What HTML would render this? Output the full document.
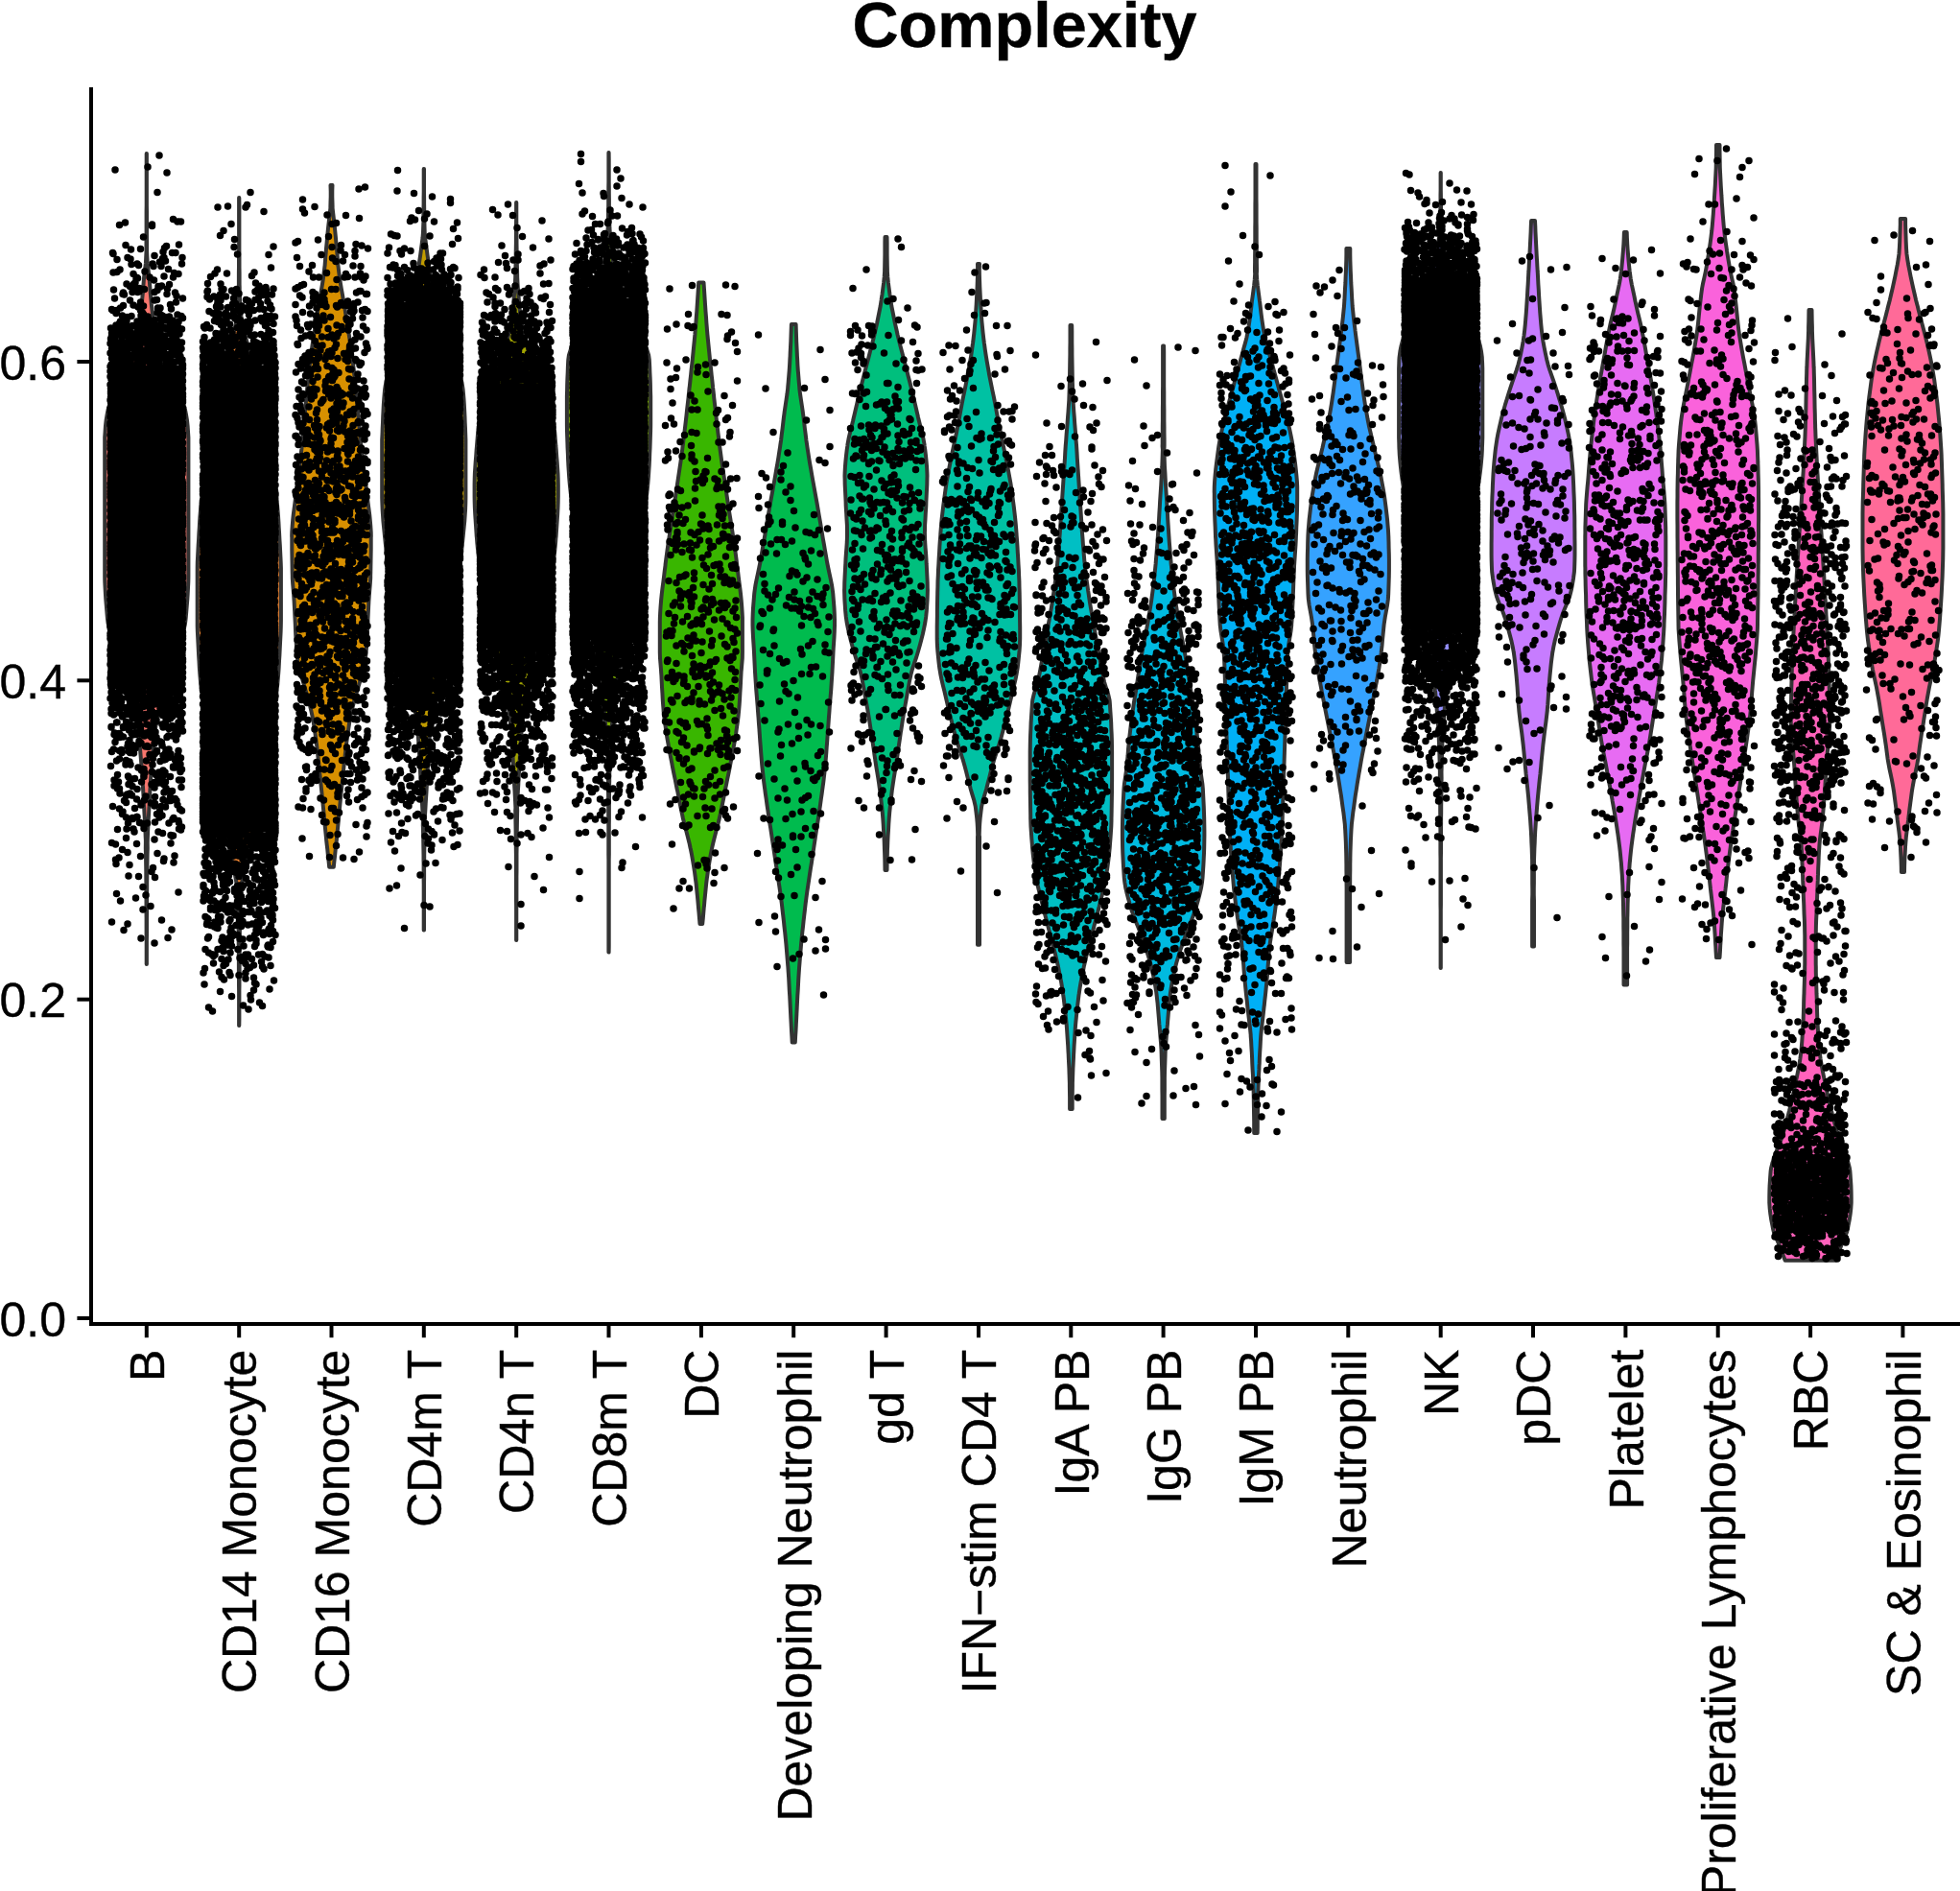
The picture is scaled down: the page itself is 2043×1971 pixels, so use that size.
<!DOCTYPE html>
<html lang="en"><head><meta charset="utf-8"><title>Complexity</title>
<style>html,body{margin:0;padding:0;background:#fff}svg{display:block}text{font-family:"Liberation Sans",sans-serif;fill:#000;stroke:#000;stroke-width:.4px}</style></head><body>
<svg width="2043" height="1971" viewBox="0 0 2043 1971">
<rect width="2043" height="1971" fill="#fff"/>
<g stroke="#333" stroke-width="4.0" stroke-linejoin="round">
<path fill="#F8766D" d="M152.7 160l0 6l0 6.1l0 6l0 6l0 6.1l0 6l0 6l0 6.1l0 6l-0.1 6.1l0 6l0 6l0 6.1l0 6l-0.1 6l0 6.1l0 5.4l0 0.6l-0.3 6l-0.3 6.1l-0.8 6l-0.7 6.1l-0.4 3.2l-0.2 2.8l-0.5 6l-0.4 6.1l-0.6 6l-0.3 3.1l-0.2 2.9l-0.7 6.1l-0.7 6l-0.8 6l-0.9 6.1l-0.7 3.9l-0.3 2.1l-1.1 6l-1.3 6.1l-1.5 6l-1.6 6l-1.2 3.8l-0.7 2.3l-2.3 6l-2.7 6.1l-2.9 6l-3.1 6l-2.3 4.6l-0.7 1.5l-3.6 6l-3.6 6l-2.1 5.5l-0.1 0.6l-1.2 6l-1 6l-0.7 6.1l-0.4 6l0 0.3l-0.4 5.8l0 6l0 6l0 6.1l0 6l0 6l0 6.1l0 6l0 6l0 6.1l0 6l0 6l0 6.1l0 6l0 6l0 6.1l0 6l0 6.1l0 1.6l0 4.4l0 6l0 6.1l0 6l0 6l0 6.1l0 5.4l0 0.6l0.1 6l0.3 6.1l0.3 6l0.4 6.1l0.5 6l0.5 6l0.5 6.1l0.2 2.1l0.5 3.9l1.1 6l1.3 6.1l1.5 6l1.7 6l1.8 6.1l1.7 6l1.4 4.9l0.4 1.1l1.8 6.1l2 6l2.1 6l2.1 6.1l2.1 6l2.1 6.1l1.4 4.6l0.5 1.4l2 6l1.7 6.1l0.4 1.5l0.7 4.5l1 6l0.8 6.1l0.7 6l0.7 6l0.6 6.1l0.5 6l0.5 6.1l0.5 5.2l0 0.8l0.5 6l0.4 6.1l0.3 6l0.4 6l0.3 6.1l0.3 6l0.2 4l0.2 2l0.3 6.1l0.4 6l0.3 6l0.3 6.1l0.2 6l0.2 3.8l0 2.2l-0.1 6.1l0.2 6l0.1 6.1l0.1 6l0.1 6l0 1.6l0 4.5l0.1 6l0 6l0.1 6.1l0 6l0 1.4l0 4.6l0 6.1l0.1 6l0 6.1l0 6l0 6l0.1 6.1l0 6l0 6l0 6.1l0 6l0.2 0l0-6l0-6.1l0-6l0-6l0.1-6.1l0-6l0-6l0-6.1l0.1-6l0-6.1l0-4.6l0-1.4l0-6l0.1-6.1l0-6l0.1-6l0-4.5l0-1.6l0.1-6l0.1-6l0.1-6.1l0.2-6l-0.1-6.1l0.1-2.2l0.1-3.8l0.2-6l0.3-6.1l0.3-6l0.4-6l0.3-6.1l0.2-2l0.2-4l0.3-6l0.3-6.1l0.4-6l0.3-6l0.4-6.1l0.5-6l0-0.8l0.5-5.2l0.5-6.1l0.5-6l0.6-6.1l0.7-6l0.7-6l0.8-6.1l1-6l0.7-4.5l0.4-1.5l1.7-6.1l2-6l0.5-1.4l1.4-4.6l2.1-6.1l2.1-6l2.1-6.1l2.1-6l2-6l1.8-6.1l0.4-1.1l1.4-4.9l1.7-6l1.8-6.1l1.7-6l1.5-6l1.3-6.1l1.1-6l0.5-3.9l0.2-2.1l0.5-6.1l0.5-6l0.5-6l0.4-6.1l0.3-6l0.3-6.1l0.1-6l0-0.6l0-5.4l0-6.1l0-6l0-6l0-6.1l0-6l0-4.4l0-1.6l0-6.1l0-6l0-6.1l0-6l0-6l0-6.1l0-6l0-6l0-6.1l0-6l0-6l0-6.1l0-6l0-6l0-6.1l0-6l0-6l-0.4-5.8l0-0.3l-0.4-6l-0.7-6.1l-1-6l-1.2-6l-0.1-0.6l-2.1-5.5l-3.6-6l-3.6-6l-0.7-1.5l-2.3-4.6l-3.1-6l-2.9-6l-2.7-6.1l-2.3-6l-0.7-2.3l-1.2-3.8l-1.6-6l-1.5-6l-1.3-6.1l-1.1-6l-0.3-2.1l-0.7-3.9l-0.9-6.1l-0.8-6l-0.7-6l-0.7-6.1l-0.2-2.9l-0.3-3.1l-0.6-6l-0.4-6.1l-0.5-6l-0.2-2.8l-0.4-3.2l-0.7-6.1l-0.8-6l-0.3-6.1l-0.3-6l0-0.6l0-5.4l0-6.1l-0.1-6l0-6l0-6.1l0-6l0-6l-0.1-6.1l0-6l0-6.1l0-6l0-6l0-6.1l0-6l0-6l0-6.1l0-6z"/>
<path fill="#EA8331" d="M249.1 206l0 6l0 6.1l0 6l0 6l0 6.1l0 6l0 6l0 6.1l0 6l-0.1 6l0 6.1l0 6l-0.1 6.1l0 6l0 6l0 2.5l-0.1 3.6l-0.2 6l-0.2 6l-0.5 6.1l-0.6 6l-0.3 3.3l-0.4 2.7l-1.1 6.1l-1.4 6l-1.6 6l0 0.2l-1.6 5.9l-1.8 6l-1.9 6l-2.1 6.1l-2 6l-1.9 6l-1.9 6.1l-1.6 6l-0.2 0.9l-1.2 5.2l-1.4 6l-1.4 6l-1.3 6.1l-1.2 6l-1.1 6l-1.1 6.1l-0.9 6l-0.4 2.6l-0.5 3.4l-0.8 6.1l-0.7 6l-0.7 6l-0.6 6.1l-0.6 6l-0.6 6l-0.6 6.1l-0.4 4.3l-0.2 1.7l-0.6 6l-0.6 6.1l-0.5 6l-0.6 6.1l-0.5 6l-0.5 6l-0.4 6.1l-0.1 2l-0.2 4l-0.4 6l-0.3 6.1l-0.4 6l-0.3 6l-0.3 6.1l-0.3 6l-0.1 6l0 6.1l0 6l0 6l0 6.1l0 3.6l0 2.4l0 6l0 6.1l0 6l0 6.1l0 6l0.2 6l0.3 6.1l0.3 6l0.3 6l0.3 6.1l0.4 6l0.3 6l0.2 3.2l0.2 2.9l0.5 6l0.5 6l0.7 6.1l0.7 6l0.8 6l0.7 6.1l0.4 2.9l0.4 3.1l0.8 6l0.8 6.1l0.8 6l0.9 6.1l0.9 6l1 6l0.9 6.1l1 6l1.1 6l0.4 2.6l0.6 3.5l1.1 6l1.2 6l1.2 6.1l1.2 6l1.3 6l1.2 6.1l1.3 6l0.9 4.3l0.4 1.7l1.3 6.1l1.4 6l1.3 6l1.4 6.1l1.3 6l1.3 6.1l0.6 3l0.6 3l1.3 6l1.3 6.1l1.3 6l1.1 6l1 6.1l0.8 6l0.4 6l0 0.8l0.1 5.3l-0.1 6l0.1 6l0.1 6.1l0.1 6l0 6l0.1 6.1l0 6l0.1 6l0 6.1l0.1 2.4l0 3.6l0 6.1l0 6l0.1 6l0 6.1l0.1 6l0 6l0 6.1l0 6l0 6l0 6.1l0 6l0.2 0l0.1-6l0-6.1l0-6l0-6l0-6.1l0-6l0.1-6l0-6.1l0.1-6l0-6l0-6.1l0.1-3.6l0-2.4l0-6.1l0.1-6l0-6l0.1-6.1l0-6l0.1-6l0.1-6.1l0.1-6l-0.1-6l0.1-5.3l0-0.8l0.4-6l0.8-6l1-6.1l1.1-6l1.3-6l1.3-6.1l1.3-6l0.6-3l0.6-3l1.3-6.1l1.3-6l1.4-6.1l1.3-6l1.4-6l1.3-6.1l0.4-1.7l0.9-4.3l1.3-6l1.2-6.1l1.3-6l1.2-6l1.2-6.1l1.2-6l1.1-6l0.6-3.5l0.4-2.6l1.1-6l1-6l0.9-6.1l1-6l0.9-6l0.9-6.1l0.8-6l0.8-6.1l0.8-6l0.4-3.1l0.4-2.9l0.7-6.1l0.8-6l0.7-6l0.7-6.1l0.5-6l0.5-6l0.2-2.9l0.2-3.2l0.3-6l0.4-6l0.3-6.1l0.3-6l0.3-6l0.3-6.1l0.2-6l0.1-6l0-6.1l0-6l0-6.1l0-6l0-2.4l0-3.6l0-6.1l0-6l0-6l0-6.1l-0.2-6l-0.3-6l-0.3-6.1l-0.3-6l-0.4-6l-0.3-6.1l-0.4-6l-0.2-4l-0.1-2l-0.4-6.1l-0.5-6l-0.5-6l-0.6-6.1l-0.5-6l-0.6-6.1l-0.6-6l-0.2-1.7l-0.4-4.3l-0.6-6.1l-0.6-6l-0.6-6l-0.6-6.1l-0.7-6l-0.7-6l-0.8-6.1l-0.5-3.4l-0.4-2.6l-0.9-6l-1.1-6.1l-1.1-6l-1.2-6l-1.3-6.1l-1.4-6l-1.4-6l-1.2-5.2l-0.2-0.9l-1.6-6l-1.9-6.1l-1.9-6l-2-6l-2.1-6.1l-1.9-6l-1.8-6l-1.6-5.9l0-0.2l-1.6-6l-1.4-6l-1.1-6.1l-0.4-2.7l-0.3-3.3l-0.6-6l-0.5-6.1l-0.2-6l-0.2-6l0-3.6l-0.1-2.5l0-6l0-6l-0.1-6.1l0-6l0-6.1l-0.1-6l0-6l0-6.1l0-6l0-6l0-6.1l0-6l0-6l0-6.1l-0.1-6z"/>
<path fill="#D89000" d="M344.5 193l0.2 6l0 6l-0.2 6.1l-0.1 3.9l0 2.1l-0.7 6l-0.7 6l-0.2 1.9l-0.5 4.2l-0.6 6l-0.6 6l-0.5 6l-0.6 6.1l-0.5 6l-0.3 2.7l-0.2 3.3l-0.4 5.7l-0.1 0.3l-0.7 6l-0.8 6.1l-0.9 6l-1 6l-1.1 6l-1 6.1l-1.1 6l-0.9 5.5l0 0.5l-1 6l-0.9 6l-1 6.1l-1 6l-0.9 6l-0.9 6l-0.9 6.1l-0.6 5.3l-0.1 0.7l-0.8 6l-0.7 6l-0.6 6.1l-0.6 6l-0.7 6l-0.5 6l-0.6 6l-0.4 4.2l-0.2 1.9l-0.6 6l-0.5 6l-0.6 6l-0.5 6.1l-0.5 6l-0.6 6l-0.5 6l-0.4 4l-0.3 2.1l-0.7 6l-0.7 6l-0.8 6l-0.8 6l-0.8 6.1l-0.8 6l-0.7 6l0 0.8l-0.7 5.2l-0.7 6.1l-0.8 6l-0.8 6l-0.6 6l-0.5 6.1l-0.4 6l-0.1 4.6l0.1 1.4l0 6l0 6l0.1 6.1l0.1 6l0.1 6l0.1 6l0.1 3.5l0 2.6l0.4 6l0.5 6l0.5 6l0 0.4l0.4 5.6l0.3 6.1l0.3 6l0.3 6l0.3 6l0.2 6.1l0.3 6l0.4 6l0.3 6l0.5 6.1l0.6 6l0.6 6l0.5 4.1l0.5 1.9l2.3 6l0.8 2.1l1.2 4l1.8 6l1.8 6l1.7 6l1.6 6.1l1.5 6l1.3 6l1.1 5.9l0 0.1l0.9 6.1l0.9 6l0.8 6l0.8 6l0.7 6l0.6 6.1l0.7 6l0.6 6l0.6 6l0.7 6.1l0.1 1.6l0.5 4.4l0.6 6l0.6 6l0.6 6l0.6 6.1l0.6 6l0.5 6l0.6 6l0.6 6.1l0.6 6l0.2 2.4l0.4 3.6l0.7 6l0.6 6.1l0.7 6l0.6 6l4.6 0l0.6-6l0.7-6l0.6-6.1l0.7-6l0.4-3.6l0.2-2.4l0.6-6l0.6-6.1l0.6-6l0.5-6l0.6-6l0.6-6.1l0.6-6l0.6-6l0.6-6l0.5-4.4l0.1-1.6l0.7-6.1l0.6-6l0.6-6l0.7-6l0.6-6.1l0.7-6l0.8-6l0.8-6l0.9-6l0.9-6.1l0-0.1l1.1-5.9l1.3-6l1.5-6l1.6-6.1l1.7-6l1.8-6l1.8-6l1.2-4l0.8-2.1l2.3-6l0.5-1.9l0.5-4.1l0.6-6l0.6-6l0.5-6.1l0.3-6l0.4-6l0.3-6l0.2-6.1l0.3-6l0.3-6l0.3-6l0.3-6.1l0.4-5.6l0-0.4l0.5-6l0.5-6l0.4-6l0-2.6l0.1-3.5l0.1-6l0.1-6l0.1-6l0.1-6.1l0-6l0-6l0.1-1.4l-0.1-4.6l-0.4-6l-0.5-6.1l-0.6-6l-0.8-6l-0.8-6l-0.7-6.1l-0.7-5.2l0-0.8l-0.7-6l-0.8-6l-0.8-6.1l-0.8-6l-0.8-6l-0.7-6l-0.7-6l-0.3-2.1l-0.4-4l-0.5-6l-0.6-6l-0.5-6l-0.5-6.1l-0.6-6l-0.5-6l-0.6-6l-0.2-1.9l-0.4-4.2l-0.6-6l-0.5-6l-0.7-6l-0.6-6l-0.6-6.1l-0.7-6l-0.8-6l-0.1-0.7l-0.6-5.3l-0.9-6.1l-0.9-6l-0.9-6l-1-6l-1-6.1l-0.9-6l-1-6l0-0.5l-0.9-5.5l-1.1-6l-1-6.1l-1.1-6l-1-6l-0.9-6l-0.8-6.1l-0.7-6l-0.1-0.3l-0.4-5.7l-0.2-3.3l-0.3-2.7l-0.5-6l-0.6-6.1l-0.5-6l-0.6-6l-0.6-6l-0.5-4.2l-0.2-1.9l-0.7-6l-0.7-6l0-2.1l-0.1-3.9l-0.2-6.1l0-6l0.2-6z"/>
<path fill="#C09B00" d="M441.7 176l0 6l0 6l0 6l0 6l-0.1 6.1l0 6l-0.1 6l-0.1 6l0 6l0 0.9l-0.2 5.1l-0.2 6l-0.5 6l-0.8 6.1l-0.8 6l-0.8 6l-0.9 6l-0.6 4.8l-0.2 1.2l-0.8 6l-0.8 6l-1 6l-0.7 3.8l-0.4 2.3l-1.3 6l-1.4 6l-1.5 6l-1.6 6l-1.7 6l-1.7 6l-1.7 6l-1.7 5.7l-0.1 0.4l-2 6l-2.3 6l-2.5 6l-2.5 6l-2.5 6l-2.3 6l-2 6l-1.6 6l-1 6.1l-0.2 1.5l-0.4 4.5l-0.5 6l-0.4 6l-0.3 6l-0.3 6l-0.2 6l-0.3 6l-0.1 3.5l-0.1 2.6l-0.3 6l0 6l0 6l0 6l0 6l0 0.4l0 5.6l0 6l0 6.1l0 6l0 6l0 6l0.2 6l0.2 5.3l0 0.7l0.4 6l0.4 6l0.6 6.1l0.6 6l0.5 5.2l0.1 0.8l0.6 6l0.6 6l0.6 6l0.7 6l0.7 6l0.7 6l0.7 6.1l0.8 6l0.8 6l0.7 5.1l0.1 0.9l0.9 6l0.9 6l0.9 6l1 6l1 6.1l1 6l1.1 6l1.1 6l1.1 6l1.1 6l1.2 6l1.2 6l1.2 6.1l0.2 0.9l1.1 5.1l1.5 6l1.7 6l1.7 6l1.6 6l1.6 6l1.4 6l1.1 6.1l0.8 5.8l0 0.2l0.6 6l0.5 6l0.4 6l0.4 6l0.4 6l0.3 6l0.3 6l0.4 6.1l0.3 6l0.3 6l0.1 1.7l0.3 4.3l0.3 6l0.4 6l0.4 6l0.3 6l0.4 6.1l0.2 6l-0.1 5.6l0.1 0.4l0.1 6l0.2 6l0.1 6l0.1 6l0.1 6l0 6.1l0.1 2.5l0 3.5l0 6l0 6l0.1 6l0 6l0 6l0 6l0 6.1l0 6l0 6l0 6l0 6l0.3 0l0-6l0-6l0-6l0-6l0-6.1l0-6l0-6l0-6l0.1-6l0-6l0-6l0.1-3.5l0-2.5l0-6.1l0.1-6l0.1-6l0.1-6l0.2-6l0.1-6l0-0.4l0-5.6l0.2-6l0.4-6.1l0.3-6l0.4-6l0.4-6l0.3-6l0.3-4.3l0.1-1.7l0.3-6l0.3-6l0.4-6.1l0.3-6l0.3-6l0.4-6l0.4-6l0.4-6l0.5-6l0.6-6l0-0.2l0.8-5.8l1.1-6.1l1.4-6l1.6-6l1.6-6l1.7-6l1.7-6l1.5-6l1.1-5.1l0.2-0.9l1.2-6.1l1.2-6l1.2-6l1.1-6l1.1-6l1.1-6l1.1-6l1-6l1-6.1l1-6l0.9-6l0.9-6l0.9-6l0.1-0.9l0.7-5.1l0.8-6l0.8-6l0.7-6.1l0.7-6l0.7-6l0.7-6l0.6-6l0.6-6l0.6-6l0.1-0.8l0.5-5.2l0.6-6l0.6-6.1l0.4-6l0.4-6l0-0.7l0.2-5.3l0.1-6l0-6l0-6l0-6l0-6.1l0-6l0-5.6l0-0.4l0-6l0-6l0-6l0-6l-0.2-6l-0.1-2.6l-0.1-3.5l-0.3-6l-0.2-6l-0.3-6l-0.3-6l-0.4-6l-0.5-6l-0.4-4.5l-0.2-1.5l-1-6.1l-1.6-6l-2-6l-2.3-6l-2.5-6l-2.5-6l-2.5-6l-2.3-6l-2-6l-0.1-0.4l-1.7-5.7l-1.7-6l-1.7-6l-1.7-6l-1.6-6l-1.5-6l-1.4-6l-1.3-6l-0.4-2.3l-0.7-3.8l-1-6l-0.8-6l-0.8-6l-0.2-1.2l-0.6-4.8l-0.9-6l-0.8-6l-0.8-6l-0.8-6.1l-0.5-6l-0.2-6l-0.1-5.1l-0.1-0.9l0-6l-0.1-6l-0.1-6l0-6l-0.1-6.1l0-6l0-6l0-6l0-6z"/>
<path fill="#A3A500" d="M538.1 211l0 6l0 6l0 6l-0.1 6l0 6l-0.1 6l0 6.1l-0.1 6l-0.1 6l0 2.9l0 3.1l-0.2 6l-0.2 6l-0.1 6l-0.3 6l-0.4 6l-0.5 6l-0.5 6l-0.5 6l-0.6 6l-0.4 3.9l-0.3 2.2l-1 6l-1.2 6l-1.5 6l-1.6 6l-1.7 6l-1.7 6l-0.6 1.8l-1.2 4.2l-2.1 6l-2.4 6l-2.5 6l-2.6 6l-2.6 6l-2.5 6.1l-2.4 6l-2.2 6l-1.8 6l-1.5 6l-0.6 3.7l-0.4 2.3l-0.8 6l-0.7 6l-0.5 6l-0.5 6l-0.1 1.7l-0.4 4.3l-0.4 6l-0.5 6.1l-0.4 6l-0.4 6l-0.2 6l-0.1 6l0 4.6l0 1.4l0 6l0.1 6l0.2 6l0.3 6l0.4 6l0.4 6l0.4 6l0.4 6.1l0.2 1.5l0.3 4.5l0.6 6l0.6 6l0.7 6l0.8 6l0.8 6l0.6 4.5l0.3 1.5l0.9 6l0.9 6l1.1 6l1.1 6l1.1 6l1.2 6.1l0.4 2.4l0.8 3.6l1.3 6l1.3 6l1.4 6l1.5 6l1.5 6l1.4 6l1.5 6l1.3 6l1.4 6l0.6 3.4l0.6 2.6l1.3 6l1.2 6.1l1.3 6l1.2 6l1.2 6l1 6l0.9 6l0.7 6l0.2 1.3l0.4 4.7l0.5 6l0.4 6l0.5 6l0.3 6l0.4 6.1l0.3 6l0.3 6l0.4 6l0.3 6l0.2 3.2l0.1 2.8l0.4 6l0.3 6l0.3 6l0.3 6l-0.2 3.2l0.1 2.8l0.1 6l0.1 6l0.1 6.1l0.1 6l0.1 6l0 6l0.1 6l0 6l0 1.1l0 4.9l0 6l0.1 6l0 6l0 6l0 6l0 6l0.1 6.1l0 6l0 6l0 6l0 6l0 6l0 6l0.2 0l0-6l0-6l0-6l0-6l0-6l0-6l0.1-6.1l0-6l0-6l0-6l0-6l0.1-6l0-6l0-4.9l0-1.1l0-6l0.1-6l0-6l0.1-6l0.1-6l0.1-6.1l0.1-6l0.1-6l0.1-2.8l-0.2-3.2l0.3-6l0.3-6l0.3-6l0.4-6l0.1-2.8l0.2-3.2l0.3-6l0.4-6l0.3-6l0.3-6l0.4-6.1l0.3-6l0.5-6l0.4-6l0.5-6l0.4-4.7l0.2-1.3l0.7-6l0.9-6l1-6l1.2-6l1.2-6l1.3-6l1.2-6.1l1.3-6l0.6-2.6l0.6-3.4l1.4-6l1.3-6l1.5-6l1.4-6l1.5-6l1.5-6l1.4-6l1.3-6l1.3-6l0.8-3.6l0.4-2.4l1.2-6.1l1.1-6l1.1-6l1.1-6l0.9-6l0.9-6l0.3-1.5l0.6-4.5l0.8-6l0.8-6l0.7-6l0.6-6l0.6-6l0.3-4.5l0.2-1.5l0.4-6.1l0.4-6l0.4-6l0.4-6l0.3-6l0.2-6l0.1-6l0-6l0-1.4l0-4.6l-0.1-6l-0.2-6l-0.4-6l-0.4-6l-0.5-6.1l-0.4-6l-0.4-4.3l-0.1-1.7l-0.5-6l-0.5-6l-0.7-6l-0.8-6l-0.4-2.3l-0.6-3.7l-1.5-6l-1.8-6l-2.2-6l-2.4-6l-2.5-6.1l-2.6-6l-2.6-6l-2.5-6l-2.4-6l-2.1-6l-1.2-4.2l-0.6-1.8l-1.7-6l-1.7-6l-1.6-6l-1.5-6l-1.2-6l-1-6l-0.3-2.2l-0.4-3.9l-0.6-6l-0.5-6l-0.5-6l-0.5-6l-0.4-6l-0.3-6l-0.1-6l-0.2-6l-0.2-6l0-3.1l0-2.9l-0.1-6l-0.1-6l0-6.1l-0.1-6l0-6l-0.1-6l0-6l0-6l0-6z"/>
<path fill="#7CAE00" d="M634.4 159l0 6l0 6.1l0 6l0 6.1l0 6l-0.1 6l0 6.1l-0.1 6l0 6.1l-0.1 6l-0.1 2.6l0 3.4l-0.2 6.1l-0.1 6l-0.5 6.1l-0.5 6l-0.5 6l-0.4 4.4l-0.2 1.7l-0.6 6l-0.8 6.1l-0.9 6l-1 6.1l-1.2 6l-1.3 6l-1 4.1l-0.5 2l-2.2 6l-2.8 6.1l-3.2 6l-3.3 6l-3.2 6.1l-2.8 5.8l-0.1 0.2l-2.9 6.1l-3.2 6l-3.2 6l-2.6 6.1l-1.9 6l-0.6 4.6l-0.1 1.5l-0.3 6l-0.2 6l-0.3 6.1l-0.2 6l-0.1 6.1l-0.2 6l0 6l0 6.1l0 5.2l0 0.8l0 6.1l0 6l0.1 6l0.2 6.1l0.2 6l0.2 6.1l0.3 6l0.2 6.1l0.2 3.8l0.1 2.2l0.4 6l0.4 6.1l0.5 6l0.6 6.1l0.7 6l0.7 6l0.7 6.1l0.8 6l0.8 6.1l0.8 6l0.9 6l0.8 6.1l0.3 2.3l0.5 3.7l0.9 6.1l0.9 6l1 6l1.1 6.1l1 6l1.1 6.1l1 6l1.1 6l1.1 6.1l0.3 1.9l0.7 4.1l1.1 6.1l1.1 6l1.1 6l1.1 6.1l1.1 6l1 6.1l1.1 6l1 6l0.7 4.6l0.2 1.5l1 6l0.9 6.1l0.9 6l0.9 6.1l0.9 6l0.8 6l0.8 6.1l0.8 6l0.8 6.1l0.6 6l0.7 6l0.2 2.1l0.4 4l0.6 6l0.5 6.1l0.6 6l0.4 6l0.4 6.1l0.1 2.8l0.1 3.2l0.3 6.1l-0.1 6l0.2 6l0.1 6.1l0 3.6l0.1 2.4l0 6.1l0.1 6l0 6l0.1 6.1l0 6l0 6.1l0.1 6l0 6l0 6.1l0 6l0 6.1l0 6l0 1.1l0.1 5l0 6l0 6l0 6.1l0 6l0 6.1l0 6l0 6l0 6.1l0 6l0 6.1l0 6l0 6l0 6.1l0 6l0 6.1l0 6l0.2 0l0.1-6l0-6.1l0-6l0-6.1l0-6l0-6l0-6.1l0-6l0-6.1l0-6l0-6l0-6.1l0-6l0-6.1l0-6l0-6l0.1-5l0-1.1l0-6l0-6.1l0-6l0-6.1l0-6l0.1-6l0-6.1l0-6l0.1-6.1l0-6l0.1-6l0-6.1l0.1-2.4l0-3.6l0.1-6.1l0.2-6l-0.1-6l0.3-6.1l0.1-3.2l0.1-2.8l0.4-6.1l0.4-6l0.6-6l0.5-6.1l0.6-6l0.4-4l0.2-2.1l0.7-6l0.6-6l0.8-6.1l0.8-6l0.8-6.1l0.8-6l0.9-6l0.9-6.1l0.9-6l0.9-6.1l1-6l0.2-1.5l0.7-4.6l1-6l1.1-6l1-6.1l1.1-6l1.1-6.1l1.1-6l1.1-6l1.1-6.1l0.7-4.1l0.3-1.9l1.1-6.1l1.1-6l1-6l1.1-6.1l1-6l1.1-6.1l1-6l0.9-6l0.9-6.1l0.5-3.7l0.3-2.3l0.8-6.1l0.9-6l0.8-6l0.8-6.1l0.8-6l0.7-6.1l0.7-6l0.7-6l0.6-6.1l0.5-6l0.4-6.1l0.4-6l0.1-2.2l0.2-3.8l0.2-6.1l0.3-6l0.2-6.1l0.2-6l0.2-6.1l0.1-6l0-6l0-6.1l0-0.8l0-5.2l0-6.1l0-6l-0.2-6l-0.1-6.1l-0.2-6l-0.3-6.1l-0.2-6l-0.3-6l-0.1-1.5l-0.6-4.6l-1.9-6l-2.6-6.1l-3.2-6l-3.2-6l-2.9-6.1l-0.1-0.2l-2.8-5.8l-3.2-6.1l-3.3-6l-3.2-6l-2.8-6.1l-2.2-6l-0.5-2l-1-4.1l-1.3-6l-1.2-6l-1-6.1l-0.9-6l-0.8-6.1l-0.6-6l-0.2-1.7l-0.4-4.4l-0.5-6l-0.5-6l-0.5-6.1l-0.1-6l-0.2-6.1l-0.1-3.4l0-2.6l-0.1-6l0-6.1l-0.1-6l0-6.1l-0.1-6l0-6l0-6.1l0-6l0-6.1l-0.1-6z"/>
<path fill="#39B600" d="M728.2 294.5l-0.3 6l-0.4 6l-0.4 6.1l-0.4 6l-0.4 6l-0.5 6l-0.4 6.1l-0.5 6l-0.1 0.3l-0.4 5.7l-0.6 6l-0.6 6l-0.6 6.1l-0.6 6l-0.6 6l-0.7 6l-0.6 6.1l-0.7 6l-0.6 6l-0.2 1.1l-0.5 4.9l-0.6 6.1l-0.7 6l-0.7 6l-0.6 6l-0.7 6l-0.7 6.1l-0.7 6l-0.8 6l-0.7 6l-0.3 1.9l-0.5 4.2l-0.8 6l-0.8 6l-0.9 6l-0.9 6l-0.9 6.1l-0.9 6l-0.9 6l-0.9 6l-0.9 6.1l-0.6 3.6l-0.3 2.4l-0.9 6l-1 6l-0.9 6l-1 6.1l-0.9 6l-0.9 6l-0.9 6l-0.8 6.1l-0.8 6l-0.6 4.4l-0.1 1.6l-0.8 6l-0.7 6l-0.8 6.1l-0.8 6l-0.7 6l-0.6 6l-0.5 6.1l-0.4 6l-0.3 6l-0.1 5.2l0 0.8l0 6.1l0 6l0 6l0 6l0 6l0 0.1l0.2 6l0.5 6l0.5 6l0.1 2l0.3 4l0.3 6.1l0.3 6l0.4 6l0.3 6l0.4 6l0.5 6.1l0 0.8l0.6 5.2l0.7 6l0.9 6l0.3 2.8l0.5 3.3l1 6l1.1 6l1.1 6l1.1 6l1.2 6.1l1 5.6l0.1 0.4l1.2 6l1.3 6l1.2 6.1l0.9 4.5l0.4 1.5l1.1 6l1.2 6l1.2 6l1.3 6.1l0.9 4.4l0.4 1.6l1.5 6l1.6 6l1.6 6.1l1.5 6l1.1 5.3l0.2 0.7l1.2 6l1.1 6.1l1 6l0.9 6l0.8 6l0 0.2l0.8 5.8l0.6 6.1l0.6 6l0.6 6l0.5 6l0 0.1l0.6 6l0.5 6l0.5 6l2.7 0l0.6-6l0.5-6l0.5-6l0.1-0.1l0.5-6l0.6-6l0.6-6l0.6-6.1l0.7-5.8l0.1-0.2l0.8-6l0.9-6l1-6l1.1-6.1l1.2-6l0.1-0.7l1.2-5.3l1.5-6l1.6-6.1l1.6-6l1.5-6l0.3-1.6l1-4.4l1.3-6.1l1.2-6l1.2-6l1.1-6l0.3-1.5l1-4.5l1.2-6.1l1.3-6l1.2-6l0-0.4l1.1-5.6l1.2-6.1l1.1-6l1.1-6l1.1-6l1-6l0.4-3.3l0.4-2.8l0.9-6l0.7-6l0.5-5.2l0.1-0.8l0.5-6.1l0.4-6l0.3-6l0.4-6l0.3-6l0.3-6.1l0.2-4l0.2-2l0.5-6l0.5-6l0.1-6l0-0.1l0-6l0-6l0-6l0-6l0-6.1l0-0.8l0-5.2l-0.3-6l-0.4-6l-0.5-6.1l-0.6-6l-0.7-6l-0.8-6l-0.8-6.1l-0.7-6l-0.8-6l-0.2-1.6l-0.5-4.4l-0.8-6l-0.8-6.1l-0.9-6l-0.9-6l-0.9-6l-1-6.1l-0.9-6l-1-6l-0.9-6l-0.4-2.4l-0.5-3.6l-0.9-6.1l-0.9-6l-0.9-6l-0.9-6l-0.9-6.1l-0.9-6l-0.9-6l-0.8-6l-0.8-6l-0.6-4.2l-0.2-1.9l-0.7-6l-0.8-6l-0.7-6l-0.7-6.1l-0.7-6l-0.6-6l-0.7-6l-0.7-6l-0.6-6.1l-0.6-4.9l-0.1-1.1l-0.6-6l-0.7-6l-0.6-6.1l-0.7-6l-0.6-6l-0.6-6l-0.6-6.1l-0.6-6l-0.6-6l-0.5-5.7l0-0.3l-0.5-6l-0.4-6.1l-0.5-6l-0.4-6l-0.4-6l-0.4-6.1l-0.4-6l-0.4-6z"/>
<path fill="#00BB4E" d="M824.9 338l-0.2 6l-0.2 6.1l-0.2 6l-0.3 6l-0.3 6.1l-0.1 2.8l-0.2 3.2l-0.3 6.1l-0.4 6l-0.5 6l-0.5 6.1l-0.5 5.6l0 0.4l-0.7 6l-0.9 6.1l-0.9 6l-0.9 6l-0.3 2.5l-0.5 3.6l-0.7 6l-0.7 6.1l-0.8 6l-0.7 6l-0.9 6.1l0 0.2l-0.9 5.8l-0.9 6l-1 6.1l-1.1 6l-1 6l-1.1 6.1l-1.1 6l-1.1 6.1l-1.1 6l-1.1 6l-0.3 1.9l-0.7 4.2l-1 6l-1.1 6l-1 6.1l-1 6l-1 6l-1.1 6.1l-1 6l-1.1 6.1l-1 6l-0.5 2.5l-0.7 3.5l-1.3 6.1l-1.3 6l-1.2 6l-0.9 6.1l-0.4 3.3l-0.2 2.7l-0.5 6l-0.5 6.1l-0.3 6l-0.2 6.1l0 3.1l0 2.9l0.2 6l0.3 6.1l0.4 6l0.4 6l0.2 4l0.1 2.1l0.3 6l0.3 6l0.3 5.9l0 0.2l0.4 6l0.4 6l0.4 6.1l0.5 6l0.5 6.1l0.5 6l0.3 4.6l0.1 1.4l0.5 6.1l0.4 6l0.5 6l0 0.5l0.4 5.6l0.4 6l0.5 6l0.4 6.1l0.5 6l0.5 6.1l0.3 3.2l0.3 2.8l0.7 6l0.7 6.1l0.8 6l0.3 2.1l0.5 3.9l0.9 6.1l0.8 6l0.9 6l0.9 6.1l0.9 6l1 6.1l0.9 6l0.9 6l0.9 6.1l0.4 2.7l0.5 3.3l0.9 6l0.9 6.1l1 6l0.9 6l0.9 6.1l0.9 6l0.9 6.1l0.8 6l0.8 6l0.4 3.4l0.3 2.7l0.7 6l0.7 6l0.6 6.1l0.7 6l0.6 6l0.6 6.1l0.5 6l0.5 6.1l0.5 6l0.4 5l0.1 1l0.4 6.1l0.4 6l0.3 6l0.3 6.1l0.4 6l0.3 6l0.3 6.1l0.3 6l0.3 6.1l0.3 5.6l0 0.4l0.3 6l0.4 6.1l0.3 6l3.1 0l0.3-6l0.4-6.1l0.3-6l0-0.4l0.3-5.6l0.3-6.1l0.3-6l0.3-6.1l0.3-6l0.4-6l0.3-6.1l0.3-6l0.4-6l0.4-6.1l0.1-1l0.4-5l0.5-6l0.5-6.1l0.5-6l0.6-6.1l0.6-6l0.7-6l0.6-6.1l0.7-6l0.7-6l0.3-2.7l0.4-3.4l0.8-6l0.8-6l0.9-6.1l0.9-6l0.9-6.1l0.9-6l1-6l0.9-6.1l0.9-6l0.5-3.3l0.4-2.7l0.9-6.1l0.9-6l0.9-6l1-6.1l0.9-6l0.9-6.1l0.9-6l0.8-6l0.9-6.1l0.5-3.9l0.3-2.1l0.8-6l0.7-6.1l0.7-6l0.3-2.8l0.3-3.2l0.5-6.1l0.5-6l0.4-6.1l0.5-6l0.4-6l0.4-5.6l0-0.5l0.5-6l0.4-6l0.5-6.1l0.1-1.4l0.3-4.6l0.5-6l0.5-6.1l0.5-6l0.4-6.1l0.4-6l0.4-6l0-0.2l0.3-5.9l0.3-6l0.3-6l0.1-2.1l0.2-4l0.4-6l0.4-6l0.3-6.1l0.2-6l0-2.9l0-3.1l-0.2-6.1l-0.3-6l-0.5-6.1l-0.5-6l-0.2-2.7l-0.4-3.3l-0.9-6.1l-1.2-6l-1.3-6l-1.3-6.1l-0.7-3.5l-0.5-2.5l-1-6l-1.1-6.1l-1-6l-1.1-6.1l-1-6l-1-6l-1-6.1l-1.1-6l-1-6l-0.7-4.2l-0.3-1.9l-1.1-6l-1.1-6l-1.1-6.1l-1.1-6l-1.1-6.1l-1-6l-1.1-6l-1-6.1l-0.9-6l-0.9-5.8l0-0.2l-0.9-6.1l-0.7-6l-0.8-6l-0.7-6.1l-0.7-6l-0.5-3.6l-0.3-2.5l-0.9-6l-0.9-6l-0.9-6.1l-0.7-6l0-0.4l-0.5-5.6l-0.5-6.1l-0.5-6l-0.4-6l-0.3-6.1l-0.2-3.2l-0.1-2.8l-0.3-6.1l-0.3-6l-0.2-6l-0.2-6.1l-0.2-6z"/>
<path fill="#00BF7D" d="M922.5 247l-0.1 6l0 6l0 6l-0.1 6l-0.1 6l-0.1 4l0 2l-0.4 6l-0.6 6l-0.8 6l-0.8 6l-0.8 5l-0.1 1l-0.9 6l-1.2 6l-1.2 6l-1.2 6l-1.4 6l-1.3 6l-1.5 6l-1.5 6l-1.6 6l-1.5 6l-1.6 6l-1.6 6l-1.5 6l-1.6 6l-1.5 6l-0.2 1l-1.3 5l-1.4 6l-1.4 6l-1.4 6l-1.4 6l-0.5 2l-0.9 4l-1.5 6l-1.5 6l-1.4 6l-1.1 6l-0.2 2l-0.6 4l-0.7 6l-0.6 6l-0.5 6l-0.3 6l-0.1 3l0.1 3l0.1 6l0.3 6l0.3 6l0.3 6l0.1 4l0.1 2l0.4 6l0.3 6l0.4 6l0.1 6l0 2l0 4l-0.2 6l-0.4 6l-0.5 6l-0.4 6l-0.2 5l-0.1 1l-0.3 6l-0.3 6l-0.3 6l-0.1 6l-0.1 2l0.1 4l0.2 6l0.4 6l0.4 6l0.3 3l0.3 3l0.9 6l1.2 6l1.3 6l1.5 6l1.6 6l1.7 6l0.3 1l1.5 5l2.1 6l2 6l0.8 3l0.8 3l1.3 6l1.1 6l1.1 6l1 6l0.7 4l0.4 2l1.1 6l1 6l1 6l0.9 6l0.6 4l0.4 2l0.8 6l0.9 6l0.9 6l0.8 6l0.8 5l0.1 1l0.9 6l1 6l1 6l0.9 6l0.8 6l0.8 6l0.7 6l0.7 6l0.6 6l0.5 6l0.4 6l0.3 6l0.4 6l0.3 6l0.2 6l0 1l0.2 5l0.2 6l0.1 6l0.1 6l2 0l0.1-6l0.1-6l0.2-6l0.1-5l0.1-1l0.2-6l0.3-6l0.4-6l0.3-6l0.4-6l0.5-6l0.6-6l0.7-6l0.7-6l0.7-6l0.9-6l0.9-6l1-6l1-6l0.9-6l0.1-1l0.8-5l0.8-6l0.9-6l0.9-6l0.8-6l0.4-2l0.6-4l0.9-6l1-6l1-6l1.1-6l0.4-2l0.7-4l1-6l1.1-6l1.1-6l1.3-6l0.8-3l0.8-3l2-6l2.1-6l1.5-5l0.3-1l1.7-6l1.6-6l1.5-6l1.3-6l1.2-6l0.9-6l0.3-3l0.3-3l0.4-6l0.4-6l0.2-6l0.1-4l-0.1-2l-0.1-6l-0.3-6l-0.3-6l-0.3-6l-0.1-1l-0.2-5l-0.4-6l-0.5-6l-0.4-6l-0.2-6l-0.1-4l0.1-2l0.1-6l0.4-6l0.3-6l0.4-6l0.1-2l0.1-4l0.3-6l0.3-6l0.3-6l0.1-6l0.1-3l-0.1-3l-0.3-6l-0.5-6l-0.6-6l-0.7-6l-0.6-4l-0.2-2l-1.1-6l-1.4-6l-1.5-6l-1.5-6l-1-4l-0.4-2l-1.4-6l-1.4-6l-1.4-6l-1.4-6l-1.3-5l-0.2-1l-1.5-6l-1.6-6l-1.5-6l-1.6-6l-1.6-6l-1.5-6l-1.6-6l-1.5-6l-1.5-6l-1.3-6l-1.4-6l-1.2-6l-1.2-6l-1.2-6l-0.9-6l-0.1-1l-0.8-5l-0.8-6l-0.8-6l-0.6-6l-0.4-6l0-2l-0.1-4l-0.1-6l-0.1-6l0-6l0-6l-0.1-6z"/>
<path fill="#00C1A3" d="M1019 275l0.1 6l-0.1 6l-0.2 6l-0.2 6.1l-0.3 6l-0.3 6l-0.3 6l-0.4 6l-0.2 3.9l-0.1 2.1l-0.5 6l-0.6 6.1l-0.6 6l-0.7 6l-0.6 4.8l-0.2 1.2l-0.8 6l-0.9 6l-1 6l-1.1 6.1l-1 5.7l0 0.3l-1.2 6l-1.2 6l-1.2 6l-1.3 6l-1.1 5.7l-0.1 0.3l-1.1 6.1l-1.1 6l-1.1 6l-1.1 6l-1.2 6l-0.1 0.6l-1.1 5.4l-1.3 6l-1.3 6.1l-1.3 6l-1.2 6l-0.3 1.5l-0.9 4.5l-1.1 6l-1.1 6l-1.1 6l-0.9 6.1l-0.2 1.4l-0.6 4.6l-0.8 6l-0.8 6l-0.7 6l-0.7 6l-0.6 6l-0.5 6.1l-0.4 5.3l0 0.7l-0.5 6l-0.4 6l-0.3 6l-0.4 6l-0.3 6l-0.4 6.1l-0.2 6l-0.3 6l-0.1 6l-0.2 6l0 1.2l-0.1 4.8l-0.1 6l-0.1 6.1l0 6l-0.1 6l-0.1 6l0 6l0 5.1l0 0.9l0.2 6.1l0.4 6l0.6 6l0.6 6l0.6 5l0.1 1l1 6l1.2 6l1.4 6.1l1.5 6l1.4 5.9l0 0.1l1.4 6l1.4 6l1.4 6l1.5 6l1.6 6.1l0.2 0.8l1.4 5.2l1.6 6l1.8 6l1.7 5.8l0.1 0.2l2 6l1.9 5.8l0.1 0.2l1.7 6.1l1.6 6l1.5 6l1.6 6l1.5 6l0.2 0.7l1.6 5.3l1.8 6l1.4 6.1l0.1 0.6l0.7 5.4l0.7 6l0.5 6l0.2 3.6l0.1 2.4l0.2 6l-0.2 1.6l0 4.4l0 6.1l0 6l0 6l0 6l0 6l0 6l0 6l0 1.5l0 4.6l0 6l0 6l0 6l0 6l0 6l0 6l0 6.1l0 6l0 6l0 6l2 0l0-6l0-6l0-6l0-6.1l0-6l0-6l0-6l0-6l0-6l0-6l0-4.6l0-1.5l0-6l0-6l0-6l0-6l0-6l0-6l0-6.1l0-4.4l-0.3-1.6l0.2-6l0.1-2.4l0.2-3.6l0.5-6l0.7-6l0.7-5.4l0.1-0.6l1.4-6.1l1.8-6l1.6-5.3l0.2-0.7l1.5-6l1.6-6l1.5-6l1.6-6l1.7-6.1l0.1-0.2l1.9-5.8l2-6l0.1-0.2l1.7-5.8l1.8-6l1.6-6l1.4-5.2l0.2-0.8l1.6-6.1l1.5-6l1.4-6l1.4-6l1.4-6l0-0.1l1.4-5.9l1.5-6l1.4-6.1l1.2-6l1-6l0.1-1l0.6-5l0.6-6l0.6-6l0.4-6l0.2-6.1l0-0.9l0-5.1l0-6l-0.1-6l-0.1-6l0-6l-0.1-6.1l-0.1-6l-0.1-4.8l0-1.2l-0.2-6l-0.1-6l-0.3-6l-0.2-6l-0.4-6.1l-0.3-6l-0.4-6l-0.3-6l-0.4-6l-0.5-6l0-0.7l-0.4-5.3l-0.5-6.1l-0.6-6l-0.7-6l-0.7-6l-0.8-6l-0.8-6l-0.6-4.6l-0.2-1.4l-0.9-6.1l-1.1-6l-1.1-6l-1.1-6l-0.9-4.5l-0.3-1.5l-1.2-6l-1.3-6l-1.3-6.1l-1.3-6l-1.1-5.4l-0.1-0.6l-1.2-6l-1.1-6l-1.1-6l-1.1-6l-1.1-6.1l-0.1-0.3l-1.1-5.7l-1.3-6l-1.2-6l-1.2-6l-1.2-6l0-0.3l-1-5.7l-1.1-6.1l-1-6l-0.9-6l-0.8-6l-0.2-1.2l-0.6-4.8l-0.7-6l-0.6-6l-0.6-6.1l-0.5-6l-0.1-2.1l-0.2-3.9l-0.4-6l-0.3-6l-0.3-6l-0.3-6l-0.2-6.1l-0.2-6l-0.1-6l0.2-6z"/>
<path fill="#00BFC4" d="M1115.5 339l0 6l0 6l0 6l-0.1 6l0 6l-0.1 6l-0.1 6.1l-0.1 6l-0.1 6l-0.1 6l-0.2 4.9l0 1.1l-0.2 6l-0.2 6l-0.4 6l-0.4 6l-0.5 6l-0.4 6l-0.5 6l-0.5 6l-0.4 6l-0.5 5.9l0 0.2l-0.4 6l-0.3 6l-0.4 6l-0.4 6l-0.4 6l-0.4 6l-0.4 6l-0.4 6l-0.4 6l-0.4 6l-0.1 1.8l-0.3 4.2l-0.4 6l-0.4 6l-0.4 6.1l-0.4 6l-0.5 6l-0.4 6l-0.5 6l-0.5 6l-0.5 6l-0.3 2.7l-0.3 3.3l-0.7 6l-0.7 6l-0.9 6l-0.8 6l-0.6 3.7l-0.3 2.3l-0.9 6.1l-1 6l-1.1 6l-1 6l-0.7 3.6l-0.4 2.4l-1 6l-1.1 6l-1 6l-1.1 6l-0.8 4.6l-0.3 1.4l-1.1 6l-1.1 6l-1.1 6l-1.2 6l-1.2 5.6l-0.2 0.5l-1.8 6l-2 6l-1.4 6l-0.2 1.5l-0.3 4.5l-0.4 6l-0.4 6l-0.4 6l-0.2 6l-0.3 6l-0.2 6l-0.1 6l-0.1 6l0 6.1l0 2.4l0 3.6l0 6l0 6l0 6l0.1 6l0 6l0.1 6l0.1 6l0.1 6l0.1 6l0 3.4l0.1 2.6l0.2 6l0.4 6l0.4 6.1l0.5 6l0.3 4.3l0.2 1.7l0.6 6l0.7 6l0.8 6l0.9 6l0.8 5.3l0.2 0.7l1.1 6l1.4 6l1.5 6l1.5 6l1.3 5.3l0.2 0.7l1.5 6.1l1.6 6l1.6 6l1.5 6l1.6 6l0 0.2l1.5 5.8l1.6 6l1.6 6l1.4 6l1.4 6l0.3 1.2l0.9 4.8l1.2 6l1.2 6l1 6l0.9 6.1l0.1 1.1l0.7 4.9l0.7 6l0.7 6l0.6 6l0.6 6l0.2 2.1l0.3 3.9l0.4 6l0.4 6l0.4 6l0.3 6l0.2 3.1l0.1 2.9l0.3 6l0.3 6l0.2 6.1l0.2 6l0.1 3l0 3l0.1 6l0.1 6l0 6l0 6l2.6 0l0-6l0-6l0.1-6l0.1-6l0-3l0.1-3l0.2-6l0.2-6.1l0.3-6l0.3-6l0.1-2.9l0.2-3.1l0.3-6l0.4-6l0.4-6l0.4-6l0.3-3.9l0.2-2.1l0.6-6l0.6-6l0.7-6l0.7-6l0.6-4.9l0.2-1.1l0.9-6.1l1-6l1.2-6l1.2-6l0.9-4.8l0.3-1.2l1.4-6l1.4-6l1.6-6l1.6-6l1.5-5.8l0-0.2l1.6-6l1.5-6l1.6-6l1.6-6l1.5-6.1l0.2-0.7l1.3-5.3l1.5-6l1.5-6l1.4-6l1.1-6l0.2-0.7l0.8-5.3l0.9-6l0.8-6l0.7-6l0.6-6l0.2-1.7l0.3-4.3l0.5-6l0.4-6.1l0.4-6l0.2-6l0-2.6l0.1-3.4l0.1-6l0.1-6l0.1-6l0.1-6l0-6l0.1-6l0-6l0-6l0-6l0-3.6l0-2.4l0-6.1l-0.1-6l-0.1-6l-0.2-6l-0.3-6l-0.2-6l-0.4-6l-0.4-6l-0.4-6l-0.3-4.5l-0.2-1.5l-1.4-6l-2-6l-1.8-6l-0.2-0.5l-1.2-5.6l-1.2-6l-1.1-6l-1.1-6l-1.1-6l-0.3-1.4l-0.8-4.6l-1.1-6l-1-6l-1.1-6l-1-6l-0.4-2.4l-0.7-3.6l-1-6l-1.1-6l-1-6l-0.9-6.1l-0.3-2.3l-0.6-3.7l-0.8-6l-0.9-6l-0.7-6l-0.7-6l-0.3-3.3l-0.3-2.7l-0.5-6l-0.5-6l-0.5-6l-0.4-6l-0.5-6l-0.4-6l-0.4-6.1l-0.4-6l-0.4-6l-0.3-4.2l-0.1-1.8l-0.4-6l-0.4-6l-0.4-6l-0.4-6l-0.4-6l-0.4-6l-0.4-6l-0.4-6l-0.3-6l-0.4-6l0-0.2l-0.5-5.9l-0.4-6l-0.5-6l-0.5-6l-0.4-6l-0.5-6l-0.4-6l-0.4-6l-0.2-6l-0.2-6l0-1.1l-0.2-4.9l-0.1-6l-0.1-6l-0.1-6l-0.1-6.1l-0.1-6l0-6l-0.1-6l0-6l0-6l-0.1-6z"/>
<path fill="#00BAE0" d="M1212.1 360.5l0 6l0 6l0 6l0 6l0 6.1l0 6l0 6l-0.1 6l0 6l0 6l-0.1 6l0 6l0 6l-0.1 6.1l0 6l-0.1 6l0 6l-0.1 2.3l0.3 3.7l-0.2 6l-0.2 6l-0.2 6l-0.4 6l-0.3 6.1l-0.3 6l-0.4 6l-0.4 6l-0.4 6l-0.2 4.2l-0.1 1.8l-0.4 6l-0.3 6l-0.4 6l-0.4 6.1l-0.4 6l-0.4 6l-0.5 6l-0.5 6l-0.5 6l-0.4 5.1l-0.1 0.9l-0.6 6l-0.6 6l-0.7 6.1l-0.7 6l-0.8 6l0 0l-0.8 6l-0.9 6l-1 6l-1 6l-1 6l0 0l-1.1 6l-1.2 6.1l-1.2 6l-1.2 6l-1.1 6l-0.2 0.9l-0.9 5.1l-1 6l-0.9 6l-1 6l-0.9 6l-0.3 1.9l-0.7 4.2l-0.9 6l-1 6l-1 6l-0.8 6l-0.3 1.8l-0.6 4.2l-0.8 6l-0.7 6l-0.7 6l-0.7 6.1l-0.3 2.7l-0.3 3.3l-0.6 6l-0.4 6l-0.6 6l-0.5 6l-0.1 0.7l-0.7 5.3l-0.9 6l-0.9 6.1l-0.5 5.6l0 0.4l-0.3 6l-0.3 6l-0.3 6l-0.2 6l-0.2 6l-0.1 6l-0.1 6l0 3.6l0 2.5l0.1 6l0.1 6l0.2 6l0.3 6l0.3 6l0.4 6l0.4 6l0.1 1.5l0.5 4.5l1 6.1l1.4 6l1.6 6l1.7 6l0.4 1.4l1.4 4.6l2.2 6l2.3 6l2.5 6l2.3 6l0.8 2.4l1.3 3.7l2.1 6l2.1 6l1.9 6l1.8 6l0.8 3.3l0.6 2.7l1.4 6l1.2 6l1.1 6l1 6.1l0.4 3.2l0.3 2.8l0.7 6l0.5 6l0.5 6l0.5 6l0.3 4.2l0.2 1.8l0.5 6l0.5 6l0.5 6.1l0.4 6l0.2 5.1l0 0.9l0.2 6l0.2 6l0.2 6l0.1 6l0 5.1l0 0.9l0 6l0.1 6.1l0 6l0 6l0 6l0 6l2.3 0l0-6l0-6l0-6l0-6l0.1-6.1l0-6l0-0.9l0-5.1l0.1-6l0.2-6l0.2-6l0.2-6l0-0.9l0.2-5.1l0.4-6l0.5-6.1l0.5-6l0.5-6l0.2-1.8l0.3-4.2l0.5-6l0.5-6l0.5-6l0.7-6l0.3-2.8l0.4-3.2l1-6.1l1.1-6l1.2-6l1.4-6l0.6-2.7l0.8-3.3l1.8-6l1.9-6l2.1-6l2.1-6l1.3-3.7l0.8-2.4l2.3-6l2.5-6l2.3-6l2.2-6l1.4-4.6l0.4-1.4l1.7-6l1.6-6l1.4-6l1-6.1l0.5-4.5l0.1-1.5l0.4-6l0.4-6l0.3-6l0.3-6l0.2-6l0.1-6l0.1-6l0-2.5l0-3.6l-0.1-6l-0.1-6l-0.2-6l-0.2-6l-0.3-6l-0.3-6l-0.3-6l0-0.4l-0.5-5.6l-0.9-6.1l-0.9-6l-0.7-5.3l-0.1-0.7l-0.5-6l-0.6-6l-0.4-6l-0.6-6l-0.3-3.3l-0.3-2.7l-0.7-6.1l-0.7-6l-0.7-6l-0.8-6l-0.6-4.2l-0.3-1.8l-0.8-6l-1-6l-1-6l-0.9-6l-0.7-4.2l-0.3-1.9l-0.9-6l-1-6l-0.9-6l-1-6l-0.9-5.1l-0.2-0.9l-1.1-6l-1.2-6l-1.2-6l-1.2-6.1l-1.1-6l0 0l-1-6l-1-6l-1-6l-0.9-6l-0.8-6l0 0l-0.8-6l-0.7-6l-0.7-6.1l-0.6-6l-0.6-6l-0.1-0.9l-0.4-5.1l-0.5-6l-0.5-6l-0.5-6l-0.4-6l-0.4-6l-0.4-6.1l-0.4-6l-0.3-6l-0.4-6l-0.1-1.8l-0.2-4.2l-0.4-6l-0.4-6l-0.4-6l-0.3-6l-0.3-6.1l-0.4-6l-0.2-6l-0.2-6l-0.2-6l0.2-3.7l0-2.3l0-6l-0.1-6l0-6l-0.1-6.1l0-6l0-6l-0.1-6l0-6l0-6l-0.1-6l0-6l0-6l0-6.1l0-6l0-6l0-6l-0.1-6z"/>
<path fill="#00B0F6" d="M1308.5 171l0 6l0 6l0 6l0 6l0 6.1l0 6l-0.1 6l0 6l0 6l0 6l-0.1 6l0 6l0 6.1l-0.1 6l0 6l-0.1 6l0 6l-0.1 6l0 3.8l0.2 2.2l-0.4 6l-0.6 6l-0.8 6.1l-0.8 6l-0.7 4.7l-0.1 1.3l-0.7 6l-0.7 6l-0.8 6l-0.9 6l-1 5.7l0 0.3l-1.2 6.1l-1.5 6l-1.7 6l-1.6 6l-1.6 5.6l-0.1 0.4l-1.6 6l-1.6 6l-1.6 6l-1.7 6.1l-1.6 6l-0.2 0.5l-1.5 5.5l-1.7 6l-1.7 6l-1.7 6l-1.5 6l-0.4 1.5l-1 4.5l-1.4 6l-1.3 6.1l-1.2 6l-1 6l-0.2 1.4l-0.6 4.6l-0.8 6l-0.8 6l-0.7 6l-0.6 6l-0.5 6.1l-0.3 6l-0.1 5.3l0.1 0.7l0 6l0.1 6l0.1 6l0.2 6l0.2 6l0.3 6.1l0.2 6l0.1 3.2l0.2 2.8l0.3 6l0.4 6l0.4 6l0.4 6l0.2 4.2l0.1 1.8l0.3 6l0.3 6.1l0.2 6l0.2 6l0.3 6l0.2 6l0.3 6l0.3 6l0.3 6l0.3 5.1l0.1 1l0.7 6l1 6l1 6l0.8 6l0.4 5l0.1 1l0.3 6l0.3 6l0.2 6l0.2 6.1l0.1 6l0.2 6l0.1 6l0.2 6l0.1 6l0.2 6l0 0.9l0.2 5.1l0.2 6.1l0.2 6l0.2 6l0.2 6l0.2 6l0.2 6l0.2 6l0.2 6l0.2 6l0 1.8l0.2 4.3l0.2 6l0.1 6l0.2 6l0.2 6l0.2 6l0.2 6l0.2 6l0.2 6.1l0.2 6l0.1 2.6l0.2 3.4l0.3 6l0.4 6l0.3 6l0.5 6l0.4 6l0.5 6.1l0.5 6l0.5 6l0.5 6l0.4 4.5l0.2 1.5l0.7 6l0.7 6l0.8 6l0.8 6l0.6 4.5l0.3 1.6l0.9 6l1 6l1 6l0.9 6l0.6 5.4l0.1 0.6l0.6 6l0.4 6l0.5 6.1l0.4 6l0.5 6l0 0.3l0.6 5.7l0.6 6l0.6 6l0.7 6l0.6 6l0 0.3l0.7 5.8l0.7 6l0.7 6l0.7 6l0.6 6l0 1.2l0.4 4.8l0.3 6l0.4 6l0.3 6l0.2 6.1l0.1 2.1l0.2 3.9l0.4 6l0.2 6l0.3 6l0.2 6l0 2.1l0.1 3.9l0.1 6l0.1 6.1l0.1 6l0.1 6l0 6l0 6l3.5 0l0.1-6l0-6l0.1-6l0.1-6l0.1-6.1l0.1-6l0-3.9l0.1-2.1l0.2-6l0.3-6l0.2-6l0.4-6l0.1-3.9l0.2-2.1l0.2-6.1l0.3-6l0.4-6l0.3-6l0.3-4.8l0.1-1.2l0.6-6l0.7-6l0.7-6l0.7-6l0.6-5.8l0.1-0.3l0.6-6l0.7-6l0.6-6l0.6-6l0.5-5.7l0.1-0.3l0.5-6l0.4-6l0.5-6.1l0.4-6l0.6-6l0-0.6l0.7-5.4l0.9-6l1-6l1-6l0.9-6l0.2-1.6l0.7-4.5l0.8-6l0.8-6l0.7-6l0.7-6l0.1-1.5l0.5-4.5l0.5-6l0.5-6l0.5-6l0.5-6.1l0.4-6l0.5-6l0.3-6l0.4-6l0.3-6l0.1-3.4l0.2-2.6l0.2-6l0.2-6.1l0.2-6l0.2-6l0.2-6l0.2-6l0.2-6l0.1-6l0.2-6l0.1-4.3l0.1-1.8l0.2-6l0.2-6l0.2-6l0.2-6l0.2-6l0.2-6l0.2-6l0.2-6l0.2-6.1l0.1-5.1l0.1-0.9l0.2-6l0.1-6l0.2-6l0.1-6l0.2-6l0.1-6l0.2-6.1l0.2-6l0.3-6l0.3-6l0-1l0.5-5l0.8-6l1-6l1-6l0.7-6l0-1l0.4-5.1l0.3-6l0.3-6l0.3-6l0.2-6l0.3-6l0.2-6l0.2-6l0.3-6.1l0.3-6l0-1.8l0.3-4.2l0.4-6l0.4-6l0.4-6l0.3-6l0.1-2.8l0.2-3.2l0.2-6l0.3-6.1l0.2-6l0.2-6l0.1-6l0.1-6l0-6l0-0.7l0-5.3l-0.3-6l-0.5-6.1l-0.6-6l-0.7-6l-0.8-6l-0.8-6l-0.7-4.6l-0.1-1.4l-1-6l-1.2-6l-1.3-6.1l-1.4-6l-1.1-4.5l-0.3-1.5l-1.5-6l-1.7-6l-1.7-6l-1.7-6l-1.6-5.5l-0.1-0.5l-1.6-6l-1.7-6.1l-1.6-6l-1.6-6l-1.6-6l-0.2-0.4l-1.5-5.6l-1.6-6l-1.7-6l-1.5-6l-1.2-6.1l-0.1-0.3l-0.9-5.7l-0.9-6l-0.8-6l-0.7-6l-0.7-6l-0.2-1.3l-0.6-4.7l-0.8-6l-0.8-6.1l-0.6-6l-0.4-6l0.2-2.2l0-3.8l-0.1-6l0-6l-0.1-6l0-6l-0.1-6l0-6.1l0-6l-0.1-6l0-6l0-6l0-6l-0.1-6l0-6l0-6.1l0-6l0-6l0-6l0-6z"/>
<path fill="#35A2FF" d="M1403.4 259l0 6l-0.1 6l-0.2 6l-0.2 6l-0.3 6l-0.2 6l-0.4 6l-0.3 6l-0.3 6l-0.1 1l-0.3 5l-0.6 6l-0.6 6l-0.7 6l-0.8 6l-0.2 2l-0.5 4l-0.8 6l-0.8 6l-0.8 6l-0.8 6l-0.3 2l-0.5 4l-0.8 6l-0.7 6l-0.8 6l-0.8 6l-0.4 3l-0.4 3l-0.9 6l-0.9 6l-1 6l-1.1 6l-0.7 4l-0.4 2l-1.2 6l-1.4 6l-1.4 6l-1.4 6l-0.9 4l-0.5 2l-1.4 6l-1.5 6l-1.5 6l-1.4 6l-1 5l-0.2 1l-1.1 6l-1.1 6l-1 6l-0.8 6l-0.8 6l-0.7 6l-0.7 6l-0.5 6l-0.5 6l-0.3 6l-0.2 6l-0.1 6l-0.2 6l-0.1 6l0 6l0 1l0 5l0.1 6l0.2 6l0.2 6l0.2 6l0.1 2l0.3 4l0.8 6l1.1 6l1.1 6l0.9 6l0.3 2l0.4 4l0.6 6l0.6 6l0.5 6l0.7 6l0.2 2l0.5 4l0.9 6l0.9 6l1.1 6l1 6l1.2 6l1.1 6l1.2 6l1.2 6l1.1 6l0.8 4l0.4 2l1.2 6l1.2 6l1.2 6l1.2 6l0.8 4l0.4 2l1.1 6l1.2 6l1.1 6l1 6l0.9 5l0.2 1l1 6l1 6l0.9 6l1 6l0.8 6l0.8 6l0.9 6l0.7 6l0.7 6l0.4 6l0.3 6l0.3 6l0.2 6l0.2 6l0.1 6l0 1l0.1 5l0 6l0.1 6l0 6l0.1 6l0 6l0 6l0 3l0 3l0 6l0 6l0 6l0 6l0 6l0 6l0 6l0 6l0 6l0 6l3.5 0l0-6l0-6l0-6l0-6l0-6l0-6l0-6l0-6l0-6l0-6l0-3l0-3l0-6l0-6l0.1-6l0-6l0.1-6l0-6l0.1-5l0-1l0.1-6l0.2-6l0.2-6l0.3-6l0.3-6l0.4-6l0.7-6l0.7-6l0.9-6l0.8-6l0.8-6l1-6l0.9-6l1-6l1-6l0.2-1l0.9-5l1-6l1.1-6l1.2-6l1.1-6l0.4-2l0.8-4l1.2-6l1.2-6l1.2-6l1.2-6l0.4-2l0.8-4l1.1-6l1.2-6l1.2-6l1.1-6l1.2-6l1-6l1.1-6l0.9-6l0.9-6l0.5-4l0.2-2l0.7-6l0.5-6l0.6-6l0.6-6l0.4-4l0.3-2l0.9-6l1.1-6l1.1-6l0.8-6l0.3-4l0.1-2l0.2-6l0.2-6l0.2-6l0.1-6l0-5l0-1l0-6l-0.1-6l-0.2-6l-0.1-6l-0.2-6l-0.3-6l-0.5-6l-0.5-6l-0.7-6l-0.7-6l-0.8-6l-0.8-6l-1-6l-1.1-6l-1.1-6l-0.2-1l-1-5l-1.4-6l-1.5-6l-1.5-6l-1.4-6l-0.5-2l-0.9-4l-1.4-6l-1.4-6l-1.4-6l-1.2-6l-0.4-2l-0.7-4l-1.1-6l-1-6l-0.9-6l-0.9-6l-0.4-3l-0.4-3l-0.8-6l-0.8-6l-0.7-6l-0.8-6l-0.5-4l-0.3-2l-0.8-6l-0.8-6l-0.8-6l-0.8-6l-0.5-4l-0.2-2l-0.8-6l-0.7-6l-0.6-6l-0.6-6l-0.3-5l-0.1-1l-0.3-6l-0.3-6l-0.4-6l-0.2-6l-0.3-6l-0.2-6l-0.2-6l-0.1-6l0-6z"/>
<path fill="#9590FF" d="M1501.6 180l0 6l0 6l0 6l-0.1 6l0 6l-0.1 6l-0.1 6.1l-0.1 6l0 2.9l-0.1 3.1l-0.2 6l-0.7 6l-0.9 6l-1 6l-0.4 1.9l-0.9 4.1l-2.1 6l-2.7 6l-2.8 6l-2.7 6l-0.8 1.9l-1.6 4.1l-2.6 6l-2.5 6.1l-2.6 6l-2.4 6l-2.3 6l-2 5.8l0 0.2l-2 6l-2 6l-1.9 6l-1.8 6l-1.6 6l-1.2 6l-0.8 6l-0.2 2.8l-0.1 3.2l-0.2 6l0 6.1l0 6l0 6l0 6l0 6l0 5.7l0 0.3l0 6l0 6l0 6l0 6l0 6l0 6l0.2 6l0.1 4.7l0.1 1.3l0.3 6.1l0.5 6l0.6 6l0.7 6l0.8 6l0.9 6l0.9 6l1 6l1 6l1 6l0.9 6l0.8 5.6l0.1 0.4l0.9 6l1 6l0.9 6.1l1 6l1 6l1.1 6l1 6l1 6l1.1 6l0.9 5.5l0.1 0.5l1.1 6l1.1 6l1.2 6l1.2 6l1.2 6l1.1 6.1l1.2 6l1.1 6l1 6l1 6l0.7 5.4l0.1 0.6l0.8 6l0.8 6l0.7 6l0.7 6l0.7 6l0.6 6l0.6 6l0.6 6l0.4 5.4l0.1 0.7l0.6 6l0.5 6l0.5 6l0.5 6l0.5 6l0.5 6l0.3 6l0.4 6l0.1 4.3l0.1 1.7l0.2 6l0.2 6l0.2 6l0.1 6l0.2 6.1l-0.1 6l0.1 6l0 3.2l0 2.8l0.1 6l0.1 6l0.1 6l0 6l0.1 6l0 6l0.1 6l0 6l0 4.2l0 1.8l0 6l0 6.1l0.1 6l0 6l0 6l0 6l0 6l0 6l0 6l0 6l0 6l0.1 6l0 6l0 6l0 6l0 6.1l0 6l0 6l0 6l0 6l0 6l0 6l0.2 0l0-6l0-6l0-6l0-6l0-6l0-6l0-6.1l0-6l0-6l0-6l0.1-6l0-6l0-6l0-6l0-6l0-6l0-6l0-6l0-6l0.1-6l0-6.1l0-6l0-1.8l0-4.2l0-6l0.1-6l0-6l0.1-6l0-6l0.1-6l0.1-6l0.1-6l0-2.8l0-3.2l0.1-6l-0.1-6l0.2-6.1l0.1-6l0.2-6l0.2-6l0.2-6l0-1.7l0.2-4.3l0.4-6l0.3-6l0.5-6l0.5-6l0.5-6l0.5-6l0.5-6l0.6-6l0-0.7l0.5-5.4l0.6-6l0.6-6l0.6-6l0.7-6l0.7-6l0.7-6l0.8-6l0.8-6l0-0.6l0.8-5.4l1-6l1-6l1.1-6l1.2-6l1.1-6.1l1.2-6l1.2-6l1.2-6l1.1-6l1.1-6l0-0.5l1-5.5l1.1-6l1-6l1-6l1.1-6l1-6l1-6l0.9-6.1l1-6l0.9-6l0-0.4l0.9-5.6l0.9-6l1-6l1-6l1-6l0.9-6l0.9-6l0.8-6l0.7-6l0.6-6l0.5-6l0.3-6.1l0-1.3l0.2-4.7l0.2-6l0-6l0-6l0-6l0-6l0-6l0-6l0-0.3l0-5.7l0-6l0-6l0-6l0-6l0-6.1l-0.2-6l-0.2-3.2l-0.1-2.8l-0.8-6l-1.2-6l-1.6-6l-1.8-6l-1.9-6l-2-6l-2-6l-0.1-0.2l-1.9-5.8l-2.3-6l-2.4-6l-2.6-6l-2.5-6.1l-2.6-6l-1.7-4.1l-0.7-1.9l-2.7-6l-2.8-6l-2.7-6l-2.1-6l-1-4.1l-0.3-1.9l-1-6l-0.9-6l-0.7-6l-0.2-6l-0.1-3.1l0-2.9l-0.1-6l-0.1-6.1l-0.1-6l0-6l-0.1-6l0-6l0-6l0-6z"/>
<path fill="#C77CFF" d="M1596.1 230l-0.3 6l-0.2 6l-0.3 6l-0.3 6l-0.3 6l-0.3 6l-0.4 6l-0.3 6l-0.3 5l-0.1 1l-0.3 6l-0.3 6.1l-0.4 6l-0.3 6l-0.4 6l-0.4 6l-0.4 6l-0.5 6l-0.5 6l-0.6 6l-0.1 0.9l-0.6 5.1l-0.9 6l-1.1 6l-1.2 6l-1.3 6l-0.2 0.9l-1.3 5.1l-1.9 6l-2.1 6l-2.1 6l-2 6l-0.6 1.9l-1.3 4.1l-1.8 6l-1.9 6.1l-1.7 6l-1.6 6l-0.7 2.8l-0.7 3.2l-1.4 6l-1.3 6l-1.1 6l-0.9 6l-0.4 2.8l-0.4 3.2l-0.6 6l-0.6 6l-0.5 6l-0.4 6l-0.2 3.8l-0.1 2.2l-0.3 6l-0.2 6l-0.3 6l-0.2 6l-0.1 6l-0.2 6l-0.1 6l0 1.8l0 4.3l-0.1 6l0 6l-0.1 6l0 6l0 2.7l0 3.3l0.1 6l0.2 6l0.1 2.7l0.2 3.3l0.8 6l1 6l0.3 1.7l0.8 4.3l1.5 6l0.2 0.7l1.8 5.3l2.6 6l2.5 6l0.6 1.7l1.5 4.3l1.8 6l0.2 0.7l1.5 5.3l1.6 6l1.6 6l1.3 6.1l1 5.6l0.1 0.4l0.8 6l0.7 6l0.6 6l0.6 6l0.5 5.6l0 0.4l0.5 6l0.4 6l0.4 6l0.4 6l0.5 5.6l0 0.4l0.7 6l0.7 6l0.8 6l0.8 6l0.7 6l0.3 2.6l0.4 3.4l0.6 6l0.6 6l0.6 6l0.5 6.1l0.1 0.5l0.5 5.5l0.7 6l0.6 6l0.6 6l0.6 6l0.5 6l0.4 4.5l0.1 1.5l0.5 6l0.5 6l0.4 6l0.4 6l0.2 4.5l0.1 1.5l0.2 6l0.3 6l0.2 6l0.2 6l0 3.5l0 2.5l0.1 6l0 6l0 6l0.1 6.1l0 6l-0.2 6l0 6l0 6l0 6l0 6l0 6l0 6l0 6l0 6l1.9 0l0-6l0-6l0-6l0-6l0-6l0-6l0-6l0-6l-0.2-6l0-6l0.1-6.1l0-6l0-6l0.1-6l0-2.5l0-3.5l0.2-6l0.2-6l0.3-6l0.2-6l0.1-1.5l0.2-4.5l0.4-6l0.4-6l0.5-6l0.5-6l0.1-1.5l0.4-4.5l0.5-6l0.6-6l0.6-6l0.6-6l0.7-6l0.5-5.5l0.1-0.5l0.5-6.1l0.6-6l0.6-6l0.6-6l0.4-3.4l0.3-2.6l0.7-6l0.8-6l0.8-6l0.7-6l0.7-6l0-0.4l0.5-5.6l0.4-6l0.4-6l0.4-6l0.5-6l0-0.4l0.5-5.6l0.6-6l0.6-6l0.7-6l0.8-6l0.1-0.4l1-5.6l1.3-6.1l1.6-6l1.6-6l1.5-5.3l0.2-0.7l1.8-6l1.5-4.3l0.6-1.7l2.5-6l2.6-6l1.8-5.3l0.2-0.7l1.5-6l0.8-4.3l0.3-1.7l1-6l0.8-6l0.2-3.3l0.1-2.7l0.2-6l0.1-6l0-3.3l0-2.7l0-6l-0.1-6l0-6l-0.1-6l0-4.3l0-1.8l-0.1-6l-0.2-6l-0.1-6l-0.2-6l-0.3-6l-0.2-6l-0.3-6l-0.1-2.2l-0.2-3.8l-0.4-6l-0.5-6l-0.6-6l-0.6-6l-0.4-3.2l-0.4-2.8l-0.9-6l-1.1-6l-1.3-6l-1.4-6l-0.7-3.2l-0.7-2.8l-1.6-6l-1.7-6l-1.9-6.1l-1.8-6l-1.3-4.1l-0.6-1.9l-2-6l-2.1-6l-2.1-6l-1.9-6l-1.3-5.1l-0.2-0.9l-1.3-6l-1.2-6l-1.1-6l-0.9-6l-0.6-5.1l-0.1-0.9l-0.6-6l-0.5-6l-0.5-6l-0.4-6l-0.4-6l-0.4-6l-0.3-6l-0.4-6l-0.3-6.1l-0.3-6l-0.1-1l-0.3-5l-0.3-6l-0.4-6l-0.3-6l-0.3-6l-0.3-6l-0.3-6l-0.2-6l-0.3-6z"/>
<path fill="#E76BF3" d="M1692.9 242l-0.2 6l-0.3 6.1l-0.4 6l-0.5 6l-0.5 6.1l-0.6 6l-0.5 4.8l-0.2 1.2l-0.8 6.1l-1.1 6l-1.3 6l-1.3 6.1l-1.1 5.6l-0.1 0.4l-1.3 6l-1.4 6.1l-1.5 6l-1.4 6l-1.3 6.1l0 0.4l-1.2 5.6l-1.1 6l-1.1 6.1l-1 6l-1.1 6l-0.1 0.3l-1 5.8l-1.1 6l-1.1 6l-1.1 6.1l-1 6l-0.1 1.1l-0.8 4.9l-1 6.1l-0.8 6l-0.9 6l-0.8 6.1l-0.3 1.9l-0.5 4.1l-0.7 6.1l-0.8 6l-0.6 6l-0.7 6.1l-0.1 1.7l-0.5 4.3l-0.5 6l-0.5 6.1l-0.5 6l-0.4 6l-0.2 2.6l-0.3 3.5l-0.6 6l-0.5 6l-0.5 6.1l-0.4 6l-0.1 3.4l-0.1 2.6l-0.2 6.1l-0.2 6l-0.2 6l0 6.1l-0.1 3.2l0 2.8l0 6l0 6.1l0 6l0 6l0 4.1l0.1 2l0 6l0.2 6l0.1 6.1l0.2 6l0.2 4.9l0 1.1l0.1 6.1l0.2 6l0.2 6l0.3 6.1l0.2 4.7l0 1.3l0.3 6l0.4 6.1l0.4 6l0.5 6l0.4 4.6l0.1 1.5l0.5 6l0.7 6l0.7 6.1l0.7 6l0.7 5.4l0.1 0.6l0.9 6.1l1 6l1 6l1 6.1l1 6l0 0.2l1 5.8l0.9 6.1l1 6l0.9 6l1 6.1l0 0l1.1 6l1.1 6l1.2 6.1l1.2 6l1.1 6l0.1 0.9l1 5.2l1.1 6l1.1 6l1.1 6.1l1.1 6l0.2 1.7l0.8 4.4l1.1 6l1 6l1 6.1l0.9 6l0.2 1.5l0.7 4.5l0.8 6.1l0.8 6l0.7 6l0.6 6.1l0.2 2.3l0.4 3.7l0.4 6l0.5 6.1l0.3 6l0.3 6l0.1 3.2l0.1 2.9l0.2 6l0.2 6l0.1 6.1l0.1 6l0.1 3l0 3l0 6.1l0.1 6l0 6l0 6.1l0.1 3.8l0 2.2l0 6l0 6.1l0 6l0 6l0 6.1l0 6l3.6 0l0-6l0-6.1l0-6l0-6l0-6.1l0-6l0-2.2l0.1-3.8l0-6.1l0-6l0.1-6l0-6.1l0-3l0.1-3l0.1-6l0.1-6.1l0.2-6l0.2-6l0.1-2.9l0.1-3.2l0.3-6l0.3-6l0.5-6.1l0.4-6l0.4-3.7l0.2-2.3l0.6-6.1l0.7-6l0.8-6l0.8-6.1l0.7-4.5l0.2-1.5l0.9-6l1-6.1l1-6l1.1-6l0.8-4.4l0.2-1.7l1.1-6l1.1-6.1l1.1-6l1.1-6l1-5.2l0.1-0.9l1.1-6l1.2-6l1.2-6.1l1.1-6l1.1-6l0 0l1-6.1l0.9-6l1-6l0.9-6.1l1-5.8l0-0.2l1-6l1-6.1l1-6l1-6l0.9-6.1l0.1-0.6l0.7-5.4l0.7-6l0.7-6.1l0.7-6l0.5-6l0.1-1.5l0.4-4.6l0.5-6l0.4-6l0.4-6.1l0.3-6l0-1.3l0.2-4.7l0.3-6.1l0.2-6l0.2-6l0.1-6.1l0-1.1l0.2-4.9l0.2-6l0.1-6.1l0.2-6l0-6l0.1-2l0-4.1l0-6l0-6l0-6.1l0-6l0-2.8l-0.1-3.2l0-6.1l-0.2-6l-0.2-6l-0.2-6.1l-0.1-2.6l-0.1-3.4l-0.4-6l-0.5-6.1l-0.5-6l-0.6-6l-0.3-3.5l-0.2-2.6l-0.4-6l-0.5-6l-0.5-6.1l-0.5-6l-0.5-4.3l-0.1-1.7l-0.7-6.1l-0.6-6l-0.8-6l-0.7-6.1l-0.5-4.1l-0.3-1.9l-0.8-6.1l-0.9-6l-0.8-6l-1-6.1l-0.8-4.9l-0.1-1.1l-1-6l-1.1-6.1l-1.1-6l-1.1-6l-1-5.8l-0.1-0.3l-1.1-6l-1-6l-1.1-6.1l-1.1-6l-1.2-5.6l0-0.4l-1.3-6.1l-1.4-6l-1.5-6l-1.4-6.1l-1.3-6l-0.1-0.4l-1.1-5.6l-1.3-6.1l-1.3-6l-1.1-6l-0.8-6.1l-0.2-1.2l-0.5-4.8l-0.6-6l-0.5-6.1l-0.5-6l-0.4-6l-0.3-6.1l-0.2-6z"/>
<path fill="#FA62DB" d="M1789 151l0 6l-0.1 6l-0.1 6l0 1l-0.1 5l-0.3 6l-0.3 6l-0.3 6l-0.4 6.1l-0.3 4.9l-0.1 1.1l-0.3 6l-0.5 6l-0.4 6l-0.5 6l-0.5 6l-0.5 4.9l-0.1 1.1l-0.7 6l-0.8 6l-0.9 6l-0.4 2.9l-0.5 3.1l-1 6l-1 6l-1.1 5.9l0 0.2l-1.3 6l-1.4 6l-0.9 4.8l-0.2 1.2l-0.8 6l-0.7 6l-0.7 6l-0.6 6l-0.6 6l-0.6 6l-0.7 6l-0.6 4.4l-0.2 1.6l-1 6l-1 6l-1.1 6.1l-1.1 6l-1.2 6l-1.1 6l-1.1 6l-0.7 3.7l-0.4 2.3l-1.2 6l-1.2 6l-1.2 6l-1.2 6l-1 6l-1 6l-0.8 6l-0.4 3.4l-0.3 2.6l-0.5 6.1l-0.5 6l-0.5 6l-0.4 6l-0.2 6l-0.2 4.6l0 1.4l-0.2 6l-0.1 6l-0.2 6l-0.1 6l-0.1 6l0 6l-0.1 6l0 5.6l0 0.4l0 6.1l0 6l0.1 6l0 6l0 6l0.1 6l0 6l0.1 6l0 6l0.1 6l0 0.5l0 5.5l0.1 6l0 6l0.1 6l0 6.1l0.1 6l0.1 6l0.1 6l0.1 6l0.1 6l0 1.4l0.1 4.6l0.4 6l0.4 6l0.5 6l0.5 6l0.1 1.4l0.4 4.6l0.6 6l0.6 6l0.6 6.1l0.6 6l0.2 2.3l0.3 3.7l0.5 6l0.4 6l0.5 6l0.5 6l0.3 3.3l0.3 2.7l0.7 6l0.8 6l0.9 6l0.8 6l0.5 3.3l0.4 2.7l0.9 6l0.9 6.1l0.9 6l0.9 6l0.7 4.2l0.3 1.8l0.9 6l0.9 6l1 6l0.9 6l0.8 5.2l0.1 0.8l1 6l0.9 6l1 6l0.9 6l0.8 5.2l0.1 0.8l0.9 6.1l0.9 6l0.8 6l0.8 6l0.8 6l0 0.1l0.7 5.9l0.7 6l0.7 6l0.6 6l0.7 6l0.1 1.1l0.6 4.9l0.7 6l0.7 6l0.7 6l0.6 6.1l0.1 1l0.4 5l0.4 6l0.4 6l0.3 6l0.4 6l0.1 2l0.2 4l0.4 6l3.5 0l0.4-6l0.2-4l0.1-2l0.4-6l0.3-6l0.4-6l0.4-6l0.4-5l0.1-1l0.6-6.1l0.7-6l0.7-6l0.7-6l0.6-4.9l0.1-1.1l0.7-6l0.6-6l0.7-6l0.7-6l0.7-5.9l0-0.1l0.8-6l0.8-6l0.8-6l0.9-6l0.9-6.1l0.1-0.8l0.8-5.2l0.9-6l1-6l0.9-6l1-6l0.1-0.8l0.8-5.2l0.9-6l1-6l0.9-6l0.9-6l0.3-1.8l0.7-4.2l0.9-6l0.9-6l0.9-6.1l0.9-6l0.4-2.7l0.5-3.3l0.8-6l0.9-6l0.8-6l0.7-6l0.3-2.7l0.3-3.3l0.5-6l0.5-6l0.4-6l0.5-6l0.3-3.7l0.2-2.3l0.6-6l0.6-6.1l0.6-6l0.6-6l0.4-4.6l0.1-1.4l0.5-6l0.5-6l0.4-6l0.4-6l0.1-4.6l0-1.4l0.1-6l0.1-6l0.1-6l0.1-6l0.1-6l0-6.1l0.1-6l0-6l0.1-6l0-5.5l0-0.5l0.1-6l0-6l0.1-6l0-6l0.1-6l0-6l0-6l0.1-6l0-6l0-6.1l0-0.4l0-5.6l-0.1-6l0-6l-0.1-6l-0.1-6l-0.2-6l-0.1-6l-0.2-6l0-1.4l-0.2-4.6l-0.2-6l-0.4-6l-0.5-6l-0.5-6l-0.5-6.1l-0.3-2.6l-0.4-3.4l-0.8-6l-1-6l-1-6l-1.2-6l-1.2-6l-1.2-6l-1.2-6l-0.4-2.3l-0.7-3.7l-1.1-6l-1.1-6l-1.2-6l-1.1-6l-1.1-6.1l-1-6l-1-6l-0.2-1.6l-0.6-4.4l-0.7-6l-0.6-6l-0.6-6l-0.6-6l-0.7-6l-0.7-6l-0.8-6l-0.2-1.2l-0.9-4.8l-1.4-6l-1.3-6l0-0.2l-1.1-5.9l-1-6l-1-6l-0.5-3.1l-0.4-2.9l-0.9-6l-0.8-6l-0.7-6l-0.1-1.1l-0.5-4.9l-0.5-6l-0.5-6l-0.4-6l-0.5-6l-0.3-6l-0.1-1.1l-0.3-4.9l-0.4-6.1l-0.3-6l-0.3-6l-0.3-6l-0.1-5l0-1l-0.1-6l-0.1-6l0-6z"/>
<path fill="#FF62BC" d="M1885.5 323l-0.1 6l-0.1 6l-0.2 6l0 4l-0.1 2l-0.2 6l-0.3 6l-0.3 6l-0.3 6l-0.3 6l-0.2 6l-0.1 1l-0.1 5l-0.2 6.1l-0.1 6l-0.1 6l-0.2 6l-0.1 6l-0.1 6l-0.2 6l-0.1 6l-0.2 6l0 1.9l-0.2 4.1l-0.2 6l-0.3 6l-0.3 6l-0.3 6l-0.3 6l-0.3 6l-0.3 6l-0.4 6l-0.3 6l-0.3 3.9l-0.1 2.1l-0.3 6l-0.4 6l-0.4 6l-0.4 6l-0.4 6.1l-0.4 6l-0.4 6l-0.5 6l-0.3 6l-0.4 4.8l0 1.2l-0.4 6l-0.4 6l-0.3 6l-0.4 6l-0.4 6l-0.3 6l-0.4 6l-0.3 6l-0.3 6l-0.4 5.8l0 0.2l-0.3 6l-0.3 6l-0.4 6l-0.3 6l-0.3 6l-0.4 6l-0.3 6l-0.2 6.1l-0.3 6l-0.2 6l0 1.7l-0.2 4.3l-0.2 6l-0.1 6l-0.2 6l-0.2 6l-0.1 6l-0.1 6l-0.1 6l-0.1 6l0 6l-0.1 2.7l0.1 3.3l0.3 6l0.4 6l0.6 6l0.6 6l0.6 6l0.4 5.7l0.1 0.3l0.4 6l0.4 6l0.4 6l0.4 6l0.3 5.7l0.1 0.4l0.4 6l0.4 6l0.5 6l0.5 6l0.5 6l0 0.6l0.6 5.4l0.8 6l0.8 6l0.8 6l0.5 6l0.1 1.6l0.3 4.4l0.3 6l0.2 6l0.3 6l0.2 6l0.1 1.6l0.1 4.4l0.3 6l0.2 6l0.2 6l0.3 6l0.1 2.6l0.1 3.4l0.2 6l0.3 6l0.2 6.1l0.1 6l0.1 3.5l0 2.5l0 6l0 6l0 6l0 6l0 3.5l-0.1 2.5l0 6l-0.2 6l-0.2 6l-0.2 6l-0.1 4.5l-0.1 1.5l-0.2 6l-0.1 6l-0.2 6l-0.2 6l-0.2 5.5l-0.1 0.5l-0.3 6l-0.4 6l-0.4 6l-0.5 6l-0.5 5.5l-0.1 0.5l-0.8 6.1l-1 6l-1.1 6l-1.2 6l-1.3 6l-0.1 0.4l-1.1 5.6l-1.3 6l-1.3 6l-1.4 6l-1.5 6l-0.4 1.4l-1.1 4.6l-1.6 6l-1.7 6l-1.8 6l-2 6l-0.4 1.4l-1.8 4.6l-2.5 6l-2.1 5.4l-0.1 0.6l-2 6l-1.5 6l-0.4 2.4l-0.3 3.6l-0.4 6l-0.4 6l-0.2 6l-0.1 6.1l0 3.3l0 2.7l0.4 6l0.7 6l0.9 6l1.2 6l0.6 3.3l0.7 2.7l2.3 6l2.6 6l0.6 1.3l1.8 4.7l2.3 6l2.3 6l52.6 0l2.3-6l2.3-6l1.8-4.7l0.6-1.3l2.6-6l2.3-6l0.7-2.7l0.6-3.3l1.2-6l0.9-6l0.7-6l0.4-6l0-2.7l0-3.3l-0.1-6.1l-0.2-6l-0.4-6l-0.4-6l-0.3-3.6l-0.4-2.4l-1.5-6l-2-6l-0.1-0.6l-2.1-5.4l-2.5-6l-1.8-4.6l-0.4-1.4l-2-6l-1.8-6l-1.7-6l-1.6-6l-1.1-4.6l-0.4-1.4l-1.5-6l-1.4-6l-1.3-6l-1.3-6l-1.1-5.6l-0.1-0.4l-1.3-6l-1.2-6l-1.1-6l-1-6l-0.8-6.1l-0.1-0.5l-0.5-5.5l-0.5-6l-0.4-6l-0.4-6l-0.3-6l-0.1-0.5l-0.2-5.5l-0.2-6l-0.2-6l-0.1-6l-0.2-6l-0.1-1.5l-0.1-4.5l-0.2-6l-0.2-6l-0.2-6l0-6l-0.1-2.5l0-3.5l0-6l0-6l0-6l0-6l0-2.5l0.1-3.5l0.1-6l0.2-6.1l0.3-6l0.2-6l0.1-3.4l0.1-2.6l0.3-6l0.2-6l0.2-6l0.3-6l0.1-4.4l0.1-1.6l0.2-6l0.3-6l0.2-6l0.3-6l0.3-4.4l0.1-1.6l0.5-6l0.8-6l0.8-6l0.8-6l0.6-5.4l0-0.6l0.5-6l0.5-6l0.5-6l0.4-6l0.4-6l0.1-0.4l0.3-5.7l0.4-6l0.4-6l0.4-6l0.4-6l0.1-0.3l0.4-5.7l0.6-6l0.6-6l0.6-6l0.4-6l0.3-6l0.1-3.3l-0.1-2.7l0-6l-0.1-6l-0.1-6l-0.1-6l-0.1-6l-0.2-6l-0.2-6l-0.1-6l-0.2-6l-0.2-4.3l0-1.7l-0.2-6l-0.3-6l-0.2-6.1l-0.3-6l-0.4-6l-0.3-6l-0.3-6l-0.4-6l-0.3-6l-0.3-6l0-0.2l-0.4-5.8l-0.3-6l-0.3-6l-0.4-6l-0.3-6l-0.4-6l-0.4-6l-0.3-6l-0.4-6l-0.4-6l0-1.2l-0.4-4.8l-0.3-6l-0.5-6l-0.4-6l-0.4-6l-0.4-6.1l-0.4-6l-0.4-6l-0.4-6l-0.3-6l-0.1-2.1l-0.3-3.9l-0.3-6l-0.4-6l-0.3-6l-0.3-6l-0.3-6l-0.3-6l-0.3-6l-0.3-6l-0.2-6l-0.2-4.1l0-1.9l-0.2-6l-0.1-6l-0.2-6l-0.1-6l-0.1-6l-0.2-6l-0.1-6l-0.1-6l-0.2-6.1l-0.1-5l-0.1-1l-0.2-6l-0.3-6l-0.3-6l-0.3-6l-0.3-6l-0.2-6l-0.1-2l0-4l-0.2-6l-0.1-6l-0.1-6z"/>
<path fill="#FF6A98" d="M1980.8 228l0 6l-0.2 6.1l-0.2 6l-0.2 6l-0.3 6l-0.2 2.9l-0.2 3.2l-0.8 6l-1 6l-1.2 6l-1.2 6.1l-0.8 3.7l-0.5 2.3l-1.3 6l-1.4 6l-1.4 6.1l-1.6 6l-1.1 4.6l-0.4 1.4l-1.5 6.1l-1.6 6l-1.6 6l-1.6 6l-1.1 4.5l-0.4 1.6l-1.4 6l-1.4 6l-1.3 6l-1.2 6.1l-1 5.3l-0.1 0.7l-1 6l-1 6l-0.8 6.1l-0.8 6l-0.8 6l0 0.2l-0.7 5.8l-0.6 6.1l-0.6 6l-0.6 6l-0.5 6.1l0 0l-0.5 6l-0.4 6l-0.4 6l-0.4 6.1l-0.3 6l0 0.9l-0.2 5.1l-0.2 6l-0.2 6.1l-0.2 6l-0.2 6l0 1.8l-0.1 4.2l-0.2 6.1l-0.2 6l-0.1 6l-0.1 6.1l0 1.6l0 4.4l0 6l0 6l0 6.1l0 6l0 2.5l0 3.5l0.1 6l0.1 6.1l0.2 6l0.2 6l0.1 3.4l0.1 2.6l0.3 6.1l0.3 6l0.3 6l0.4 6.1l0.2 3.2l0.2 2.8l0.4 6l0.4 6l0.5 6.1l0.5 6l0.4 4.1l0.2 1.9l0.7 6l0.9 6.1l0.9 6l1 6l0.8 5l0.2 1l1.1 6.1l1.3 6l1.3 6l1.3 6.1l0.9 4.8l0.2 1.2l1.1 6l1 6l0.9 6.1l1 6l0.9 5.7l0 0.3l1 6l1 6.1l0.9 6l0.9 6l0.5 3.6l0.3 2.4l0.8 6.1l0.3 2.5l0.6 3.5l1.1 6l1.3 6l1.3 6.1l1.1 6l0.4 2.4l0.6 3.6l0.8 6.1l0.8 6l0.8 6l0.7 6l0.4 3.3l0.3 2.8l0.8 6l0.8 6l0.7 6l0.5 6.1l0.3 4.1l0.1 1.9l0.3 6l0.3 6l0.2 6.1l0.1 6l3.1 0l0.1-6l0.2-6.1l0.3-6l0.3-6l0.1-1.9l0.3-4.1l0.5-6.1l0.7-6l0.8-6l0.8-6l0.3-2.8l0.4-3.3l0.7-6l0.8-6l0.8-6l0.8-6.1l0.6-3.6l0.4-2.4l1.1-6l1.3-6.1l1.3-6l1.1-6l0.6-3.5l0.3-2.5l0.8-6.1l0.3-2.4l0.5-3.6l0.9-6l0.9-6l1-6.1l1-6l0-0.3l0.9-5.7l1-6l0.9-6.1l1-6l1.1-6l0.2-1.2l0.9-4.8l1.3-6.1l1.3-6l1.3-6l1.1-6.1l0.2-1l0.8-5l1-6l0.9-6l0.9-6.1l0.7-6l0.2-1.9l0.4-4.1l0.5-6l0.5-6.1l0.4-6l0.4-6l0.2-2.8l0.2-3.2l0.4-6.1l0.3-6l0.3-6l0.3-6.1l0.1-2.6l0.1-3.4l0.2-6l0.2-6l0.1-6.1l0.1-6l0-3.5l0-2.5l0-6l0-6.1l0-6l0-6l0-4.4l0-1.6l-0.1-6.1l-0.1-6l-0.2-6l-0.2-6.1l-0.1-4.2l0-1.8l-0.2-6l-0.2-6l-0.2-6.1l-0.2-6l-0.2-5.1l0-0.9l-0.3-6l-0.4-6.1l-0.4-6l-0.4-6l-0.5-6l0 0l-0.5-6.1l-0.6-6l-0.6-6l-0.6-6.1l-0.7-5.8l0-0.2l-0.8-6l-0.8-6l-0.8-6.1l-1-6l-1-6l-0.1-0.7l-1-5.3l-1.2-6.1l-1.3-6l-1.4-6l-1.4-6l-0.4-1.6l-1.1-4.5l-1.6-6l-1.6-6l-1.6-6l-1.5-6.1l-0.4-1.4l-1.1-4.6l-1.6-6l-1.4-6.1l-1.4-6l-1.3-6l-0.5-2.3l-0.8-3.7l-1.2-6.1l-1.2-6l-1-6l-0.8-6l-0.2-3.2l-0.2-2.9l-0.3-6l-0.2-6l-0.2-6l-0.2-6.1l0-6z"/>
</g>
<g fill="#000"><rect x="112.8" y="380.5" width="80" height="334"/><rect x="209.2" y="380.5" width="80" height="487"/><rect x="401.8" y="316" width="80" height="385.5"/><rect x="498.2" y="399.5" width="80" height="276"/><rect x="594.5" y="310.5" width="80" height="357"/><rect x="1461.7" y="288.5" width="80" height="359.5"/></g>
<path fill="none" stroke="#000" stroke-width="7.5" stroke-linecap="round" d="M1799.5 155h0M605.5 160.5h0M166 162h0M1771 165.5h0M1790 167.5h0M1823 167.5h0M605.5 168.5h0M1277 172.5h0M154 174h0M1816 174.5h0M120 177h0M643 177h0M414.5 177.5h0M174 180h0M1465.5 180.5h0M1766.5 181.5h0M1469 182h0M1324 183h0M1813.5 184.5h0M647 186h0M1511 191h0M603.5 191.5h0M643 194h0M380.5 195h0M374 197h0M1518.5 198h0M1470.5 198.5h0M414 199h0M1529 199h0M1283 200h0M164 200.5h0M261 200.5h0M607 201h0M1478 201h0M431.5 201.5h0M629 201.5h0M629.5 204.5h0M450.5 205h0M1479.5 205h0M648 206.5h0M1810 207h0M469.5 207.5h0M315.5 208h0M1487 208.5h0M1503.5 210.5h0M1523 211h0M469.5 211.5h0M1487 211.5h0M1485 212.5h0M529.5 213h0M656 213h0M1533.5 213h0M1781 213h0M1787.5 213h0M257.5 213.5h0M1496.5 213.5h0M237.5 215h0M1277 215h0M328 215.5h0M227 216h0M256 216h0M670 216h0M315.5 218h0M513.5 218.5h0M636 219h0M436.5 219.5h0M609.5 220h0M275 220.5h0M1502.5 221.5h0M317.5 222h0M1490 222h0M445 223h0M607 223h0M1536 223.5h0M341 224h0M519 224h0M1523.5 224h0M360.5 224.5h0M534.5 224.5h0M1513 224.5h0M638 225h0M643.5 225h0M1501 225h0M617.5 225.5h0M1529.5 226.5h0M429 227h0M1534 227h0M1828 227h0M374.5 227.5h0M1500.5 227.5h0M442.5 228h0M1511 228h0M1516 228h0M180.5 228.5h0M432.5 229h0M1535.5 229.5h0M565 230h0M1505 230h0M427.5 230.5h0M185 231h0M188.5 231h0M452.5 231h0M634 231h0M1775 231h0M1467.5 231.5h0M130.5 232h0M476.5 232h0M1489 232h0M1517 232h0M350.5 232.5h0M633.5 232.5h0M1476.5 232.5h0M1500 233h0M241 233.5h0M346 233.5h0M620.5 233.5h0M625.5 233.5h0M1529.5 233.5h0M158.5 234h0M1520 234h0M124.5 234.5h0M1520 235h0M158.5 235.5h0M1503 236h0M1468.5 236.5h0M1500.5 236.5h0M1492.5 237h0M539 237.5h0M658.5 237.5h0M1464.5 237.5h0M648.5 238h0M1487.5 238h0M472.5 238.5h0M1529.5 238.5h0M1486 239h0M616.5 239.5h0M1484.5 239.5h0M1503 239.5h0M613 240h0M1469.5 240h0M233 240.5h0M1529.5 240.5h0M1993.5 240.5h0M654.5 241.5h0M1502 241.5h0M1800 241.5h0M1466 242h0M1493 242h0M1474.5 242.5h0M1530 242.5h0M1497.5 243h0M630.5 243.5h0M659 243.5h0M1466 243.5h0M407.5 244h0M667 244h0M1480.5 244h0M1530.5 244h0M629.5 244.5h0M1474.5 244.5h0M1482.5 244.5h0M618.5 245h0M653.5 245h0M1473.5 245h0M1512.5 245h0M1974 245h0M229.5 245.5h0M411 245.5h0M639 245.5h0M1295.5 245.5h0M1491.5 245.5h0M414 246h0M448 246h0M1515.5 246h0M1521.5 246h0M342.5 246.5h0M544.5 246.5h0M1466.5 246.5h0M1487.5 246.5h0M1534.5 246.5h0M149.5 247h0M668.5 247h0M1506 247h0M638.5 247.5h0M1484 247.5h0M1503 247.5h0M1519 247.5h0M611 248h0M477.5 248.5h0M572 249h0M642.5 249h0M936 249h0M1470.5 249h0M1762 249h0M244.5 249.5h0M623.5 249.5h0M630 249.5h0M1502 249.5h0M1511.5 249.5h0M331.5 250h0M623.5 250h0M1477 250h0M660 250.5h0M1514 250.5h0M1793.5 250.5h0M1954 250.5h0M659.5 251h0M670.5 251h0M1467.5 251h0M1538 251h0M310.5 251.5h0M635.5 251.5h0M1474.5 251.5h0M1479.5 251.5h0M1535 251.5h0M1816 251.5h0M2011.5 251.5h0M1504 252h0M617 252.5h0M1475 252.5h0M1491 252.5h0M1494 252.5h0M1515 252.5h0M308 253h0M644.5 253h0M601 253.5h0M1465.5 253.5h0M1523 253.5h0M1534.5 253.5h0M1519.5 254h0M371 254.5h0M471.5 254.5h0M640.5 254.5h0M661 254.5h0M1510.5 254.5h0M1538.5 254.5h0M186.5 255h0M612 255h0M630 255h0M654 255h0M1474 255h0M1484 255h0M1499 255h0M131 255.5h0M355.5 255.5h0M656 255.5h0M1522 255.5h0M377 256h0M523 256h0M639 256h0M643.5 256h0M1467.5 256h0M1476 256h0M1529.5 256h0M1537 256h0M173.5 256.5h0M442.5 256.5h0M1487.5 256.5h0M285 257h0M1308 257h0M1505 257h0M244 257.5h0M346 257.5h0M939.5 257.5h0M1469 257.5h0M1473 257.5h0M1485 257.5h0M1493.5 257.5h0M1508 257.5h0M405.5 258h0M555.5 258h0M619 258h0M625.5 258h0M631.5 258h0M650 258h0M1492.5 258h0M171.5 258.5h0M658 258.5h0M665.5 258.5h0M670.5 258.5h0M383.5 259h0M421.5 259h0M1465.5 259h0M1513.5 259h0M1529 259h0M1534.5 259h0M146.5 259.5h0M655 259.5h0M1539.5 259.5h0M136.5 260h0M660 260h0M1464 260h0M1465 260h0M1478 260h0M1518 260.5h0M1721.5 260.5h0M355 261h0M370 261.5h0M417 261.5h0M428 261.5h0M605.5 261.5h0M611 261.5h0M627 261.5h0M1482 261.5h0M1537 261.5h0M1782 261.5h0M622.5 262h0M666.5 262h0M1466.5 262h0M1503 262h0M1511.5 262h0M170 262.5h0M639 262.5h0M1498 262.5h0M1499.5 262.5h0M1522.5 262.5h0M619.5 263h0M636 263h0M659.5 263h0M117.5 263.5h0M179.5 263.5h0M183 263.5h0M635 263.5h0M1473 263.5h0M1474 263.5h0M1476 263.5h0M1487 263.5h0M1523.5 263.5h0M1530.5 263.5h0M404 264h0M459 264h0M461.5 264h0M645 264h0M1473 264h0M1489.5 264h0M1495 264h0M1521.5 264h0M1792.5 264h0M118 264.5h0M606.5 264.5h0M656 264.5h0M665.5 264.5h0M672 264.5h0M1531 264.5h0M247.5 265h0M418.5 265h0M540 265h0M599.5 265h0M622 265h0M628.5 265h0M1520 265h0M1785.5 265h0M280 265.5h0M335 265.5h0M359.5 265.5h0M646 265.5h0M1312.5 265.5h0M1501 265.5h0M1807.5 265.5h0M637.5 266h0M1473.5 266h0M1506.5 266h0M1521.5 266h0M1824.5 266h0M161 266.5h0M526.5 266.5h0M1514 266.5h0M1521 266.5h0M370 267h0M669.5 267h0M1519 267h0M1524.5 267h0M609.5 267.5h0M668.5 267.5h0M1487 267.5h0M1509 267.5h0M1594.5 267.5h0M646.5 268h0M650 268h0M667 268h0M1483.5 268h0M1534 268h0M133 268.5h0M171 268.5h0M190 268.5h0M309.5 268.5h0M641 268.5h0M1470.5 268.5h0M346.5 269h0M455 269h0M632.5 269h0M1497 269h0M1505.5 269h0M1506.5 269h0M1519.5 269h0M169.5 269.5h0M651.5 269.5h0M1520 269.5h0M1670 269.5h0M136 270h0M459.5 270h0M618 270h0M659 270h0M663.5 270h0M1500 270h0M122 270.5h0M1476 270.5h0M1536 270.5h0M1537 270.5h0M1828 270.5h0M535 271h0M540 271h0M574 271h0M662 271h0M1468.5 271h0M1469.5 271h0M1485 271h0M1491.5 271h0M1495.5 271h0M1532 271h0M1702.5 271h0M169.5 271.5h0M604 271.5h0M625 271.5h0M172.5 272h0M357.5 272h0M618 272h0M619.5 272h0M1280.5 272h0M1466 272h0M1523.5 272h0M1586.5 272h0M350 272.5h0M452.5 272.5h0M651 272.5h0M667 272.5h0M1505.5 272.5h0M1529.5 272.5h0M1530 272.5h0M1537 272.5h0M166.5 273h0M625 273h0M632.5 273h0M1779.5 273h0M519.5 273.5h0M604.5 273.5h0M611 273.5h0M1489.5 273.5h0M1491 273.5h0M1515.5 273.5h0M1759 273.5h0M446 274h0M654 274h0M671.5 274h0M672.5 274h0M1532 274h0M431 274.5h0M527.5 274.5h0M670.5 274.5h0M1474.5 274.5h0M1479 274.5h0M1500 274.5h0M1509 274.5h0M1511.5 274.5h0M1521.5 274.5h0M143 275h0M159 275h0M189.5 275h0M456 275h0M567 275h0M601 275h0M1470.5 275h0M1486 275h0M1495 275h0M1754.5 275h0M137 275.5h0M610.5 275.5h0M618 275.5h0M642 275.5h0M643.5 275.5h0M1468 275.5h0M410 276h0M460 276h0M600.5 276h0M635 276h0M645.5 276h0M662 276h0M1465.5 276h0M1512 276h0M1528.5 276h0M2007.5 276h0M144.5 276.5h0M325.5 276.5h0M412 276.5h0M1517 276.5h0M1535.5 276.5h0M1816 276.5h0M368 277h0M455.5 277h0M563 277h0M650.5 277h0M669.5 277h0M670 277h0M160 277.5h0M168 277.5h0M312.5 277.5h0M376 277.5h0M598 277.5h0M622 277.5h0M656.5 277.5h0M1481 277.5h0M1504.5 277.5h0M1539 277.5h0M642.5 278h0M1027.5 278h0M1485 278h0M1500.5 278h0M1516 278h0M1758 278h0M406.5 278.5h0M421.5 278.5h0M472.5 278.5h0M632.5 278.5h0M648 278.5h0M655.5 278.5h0M1516 278.5h0M1521 278.5h0M1525.5 278.5h0M1633 278.5h0M1821.5 278.5h0M1997.5 278.5h0M282.5 279h0M409.5 279h0M431.5 279h0M602.5 279h0M612.5 279h0M635.5 279h0M667 279h0M1471.5 279h0M1505.5 279h0M1530 279h0M1535 279h0M474 279.5h0M528.5 279.5h0M627.5 279.5h0M650 279.5h0M1492.5 279.5h0M1511.5 279.5h0M1535.5 279.5h0M1684 279.5h0M1792 279.5h0M438 280h0M439.5 280h0M607.5 280h0M1501 280h0M175.5 280.5h0M446 280.5h0M469.5 280.5h0M597 280.5h0M601.5 280.5h0M1485 280.5h0M1765.5 280.5h0M125 281h0M226.5 281h0M451.5 281h0M460.5 281h0M504.5 281h0M614 281h0M640.5 281h0M903 281h0M1472 281h0M1491 281h0M1510 281h0M1522 281h0M1525.5 281h0M1616.5 281h0M1768 281h0M1805 281h0M1817 281h0M414.5 281.5h0M415 281.5h0M424.5 281.5h0M602 281.5h0M617.5 281.5h0M633.5 281.5h0M645.5 281.5h0M661.5 281.5h0M669.5 281.5h0M1396 281.5h0M1464.5 281.5h0M1475.5 281.5h0M1509 281.5h0M1467 282h0M1482 282h0M1507.5 282h0M536.5 282.5h0M662.5 282.5h0M1496.5 282.5h0M151 283h0M322 283h0M625 283h0M665.5 283h0M1470.5 283h0M1525.5 283h0M122 283.5h0M435.5 283.5h0M443.5 283.5h0M634 283.5h0M650.5 283.5h0M659 283.5h0M1464.5 283.5h0M1474.5 283.5h0M1504 283.5h0M1512.5 283.5h0M1533 283.5h0M118 284h0M265 284h0M1016 284h0M181.5 284.5h0M340.5 284.5h0M651.5 284.5h0M1482 284.5h0M1494 284.5h0M1495.5 284.5h0M1537.5 284.5h0M224 285h0M236.5 285h0M375.5 285h0M445 285h0M563 285h0M609 285h0M641 285h0M1537.5 285h0M1730.5 285h0M139 285.5h0M186 285.5h0M360.5 285.5h0M418 285.5h0M623 285.5h0M1464.5 285.5h0M1490 285.5h0M1518.5 285.5h0M1694.5 285.5h0M1783.5 285.5h0M435 286h0M438 286h0M463 286h0M625.5 286h0M628.5 286h0M661.5 286h0M669 286h0M1476 286h0M1492.5 286h0M454 286.5h0M470 286.5h0M501 286.5h0M602 286.5h0M604 286.5h0M614 286.5h0M625 286.5h0M642 286.5h0M427.5 287h0M454.5 287h0M645.5 287h0M1467.5 287h0M1500 287h0M1520.5 287h0M1535.5 287h0M1538.5 287h0M262.5 287.5h0M414.5 287.5h0M606.5 287.5h0M640.5 287.5h0M1509.5 287.5h0M171 288h0M381 288h0M425.5 288h0M631 288h0M638 288h0M655 288h0M657.5 288h0M1464.5 288h0M1483.5 288h0M1527.5 288h0M1960.5 288h0M219.5 288.5h0M362.5 288.5h0M429 288.5h0M437.5 288.5h0M441 288.5h0M465.5 288.5h0M646.5 288.5h0M664 288.5h0M1467.5 288.5h0M1522 288.5h0M156 289h0M180.5 289h0M326.5 289h0M332.5 289h0M359 289h0M370 289h0M376.5 289h0M457 289h0M468 289h0M516 289h0M658 289h0M1512 289h0M1532 289h0M1538 289h0M1813.5 289h0M143 289.5h0M404 289.5h0M427 289.5h0M433 289.5h0M447 289.5h0M461.5 289.5h0M478 289.5h0M505 289.5h0M625.5 289.5h0M648.5 289.5h0M671 289.5h0M1465 289.5h0M1794 289.5h0M143.5 290h0M427.5 290h0M431 290h0M449.5 290h0M598 290h0M631 290h0M645.5 290h0M1796.5 290h0M142 290.5h0M611.5 290.5h0M618 290.5h0M665 290.5h0M1473 290.5h0M1504.5 290.5h0M1539.5 290.5h0M419 291h0M467.5 291h0M608 291h0M1488.5 291h0M1516 291h0M351 291.5h0M438 291.5h0M619.5 291.5h0M636 291.5h0M657.5 291.5h0M1496.5 291.5h0M1538.5 291.5h0M160.5 292h0M379 292h0M457.5 292h0M640.5 292h0M1389 292h0M1464.5 292h0M421 292.5h0M428 292.5h0M443 292.5h0M661.5 292.5h0M431.5 293h0M444.5 293h0M453 293h0M461.5 293h0M598 293h0M601 293h0M661 293h0M663 293h0M665.5 293h0M671 293h0M418.5 293.5h0M429 293.5h0M452 293.5h0M467.5 293.5h0M612 293.5h0M618 293.5h0M647 293.5h0M600.5 294h0M606 294h0M638 294h0M652.5 294h0M141 294.5h0M415.5 294.5h0M430.5 294.5h0M470 294.5h0M651 294.5h0M671 294.5h0M1464.5 294.5h0M1539.5 294.5h0M266.5 295h0M412.5 295h0M420 295h0M600.5 295h0M635.5 295h0M1820 295h0M216.5 295.5h0M572 295.5h0M604 295.5h0M624.5 295.5h0M629.5 295.5h0M652.5 295.5h0M132 296h0M139.5 296h0M230 296h0M407 296h0M410 296h0M566.5 296h0M612 296h0M640.5 296h0M1292 296h0M176.5 296.5h0M316.5 296.5h0M418.5 296.5h0M434.5 296.5h0M455.5 296.5h0M606 296.5h0M668 296.5h0M672 296.5h0M2010 296.5h0M420.5 297h0M437.5 297h0M445.5 297h0M607 297h0M617 297h0M756.5 297h0M1539.5 297h0M314 297.5h0M423 297.5h0M461.5 297.5h0M643.5 297.5h0M663.5 297.5h0M721.5 297.5h0M1464.5 297.5h0M1802 297.5h0M168.5 298h0M270 298h0M413 298h0M469 298h0M537 298h0M658 298h0M1372 298h0M1825.5 298h0M135.5 298.5h0M165 298.5h0M449.5 298.5h0M659.5 298.5h0M766 298.5h0M167 299h0M451.5 299h0M477 299h0M618 299h0M622.5 299h0M642.5 299h0M646 299h0M1380.5 299h0M277 299.5h0M310.5 299.5h0M455 299.5h0M528.5 299.5h0M637 299.5h0M654 299.5h0M139.5 300h0M426 300h0M603 300h0M630.5 300h0M659 300h0M1464.5 300h0M145.5 300.5h0M470.5 300.5h0M516.5 300.5h0M551 300.5h0M597 300.5h0M629.5 300.5h0M889 300.5h0M1539 300.5h0M174.5 301h0M231 301h0M285 301h0M308 301h0M415.5 301h0M428.5 301h0M442 301h0M469.5 301h0M475 301h0M477 301h0M642 301h0M698 301h0M1807 301h0M142 301.5h0M150.5 301.5h0M233 301.5h0M246.5 301.5h0M345.5 301.5h0M350 301.5h0M435 301.5h0M666.5 301.5h0M118.5 302h0M232.5 302h0M268.5 302h0M457.5 302h0M470.5 302h0M619.5 302h0M625.5 302h0M670.5 302h0M672.5 302h0M1464 302h0M1960.5 302h0M164 302.5h0M277.5 302.5h0M413.5 302.5h0M464.5 302.5h0M519 302.5h0M610.5 302.5h0M617.5 302.5h0M216.5 303h0M241.5 303h0M245 303h0M404 303h0M406 303h0M433 303h0M449.5 303h0M456 303h0M467 303h0M471 303h0M531.5 303h0M606 303h0M651.5 303h0M656.5 303h0M1464.5 303h0M1799.5 303h0M272 303.5h0M374.5 303.5h0M376 303.5h0M409.5 303.5h0M420.5 303.5h0M437.5 303.5h0M546.5 303.5h0M598.5 303.5h0M600.5 303.5h0M614 303.5h0M625 303.5h0M627.5 303.5h0M636 303.5h0M648 303.5h0M145 304h0M216 304h0M266 304h0M415 304h0M441 304h0M447 304h0M608.5 304h0M643.5 304h0M660 304h0M1539 304h0M138 304.5h0M143.5 304.5h0M161 304.5h0M326 304.5h0M405 304.5h0M665.5 304.5h0M1013 304.5h0M128.5 305h0M182.5 305h0M244.5 305h0M338 305h0M371.5 305h0M416.5 305h0M454 305h0M458.5 305h0M507 305h0M543.5 305h0M615 305h0M633 305h0M1376 305h0M272.5 305.5h0M429.5 305.5h0M649.5 305.5h0M651 305.5h0M249 306h0M442.5 306h0M475 306h0M621.5 306h0M653.5 306h0M663.5 306h0M128 306.5h0M174 306.5h0M328.5 306.5h0M381.5 306.5h0M382.5 306.5h0M426.5 306.5h0M476.5 306.5h0M509.5 306.5h0M552 306.5h0M653.5 306.5h0M1464.5 306.5h0M129.5 307h0M229.5 307h0M276 307h0M283.5 307h0M407 307h0M430 307h0M434 307h0M451 307h0M530.5 307h0M599.5 307h0M639 307h0M1464 307h0M1538.5 307h0M274.5 307.5h0M278.5 307.5h0M328 307.5h0M411 307.5h0M635 307.5h0M640 307.5h0M670.5 307.5h0M312.5 308h0M404 308h0M449 308h0M457 308h0M461.5 308h0M467.5 308h0M633.5 308h0M666 308h0M1539 308h0M184 308.5h0M421 308.5h0M448.5 308.5h0M611 308.5h0M618.5 308.5h0M658.5 308.5h0M664.5 308.5h0M668.5 308.5h0M1394 308.5h0M1808 308.5h0M223 309h0M235.5 309h0M425.5 309h0M568.5 309h0M605 309h0M626 309h0M216 309.5h0M335 309.5h0M645 309.5h0M1465 309.5h0M315 310h0M326.5 310h0M328.5 310h0M411.5 310h0M425 310h0M514 310h0M597 310h0M613 310h0M631 310h0M649.5 310h0M1539 310h0M269.5 310.5h0M436.5 310.5h0M439 310.5h0M450.5 310.5h0M454.5 310.5h0M459.5 310.5h0M564 310.5h0M602.5 310.5h0M119.5 311h0M190.5 311h0M229 311h0M243.5 311h0M416.5 311h0M419.5 311h0M469.5 311h0M549 311h0M626.5 311h0M671 311h0M1987.5 311h0M472 311.5h0M566.5 311.5h0M619 311.5h0M642.5 311.5h0M931 311.5h0M1464.5 311.5h0M1597.5 311.5h0M218.5 312h0M338 312h0M425.5 312h0M439.5 312h0M607 312h0M648.5 312h0M1539 312h0M1682 312h0M1760 312h0M163.5 312.5h0M256.5 312.5h0M266 312.5h0M406.5 312.5h0M409.5 312.5h0M444 312.5h0M639 312.5h0M1797 312.5h0M135.5 313h0M161 313h0M230 313h0M414 313h0M415 313h0M430 313h0M467.5 313h0M470 313h0M643.5 313h0M258.5 313.5h0M446 313.5h0M461 313.5h0M463.5 313.5h0M477.5 313.5h0M671.5 313.5h0M1762 313.5h0M227 314h0M279 314h0M332.5 314h0M362.5 314h0M429 314h0M432.5 314h0M455 314h0M477 314h0M598 314h0M925 314h0M1286 314h0M408 314.5h0M537.5 314.5h0M1329 314.5h0M146.5 315h0M183.5 315h0M373 315h0M449.5 315h0M508 315h0M553 315h0M1464 315h0M1712 315h0M326 315.5h0M338.5 315.5h0M355.5 315.5h0M438.5 315.5h0M552 315.5h0M1028 315.5h0M1956 315.5h0M479.5 316h0M516 316h0M521.5 316h0M548 316h0M672.5 316h0M1026 316h0M1539 316h0M1805 316h0M245.5 316.5h0M262.5 316.5h0M271.5 316.5h0M369 316.5h0M404.5 316.5h0M426 316.5h0M472 316.5h0M1769 316.5h0M242.5 317h0M410.5 317h0M597.5 317h0M177.5 317.5h0M226.5 317.5h0M308 317.5h0M335.5 317.5h0M419 317.5h0M546 317.5h0M573.5 317.5h0M1711 317.5h0M139 318h0M260 318h0M281.5 318h0M357 318h0M358 318h0M423.5 318h0M541.5 318h0M1301.5 318h0M1539.5 318h0M128.5 318.5h0M350.5 318.5h0M362 318.5h0M366 318.5h0M479 318.5h0M479.5 318.5h0M149.5 319h0M252 319h0M322.5 319h0M556.5 319h0M1464 319h0M225.5 319.5h0M340 319.5h0M405 319.5h0M516 319.5h0M555.5 319.5h0M1322 319.5h0M1658 319.5h0M1802.5 319.5h0M144 320h0M230 320h0M351.5 320h0M368.5 320h0M597 320h0M671.5 320h0M1780 320h0M237.5 320.5h0M558 320.5h0M1631 320.5h0M125.5 321h0M164.5 321h0M167 321h0M255 321h0M281.5 321h0M330 321h0M479.5 321h0M534 321h0M946 321h0M1464.5 321h0M226.5 321.5h0M671 321.5h0M2012 321.5h0M178.5 322h0M270.5 322h0M283 322h0M405.5 322h0M548.5 322h0M598 322h0M1539.5 322h0M116.5 322.5h0M248 322.5h0M275 322.5h0M380.5 322.5h0M526 322.5h0M1464 322.5h0M1724.5 322.5h0M404.5 323h0M117.5 323.5h0M121.5 323.5h0M146.5 323.5h0M257 323.5h0M263.5 323.5h0M264.5 323.5h0M377.5 323.5h0M535 323.5h0M243.5 324h0M369 324h0M557 324h0M1804 324h0M218 324.5h0M383 324.5h0M404.5 324.5h0M1464 324.5h0M250.5 325h0M365.5 325h0M479.5 325h0M672 325h0M121.5 325.5h0M315.5 325.5h0M572.5 325.5h0M671.5 325.5h0M1338 325.5h0M1539 325.5h0M1947 325.5h0M2007 325.5h0M148.5 326h0M164 326h0M235.5 326h0M367.5 326h0M534 326h0M558.5 326h0M597.5 326h0M671 326h0M121 326.5h0M222 326.5h0M516.5 326.5h0M1026.5 326.5h0M1298.5 326.5h0M2005.5 326.5h0M323.5 327h0M544.5 327h0M1539.5 327h0M1988.5 327h0M149.5 327.5h0M229 327.5h0M479.5 327.5h0M717.5 327.5h0M752 327.5h0M1330 327.5h0M1369 327.5h0M1798.5 327.5h0M167.5 328h0M185 328h0M259.5 328h0M522.5 328h0M1464.5 328h0M1538.5 328h0M243.5 328.5h0M404.5 328.5h0M504.5 328.5h0M512 328.5h0M546.5 328.5h0M597 328.5h0M672.5 328.5h0M758 328.5h0M1015.5 328.5h0M1331.5 328.5h0M127.5 329h0M147 329h0M169 329h0M235 329h0M240 329h0M277.5 329h0M329.5 329h0M337 329h0M519.5 329h0M537 329h0M553.5 329h0M1301.5 329h0M1659.5 329h0M1724.5 329h0M137 329.5h0M189 329.5h0M225 329.5h0M242 329.5h0M282.5 329.5h0M154 330h0M176.5 330h0M286.5 330h0M308 330h0M404.5 330h0M1539 330h0M1691 330h0M132.5 330.5h0M172.5 330.5h0M344.5 330.5h0M405 330.5h0M479.5 330.5h0M508.5 330.5h0M248 331h0M378 331h0M510 331h0M516.5 331h0M672.5 331h0M1464.5 331h0M1539.5 331h0M1763 331h0M130.5 331.5h0M150 331.5h0M169.5 331.5h0M190.5 331.5h0M272 331.5h0M280.5 331.5h0M542 331.5h0M597 331.5h0M1952 331.5h0M1989 331.5h0M154.5 332h0M245 332h0M361 332h0M367.5 332h0M532 332h0M1685.5 332h0M1697 332h0M1863.5 332h0M153 332.5h0M167 332.5h0M283 332.5h0M1684.5 332.5h0M1956 332.5h0M171.5 333h0M335 333h0M536 333h0M1465 333h0M1538.5 333h0M2000.5 333h0M161.5 333.5h0M236 333.5h0M247 333.5h0M361.5 333.5h0M534 333.5h0M540.5 333.5h0M936.5 333.5h0M1464.5 333.5h0M1668.5 333.5h0M132 334h0M173 334h0M180 334h0M229 334h0M250.5 334h0M266 334h0M276 334h0M309 334h0M330 334h0M338 334h0M536.5 334h0M553.5 334h0M1826.5 334h0M223.5 334.5h0M259.5 334.5h0M404.5 334.5h0M522 334.5h0M523.5 334.5h0M543 334.5h0M545.5 334.5h0M575.5 334.5h0M597.5 334.5h0M672.5 334.5h0M1414.5 334.5h0M125.5 335h0M143 335h0M168.5 335h0M273.5 335h0M479.5 335h0M516 335h0M557 335h0M1296.5 335h0M131.5 335.5h0M155.5 335.5h0M186 335.5h0M227 335.5h0M257 335.5h0M502.5 336h0M525.5 336h0M551 336h0M556.5 336h0M570 336h0M1806 336h0M148 336.5h0M236.5 336.5h0M479.5 336.5h0M503 336.5h0M1687.5 336.5h0M1790.5 336.5h0M405 337h0M555 337h0M562 337h0M572 337h0M597 337h0M1464.5 337h0M1539.5 337h0M1691.5 337h0M124 337.5h0M126 337.5h0M285 337.5h0M672.5 337.5h0M1576.5 337.5h0M1668 337.5h0M157 338h0M239.5 338h0M254.5 338h0M278 338h0M324 338h0M327 338h0M365 338h0M551.5 338h0M572.5 338h0M705 338h0M215.5 338.5h0M230.5 338.5h0M320.5 338.5h0M571 338.5h0M1464 338.5h0M1802.5 338.5h0M121 339h0M143.5 339h0M149.5 339h0M178 339h0M185 339h0M261 339h0M351 339h0M550.5 339h0M953.5 339h0M1826 339h0M138 339.5h0M160 339.5h0M163 339.5h0M276.5 339.5h0M309.5 339.5h0M332.5 339.5h0M363.5 339.5h0M532 339.5h0M539.5 339.5h0M717 339.5h0M891.5 339.5h0M905.5 339.5h0M1038.5 339.5h0M1050 339.5h0M1538.5 339.5h0M163.5 340h0M250 340h0M260 340h0M329.5 340h0M331.5 340h0M378.5 340h0M404 340h0M597.5 340h0M909 340h0M1465 340h0M183 340.5h0M212.5 340.5h0M232.5 340.5h0M258 340.5h0M356 340.5h0M405 340.5h0M479.5 340.5h0M504 340.5h0M723 340.5h0M145.5 341h0M168 341h0M176 341h0M185.5 341h0M321.5 341h0M507.5 341h0M672 341h0M956 341h0M1681.5 341h0M1963.5 341h0M131 341.5h0M135.5 341.5h0M171 341.5h0M247.5 341.5h0M529 341.5h0M542 341.5h0M549 341.5h0M574 341.5h0M721 341.5h0M1392.5 341.5h0M1401.5 341.5h0M1464.5 341.5h0M115.5 342h0M119 342h0M122.5 342h0M153.5 342h0M213.5 342h0M219 342h0M530.5 342h0M559.5 342h0M597 342h0M1539.5 342h0M126.5 342.5h0M173 342.5h0M342 342.5h0M405 342.5h0M551.5 342.5h0M1282.5 342.5h0M1465 342.5h0M1538.5 342.5h0M135.5 343h0M176.5 343h0M189.5 343h0M251.5 343h0M260 343h0M515.5 343h0M695.5 343h0M1760.5 343h0M1773 343h0M2013.5 343h0M127 343.5h0M240 343.5h0M356.5 343.5h0M479 343.5h0M598 343.5h0M672 343.5h0M1713 343.5h0M1978 343.5h0M155 344h0M233 344h0M240.5 344h0M313.5 344h0M363 344h0M382 344h0M404 344h0M570 344h0M894 344h0M1007.5 344h0M1300.5 344h0M1333.5 344h0M1789.5 344h0M167 344.5h0M280 344.5h0M331 344.5h0M502.5 344.5h0M557.5 344.5h0M597 344.5h0M1825 344.5h0M125 345h0M135 345h0M143 345h0M151 345h0M161 345h0M181 345h0M259 345h0M404 345h0M535 345h0M908.5 345h0M234 345.5h0M258 345.5h0M515 345.5h0M549.5 345.5h0M570 345.5h0M672.5 345.5h0M886.5 345.5h0M910 345.5h0M1756 345.5h0M119 346h0M130 346h0M144 346h0M167 346h0M762.5 346h0M1321.5 346h0M1538 346h0M125.5 346.5h0M130 346.5h0M254.5 346.5h0M284.5 346.5h0M518 346.5h0M597 346.5h0M1310 346.5h0M1464 346.5h0M1628.5 346.5h0M1963 346.5h0M116.5 347h0M177 347h0M404 347h0M479 347h0M542 347h0M672 347h0M1703.5 347h0M1805 347h0M1967 347h0M141.5 347.5h0M225 347.5h0M233 347.5h0M352.5 347.5h0M371.5 347.5h0M506 347.5h0M568 347.5h0M1290 347.5h0M1394.5 347.5h0M142.5 348h0M150.5 348h0M187 348h0M228 348h0M242 348h0M250 348h0M527 348h0M552.5 348h0M1464 348h0M1539.5 348h0M1920 348h0M1997 348h0M160.5 348.5h0M234.5 348.5h0M272 348.5h0M323.5 348.5h0M556.5 348.5h0M1370.5 348.5h0M1673.5 348.5h0M122.5 349h0M128 349h0M137 349h0M179 349h0M265.5 349h0M278.5 349h0M346 349h0M503.5 349h0M511 349h0M551 349h0M597 349h0M672 349h0M790.5 349h0M908.5 349h0M116.5 349.5h0M154 349.5h0M184 349.5h0M261.5 349.5h0M404 349.5h0M479.5 349.5h0M526 349.5h0M886.5 349.5h0M926 349.5h0M1692.5 349.5h0M1801.5 349.5h0M1819 349.5h0M2009.5 349.5h0M172 350h0M318.5 350h0M758.5 350h0M898.5 350h0M1763 350h0M117.5 350.5h0M133.5 350.5h0M145.5 350.5h0M160 350.5h0M168.5 350.5h0M227.5 350.5h0M324 350.5h0M507 350.5h0M523.5 350.5h0M560.5 350.5h0M1611.5 350.5h0M1730.5 350.5h0M139 351h0M148 351h0M171.5 351h0M243 351h0M325.5 351h0M335.5 351h0M351 351h0M376 351h0M536 351h0M540 351h0M1539.5 351h0M1685 351h0M162.5 351.5h0M213 351.5h0M280.5 351.5h0M342 351.5h0M404.5 351.5h0M1273 351.5h0M1275 351.5h0M1464.5 351.5h0M1678.5 351.5h0M156 352h0M236 352h0M246 352h0M253 352h0M253.5 352h0M275.5 352h0M479.5 352h0M512.5 352h0M1287.5 352h0M1317.5 352h0M1399.5 352h0M159 352.5h0M314 352.5h0M537.5 352.5h0M544 352.5h0M546.5 352.5h0M562 352.5h0M597.5 352.5h0M115.5 353h0M233 353h0M348 353h0M512.5 353h0M671.5 353h0M1597.5 353h0M157 353.5h0M240 353.5h0M522.5 353.5h0M572.5 353.5h0M758 353.5h0M119.5 354h0M127 354h0M144 354h0M160 354h0M182 354h0M223.5 354h0M370 354h0M560 354h0M1756.5 354h0M1776 354h0M149 354.5h0M226 354.5h0M232.5 354.5h0M479.5 354.5h0M509.5 354.5h0M514.5 354.5h0M517 354.5h0M554.5 354.5h0M1464.5 354.5h0M116 355h0M167 355h0M212.5 355h0M542 355h0M570.5 355h0M598 355h0M939.5 355h0M1539.5 355h0M1560.5 355h0M1593.5 355h0M1714 355h0M138.5 355.5h0M177 355.5h0M185 355.5h0M253 355.5h0M264.5 355.5h0M277 355.5h0M284.5 355.5h0M328.5 355.5h0M405 355.5h0M520.5 355.5h0M523.5 355.5h0M524 355.5h0M1333 355.5h0M1698 355.5h0M136.5 356h0M150.5 356h0M211.5 356h0M285 356h0M366.5 356h0M528 356h0M574 356h0M672.5 356h0M120.5 356.5h0M159.5 356.5h0M164.5 356.5h0M234.5 356.5h0M277 356.5h0M951.5 356.5h0M1142.5 356.5h0M1316.5 356.5h0M1804.5 356.5h0M124 357h0M125 357h0M130.5 357h0M148.5 357h0M150.5 357h0M171.5 357h0M189.5 357h0M219.5 357h0M245 357h0M267 357h0M501 357h0M567 357h0M1661 357h0M1677 357h0M1760 357h0M1828.5 357h0M235.5 357.5h0M237.5 357.5h0M405 357.5h0M479 357.5h0M766.5 357.5h0M1465 357.5h0M115 358h0M126.5 358h0M185.5 358h0M225 358h0M269 358h0M381.5 358h0M548.5 358h0M597.5 358h0M672.5 358h0M1323.5 358h0M1538.5 358h0M119.5 358.5h0M120 358.5h0M250.5 358.5h0M273.5 358.5h0M310 358.5h0M506 358.5h0M512.5 358.5h0M547 358.5h0M565.5 358.5h0M1977.5 358.5h0M129 359h0M212.5 359h0M255 359h0M350.5 359h0M505 359h0M515.5 359h0M545 359h0M898 359h0M2016 359h0M177 359.5h0M177.5 359.5h0M274 359.5h0M279 359.5h0M285 359.5h0M310.5 359.5h0M532.5 359.5h0M671.5 359.5h0M2012.5 359.5h0M154 360h0M330.5 360h0M336 360h0M365 360h0M404 360h0M526.5 360h0M551.5 360h0M557 360h0M904.5 360h0M989 360h0M1273.5 360h0M1539.5 360h0M1662 360h0M181.5 360.5h0M232 360.5h0M236.5 360.5h0M242.5 360.5h0M248 360.5h0M261.5 360.5h0M281 360.5h0M405 360.5h0M479 360.5h0M529 360.5h0M538.5 360.5h0M571 360.5h0M996 360.5h0M1464 360.5h0M2011.5 360.5h0M2015.5 360.5h0M138.5 361h0M143 361h0M145.5 361h0M163 361h0M230 361h0M259.5 361h0M364.5 361h0M405.5 361h0M508.5 361h0M910 361h0M1388 361h0M1539 361h0M1686.5 361h0M170 361.5h0M217 361.5h0M257.5 361.5h0M382.5 361.5h0M525.5 361.5h0M542 361.5h0M554 361.5h0M671.5 361.5h0M1868 361.5h0M176.5 362h0M218 362h0M220.5 362h0M517.5 362h0M527.5 362h0M597 362h0M1228 362h0M133.5 362.5h0M137 362.5h0M156.5 362.5h0M177.5 362.5h0M211.5 362.5h0M231 362.5h0M240.5 362.5h0M280.5 362.5h0M349 362.5h0M520.5 362.5h0M536.5 362.5h0M571 362.5h0M571.5 362.5h0M269 363h0M364.5 363h0M370.5 363h0M502 363h0M552 363h0M558.5 363h0M895 363h0M1308 363h0M1657.5 363h0M116.5 363.5h0M188 363.5h0M189 363.5h0M212 363.5h0M227.5 363.5h0M238.5 363.5h0M251.5 363.5h0M256 363.5h0M273.5 363.5h0M383 363.5h0M479.5 363.5h0M531 363.5h0M672 363.5h0M1398 363.5h0M1464 363.5h0M1823 363.5h0M123 364h0M130 364h0M167 364h0M218.5 364h0M264.5 364h0M285.5 364h0M404 364h0M405 364h0M598 364h0M1539.5 364h0M122 364.5h0M249.5 364.5h0M366.5 364.5h0M522 364.5h0M565 364.5h0M671.5 364.5h0M855 364.5h0M1321 364.5h0M126.5 365h0M149 365h0M155.5 365h0M170.5 365h0M181 365h0M187.5 365h0M266.5 365h0M283 365h0M334 365h0M503 365h0M1009 365h0M1787 365h0M1991.5 365h0M142 365.5h0M212 365.5h0M231 365.5h0M253.5 365.5h0M280 365.5h0M345.5 365.5h0M511.5 365.5h0M1053 365.5h0M1246 365.5h0M1324.5 365.5h0M1697 365.5h0M1703.5 365.5h0M1728 365.5h0M226.5 366h0M265 366h0M276 366h0M364 366h0M540.5 366h0M1306 366h0M1320.5 366h0M1539.5 366h0M1666.5 366h0M1686 366h0M1691 366h0M1768.5 366h0M1772.5 366h0M116.5 366.5h0M126 366.5h0M248.5 366.5h0M276.5 366.5h0M325.5 366.5h0M342.5 366.5h0M404.5 366.5h0M479 366.5h0M505 366.5h0M527 366.5h0M557 366.5h0M768.5 366.5h0M1464 366.5h0M1661.5 366.5h0M1727.5 366.5h0M140 367h0M158 367h0M159.5 367h0M185.5 367h0M519.5 367h0M539 367h0M561.5 367h0M573.5 367h0M893 367h0M168.5 367.5h0M322 367.5h0M328 367.5h0M346 367.5h0M380 367.5h0M502 367.5h0M554.5 367.5h0M672 367.5h0M983 367.5h0M1850.5 367.5h0M1980.5 367.5h0M115 368h0M163 368h0M217 368h0M219 368h0M222.5 368h0M241.5 368h0M263.5 368h0M532.5 368h0M597.5 368h0M888 368h0M921.5 368h0M1581 368h0M1619 368h0M117.5 368.5h0M149.5 368.5h0M256 368.5h0M358.5 368.5h0M537 368.5h0M538.5 368.5h0M897.5 368.5h0M957 368.5h0M1298.5 368.5h0M127 369h0M133 369h0M160 369h0M180 369h0M232.5 369h0M237 369h0M240.5 369h0M248.5 369h0M265.5 369h0M272 369h0M360 369h0M515 369h0M550.5 369h0M568.5 369h0M597 369h0M1297 369h0M1464.5 369h0M1539.5 369h0M169 369.5h0M176 369.5h0M182.5 369.5h0M187 369.5h0M228 369.5h0M281.5 369.5h0M540 369.5h0M1039 369.5h0M143.5 370h0M232.5 370h0M248 370h0M268.5 370h0M340.5 370h0M365.5 370h0M405 370h0M505.5 370h0M526.5 370h0M551.5 370h0M572 370h0M1079.5 370h0M1344.5 370h0M1464 370h0M1794.5 370h0M143 370.5h0M154 370.5h0M232.5 370.5h0M255.5 370.5h0M286 370.5h0M479.5 370.5h0M510 370.5h0M597.5 370.5h0M123.5 371h0M133.5 371h0M212 371h0M236 371h0M254.5 371h0M286 371h0M318 371h0M322.5 371h0M529.5 371h0M671 371h0M188 371.5h0M211.5 371.5h0M267 371.5h0M333 371.5h0M345 371.5h0M503 371.5h0M544 371.5h0M555.5 371.5h0M565 371.5h0M1039.5 371.5h0M1328 371.5h0M1723.5 371.5h0M163.5 372h0M241 372h0M256.5 372h0M262.5 372h0M276.5 372h0M285.5 372h0M514.5 372h0M522 372h0M672 372h0M1300.5 372h0M1312 372h0M1539.5 372h0M138.5 372.5h0M166 372.5h0M213 372.5h0M225 372.5h0M284.5 372.5h0M404 372.5h0M523 372.5h0M537.5 372.5h0M562.5 372.5h0M569.5 372.5h0M897.5 372.5h0M1658.5 372.5h0M1717 372.5h0M1728 372.5h0M170 373h0M215 373h0M272 373h0M282 373h0M479.5 373h0M545.5 373h0M597.5 373h0M672 373h0M1328.5 373h0M1371.5 373h0M1696 373h0M116.5 373.5h0M142 373.5h0M217 373.5h0M266 373.5h0M331.5 373.5h0M352 373.5h0M510.5 373.5h0M1464.5 373.5h0M1675.5 373.5h0M1980 373.5h0M118 374h0M147 374h0M147.5 374h0M148.5 374h0M174 374h0M212 374h0M225.5 374h0M254 374h0M507 374h0M1796 374h0M132.5 374.5h0M174.5 374.5h0M177.5 374.5h0M221 374.5h0M230.5 374.5h0M243.5 374.5h0M285.5 374.5h0M315.5 374.5h0M339 374.5h0M360 374.5h0M370.5 374.5h0M571.5 374.5h0M1657 374.5h0M1966 374.5h0M131 375h0M158.5 375h0M190 375h0M236.5 375h0M257.5 375h0M325 375h0M505.5 375h0M522 375h0M526.5 375h0M552 375h0M559.5 375h0M566.5 375h0M574 375h0M715 375h0M942 375h0M1182.5 375h0M1310 375h0M1595.5 375h0M1680.5 375h0M1789.5 375h0M186 375.5h0M280 375.5h0M515.5 375.5h0M516 375.5h0M549.5 375.5h0M558.5 375.5h0M1003 375.5h0M1014.5 375.5h0M1329 375.5h0M1592 375.5h0M1792 375.5h0M1850 375.5h0M127.5 376h0M151.5 376h0M218.5 376h0M274.5 376h0M371.5 376h0M564 376h0M955 376h0M1324 376h0M1465 376h0M1538.5 376h0M1539.5 376h0M121 376.5h0M136 376.5h0M173.5 376.5h0M221.5 376.5h0M262.5 376.5h0M362.5 376.5h0M404.5 376.5h0M479.5 376.5h0M533.5 376.5h0M538 376.5h0M672.5 376.5h0M900 376.5h0M1674 376.5h0M1753 376.5h0M159.5 377h0M183 377h0M212 377h0M213 377h0M251.5 377h0M264 377h0M286.5 377h0M320.5 377h0M506 377h0M598 377h0M900.5 377h0M1789.5 377h0M1827.5 377h0M148.5 377.5h0M219 377.5h0M231 377.5h0M232 377.5h0M248 377.5h0M270.5 377.5h0M541 377.5h0M560.5 377.5h0M1286.5 377.5h0M1302 377.5h0M1755.5 377.5h0M156 378h0M227.5 378h0M254.5 378h0M264.5 378h0M287 378h0M375 378h0M501 378h0M552.5 378h0M569 378h0M597 378h0M695 378h0M745 378h0M891.5 378h0M1415.5 378h0M1539.5 378h0M165.5 378.5h0M189.5 378.5h0M253.5 378.5h0M263 378.5h0M281.5 378.5h0M376.5 378.5h0M479 378.5h0M502 378.5h0M553.5 378.5h0M1465.5 378.5h0M1539 378.5h0M1680 378.5h0M1719 378.5h0M1782 378.5h0M1967.5 378.5h0M1981.5 378.5h0M173 379h0M278 379h0M405 379h0M513 379h0M518 379h0M570 379h0M671 379h0M900 379h0M934 379h0M1789.5 379h0M1982.5 379h0M125 379.5h0M148.5 379.5h0M311 379.5h0M317.5 379.5h0M329.5 379.5h0M525.5 379.5h0M597 379.5h0M1012 379.5h0M116 380h0M142.5 380h0M178 380h0M180.5 380h0M190.5 380h0M211.5 380h0M241 380h0M285.5 380h0M530 380h0M547.5 380h0M735.5 380h0M1696.5 380h0M1759 380h0M1902 380h0M132 380.5h0M220 380.5h0M233 380.5h0M269 380.5h0M375 380.5h0M532 380.5h0M543.5 380.5h0M560.5 380.5h0M672 380.5h0M1698.5 380.5h0M136.5 381h0M190.5 381h0M225 381h0M242.5 381h0M404 381h0M504 381h0M1315.5 381h0M1430.5 381h0M2018.5 381h0M134.5 381.5h0M258.5 381.5h0M341 381.5h0M562.5 381.5h0M1465.5 381.5h0M1634.5 381.5h0M115 382h0M164 382h0M238.5 382h0M245 382h0M479.5 382h0M524.5 382h0M567 382h0M1538.5 382h0M1621 382h0M1793.5 382h0M2019 382h0M120.5 382.5h0M161 382.5h0M165.5 382.5h0M166.5 382.5h0M538.5 382.5h0M597.5 382.5h0M672 382.5h0M727.5 382.5h0M1324 382.5h0M1439.5 382.5h0M116 383h0M116.5 383h0M218.5 383h0M551.5 383h0M557 383h0M566.5 383h0M1311.5 383h0M1676 383h0M2008.5 383h0M175.5 383.5h0M287 383.5h0M346 383.5h0M507 383.5h0M575 383.5h0M1959.5 383.5h0M190.5 384h0M211.5 384h0M313.5 384h0M321 384h0M328 384h0M508.5 384h0M540.5 384h0M567.5 384h0M705.5 384h0M944 384h0M1338 384h0M1391.5 384h0M1962 384h0M189.5 384.5h0M331.5 384.5h0M363.5 384.5h0M404 384.5h0M513 384.5h0M514 384.5h0M541.5 384.5h0M564 384.5h0M671.5 384.5h0M1396.5 384.5h0M1539 384.5h0M364.5 385h0M366 385h0M506 385h0M513.5 385h0M961 385h0M990 385h0M1047.5 385h0M1289 385h0M1464 385h0M325 385.5h0M348 385.5h0M479.5 385.5h0M514 385.5h0M522 385.5h0M548 385.5h0M555.5 385.5h0M572.5 385.5h0M894 385.5h0M955 385.5h0M1587.5 385.5h0M286 386h0M516.5 386h0M597 386h0M957 386h0M212 386.5h0M532 386.5h0M533.5 386.5h0M1011 386.5h0M1335.5 386.5h0M115 387h0M190 387h0M320 387h0M504.5 387h0M521 387h0M528 387h0M1414 387h0M1464 387h0M1464.5 387h0M1538.5 387h0M1717 387h0M1988.5 387h0M502 387.5h0M1539.5 387.5h0M308.5 388h0M404.5 388h0M536 388h0M556 388h0M559.5 388h0M672 388h0M727 388h0M1464 388h0M353 388.5h0M479 388.5h0M516 388.5h0M597 388.5h0M1726 388.5h0M1973.5 388.5h0M574.5 389h0M1323 389h0M1339.5 389h0M1594 389h0M1730.5 389h0M212.5 389.5h0M286 389.5h0M286.5 389.5h0M347 389.5h0M504.5 389.5h0M541.5 389.5h0M569.5 389.5h0M1010.5 389.5h0M116.5 390h0M190.5 390h0M373 390h0M535.5 390h0M549.5 390h0M1037 390h0M1271.5 390h0M1410.5 390h0M1465 390h0M1539 390h0M1999.5 390h0M547 390.5h0M551.5 390.5h0M736 390.5h0M1287.5 390.5h0M1635.5 390.5h0M1718.5 390.5h0M1796 390.5h0M1822.5 390.5h0M1993 390.5h0M323.5 391h0M479.5 391h0M502.5 391h0M509.5 391h0M518.5 391h0M532.5 391h0M572.5 391h0M574 391h0M671.5 391h0M903 391h0M1413 391h0M1662.5 391h0M1679.5 391h0M1754.5 391h0M1949 391h0M2012 391h0M318.5 391.5h0M320 391.5h0M404.5 391.5h0M523.5 391.5h0M565.5 391.5h0M597 391.5h0M1279 391.5h0M1285 391.5h0M1909 391.5h0M349 392h0M541.5 392h0M563.5 392h0M598 392h0M1303.5 392h0M1326 392h0M1661.5 392h0M115 392.5h0M190 392.5h0M286.5 392.5h0M343 392.5h0M523 392.5h0M528 392.5h0M575.5 392.5h0M1298.5 392.5h0M1301 392.5h0M1417 392.5h0M212 393h0M331 393h0M518.5 393h0M547.5 393h0M568.5 393h0M1390 393h0M1539.5 393h0M1574.5 393h0M1825 393h0M342.5 393.5h0M348 393.5h0M479 393.5h0M512.5 393.5h0M521.5 393.5h0M538 393.5h0M550.5 393.5h0M704.5 393.5h0M1982.5 393.5h0M405 394h0M544.5 394h0M558 394h0M574.5 394h0M597 394h0M671.5 394h0M1286.5 394h0M1403 394h0M1464.5 394h0M287 394.5h0M501 394.5h0M1005.5 394.5h0M1800 394.5h0M116 395h0M364 395h0M507 395h0M597 395h0M672 395h0M699 395h0M1115.5 395h0M1755.5 395h0M1969.5 395h0M190 395.5h0M212 395.5h0M285.5 395.5h0M344.5 395.5h0M373 395.5h0M528 395.5h0M551 395.5h0M556.5 395.5h0M860 395.5h0M543 396h0M1275 396h0M1298 396h0M1343.5 396h0M1465 396h0M346 396.5h0M346.5 396.5h0M368.5 396.5h0M562.5 396.5h0M1154 396.5h0M1539.5 396.5h0M1672 396.5h0M190.5 397h0M379 397h0M404.5 397h0M478.5 397h0M501 397h0M512 397h0M573.5 397h0M575 397h0M768.5 397h0M1464 397h0M326 397.5h0M339.5 397.5h0M479 397.5h0M563.5 397.5h0M567 397.5h0M598 397.5h0M672 397.5h0M1811 397.5h0M211.5 398h0M314.5 398h0M525.5 398h0M535 398h0M549 398h0M672.5 398h0M1293.5 398h0M1773.5 398h0M116.5 398.5h0M190 398.5h0M518 398.5h0M1343.5 398.5h0M286.5 399h0M538 399h0M556 399h0M575.5 399h0M1539 399h0M316.5 399.5h0M507.5 399.5h0M527 399.5h0M537 399.5h0M924.5 399.5h0M926 399.5h0M955.5 399.5h0M1312 399.5h0M1686 399.5h0M1703.5 399.5h0M1823 399.5h0M405.5 400h0M500.5 400h0M530 400h0M572 400h0M597 400h0M1128.5 400h0M1322.5 400h0M1340 400h0M1465 400h0M1664.5 400h0M479 400.5h0M1464.5 400.5h0M1672 400.5h0M115 401h0M368.5 401h0M531.5 401h0M671.5 401h0M1278 401h0M1441.5 401h0M1539 401h0M1775 401h0M1787.5 401h0M1810 401h0M189.5 401.5h0M190 401.5h0M286 401.5h0M404.5 401.5h0M555 401.5h0M1271.5 401.5h0M1724.5 401.5h0M211.5 402h0M339 402h0M507.5 402h0M575.5 402h0M994.5 402h0M1195 402h0M1295 402h0M1464 402h0M1538.5 402h0M1693.5 402h0M404.5 402.5h0M478.5 402.5h0M1106 402.5h0M1465 402.5h0M1618.5 402.5h0M1694 402.5h0M2009.5 402.5h0M405.5 403h0M501 403h0M671 403h0M1337 403h0M1824 403h0M351 403.5h0M936 403.5h0M366.5 404h0M500.5 404h0M597 404h0M672.5 404h0M897 404h0M1283 404h0M1671.5 404h0M1703 404h0M287 404.5h0M380.5 404.5h0M838.5 404.5h0M1014.5 404.5h0M1716.5 404.5h0M1765.5 404.5h0M1814 404.5h0M115.5 405h0M190.5 405h0M212.5 405h0M327 405h0M344 405h0M372.5 405h0M404.5 405h0M575 405h0M798 405h0M1294.5 405h0M1538.5 405h0M1777.5 405h0M1881.5 405h0M1979.5 405h0M2014.5 405h0M501.5 405.5h0M699 405.5h0M1464 405.5h0M311 406h0M323 406h0M330 406h0M342.5 406h0M377.5 406h0M672 406h0M1603 406h0M1779.5 406h0M349 406.5h0M352.5 406.5h0M405 406.5h0M597.5 406.5h0M1298.5 406.5h0M1539 406.5h0M190 407h0M212 407h0M478.5 407h0M672.5 407h0M987.5 407h0M1000.5 407h0M1779 407h0M1860.5 407h0M1963.5 407h0M287 407.5h0M339.5 407.5h0M369 407.5h0M1297.5 407.5h0M1808.5 407.5h0M2006.5 407.5h0M115.5 408h0M379.5 408h0M405 408h0M500.5 408h0M738 408h0M1117.5 408h0M1465 408h0M1731.5 408h0M1815.5 408h0M322.5 408.5h0M575 408.5h0M903.5 408.5h0M950.5 408.5h0M1325 408.5h0M1539 408.5h0M1764.5 408.5h0M345 409h0M478.5 409h0M950.5 409h0M1464 409h0M1667.5 409h0M2016.5 409h0M355.5 409.5h0M597 409.5h0M671.5 409.5h0M1273 409.5h0M115.5 410h0M597.5 410h0M888.5 410h0M892.5 410h0M900.5 410h0M1425.5 410h0M1718 410h0M1762.5 410h0M1775.5 410h0M190.5 410.5h0M286.5 410.5h0M315.5 410.5h0M380 410.5h0M479.5 410.5h0M891 410.5h0M212 411h0M324 411h0M342.5 411h0M357.5 411h0M364.5 411h0M1539.5 411h0M1679.5 411h0M1763 411h0M1854 411h0M316.5 411.5h0M376.5 411.5h0M404 411.5h0M501 411.5h0M575.5 411.5h0M597 411.5h0M1328.5 411.5h0M1342 411.5h0M1464.5 411.5h0M1686.5 411.5h0M1807 411.5h0M356 412h0M381.5 412h0M672.5 412h0M720 412h0M1284 412h0M1313 412h0M1771.5 412h0M1867 412h0M327.5 412.5h0M349.5 412.5h0M479 412.5h0M755 412.5h0M992.5 412.5h0M1375.5 412.5h0M1464 412.5h0M1583.5 412.5h0M1768 412.5h0M1821 412.5h0M1899.5 412.5h0M2016 412.5h0M324 413h0M352.5 413h0M933 413h0M1703 413h0M190.5 413.5h0M286 413.5h0M287 413.5h0M1442 413.5h0M1576.5 413.5h0M1815.5 413.5h0M115.5 414h0M189 414h0M211.5 414h0M312 414h0M380.5 414h0M1404.5 414h0M1538.5 414h0M1774.5 414h0M501 414.5h0M1309 414.5h0M1825.5 414.5h0M345 415h0M367.5 415h0M404.5 415h0M576 415h0M1289 415h0M1464 415h0M1757.5 415h0M2012 415h0M287 415.5h0M479 415.5h0M598 415.5h0M1273 415.5h0M1539.5 415.5h0M1628.5 415.5h0M190 416h0M211.5 416h0M314 416h0M324.5 416h0M597 416h0M672 416h0M990.5 416h0M1120 416h0M1303.5 416h0M1367.5 416h0M1701 416h0M1728.5 416h0M1806.5 416h0M287 416.5h0M337 416.5h0M896 416.5h0M951 416.5h0M1595 416.5h0M115 417h0M190.5 417h0M373.5 417h0M575 417h0M1432 417h0M1539 417h0M1595.5 417h0M352.5 417.5h0M501.5 417.5h0M1310.5 417.5h0M1321 417.5h0M1464 417.5h0M1914.5 417.5h0M1997 417.5h0M336 418h0M405 418h0M478 418h0M597 418h0M671 418h0M724 418h0M997 418h0M1306.5 418h0M1629.5 418h0M1691 418h0M1700 418h0M1789.5 418h0M1972 418h0M479.5 418.5h0M934 418.5h0M936.5 418.5h0M1398 418.5h0M1539 418.5h0M1951 418.5h0M115.5 419h0M190.5 419h0M374 419h0M919 419h0M924.5 419h0M1685 419h0M1790 419h0M286 419.5h0M500.5 419.5h0M211.5 420h0M334.5 420h0M358 420h0M701 420h0M1679 420h0M1950 420h0M1987 420h0M286.5 420.5h0M351 420.5h0M501 420.5h0M575 420.5h0M1465.5 420.5h0M1965 420.5h0M917 421h0M935 421h0M1283.5 421h0M1343 421h0M1538.5 421h0M1954 421h0M404 421.5h0M479.5 421.5h0M598 421.5h0M672 421.5h0M1727 421.5h0M1806 421.5h0M285.5 422h0M500.5 422h0M597 422h0M913.5 422h0M116 422.5h0M353.5 422.5h0M376.5 422.5h0M763.5 422.5h0M1040 422.5h0M1129.5 422.5h0M1274 422.5h0M1311 422.5h0M1431 422.5h0M1678 422.5h0M1695.5 422.5h0M189.5 423h0M211.5 423h0M313 423h0M501.5 423h0M1338.5 423h0M1539.5 423h0M1664.5 423h0M309 423.5h0M374 423.5h0M576 423.5h0M902.5 423.5h0M1308.5 423.5h0M1465 423.5h0M1670.5 423.5h0M322 424h0M357 424h0M1057.5 424h0M1284 424h0M1716.5 424h0M405 424.5h0M478.5 424.5h0M597 424.5h0M671.5 424.5h0M1139 424.5h0M1328 424.5h0M286 425h0M286.5 425h0M1464 425h0M1617.5 425h0M190.5 425.5h0M211.5 425.5h0M597 425.5h0M922.5 425.5h0M1278.5 425.5h0M1620.5 425.5h0M115 426h0M348 426h0M936.5 426h0M1424 426h0M1465 426h0M1675 426h0M1696 426h0M313.5 426.5h0M369 426.5h0M405 426.5h0M479.5 426.5h0M931 426.5h0M1413 426.5h0M1732 426.5h0M1756 426.5h0M1875 426.5h0M1999.5 426.5h0M330.5 427h0M501 427h0M598 427h0M672 427h0M721 427h0M727 427h0M1538.5 427h0M1827 427h0M347 427.5h0M576 427.5h0M748.5 427.5h0M865 427.5h0M1406 427.5h0M1659.5 427.5h0M1711.5 427.5h0M212.5 428h0M345.5 428h0M378.5 428h0M925.5 428h0M926.5 428h0M1315.5 428h0M115 428.5h0M351.5 428.5h0M381.5 428.5h0M1055 428.5h0M1337 428.5h0M1671 428.5h0M1854 428.5h0M1956 428.5h0M115.5 429h0M190.5 429h0M286.5 429h0M365 429h0M597.5 429h0M996.5 429h0M1046 429h0M1052 429h0M1276 429h0M1306.5 429h0M1539.5 429h0M314.5 429.5h0M405 429.5h0M500.5 429.5h0M576 429.5h0M1017.5 429.5h0M1600.5 429.5h0M1716 429.5h0M1793 429.5h0M1876.5 429.5h0M1994.5 429.5h0M575 430h0M672.5 430h0M1313.5 430h0M1327.5 430h0M1328 430h0M1329 430h0M1377 430h0M1464 430h0M1464.5 430h0M1568 430h0M1788 430h0M329.5 430.5h0M380.5 430.5h0M479 430.5h0M746.5 430.5h0M1277.5 430.5h0M1950 430.5h0M1951.5 430.5h0M115.5 431h0M212 431h0M598 431h0M1343.5 431h0M1675 431h0M1776.5 431h0M1863.5 431h0M190.5 431.5h0M383 431.5h0M1662 431.5h0M287 432h0M361.5 432h0M368 432h0M576 432h0M1330.5 432h0M1539.5 432h0M1826.5 432h0M1993 432h0M308 432.5h0M363 432.5h0M404 432.5h0M405 432.5h0M478.5 432.5h0M928 432.5h0M929 432.5h0M1317 432.5h0M1338.5 432.5h0M1465 432.5h0M1599.5 432.5h0M1729.5 432.5h0M1784.5 432.5h0M1923.5 432.5h0M501 433h0M597 433h0M989.5 433h0M995 433h0M1317 433h0M1626.5 433h0M1952.5 433h0M115.5 433.5h0M318.5 433.5h0M379 433.5h0M404 433.5h0M1809 433.5h0M346.5 434h0M671.5 434h0M1910.5 434h0M115 434.5h0M212.5 434.5h0M352 434.5h0M987.5 434.5h0M1292 434.5h0M1342.5 434.5h0M1804.5 434.5h0M1827.5 434.5h0M1920.5 434.5h0M1982 434.5h0M116 435h0M190.5 435h0M211.5 435h0M318 435h0M354 435h0M1317.5 435h0M1327 435h0M1440.5 435h0M1767 435h0M1881 435h0M286 435.5h0M404.5 435.5h0M500.5 435.5h0M575.5 435.5h0M576 435.5h0M758.5 435.5h0M1309 435.5h0M1464 435.5h0M1539 435.5h0M1987 435.5h0M310 436h0M479 436h0M597.5 436h0M672 436h0M699.5 436h0M1308.5 436h0M1955 436h0M948 436.5h0M1008 436.5h0M1385.5 436.5h0M116.5 437h0M358.5 437h0M929.5 437h0M1055 437h0M1313 437h0M1595 437h0M1603 437h0M1768.5 437h0M1997.5 437h0M2005.5 437h0M322.5 437.5h0M330.5 437.5h0M350 437.5h0M756.5 437.5h0M949 437.5h0M1323 437.5h0M1345.5 437.5h0M1772 437.5h0M1859 437.5h0M1972.5 437.5h0M189.5 438h0M212.5 438h0M286 438h0M501 438h0M597.5 438h0M840.5 438h0M927 438h0M1040 438h0M1276.5 438h0M1280 438h0M1331.5 438h0M1464 438h0M1538.5 438h0M1623.5 438h0M1788 438h0M1962.5 438h0M404 438.5h0M575.5 438.5h0M1324.5 438.5h0M1539 438.5h0M351 439h0M359 439h0M598 439h0M1731.5 439h0M346.5 439.5h0M373.5 439.5h0M479.5 439.5h0M1280 439.5h0M1303 439.5h0M1726.5 439.5h0M116 440h0M287 440h0M376.5 440h0M672 440h0M924.5 440h0M1874.5 440h0M1994 440h0M311 440.5h0M373 440.5h0M404 440.5h0M995.5 440.5h0M1319.5 440.5h0M1342 440.5h0M1344.5 440.5h0M1670.5 440.5h0M1676.5 440.5h0M1719 440.5h0M115 441h0M190.5 441h0M212 441h0M316 441h0M343.5 441h0M350.5 441h0M479.5 441h0M999 441h0M1091 441h0M1143 441h0M1326 441h0M1576.5 441h0M1612 441h0M1623.5 441h0M1795 441h0M1950 441h0M405 441.5h0M478.5 441.5h0M500.5 441.5h0M1273.5 441.5h0M1292 441.5h0M1328.5 441.5h0M1657 441.5h0M1826 441.5h0M1901.5 441.5h0M576 442h0M702.5 442h0M747 442h0M935.5 442h0M1299 442h0M1464 442h0M1465.5 442h0M1539.5 442h0M1922.5 442h0M1923.5 442h0M341.5 442.5h0M346 442.5h0M597 442.5h0M672 442.5h0M1274 442.5h0M1309 442.5h0M1375.5 442.5h0M1430.5 442.5h0M1635 442.5h0M1794 442.5h0M115 443h0M189.5 443h0M190.5 443h0M286.5 443h0M671.5 443h0M905.5 443h0M912.5 443h0M1292 443h0M1296.5 443h0M1570 443h0M1826.5 443h0M211.5 443.5h0M327.5 443.5h0M358 443.5h0M368 443.5h0M693.5 443.5h0M1311 443.5h0M1319.5 443.5h0M1682.5 443.5h0M1712 443.5h0M1812.5 443.5h0M1957.5 443.5h0M1981.5 443.5h0M212.5 444h0M381 444h0M897.5 444h0M918.5 444h0M1192 444h0M1539 444h0M1825 444h0M1876.5 444h0M1974 444h0M333 444.5h0M342 444.5h0M479.5 444.5h0M597 444.5h0M1010 444.5h0M1106.5 444.5h0M1287.5 444.5h0M1464 444.5h0M2017 444.5h0M312 445h0M314 445h0M343 445h0M404.5 445h0M500.5 445h0M501.5 445h0M576 445h0M989.5 445h0M1136 445h0M1691.5 445h0M1710 445h0M1919.5 445h0M1950.5 445h0M479 445.5h0M672.5 445.5h0M1041 445.5h0M1287 445.5h0M1383 445.5h0M1583 445.5h0M1794 445.5h0M116 446h0M190 446h0M328.5 446h0M340.5 446h0M1296.5 446h0M287 446.5h0M353.5 446.5h0M886.5 446.5h0M912 446.5h0M950.5 446.5h0M1037 446.5h0M1823 446.5h0M211.5 447h0M212.5 447h0M286 447h0M500.5 447h0M921.5 447h0M959.5 447h0M1375.5 447h0M1589 447h0M1969 447h0M115.5 447.5h0M331.5 447.5h0M380 447.5h0M1306 447.5h0M1464.5 447.5h0M1539 447.5h0M1918 447.5h0M2020.5 447.5h0M190 448h0M320.5 448h0M405 448h0M575.5 448h0M906 448h0M992 448h0M1538 448h0M1659 448h0M1960.5 448h0M351.5 448.5h0M479.5 448.5h0M598 448.5h0M1139.5 448.5h0M1776.5 448.5h0M1779.5 448.5h0M287 449h0M343.5 449h0M365 449h0M378 449h0M404.5 449h0M672 449h0M984.5 449h0M1303 449h0M1407.5 449h0M1464 449h0M115.5 449.5h0M330.5 449.5h0M353 449.5h0M921.5 449.5h0M941.5 449.5h0M1320.5 449.5h0M1381.5 449.5h0M1657 449.5h0M1700.5 449.5h0M1729.5 449.5h0M1824.5 449.5h0M189.5 450h0M211.5 450h0M315.5 450h0M317.5 450h0M359.5 450h0M479.5 450h0M576 450h0M1384.5 450h0M1782.5 450h0M320.5 450.5h0M373.5 450.5h0M500.5 450.5h0M575 450.5h0M721 450.5h0M761 450.5h0M806 450.5h0M984.5 450.5h0M1284 450.5h0M1538.5 450.5h0M371 451h0M405 451h0M597 451h0M1337.5 451h0M1464 451h0M1609.5 451h0M1688.5 451h0M286.5 451.5h0M363 451.5h0M379.5 451.5h0M671.5 451.5h0M726 451.5h0M1410 451.5h0M1779 451.5h0M1912.5 451.5h0M116 452h0M190.5 452h0M212 452h0M375.5 452h0M382.5 452h0M597.5 452h0M925 452h0M947.5 452h0M1023 452h0M1809.5 452h0M479.5 452.5h0M961 452.5h0M1303.5 452.5h0M1538.5 452.5h0M1869.5 452.5h0M332.5 453h0M381 453h0M1039 453h0M1670 453h0M1769 453h0M1987 453h0M115 453.5h0M404.5 453.5h0M576 453.5h0M713.5 453.5h0M907.5 453.5h0M943 453.5h0M1045 453.5h0M1206.5 453.5h0M1302 453.5h0M1406 453.5h0M1464.5 453.5h0M1701 453.5h0M1760.5 453.5h0M1796 453.5h0M2000.5 453.5h0M322.5 454h0M405 454h0M478.5 454h0M501.5 454h0M598 454h0M672 454h0M936 454h0M1610 454h0M1697.5 454h0M1968.5 454h0M2013.5 454h0M308 454.5h0M309 454.5h0M362.5 454.5h0M369 454.5h0M1271.5 454.5h0M1274.5 454.5h0M1314 454.5h0M1411 454.5h0M1720 454.5h0M1783 454.5h0M1853 454.5h0M1951 454.5h0M190.5 455h0M212 455h0M322.5 455h0M760.5 455h0M1120.5 455h0M1387.5 455h0M1873 455h0M287 455.5h0M920 455.5h0M1305 455.5h0M1311.5 455.5h0M1330.5 455.5h0M1381.5 455.5h0M1595 455.5h0M116 456h0M189.5 456h0M319.5 456h0M328 456h0M345.5 456h0M575.5 456h0M909 456h0M919 456h0M1278 456h0M1539.5 456h0M1860 456h0M347.5 456.5h0M404.5 456.5h0M501.5 456.5h0M1018 456.5h0M1032.5 456.5h0M1201 456.5h0M1275 456.5h0M320 457h0M479.5 457h0M501 457h0M672 457h0M1023 457h0M1289.5 457h0M1326.5 457h0M1464.5 457h0M1707.5 457h0M1802.5 457h0M1819.5 457h0M1982 457h0M115.5 457.5h0M311 457.5h0M345 457.5h0M364.5 457.5h0M365.5 457.5h0M597 457.5h0M891 457.5h0M900.5 457.5h0M1428 457.5h0M1688.5 457.5h0M1720 457.5h0M1781 457.5h0M116.5 458h0M380 458h0M993 458h0M1021 458h0M1666 458h0M1998.5 458h0M189.5 458.5h0M286.5 458.5h0M333.5 458.5h0M370 458.5h0M896 458.5h0M1294.5 458.5h0M1308 458.5h0M1810 458.5h0M2001 458.5h0M116 459h0M211.5 459h0M1539 459h0M1787 459h0M319.5 459.5h0M334 459.5h0M955 459.5h0M1051.5 459.5h0M1464 459.5h0M1538.5 459.5h0M479.5 460h0M500.5 460h0M902.5 460h0M1050 460h0M1786 460h0M1988 460h0M115 460.5h0M576 460.5h0M672 460.5h0M709 460.5h0M917 460.5h0M937 460.5h0M1275 460.5h0M1277.5 460.5h0M1392 460.5h0M1464 460.5h0M1634.5 460.5h0M1897 460.5h0M116 461h0M211.5 461h0M320.5 461h0M362 461h0M404.5 461h0M598 461h0M749 461h0M753 461h0M949.5 461h0M1815 461h0M1862 461h0M190.5 461.5h0M333 461.5h0M371 461.5h0M895 461.5h0M955 461.5h0M287 462h0M500.5 462h0M597 462h0M1539 462h0M1628 462h0M1729.5 462h0M1779.5 462h0M1782.5 462h0M2003.5 462h0M318 462.5h0M321.5 462.5h0M345 462.5h0M362.5 462.5h0M501.5 462.5h0M911.5 462.5h0M1052.5 462.5h0M1279.5 462.5h0M1465 462.5h0M1701 462.5h0M368 463h0M479.5 463h0M575 463h0M890.5 463h0M1040.5 463h0M1812 463h0M190 463.5h0M311 463.5h0M325 463.5h0M328 463.5h0M365.5 463.5h0M404.5 463.5h0M1275 463.5h0M1394 463.5h0M1709 463.5h0M1755.5 463.5h0M1855.5 463.5h0M115 464h0M212 464h0M287 464h0M362.5 464h0M597 464h0M672 464h0M907.5 464h0M1054.5 464h0M1606 464h0M1762.5 464h0M720.5 464.5h0M1193 464.5h0M1283 464.5h0M1418 464.5h0M1539 464.5h0M1726 464.5h0M328 465h0M479.5 465h0M575.5 465h0M1012.5 465h0M1345.5 465h0M1388 465h0M1464 465h0M1465 465h0M1577.5 465h0M1776.5 465h0M405 465.5h0M501 465.5h0M865 465.5h0M900 465.5h0M903.5 465.5h0M1036 465.5h0M1094 465.5h0M1312.5 465.5h0M1595 465.5h0M1776 465.5h0M404.5 466h0M903.5 466h0M922 466h0M1138 466h0M1329 466h0M332.5 466.5h0M339 466.5h0M597 466.5h0M959.5 466.5h0M998 466.5h0M1298.5 466.5h0M1339 466.5h0M1656.5 466.5h0M1755.5 466.5h0M286.5 467h0M376.5 467h0M671.5 467h0M672 467h0M912.5 467h0M1332.5 467h0M1635.5 467h0M115 467.5h0M212 467.5h0M359 467.5h0M500.5 467.5h0M913.5 467.5h0M936 467.5h0M1431.5 467.5h0M1590.5 467.5h0M1759.5 467.5h0M1793.5 467.5h0M1906.5 467.5h0M190.5 468h0M285.5 468h0M345.5 468h0M366.5 468h0M948.5 468h0M1138 468h0M1304.5 468h0M1408 468h0M1980 468h0M328 468.5h0M405 468.5h0M479.5 468.5h0M575.5 468.5h0M1297.5 468.5h0M1304 468.5h0M1399.5 468.5h0M1464 468.5h0M1538.5 468.5h0M1586 468.5h0M346 469h0M375.5 469h0M479 469h0M575 469h0M959.5 469h0M1278.5 469h0M1670 469h0M1707.5 469h0M1863 469h0M1881 469h0M1889 469h0M1964.5 469h0M2002 469h0M366 469.5h0M597 469.5h0M898.5 469.5h0M908.5 469.5h0M950 469.5h0M1287 469.5h0M189.5 470h0M352 470h0M381.5 470h0M597.5 470h0M671 470h0M704.5 470h0M937 470h0M942 470h0M1035.5 470h0M1280.5 470h0M1326 470h0M1701 470h0M1705.5 470h0M1756 470h0M1882.5 470h0M212.5 470.5h0M286.5 470.5h0M330 470.5h0M956 470.5h0M1710.5 470.5h0M1713 470.5h0M1788.5 470.5h0M1983 470.5h0M116 471h0M341.5 471h0M479.5 471h0M696 471h0M920 471h0M1315.5 471h0M1464 471h0M1660.5 471h0M1678.5 471h0M1776.5 471h0M1812 471h0M190.5 471.5h0M333.5 471.5h0M352 471.5h0M404.5 471.5h0M500.5 471.5h0M575.5 471.5h0M1324 471.5h0M1761 471.5h0M332 472h0M574.5 472h0M597.5 472h0M821 472h0M1216.5 472h0M1346.5 472h0M1539.5 472h0M1789.5 472h0M2006.5 472h0M2017 472h0M362.5 472.5h0M672 472.5h0M930.5 472.5h0M944.5 472.5h0M1274 472.5h0M1286.5 472.5h0M1300 472.5h0M1718 472.5h0M190.5 473h0M924.5 473h0M1423 473h0M115.5 473.5h0M211.5 473.5h0M287 473.5h0M363 473.5h0M1048.5 473.5h0M1731 473.5h0M190.5 474h0M501.5 474h0M576 474h0M672.5 474h0M721 474h0M1760.5 474h0M319.5 474.5h0M404 474.5h0M900.5 474.5h0M924.5 474.5h0M1089.5 474.5h0M1096.5 474.5h0M1464 474.5h0M1662 474.5h0M1862.5 474.5h0M1890 474.5h0M479.5 475h0M597.5 475h0M671.5 475h0M892 475h0M996 475h0M1286.5 475h0M1335.5 475h0M1464.5 475h0M1538 475h0M1792 475h0M1922.5 475h0M1982 475h0M115 475.5h0M315 475.5h0M351.5 475.5h0M404.5 475.5h0M672 475.5h0M711 475.5h0M893 475.5h0M989 475.5h0M1393.5 475.5h0M1707.5 475.5h0M189.5 476h0M310 476h0M373.5 476h0M1311.5 476h0M1539 476h0M1665 476h0M1700.5 476h0M1778 476h0M2015.5 476h0M576 476.5h0M597 476.5h0M949.5 476.5h0M1037.5 476.5h0M1296 476.5h0M1369.5 476.5h0M1675 476.5h0M1908 476.5h0M115.5 477h0M211.5 477h0M285.5 477h0M333.5 477h0M575.5 477h0M933 477h0M942 477h0M1051.5 477h0M1292 477h0M1436 477h0M1676.5 477h0M1709.5 477h0M1855 477h0M190.5 477.5h0M330.5 477.5h0M696.5 477.5h0M737.5 477.5h0M1313.5 477.5h0M1324.5 477.5h0M1377.5 477.5h0M1538 477.5h0M1538.5 477.5h0M380 478h0M404.5 478h0M405 478h0M500.5 478h0M721 478h0M889.5 478h0M900 478h0M939 478h0M943.5 478h0M990 478h0M1282.5 478h0M1322.5 478h0M1464 478h0M1877 478h0M353 478.5h0M478.5 478.5h0M479.5 478.5h0M597.5 478.5h0M1274 478.5h0M1324.5 478.5h0M1385 478.5h0M1886.5 478.5h0M212 479h0M286.5 479h0M380.5 479h0M672.5 479h0M1287 479h0M1372 479h0M1774 479h0M1785 479h0M2005.5 479h0M2012.5 479h0M189.5 479.5h0M312.5 479.5h0M376.5 479.5h0M500.5 479.5h0M854 479.5h0M927 479.5h0M1020 479.5h0M1306.5 479.5h0M1347 479.5h0M1381 479.5h0M1396.5 479.5h0M1565 479.5h0M1659 479.5h0M1699.5 479.5h0M1817.5 479.5h0M1913 479.5h0M1994.5 479.5h0M115 480h0M329.5 480h0M340.5 480h0M381 480h0M693.5 480h0M916 480h0M955 480h0M1334 480h0M1465 480h0M1707 480h0M1727 480h0M1909 480h0M332.5 480.5h0M347.5 480.5h0M370.5 480.5h0M405.5 480.5h0M575.5 480.5h0M917 480.5h0M960.5 480.5h0M1033 480.5h0M1180.5 480.5h0M1295 480.5h0M1330 480.5h0M212 481h0M362.5 481h0M383 481h0M479.5 481h0M724 481h0M908.5 481h0M999.5 481h0M1539.5 481h0M115 481.5h0M322.5 481.5h0M672 481.5h0M1034.5 481.5h0M1304 481.5h0M1420.5 481.5h0M1659.5 481.5h0M1700.5 481.5h0M212.5 482h0M346.5 482h0M597.5 482h0M906 482h0M1083.5 482h0M1272.5 482h0M1317.5 482h0M1572.5 482h0M1854 482h0M1995 482h0M286.5 482.5h0M383 482.5h0M404 482.5h0M860 482.5h0M1273 482.5h0M1797.5 482.5h0M1946.5 482.5h0M116 483h0M190.5 483h0M576 483h0M999.5 483h0M1004 483h0M1300.5 483h0M1386 483h0M1464.5 483h0M1717.5 483h0M2001.5 483h0M115 483.5h0M319 483.5h0M374.5 483.5h0M377.5 483.5h0M479 483.5h0M501.5 483.5h0M905.5 483.5h0M937.5 483.5h0M1567.5 483.5h0M1680.5 483.5h0M756.5 484h0M1053.5 484h0M1292.5 484h0M1322 484h0M1539.5 484h0M1600 484h0M1673 484h0M1769 484h0M1772 484h0M1816 484h0M2013 484h0M308.5 484.5h0M318.5 484.5h0M367.5 484.5h0M404 484.5h0M931 484.5h0M1786.5 484.5h0M1881 484.5h0M1986.5 484.5h0M190.5 485h0M338.5 485h0M597 485h0M671 485h0M1141 485h0M1602.5 485h0M189.5 485.5h0M287 485.5h0M329.5 485.5h0M816.5 485.5h0M931 485.5h0M1046 485.5h0M1309 485.5h0M1388.5 485.5h0M1605 485.5h0M1714 485.5h0M1893.5 485.5h0M115 486h0M212.5 486h0M353 486h0M354 486h0M479.5 486h0M502 486h0M575 486h0M1090.5 486h0M1338 486h0M1344.5 486h0M1538.5 486h0M1754.5 486h0M1946 486h0M212 486.5h0M325.5 486.5h0M404 486.5h0M1106.5 486.5h0M1465 486.5h0M1716 486.5h0M1904.5 487h0M1973 487h0M318.5 487.5h0M343.5 487.5h0M405 487.5h0M479.5 487.5h0M597 487.5h0M672 487.5h0M672.5 487.5h0M1008.5 487.5h0M1091.5 487.5h0M1342.5 487.5h0M1702 487.5h0M1709.5 487.5h0M1828 487.5h0M351 488h0M377 488h0M576 488h0M1041.5 488h0M1288 488h0M1320.5 488h0M1331.5 488h0M1410 488h0M1562.5 488h0M1670 488h0M1755.5 488h0M1770 488h0M115 488.5h0M190 488.5h0M212.5 488.5h0M1013.5 488.5h0M1274.5 488.5h0M1322 488.5h0M1539 488.5h0M1828 488.5h0M1872 488.5h0M287 489h0M314 489h0M339 489h0M343 489h0M370 489h0M1464 489h0M1675 489h0M478.5 489.5h0M500.5 489.5h0M575 489.5h0M954.5 489.5h0M1035.5 489.5h0M1045 489.5h0M1308 489.5h0M1999 489.5h0M190.5 490h0M311 490h0M322 490h0M355 490h0M365 490h0M370 490h0M598 490h0M913.5 490h0M997.5 490h0M1117.5 490h0M1333.5 490h0M1336 490h0M1337.5 490h0M1346.5 490h0M1692.5 490h0M337.5 490.5h0M372 490.5h0M404 490.5h0M597 490.5h0M1097.5 490.5h0M1149.5 490.5h0M1300 490.5h0M1562 490.5h0M1568.5 490.5h0M1579 490.5h0M1852.5 490.5h0M212.5 491h0M332.5 491h0M360 491h0M362.5 491h0M671.5 491h0M1313 491h0M1341 491h0M1435 491h0M725 491.5h0M735 491.5h0M752 491.5h0M1106.5 491.5h0M1206.5 491.5h0M1277 491.5h0M1292.5 491.5h0M1438.5 491.5h0M1571 491.5h0M1600.5 491.5h0M1660.5 491.5h0M1694.5 491.5h0M1891.5 491.5h0M115.5 492h0M116.5 492h0M190 492h0M286 492h0M576 492h0M672.5 492h0M736 492h0M814 492h0M987 492h0M1285 492h0M1290.5 492h0M1342.5 492h0M1464 492h0M1673 492h0M1755.5 492h0M310.5 492.5h0M351.5 492.5h0M404.5 492.5h0M1274.5 492.5h0M1287.5 492.5h0M1395.5 492.5h0M1403 492.5h0M1539.5 492.5h0M1788 492.5h0M335.5 493h0M345 493h0M363 493h0M501 493h0M1021 493h0M1111.5 493h0M1247.5 493h0M1288 493h0M1307 493h0M1437.5 493h0M1634.5 493h0M1862 493h0M1994.5 493h0M2017.5 493h0M367.5 493.5h0M381.5 493.5h0M479.5 493.5h0M672 493.5h0M794 493.5h0M998.5 493.5h0M1041 493.5h0M1323.5 493.5h0M1338.5 493.5h0M1388.5 493.5h0M1604.5 493.5h0M1609 493.5h0M1690 493.5h0M1772.5 493.5h0M1821.5 493.5h0M190 494h0M598 494h0M1277.5 494h0M1302.5 494h0M1889 494h0M116 494.5h0M287 494.5h0M1090.5 494.5h0M1115 494.5h0M1271.5 494.5h0M1276 494.5h0M1307.5 494.5h0M1678 494.5h0M1995.5 494.5h0M211.5 495h0M404 495h0M500.5 495h0M597 495h0M932 495h0M1108 495h0M1301.5 495h0M1796 495h0M2014 495h0M896 495.5h0M1098.5 495.5h0M1539 495.5h0M1596.5 495.5h0M1608.5 495.5h0M1624 495.5h0M1663.5 495.5h0M1824 495.5h0M1951 495.5h0M575 496h0M733 496h0M1284.5 496h0M1464 496h0M354.5 496.5h0M404 496.5h0M479.5 496.5h0M887 496.5h0M906 496.5h0M1080.5 496.5h0M1325 496.5h0M1382.5 496.5h0M1631 496.5h0M1678.5 496.5h0M1924.5 496.5h0M116 497h0M314.5 497h0M335.5 497h0M361.5 497h0M367.5 497h0M378 497h0M1145 497h0M1306 497h0M1402 497h0M1414.5 497h0M1911.5 497h0M1975.5 497h0M189 497.5h0M286 497.5h0M316 497.5h0M597.5 497.5h0M672 497.5h0M890.5 497.5h0M929 497.5h0M1311 497.5h0M1378 497.5h0M1576 497.5h0M1768.5 497.5h0M1955 497.5h0M1983.5 497.5h0M2013 497.5h0M211.5 498h0M310 498h0M347.5 498h0M373.5 498h0M575.5 498h0M798.5 498h0M1312 498h0M115.5 498.5h0M501 498.5h0M768 498.5h0M1007.5 498.5h0M1309 498.5h0M1330.5 498.5h0M1338.5 498.5h0M1464 498.5h0M1539.5 498.5h0M1948.5 498.5h0M405 499h0M479 499h0M745 499h0M761.5 499h0M984 499h0M1343 499h0M1406.5 499h0M1465 499h0M1909.5 499h0M1914 499h0M286.5 499.5h0M382.5 499.5h0M597 499.5h0M1422.5 499.5h0M672.5 500h0M730 500h0M734.5 500h0M814 500h0M1283 500h0M1336 500h0M1732 500h0M1762 500h0M115.5 500.5h0M211.5 500.5h0M328.5 500.5h0M341 500.5h0M358 500.5h0M1416 500.5h0M1609.5 500.5h0M1621.5 500.5h0M1670 500.5h0M1754 500.5h0M1796.5 500.5h0M1856 500.5h0M1876.5 500.5h0M1921 500.5h0M190 501h0M311.5 501h0M344 501h0M501.5 501h0M748 501h0M919 501h0M1378 501h0M1788.5 501h0M315 501.5h0M359.5 501.5h0M574.5 501.5h0M725.5 501.5h0M1341 501.5h0M1465.5 501.5h0M1539 501.5h0M1796 501.5h0M1981.5 501.5h0M347.5 502h0M373.5 502h0M936 502h0M982.5 502h0M1292.5 502h0M1590.5 502h0M1777.5 502h0M1795 502h0M1985.5 502h0M376 502.5h0M404.5 502.5h0M479 502.5h0M930.5 502.5h0M1295.5 502.5h0M1539.5 502.5h0M1887 502.5h0M1891 502.5h0M331 503h0M351 503h0M597.5 503h0M672.5 503h0M897.5 503h0M928.5 503h0M983.5 503h0M1287 503h0M1343 503h0M1784.5 503h0M190.5 503.5h0M311 503.5h0M321.5 503.5h0M330.5 503.5h0M380 503.5h0M732.5 503.5h0M894.5 503.5h0M1284.5 503.5h0M1327 503.5h0M1370.5 503.5h0M1621 503.5h0M1816 503.5h0M115 504h0M211.5 504h0M212 504h0M332.5 504h0M500.5 504h0M575.5 504h0M757 504h0M1089 504h0M1397.5 504h0M1465.5 504h0M1582 504h0M1589 504h0M1601.5 504h0M1664 504h0M1767 504h0M1779 504h0M1806 504h0M1826.5 504h0M1874 504h0M286 504.5h0M404.5 504.5h0M923.5 504.5h0M1145.5 504.5h0M1222.5 504.5h0M1307.5 504.5h0M1719 504.5h0M1772 504.5h0M1776.5 504.5h0M1802.5 504.5h0M1962 504.5h0M320 505h0M322 505h0M1221.5 505h0M1292 505h0M1337 505h0M1539 505h0M1815 505h0M287 505.5h0M479 505.5h0M597 505.5h0M671 505.5h0M1047 505.5h0M1311.5 505.5h0M1346 505.5h0M1426.5 505.5h0M1785 505.5h0M1980 505.5h0M2001 505.5h0M115.5 506h0M902.5 506h0M1176.5 506h0M1317 506h0M1373.5 506h0M212 506.5h0M286 506.5h0M363.5 506.5h0M936.5 506.5h0M1597 506.5h0M1611 506.5h0M1875.5 506.5h0M1964 506.5h0M190.5 507h0M352 507h0M365.5 507h0M374 507h0M500.5 507h0M597 507h0M748 507h0M824 507h0M901 507h0M998 507h0M1411 507h0M1866 507h0M1895 507h0M1908.5 507h0M1920 507h0M327 507.5h0M404 507.5h0M802.5 507.5h0M1010.5 507.5h0M1148 507.5h0M1297.5 507.5h0M1805 507.5h0M1905 507.5h0M2006.5 507.5h0M115 508h0M340.5 508h0M479 508h0M575 508h0M752 508h0M900.5 508h0M948.5 508h0M1046 508h0M1101 508h0M1329.5 508h0M1465.5 508h0M1538 508h0M329 508.5h0M575.5 508.5h0M598 508.5h0M672 508.5h0M921.5 508.5h0M1677.5 508.5h0M1814.5 508.5h0M311 509h0M320 509h0M350.5 509h0M724.5 509h0M1289.5 509h0M1608 509h0M1721 509h0M1892 509h0M190.5 509.5h0M286 509.5h0M340.5 509.5h0M404 509.5h0M747 509.5h0M1033 509.5h0M1183.5 509.5h0M1277 509.5h0M1435.5 509.5h0M1712 509.5h0M1772 509.5h0M1864 509.5h0M115.5 510h0M211.5 510h0M342 510h0M356 510h0M479.5 510h0M500.5 510h0M706.5 510h0M758.5 510h0M911 510h0M1424.5 510h0M1539 510h0M1616 510h0M1629 510h0M1757 510h0M1870.5 510h0M575.5 510.5h0M672 510.5h0M1464 510.5h0M1592 510.5h0M1818 510.5h0M318.5 511h0M335 511h0M355 511h0M370.5 511h0M671.5 511h0M1053.5 511h0M1129 511h0M1317.5 511h0M1336.5 511h0M1814.5 511h0M1867.5 511h0M1949.5 511h0M1959 511h0M343 511.5h0M405 511.5h0M709.5 511.5h0M929.5 511.5h0M932 511.5h0M934.5 511.5h0M1032.5 511.5h0M1289 511.5h0M1424 511.5h0M1761.5 511.5h0M1878.5 511.5h0M1967.5 511.5h0M115 512h0M190.5 512h0M211.5 512h0M286.5 512h0M322.5 512h0M324.5 512h0M329 512h0M382.5 512h0M597 512h0M931 512h0M932 512h0M1042.5 512h0M1342.5 512h0M1415 512h0M1425 512h0M1686 512h0M1712.5 512h0M1715 512h0M1782.5 512h0M1784 512h0M1969.5 512h0M308 512.5h0M368.5 512.5h0M928 512.5h0M1009 512.5h0M1291.5 512.5h0M1864 512.5h0M575 513h0M819 513h0M1411.5 513h0M1437 513h0M1464 513h0M1591.5 513h0M1732 513h0M1950.5 513h0M1952 513h0M350 513.5h0M405 513.5h0M478.5 513.5h0M957.5 513.5h0M1019.5 513.5h0M1121.5 513.5h0M1539 513.5h0M1771.5 513.5h0M1774.5 513.5h0M381 514h0M501.5 514h0M597 514h0M671 514h0M926 514h0M1283.5 514h0M1424.5 514h0M1539.5 514h0M190.5 514.5h0M287 514.5h0M598 514.5h0M672 514.5h0M1138.5 514.5h0M1274.5 514.5h0M1418 514.5h0M1422.5 514.5h0M1775 514.5h0M1784 514.5h0M115 515h0M211.5 515h0M317 515h0M374 515h0M377 515h0M500.5 515h0M575.5 515h0M698 515h0M950.5 515h0M1031.5 515h0M1054 515h0M1314.5 515h0M1340 515h0M1407.5 515h0M1564.5 515h0M1850 515h0M1958.5 515h0M2009.5 515h0M2012.5 515h0M287 515.5h0M308.5 515.5h0M351 515.5h0M698.5 515.5h0M929 515.5h0M1440 515.5h0M1787 515.5h0M1893 515.5h0M326.5 516h0M500.5 516h0M575 516h0M1050.5 516h0M1332 516h0M1538.5 516h0M1662.5 516h0M1666.5 516h0M1903.5 516h0M190.5 516.5h0M316 516.5h0M367.5 516.5h0M375.5 516.5h0M697 516.5h0M1288 516.5h0M1383.5 516.5h0M1718 516.5h0M1894.5 516.5h0M1999 516.5h0M309 517h0M404 517h0M478 517h0M597 517h0M896 517h0M1464.5 517h0M1629 517h0M1674.5 517h0M337.5 517.5h0M370.5 517.5h0M404.5 517.5h0M479 517.5h0M671.5 517.5h0M790.5 517.5h0M942 517.5h0M1272.5 517.5h0M1277.5 517.5h0M1278 517.5h0M1282.5 517.5h0M1464 517.5h0M1774 517.5h0M115 518h0M213 518h0M318.5 518h0M331.5 518h0M335 518h0M338 518h0M382 518h0M944.5 518h0M1129.5 518h0M1319.5 518h0M1384.5 518h0M1812 518h0M1813 518h0M2012.5 518h0M190.5 518.5h0M359.5 518.5h0M1326 518.5h0M1329.5 518.5h0M1823 518.5h0M1904.5 518.5h0M2016.5 518.5h0M286.5 519h0M319 519h0M906.5 519h0M935 519h0M1019 519h0M1332.5 519h0M1591.5 519h0M1673 519h0M1814.5 519h0M1978.5 519h0M1980 519h0M1993.5 519h0M312.5 519.5h0M478.5 519.5h0M501 519.5h0M672 519.5h0M1290 519.5h0M1464 519.5h0M1539 519.5h0M115.5 520h0M405.5 520h0M501.5 520h0M575.5 520h0M671.5 520h0M898.5 520h0M899.5 520h0M1000.5 520h0M1011.5 520h0M1028 520h0M1051.5 520h0M1219 520h0M1326 520h0M1340 520h0M1379.5 520h0M1419 520h0M991.5 520.5h0M1825.5 520.5h0M1889.5 520.5h0M404 521h0M887 521h0M953 521h0M986 521h0M1323 521h0M1368.5 521h0M1697 521h0M1980.5 521h0M116.5 521.5h0M311 521.5h0M329 521.5h0M360 521.5h0M380.5 521.5h0M501 521.5h0M597 521.5h0M824 521.5h0M953.5 521.5h0M1012.5 521.5h0M1320 521.5h0M1382.5 521.5h0M1428 521.5h0M1565 521.5h0M1623.5 521.5h0M1667 521.5h0M1709.5 521.5h0M1790 521.5h0M1799 521.5h0M1907 521.5h0M189 522h0M211.5 522h0M724.5 522h0M997.5 522h0M1178 522h0M1368 522h0M1662.5 522h0M1669 522h0M1853 522h0M1891.5 522h0M1978 522h0M1992.5 522h0M2014.5 522h0M286.5 522.5h0M334.5 522.5h0M994 522.5h0M1004.5 522.5h0M1090 522.5h0M1137 522.5h0M1318 522.5h0M1373.5 522.5h0M1465 522.5h0M1702 522.5h0M1713 522.5h0M1861 522.5h0M325 523h0M479 523h0M479.5 523h0M500.5 523h0M501.5 523h0M575 523h0M597 523h0M1024 523h0M1274 523h0M1539.5 523h0M116.5 523.5h0M323.5 523.5h0M339 523.5h0M350.5 523.5h0M404 523.5h0M575.5 523.5h0M907 523.5h0M914 523.5h0M921 523.5h0M1041.5 523.5h0M1107 523.5h0M1297.5 523.5h0M1681.5 523.5h0M1946.5 523.5h0M1970.5 523.5h0M190.5 524h0M211.5 524h0M369 524h0M672 524h0M703 524h0M917.5 524h0M924.5 524h0M940.5 524h0M959.5 524h0M1003.5 524h0M1125.5 524h0M1331.5 524h0M1425.5 524h0M1724 524h0M1790 524h0M317 524.5h0M363.5 524.5h0M379.5 524.5h0M948 524.5h0M990.5 524.5h0M1031 524.5h0M1042.5 524.5h0M1333 524.5h0M1563 524.5h0M1592.5 524.5h0M1598.5 524.5h0M1698.5 524.5h0M1731.5 524.5h0M1781.5 524.5h0M115 525h0M286.5 525h0M500.5 525h0M764 525h0M958.5 525h0M961 525h0M1285 525h0M1293 525h0M1575.5 525h0M1622 525h0M379 525.5h0M574.5 525.5h0M672 525.5h0M996.5 525.5h0M1190.5 525.5h0M1428 525.5h0M1464 525.5h0M1603.5 525.5h0M2003.5 525.5h0M335 526h0M347.5 526h0M353 526h0M372.5 526h0M375 526h0M479 526h0M800.5 526h0M908 526h0M988 526h0M1341 526h0M1539.5 526h0M1626.5 526h0M1670 526h0M2008.5 526h0M342.5 526.5h0M405 526.5h0M575.5 526.5h0M597 526.5h0M1330 526.5h0M1805 526.5h0M1895.5 526.5h0M285.5 527h0M717 527h0M1824 527h0M1897.5 527h0M116 527.5h0M211.5 527.5h0M321 527.5h0M1007.5 527.5h0M1027.5 527.5h0M1274 527.5h0M1393 527.5h0M1672.5 527.5h0M1677.5 527.5h0M115.5 528h0M190.5 528h0M287 528h0M331 528h0M356 528h0M366.5 528h0M500.5 528h0M575.5 528h0M704.5 528h0M749 528h0M753 528h0M1278 528h0M1296.5 528h0M1331.5 528h0M1346 528h0M1804.5 528h0M1817 528h0M337 528.5h0M697.5 528.5h0M1223 528.5h0M1285.5 528.5h0M1292.5 528.5h0M1377 528.5h0M1464 528.5h0M1539.5 528.5h0M1695.5 528.5h0M1880 528.5h0M357.5 529h0M478.5 529h0M672 529h0M711 529h0M760 529h0M1040.5 529h0M1293.5 529h0M1330 529h0M1591 529h0M1860.5 529h0M1891 529h0M1895.5 529h0M190.5 529.5h0M211.5 529.5h0M312.5 529.5h0M327 529.5h0M791 529.5h0M926.5 529.5h0M1712.5 529.5h0M1914 529.5h0M116 530h0M189 530h0M212 530h0M287 530h0M362.5 530h0M364.5 530h0M405 530h0M597 530h0M911 530h0M959 530h0M1306.5 530h0M1864 530h0M320.5 530.5h0M321.5 530.5h0M479.5 530.5h0M703.5 530.5h0M1217.5 530.5h0M1293 530.5h0M1304 530.5h0M1791 530.5h0M1862.5 530.5h0M1872 530.5h0M315.5 531h0M329.5 531h0M343 531h0M356.5 531h0M500.5 531h0M698.5 531h0M752.5 531h0M1314 531h0M1661 531h0M1779 531h0M1794 531h0M1806 531h0M1818 531h0M1988.5 531h0M190.5 531.5h0M373.5 531.5h0M897.5 531.5h0M947.5 531.5h0M1012.5 531.5h0M1109.5 531.5h0M1225 531.5h0M1299 531.5h0M1341.5 531.5h0M1345.5 531.5h0M1389.5 531.5h0M1539.5 531.5h0M1695.5 531.5h0M1773 531.5h0M115 532h0M335.5 532h0M351.5 532h0M478.5 532h0M598 532h0M751 532h0M923.5 532h0M1004.5 532h0M1005 532h0M1464 532h0M1464.5 532h0M1569.5 532h0M1680 532h0M1706.5 532h0M1802 532h0M1824.5 532h0M1980 532h0M212 532.5h0M326 532.5h0M404 532.5h0M405 532.5h0M576 532.5h0M827.5 532.5h0M1336 532.5h0M116 533h0M190 533h0M346.5 533h0M364.5 533h0M374.5 533h0M479.5 533h0M671.5 533h0M750.5 533h0M942.5 533h0M1321.5 533h0M1632 533h0M1661.5 533h0M1711 533h0M286 533.5h0M342 533.5h0M500.5 533.5h0M905.5 533.5h0M930.5 533.5h0M999 533.5h0M1009.5 533.5h0M1340.5 533.5h0M1343 533.5h0M1465 533.5h0M1728 533.5h0M1756 533.5h0M380 534h0M575.5 534h0M1134 534h0M1286.5 534h0M1437 534h0M1611 534h0M1914.5 534h0M356 534.5h0M359 534.5h0M1240 534.5h0M1757 534.5h0M1859 534.5h0M1900.5 534.5h0M316 535h0M322.5 535h0M352 535h0M404 535h0M598 535h0M672 535h0M886.5 535h0M895.5 535h0M1001.5 535h0M1041.5 535h0M1272 535h0M1306 535h0M1400 535h0M1539 535h0M1561 535h0M1685 535h0M1688.5 535h0M1897.5 535h0M1902 535h0M2005 535h0M190 535.5h0M212 535.5h0M346.5 535.5h0M478.5 535.5h0M1300.5 535.5h0M1429.5 535.5h0M1658 535.5h0M1786 535.5h0M189.5 536h0M287 536h0M364.5 536h0M754 536h0M908 536h0M1322 536h0M1379 536h0M1569 536h0M1995 536h0M2018 536h0M115.5 536.5h0M356 536.5h0M848.5 536.5h0M1017.5 536.5h0M1299.5 536.5h0M1389 536.5h0M1539.5 536.5h0M1682 536.5h0M1877 536.5h0M212.5 537h0M336 537h0M479 537h0M501 537h0M708 537h0M732 537h0M749.5 537h0M1334.5 537h0M1862.5 537h0M1913 537h0M380.5 537.5h0M917.5 537.5h0M1040.5 537.5h0M1538.5 537.5h0M1730.5 537.5h0M1759 537.5h0M1801 537.5h0M1857.5 537.5h0M2009 537.5h0M321 538h0M404 538h0M576 538h0M672 538h0M696 538h0M998.5 538h0M1117 538h0M1464 538h0M1622 538h0M1685.5 538h0M211.5 538.5h0M373.5 538.5h0M478.5 538.5h0M1105.5 538.5h0M1307 538.5h0M1314.5 538.5h0M1869 538.5h0M1896 538.5h0M115 539h0M319 539h0M343 539h0M358.5 539h0M382 539h0M479.5 539h0M597 539h0M801.5 539h0M1020.5 539h0M1118.5 539h0M1664 539h0M1800 539h0M1816.5 539h0M190.5 539.5h0M890 539.5h0M1098.5 539.5h0M1288 539.5h0M1311.5 539.5h0M1984 539.5h0M1987 539.5h0M2005 539.5h0M286 540h0M381 540h0M500.5 540h0M576 540h0M1320 540h0M1401.5 540h0M1436.5 540h0M1539 540h0M1631 540h0M326 540.5h0M404.5 540.5h0M753 540.5h0M940 540.5h0M1278 540.5h0M1539.5 540.5h0M1780 540.5h0M1978.5 540.5h0M311.5 541h0M373.5 541h0M501.5 541h0M698.5 541h0M892.5 541h0M1464 541h0M1590 541h0M1668 541h0M1780 541h0M1876 541h0M1879 541h0M314 541.5h0M316 541.5h0M327 541.5h0M479.5 541.5h0M597 541.5h0M597.5 541.5h0M672.5 541.5h0M714.5 541.5h0M1024.5 541.5h0M1306 541.5h0M1404.5 541.5h0M1726.5 541.5h0M1951 541.5h0M116 542h0M333 542h0M381.5 542h0M941.5 542h0M1565 542h0M1709.5 542h0M1714 542h0M1717 542h0M1729.5 542h0M2000 542h0M190 542.5h0M286.5 542.5h0M317 542.5h0M349 542.5h0M479.5 542.5h0M985.5 542.5h0M1233.5 542.5h0M1280.5 542.5h0M1307.5 542.5h0M1399.5 542.5h0M1418 542.5h0M1689.5 542.5h0M1756 542.5h0M190.5 543h0M211.5 543h0M336 543h0M366 543h0M501 543h0M576 543h0M899 543h0M923 543h0M1316 543h0M1337 543h0M1464 543h0M1595.5 543h0M376.5 543.5h0M478.5 543.5h0M500.5 543.5h0M803 543.5h0M988.5 543.5h0M1007.5 543.5h0M1338 543.5h0M1539.5 543.5h0M1689.5 543.5h0M1697 543.5h0M1725.5 543.5h0M1789.5 543.5h0M343 544h0M597.5 544h0M815.5 544h0M1022 544h0M1344.5 544h0M1538.5 544h0M1677 544h0M1692 544h0M2002 544h0M286 544.5h0M286.5 544.5h0M349 544.5h0M404.5 544.5h0M672.5 544.5h0M706.5 544.5h0M1036.5 544.5h0M1079 544.5h0M1322.5 544.5h0M115.5 545h0M479.5 545h0M1001 545h0M1117.5 545h0M1119 545h0M1333 545h0M1464 545h0M1894.5 545h0M1898.5 545h0M1909.5 545h0M1920 545h0M116 545.5h0M190.5 545.5h0M211.5 545.5h0M315.5 545.5h0M712 545.5h0M983.5 545.5h0M1091 545.5h0M1680.5 545.5h0M1821.5 545.5h0M1856.5 545.5h0M1869.5 545.5h0M1923.5 545.5h0M1974 545.5h0M704.5 546h0M730.5 546h0M1025.5 546h0M1053 546h0M1178.5 546h0M1289 546h0M1876.5 546h0M1915.5 546h0M115 546.5h0M574.5 546.5h0M731.5 546.5h0M801 546.5h0M815.5 546.5h0M923.5 546.5h0M957 546.5h0M990 546.5h0M1338.5 546.5h0M1539 546.5h0M1604 546.5h0M1863 546.5h0M1883 546.5h0M1911 546.5h0M326.5 547h0M404.5 547h0M479.5 547h0M502 547h0M695.5 547h0M747.5 547h0M983.5 547h0M987.5 547h0M1138 547h0M1188 547h0M1374.5 547h0M1464.5 547h0M1593 547h0M1692.5 547h0M1693.5 547h0M2004 547h0M317.5 547.5h0M332.5 547.5h0M761.5 547.5h0M1127.5 547.5h0M1296.5 547.5h0M1693.5 547.5h0M1796 547.5h0M1893.5 547.5h0M116 548h0M190.5 548h0M379 548h0M576 548h0M597.5 548h0M672 548h0M738 548h0M755.5 548h0M1096.5 548h0M1107.5 548h0M1819 548h0M1881.5 548h0M1902 548h0M1908 548h0M2016 548h0M115 548.5h0M212 548.5h0M287 548.5h0M370.5 548.5h0M380.5 548.5h0M1345 548.5h0M1583.5 548.5h0M1728 548.5h0M314 549h0M335 549h0M377.5 549h0M382.5 549h0M501.5 549h0M575.5 549h0M597 549h0M1027 549h0M1116 549h0M1370 549h0M1437.5 549h0M1816 549h0M1853.5 549h0M1861.5 549h0M327 549.5h0M404.5 549.5h0M405.5 549.5h0M950.5 549.5h0M1201.5 549.5h0M1465 549.5h0M1539.5 549.5h0M1686.5 549.5h0M2015 549.5h0M479.5 550h0M829 550h0M901.5 550h0M914 550h0M954.5 550h0M1370 550h0M1809 550h0M1894 550h0M346.5 550.5h0M367.5 550.5h0M672 550.5h0M1464 550.5h0M1674.5 550.5h0M1884 550.5h0M116.5 551h0M212 551h0M597.5 551h0M733 551h0M862.5 551h0M915.5 551h0M944 551h0M1131.5 551h0M1210 551h0M1284.5 551h0M1435 551h0M1657.5 551h0M1728 551h0M1757.5 551h0M189.5 551.5h0M739 551.5h0M1007.5 551.5h0M1599 551.5h0M1676.5 551.5h0M1808.5 551.5h0M1964.5 551.5h0M1996 551.5h0M190 552h0M286.5 552h0M376 552h0M501 552h0M576 552h0M696 552h0M796.5 552h0M998 552h0M1149.5 552h0M1427 552h0M322.5 552.5h0M853.5 552.5h0M948 552.5h0M1032 552.5h0M1367.5 552.5h0M1464 552.5h0M1793 552.5h0M315 553h0M349 553h0M365 553h0M479.5 553h0M890.5 553h0M908 553h0M912 553h0M1539 553h0M1608 553h0M1825 553h0M115.5 553.5h0M337 553.5h0M341 553.5h0M349 553.5h0M355.5 553.5h0M597 553.5h0M672.5 553.5h0M892.5 553.5h0M929.5 553.5h0M1098.5 553.5h0M1312 553.5h0M1729 553.5h0M1784.5 553.5h0M1803 553.5h0M1989 553.5h0M211.5 554h0M287 554h0M308.5 554h0M368 554h0M405 554h0M906.5 554h0M1312.5 554h0M1316 554h0M1317 554h0M1398.5 554h0M1794 554h0M1871 554h0M1913 554h0M116.5 554.5h0M286 554.5h0M335.5 554.5h0M362 554.5h0M706 554.5h0M728 554.5h0M840 554.5h0M1243 554.5h0M1304 554.5h0M1304.5 554.5h0M1346.5 554.5h0M1405 554.5h0M1422 554.5h0M1796.5 554.5h0M189.5 555h0M344 555h0M346 555h0M348 555h0M404.5 555h0M501 555h0M720 555h0M897.5 555h0M940 555h0M1238 555h0M1275.5 555h0M1295.5 555h0M1771 555h0M1790 555h0M2013 555h0M324.5 555.5h0M369 555.5h0M369.5 555.5h0M502 555.5h0M576 555.5h0M844 555.5h0M1100.5 555.5h0M1313.5 555.5h0M1390 555.5h0M1399.5 555.5h0M1411 555.5h0M1594.5 555.5h0M1774 555.5h0M190 556h0M316 556h0M339.5 556h0M378 556h0M405 556h0M479.5 556h0M706 556h0M1182 556h0M1298 556h0M1464 556h0M1539.5 556h0M1581.5 556h0M1774 556h0M1790 556h0M1826 556h0M287 556.5h0M359 556.5h0M375 556.5h0M597 556.5h0M671.5 556.5h0M753.5 556.5h0M754 556.5h0M1668.5 556.5h0M1871 556.5h0M1957.5 556.5h0M115 557h0M211.5 557h0M338 557h0M358 557h0M672 557h0M1046 557h0M1144 557h0M1300.5 557h0M1409 557h0M1571.5 557h0M1774.5 557h0M1857 557h0M1872.5 557h0M2017.5 557h0M115.5 557.5h0M321 557.5h0M360 557.5h0M376 557.5h0M381 557.5h0M382.5 557.5h0M724 557.5h0M849.5 557.5h0M898 557.5h0M989 557.5h0M1033.5 557.5h0M1054 557.5h0M1273.5 557.5h0M1328.5 557.5h0M1344 557.5h0M1599.5 557.5h0M1661.5 557.5h0M1689.5 557.5h0M1726 557.5h0M1801 557.5h0M1815.5 557.5h0M1826 557.5h0M1850 557.5h0M286.5 558h0M326 558h0M366 558h0M500.5 558h0M1288 558h0M1373 558h0M1873.5 558h0M1981.5 558h0M190 558.5h0M312 558.5h0M478.5 558.5h0M576 558.5h0M1008.5 558.5h0M1009 558.5h0M1018.5 558.5h0M1036.5 558.5h0M1242 558.5h0M1281 558.5h0M1298 558.5h0M1398 558.5h0M1464 558.5h0M1539.5 558.5h0M1666.5 558.5h0M404 559h0M597 559h0M597.5 559h0M672 559h0M927.5 559h0M1000.5 559h0M1022.5 559h0M1346 559h0M1620.5 559h0M1759.5 559h0M1824.5 559h0M1884.5 559h0M358.5 559.5h0M373 559.5h0M479.5 559.5h0M759 559.5h0M959 559.5h0M1048 559.5h0M1292 559.5h0M1582 559.5h0M1704.5 559.5h0M1785.5 559.5h0M1809.5 559.5h0M1895.5 559.5h0M115.5 560h0M116 560h0M671 560h0M908.5 560h0M951 560h0M983 560h0M1020 560h0M1302.5 560h0M1339.5 560h0M1626 560h0M1892.5 560h0M190 560.5h0M704.5 560.5h0M940 560.5h0M960.5 560.5h0M1088 560.5h0M1320 560.5h0M1702.5 560.5h0M1759.5 560.5h0M1780 560.5h0M1911 560.5h0M212 561h0M286.5 561h0M335.5 561h0M479.5 561h0M754 561h0M768.5 561h0M907 561h0M1465 561h0M1625 561h0M1685.5 561h0M1698 561h0M1871 561h0M190.5 561.5h0M405 561.5h0M575 561.5h0M762 561.5h0M1034.5 561.5h0M1087 561.5h0M1428.5 561.5h0M1589.5 561.5h0M1664.5 561.5h0M1673.5 561.5h0M1881 561.5h0M286.5 562h0M364 562h0M479.5 562h0M501 562h0M672 562h0M706 562h0M930.5 562h0M1284.5 562h0M1322.5 562h0M1408 562h0M1539.5 562h0M1618 562h0M321 562.5h0M373.5 562.5h0M597.5 562.5h0M671 562.5h0M810 562.5h0M814.5 562.5h0M1017.5 562.5h0M1379.5 562.5h0M1677 562.5h0M115.5 563h0M313 563h0M327 563h0M729.5 563h0M761 563h0M765.5 563h0M1055 563h0M1208.5 563h0M1279 563h0M1464 563h0M211.5 563.5h0M310 563.5h0M340.5 563.5h0M341.5 563.5h0M351.5 563.5h0M371 563.5h0M1038.5 563.5h0M1093.5 563.5h0M1153.5 563.5h0M1315 563.5h0M1949 563.5h0M189.5 564h0M285.5 564h0M318.5 564h0M501 564h0M739 564h0M749.5 564h0M766.5 564h0M825.5 564h0M1103 564h0M1179.5 564h0M1335 564h0M1608 564h0M1924 564h0M311.5 564.5h0M357.5 564.5h0M479.5 564.5h0M672.5 564.5h0M698 564.5h0M1025.5 564.5h0M1041.5 564.5h0M1139 564.5h0M1275.5 564.5h0M1333.5 564.5h0M1338.5 564.5h0M1402.5 564.5h0M1464 564.5h0M1539 564.5h0M405.5 565h0M479 565h0M575 565h0M704.5 565h0M1311 565h0M1678.5 565h0M1802.5 565h0M1860 565h0M1900 565h0M1963 565h0M1989 565h0M211.5 565.5h0M795.5 565.5h0M1184.5 565.5h0M1302 565.5h0M1314 565.5h0M1539.5 565.5h0M1697 565.5h0M115 566h0M326 566h0M598 566h0M703 566h0M719.5 566h0M947.5 566h0M1032 566h0M1284 566h0M1311 566h0M1624.5 566h0M1679.5 566h0M1696 566h0M1713 566h0M1783.5 566h0M212.5 566.5h0M312.5 566.5h0M356 566.5h0M367 566.5h0M404.5 566.5h0M500.5 566.5h0M701 566.5h0M891 566.5h0M947.5 566.5h0M1298 566.5h0M1314 566.5h0M1539 566.5h0M1771.5 566.5h0M1827 566.5h0M1967 566.5h0M190 567h0M285.5 567h0M333.5 567h0M713 567h0M803.5 567h0M958 567h0M1000.5 567h0M1079.5 567h0M1294.5 567h0M1346.5 567h0M1418 567h0M1464.5 567h0M1538.5 567h0M1724.5 567h0M331 567.5h0M575.5 567.5h0M706.5 567.5h0M818.5 567.5h0M919.5 567.5h0M1181 567.5h0M1237 567.5h0M1305 567.5h0M1370 567.5h0M1685 567.5h0M1715 567.5h0M1796.5 567.5h0M1812.5 567.5h0M1851 567.5h0M1881.5 567.5h0M286.5 568h0M341.5 568h0M350 568h0M405 568h0M726 568h0M990.5 568h0M1032.5 568h0M1964 568h0M211.5 568.5h0M212.5 568.5h0M313.5 568.5h0M344 568.5h0M404.5 568.5h0M479.5 568.5h0M597 568.5h0M671.5 568.5h0M765 568.5h0M946 568.5h0M1079 568.5h0M1313 568.5h0M1818 568.5h0M1853.5 568.5h0M115.5 569h0M190 569h0M286.5 569h0M324 569h0M333 569h0M380 569h0M1010 569h0M1012 569h0M1142 569h0M1318 569h0M1396.5 569h0M1424.5 569h0M1591.5 569h0M1613 569h0M1688.5 569h0M1899 569h0M1908.5 569h0M1924.5 569h0M115 569.5h0M375 569.5h0M576 569.5h0M743.5 569.5h0M1038 569.5h0M1274 569.5h0M1304 569.5h0M1307.5 569.5h0M1322.5 569.5h0M1386 569.5h0M1764.5 569.5h0M1781 569.5h0M1792 569.5h0M1978.5 569.5h0M285.5 570h0M331 570h0M332 570h0M371 570h0M501 570h0M1232 570h0M1465.5 570h0M1682.5 570h0M1776.5 570h0M1880 570h0M1904.5 570h0M356 570.5h0M478.5 570.5h0M575.5 570.5h0M760.5 570.5h0M949.5 570.5h0M1234 570.5h0M1317.5 570.5h0M1538 570.5h0M1778 570.5h0M1868 570.5h0M1890 570.5h0M1918.5 570.5h0M363 571h0M405 571h0M672.5 571h0M740.5 571h0M766.5 571h0M991 571h0M1018 571h0M1102 571h0M1192.5 571h0M1275 571h0M1585.5 571h0M1805 571h0M1813 571h0M1923 571h0M500.5 571.5h0M598 571.5h0M951 571.5h0M1007.5 571.5h0M1346 571.5h0M1635 571.5h0M1768 571.5h0M1887 571.5h0M190 572h0M328.5 572h0M329.5 572h0M343.5 572h0M351 572h0M899.5 572h0M929 572h0M940.5 572h0M1014 572h0M1290 572h0M1300 572h0M1539 572h0M1633.5 572h0M1665.5 572h0M1777 572h0M1793.5 572h0M115 572.5h0M212 572.5h0M286.5 572.5h0M340 572.5h0M1024.5 572.5h0M1090 572.5h0M1132 572.5h0M1134.5 572.5h0M1281.5 572.5h0M1294 572.5h0M1305.5 572.5h0M1703 572.5h0M1714.5 572.5h0M1725 572.5h0M1980.5 572.5h0M370 573h0M501 573h0M704.5 573h0M718.5 573h0M888.5 573h0M997.5 573h0M1027.5 573h0M1276.5 573h0M1384 573h0M1539 573h0M1888.5 573h0M1896 573h0M377.5 573.5h0M404.5 573.5h0M478.5 573.5h0M720.5 573.5h0M914.5 573.5h0M1234 573.5h0M1631.5 573.5h0M1698 573.5h0M1898.5 573.5h0M1904 573.5h0M190.5 574h0M340 574h0M356.5 574h0M575.5 574h0M672 574h0M845.5 574h0M1000.5 574h0M1078.5 574h0M1135.5 574h0M1307.5 574h0M1327.5 574h0M1464 574h0M1615.5 574h0M1706.5 574h0M379 574.5h0M918.5 574.5h0M940.5 574.5h0M953 574.5h0M1312.5 574.5h0M1391.5 574.5h0M1807.5 574.5h0M116.5 575h0M190 575h0M286.5 575h0M338.5 575h0M363 575h0M479.5 575h0M576 575h0M597 575h0M988 575h0M1322.5 575h0M1610 575h0M1675 575h0M1713.5 575h0M1890.5 575h0M1892 575h0M212 575.5h0M285.5 575.5h0M358.5 575.5h0M373 575.5h0M711 575.5h0M1048.5 575.5h0M1208 575.5h0M1614 575.5h0M1870.5 575.5h0M1986 575.5h0M115 576h0M346.5 576h0M500.5 576h0M798 576h0M1033.5 576h0M1103 576h0M1301 576h0M1330.5 576h0M1432 576h0M1465 576h0M1817 576h0M321 576.5h0M372.5 576.5h0M404 576.5h0M575.5 576.5h0M837 576.5h0M1030 576.5h0M1087.5 576.5h0M1211 576.5h0M1226 576.5h0M1320 576.5h0M1538.5 576.5h0M1591.5 576.5h0M1706 576.5h0M501 577h0M809.5 577h0M855 577h0M1191.5 577h0M1217 577h0M1296.5 577h0M1586 577h0M1598.5 577h0M1669 577h0M1755.5 577h0M1863.5 577h0M1870 577h0M2008.5 577h0M479 577.5h0M1017.5 577.5h0M1106 577.5h0M1280 577.5h0M1383 577.5h0M1710.5 577.5h0M1760 577.5h0M1809 577.5h0M1811 577.5h0M348.5 578h0M353 578h0M598 578h0M671.5 578h0M738 578h0M957.5 578h0M1015.5 578h0M1273.5 578h0M1429 578h0M1437 578h0M1615 578h0M1787 578h0M1909 578h0M1984.5 578h0M115 578.5h0M287 578.5h0M312 578.5h0M341.5 578.5h0M358 578.5h0M373.5 578.5h0M375 578.5h0M672 578.5h0M699 578.5h0M922.5 578.5h0M924.5 578.5h0M1244.5 578.5h0M1306.5 578.5h0M1399.5 578.5h0M1410 578.5h0M1413 578.5h0M1608.5 578.5h0M1699 578.5h0M1977 578.5h0M190 579h0M328.5 579h0M574.5 579h0M952 579h0M1018 579h0M1032.5 579h0M1037.5 579h0M1338.5 579h0M1411 579h0M1464.5 579h0M212 579.5h0M362.5 579.5h0M501 579.5h0M925.5 579.5h0M1143 579.5h0M1290 579.5h0M1291.5 579.5h0M1300 579.5h0M1317 579.5h0M1539.5 579.5h0M1593.5 579.5h0M1673.5 579.5h0M1702 579.5h0M316.5 580h0M317.5 580h0M323 580h0M337 580h0M368.5 580h0M597 580h0M756.5 580h0M1415 580h0M1762 580h0M1765.5 580h0M346 580.5h0M346.5 580.5h0M405 580.5h0M479.5 580.5h0M672 580.5h0M991 580.5h0M1217 580.5h0M1286 580.5h0M1569 580.5h0M1887 580.5h0M1923 580.5h0M115.5 581h0M190 581h0M211.5 581h0M212.5 581h0M340 581h0M375 581h0M721.5 581h0M839 581h0M960 581h0M1114.5 581h0M1434.5 581h0M1714 581h0M1792 581h0M1871 581h0M1920 581h0M732 581.5h0M939.5 581.5h0M1023 581.5h0M1121 581.5h0M1312.5 581.5h0M1539.5 581.5h0M1684.5 581.5h0M1705 581.5h0M1913 581.5h0M285.5 582h0M313 582h0M342 582h0M792.5 582h0M990 582h0M1011 582h0M1589.5 582h0M1703.5 582h0M1822.5 582h0M1957.5 582h0M343.5 582.5h0M479.5 582.5h0M597 582.5h0M893 582.5h0M983 582.5h0M1119.5 582.5h0M1182 582.5h0M1420.5 582.5h0M1464 582.5h0M1891.5 582.5h0M381 583h0M500.5 583h0M576 583h0M839.5 583h0M932 583h0M933.5 583h0M1147 583h0M1150 583h0M1464.5 583h0M1802.5 583h0M1850.5 583h0M1903 583h0M1954 583h0M286.5 583.5h0M310.5 583.5h0M366 583.5h0M404.5 583.5h0M598 583.5h0M891 583.5h0M926 583.5h0M1288 583.5h0M1610.5 583.5h0M1753 583.5h0M1791 583.5h0M190.5 584h0M211.5 584h0M377.5 584h0M672.5 584h0M923.5 584h0M1188.5 584h0M1289 584h0M1294 584h0M1675.5 584h0M1725 584h0M1974.5 584h0M318 584.5h0M328 584.5h0M936 584.5h0M938.5 584.5h0M1048 584.5h0M1345 584.5h0M1669 584.5h0M1679.5 584.5h0M1716.5 584.5h0M115 585h0M382.5 585h0M500.5 585h0M576 585h0M940 585h0M989 585h0M1094 585h0M1320.5 585h0M1376 585h0M1538.5 585h0M1598 585h0M1678 585h0M1816.5 585h0M1994.5 585h0M331.5 585.5h0M339 585.5h0M363.5 585.5h0M1049 585.5h0M1290 585.5h0M1685.5 585.5h0M1778 585.5h0M1862.5 585.5h0M339 586h0M367.5 586h0M1239 586h0M1297 586h0M1332.5 586h0M1343 586h0M1345.5 586h0M1403.5 586h0M1407 586h0M1464.5 586h0M1619 586h0M1786 586h0M336.5 586.5h0M404 586.5h0M597 586.5h0M672 586.5h0M1081 586.5h0M1323 586.5h0M1588 586.5h0M1995.5 586.5h0M115 587h0M310.5 587h0M331 587h0M478 587h0M930 587h0M1271.5 587h0M1307 587h0M190 587.5h0M211.5 587.5h0M313 587.5h0M321.5 587.5h0M331 587.5h0M349.5 587.5h0M998.5 587.5h0M1145.5 587.5h0M1715 587.5h0M1794 587.5h0M1798.5 587.5h0M1853 587.5h0M1908 587.5h0M1912.5 587.5h0M1920.5 587.5h0M1978 587.5h0M189.5 588h0M286 588h0M500.5 588h0M575.5 588h0M750 588h0M842.5 588h0M914.5 588h0M944.5 588h0M1281 588h0M1539 588h0M1718.5 588h0M1795.5 588h0M1873 588h0M1913.5 588h0M337 588.5h0M376 588.5h0M378.5 588.5h0M404.5 588.5h0M746.5 588.5h0M765.5 588.5h0M892.5 588.5h0M1421 588.5h0M1464.5 588.5h0M1673 588.5h0M1728.5 588.5h0M379 589h0M733.5 589h0M887.5 589h0M2013.5 589h0M336 589.5h0M478 589.5h0M744 589.5h0M762.5 589.5h0M989 589.5h0M1110 589.5h0M1132.5 589.5h0M1344 589.5h0M1420.5 589.5h0M1425 589.5h0M1568 589.5h0M1695 589.5h0M1697.5 589.5h0M1826.5 589.5h0M1947 589.5h0M286.5 590h0M310 590h0M597.5 590h0M598 590h0M672 590h0M1031 590h0M1031.5 590h0M1039.5 590h0M1298.5 590h0M1761.5 590h0M1860.5 590h0M2012 590h0M211.5 590.5h0M1275.5 590.5h0M1330 590.5h0M1340.5 590.5h0M1381.5 590.5h0M1667.5 590.5h0M1765.5 590.5h0M1892.5 590.5h0M115 591h0M190.5 591h0M363 591h0M479 591h0M925.5 591h0M1053 591h0M1224 591h0M1310.5 591h0M1464.5 591h0M1539 591h0M375.5 591.5h0M576 591.5h0M1032.5 591.5h0M1079 591.5h0M1118 591.5h0M1407 591.5h0M1538.5 591.5h0M1913 591.5h0M317 592h0M364.5 592h0M500.5 592h0M597.5 592h0M763.5 592h0M1234 592h0M1272.5 592h0M1304 592h0M1327 592h0M1378.5 592h0M1387.5 592h0M1427.5 592h0M1538 592h0M1812.5 592h0M1857 592h0M1922.5 592h0M373.5 592.5h0M405 592.5h0M736.5 592.5h0M767 592.5h0M1706 592.5h0M1887 592.5h0M116 593h0M190.5 593h0M313 593h0M345 593h0M671.5 593h0M890.5 593h0M928 593h0M1041.5 593h0M1602.5 593h0M1694.5 593h0M1716.5 593h0M1862.5 593h0M1903.5 593h0M115 593.5h0M212.5 593.5h0M285.5 593.5h0M355.5 593.5h0M363.5 593.5h0M1105 593.5h0M1309 593.5h0M1323 593.5h0M1597.5 593.5h0M1768.5 593.5h0M1817.5 593.5h0M1819.5 593.5h0M1891 593.5h0M189.5 594h0M346 594h0M352.5 594h0M500.5 594h0M575 594h0M751 594h0M918.5 594h0M928.5 594h0M1006 594h0M1041.5 594h0M1050 594h0M1340.5 594h0M1433 594h0M1538.5 594h0M1757.5 594h0M1771 594h0M1782 594h0M1809 594h0M287 594.5h0M353 594.5h0M370 594.5h0M479.5 594.5h0M910 594.5h0M1016 594.5h0M1101.5 594.5h0M1182 594.5h0M1313 594.5h0M1539.5 594.5h0M1571 594.5h0M1712.5 594.5h0M1772 594.5h0M1794.5 594.5h0M2013 594.5h0M2014.5 594.5h0M360 595h0M597.5 595h0M825.5 595h0M1015.5 595h0M1346.5 595h0M1465 595h0M1948.5 595h0M405 595.5h0M672 595.5h0M1055 595.5h0M1281 595.5h0M1300.5 595.5h0M1416.5 595.5h0M1464.5 595.5h0M1994.5 595.5h0M190 596h0M339.5 596h0M1018 596h0M1464 596h0M1771.5 596h0M1861.5 596h0M1993 596h0M330 596.5h0M829.5 596.5h0M936.5 596.5h0M944.5 596.5h0M1139.5 596.5h0M1307.5 596.5h0M1337.5 596.5h0M1368.5 596.5h0M1382.5 596.5h0M1727 596.5h0M1756 596.5h0M1778 596.5h0M1876 596.5h0M1918 596.5h0M115.5 597h0M211.5 597h0M286.5 597h0M325 597h0M337.5 597h0M354 597h0M382.5 597h0M576 597h0M723.5 597h0M1029 597h0M1130 597h0M1277 597h0M1566.5 597h0M1587 597h0M361 597.5h0M405.5 597.5h0M672 597.5h0M918 597.5h0M1343.5 597.5h0M1539 597.5h0M1658 597.5h0M1668.5 597.5h0M2002 597.5h0M309.5 598h0M479 598h0M500.5 598h0M1002.5 598h0M1222 598h0M1276 598h0M1417.5 598h0M1465 598h0M1897.5 598h0M321.5 598.5h0M351 598.5h0M795.5 598.5h0M900.5 598.5h0M918 598.5h0M934 598.5h0M1271.5 598.5h0M1315 598.5h0M1439 598.5h0M1577 598.5h0M189 599h0M211.5 599h0M311.5 599h0M318 599h0M337 599h0M341 599h0M598 599h0M715 599h0M831 599h0M908.5 599h0M937 599h0M1017 599h0M1031.5 599h0M1308 599h0M1338 599h0M1825.5 599h0M115.5 599.5h0M344.5 599.5h0M380.5 599.5h0M597 599.5h0M741.5 599.5h0M1201.5 599.5h0M115 600h0M286 600h0M309.5 600h0M352 600h0M356 600h0M366.5 600h0M991.5 600h0M1132 600h0M1183 600h0M1681.5 600h0M1729 600h0M1757 600h0M190.5 600.5h0M344 600.5h0M404.5 600.5h0M479.5 600.5h0M713 600.5h0M823 600.5h0M1287 600.5h0M1290 600.5h0M1539 600.5h0M1875.5 600.5h0M1979.5 600.5h0M115.5 601h0M326 601h0M331 601h0M479 601h0M501.5 601h0M575 601h0M751 601h0M755.5 601h0M1127.5 601h0M1187 601h0M1464 601h0M1563.5 601h0M1703.5 601h0M1775 601h0M321.5 601.5h0M368.5 601.5h0M671 601.5h0M672 601.5h0M708.5 601.5h0M988 601.5h0M1101.5 601.5h0M1108 601.5h0M1151.5 601.5h0M1233.5 601.5h0M1342.5 601.5h0M1729 601.5h0M1883 601.5h0M116.5 602h0M190 602h0M212.5 602h0M361 602h0M598 602h0M841 602h0M928.5 602h0M1043 602h0M1105 602h0M1219.5 602h0M1271.5 602h0M1307 602h0M1332 602h0M1339 602h0M1346.5 602h0M1723.5 602h0M1788.5 602h0M1816 602h0M1920 602h0M190.5 602.5h0M287 602.5h0M332 602.5h0M897.5 602.5h0M909 602.5h0M1010.5 602.5h0M1291.5 602.5h0M1669.5 602.5h0M1885 602.5h0M335.5 603h0M347.5 603h0M375 603h0M377 603h0M891 603h0M927 603h0M929.5 603h0M1539.5 603h0M1689 603h0M1774 603h0M1979 603h0M311 603.5h0M347.5 603.5h0M373.5 603.5h0M379.5 603.5h0M478.5 603.5h0M723.5 603.5h0M934 603.5h0M1281 603.5h0M1464.5 603.5h0M1919.5 603.5h0M1992 603.5h0M2009.5 603.5h0M500.5 604h0M576 604h0M597 604h0M758.5 604h0M852 604h0M913 604h0M1226 604h0M1327.5 604h0M1333.5 604h0M1346 604h0M1422 604h0M211.5 604.5h0M374.5 604.5h0M405 604.5h0M672 604.5h0M1275.5 604.5h0M1805 604.5h0M2017 604.5h0M287 605h0M323 605h0M364.5 605h0M597 605h0M763.5 605h0M894.5 605h0M1119.5 605h0M1686 605h0M1699 605h0M1822 605h0M286.5 605.5h0M404 605.5h0M697 605.5h0M948 605.5h0M1010.5 605.5h0M1117 605.5h0M1229.5 605.5h0M1602 605.5h0M1782.5 605.5h0M1850 605.5h0M1855.5 605.5h0M1862.5 605.5h0M1878.5 605.5h0M115.5 606h0M190 606h0M325 606h0M837 606h0M925 606h0M1282.5 606h0M1570 606h0M1706 606h0M1757 606h0M1821 606h0M479 606.5h0M575 606.5h0M671 606.5h0M1331 606.5h0M1418.5 606.5h0M1464 606.5h0M1539.5 606.5h0M1662.5 606.5h0M1763 606.5h0M1797 606.5h0M1989 606.5h0M353 607h0M369 607h0M404 607h0M501.5 607h0M597 607h0M672 607h0M1018 607h0M1020.5 607h0M1024.5 607h0M1088 607h0M1109.5 607h0M1373 607h0M1576 607h0M1610 607h0M1781 607h0M1956.5 607h0M361.5 607.5h0M378 607.5h0M705 607.5h0M755 607.5h0M1141.5 607.5h0M1298 607.5h0M1313 607.5h0M1576 607.5h0M1692 607.5h0M1713.5 607.5h0M2008 607.5h0M115.5 608h0M190.5 608h0M211.5 608h0M1103.5 608h0M1118.5 608h0M1129.5 608h0M1182.5 608h0M1305 608h0M1326 608h0M1328 608h0M1784 608h0M1905 608h0M286 608.5h0M314.5 608.5h0M379.5 608.5h0M742.5 608.5h0M797 608.5h0M993 608.5h0M1050.5 608.5h0M1223 608.5h0M1223.5 608.5h0M1302 608.5h0M1767.5 608.5h0M1861.5 608.5h0M2013 608.5h0M324.5 609h0M350 609h0M479 609h0M761 609h0M901.5 609h0M1143 609h0M1203 609h0M1280.5 609h0M1713.5 609h0M1875.5 609h0M340.5 609.5h0M345.5 609.5h0M597 609.5h0M733 609.5h0M935.5 609.5h0M1297.5 609.5h0M1539 609.5h0M1583 609.5h0M1667 609.5h0M1862 609.5h0M1959 609.5h0M1985 609.5h0M343.5 610h0M357 610h0M404 610h0M502 610h0M576 610h0M672 610h0M768 610h0M941 610h0M1384 610h0M1464 610h0M1624.5 610h0M1695 610h0M369 610.5h0M382.5 610.5h0M1049 610.5h0M1277.5 610.5h0M1286.5 610.5h0M1383 610.5h0M1636 610.5h0M1665 610.5h0M1784 610.5h0M1856 610.5h0M1894.5 610.5h0M115.5 611h0M286.5 611h0M354 611h0M381.5 611h0M597.5 611h0M960 611h0M1025.5 611h0M1148 611h0M1206.5 611h0M1571.5 611h0M1677.5 611h0M1827.5 611h0M1870 611h0M1909.5 611h0M1923 611h0M211.5 611.5h0M350.5 611.5h0M889.5 611.5h0M894 611.5h0M937 611.5h0M1003 611.5h0M1028 611.5h0M1185 611.5h0M1220.5 611.5h0M1322 611.5h0M1797 611.5h0M190.5 612h0M337 612h0M340 612h0M363.5 612h0M368.5 612h0M479 612h0M575.5 612h0M1086 612h0M1124.5 612h0M1613.5 612h0M1860 612h0M319.5 612.5h0M722.5 612.5h0M861 612.5h0M998.5 612.5h0M1099 612.5h0M1286.5 612.5h0M1566.5 612.5h0M1587.5 612.5h0M1695.5 612.5h0M1726 612.5h0M314.5 613h0M500.5 613h0M811.5 613h0M1107.5 613h0M1120.5 613h0M1389 613h0M1464 613h0M1538.5 613h0M1539 613h0M1679 613h0M1795 613h0M1857 613h0M377.5 613.5h0M404.5 613.5h0M576 613.5h0M597 613.5h0M1018.5 613.5h0M1277 613.5h0M1303.5 613.5h0M1326 613.5h0M1573 613.5h0M1677 613.5h0M1790.5 613.5h0M1809.5 613.5h0M1894.5 613.5h0M1959.5 613.5h0M190.5 614h0M211.5 614h0M671.5 614h0M739 614h0M1005.5 614h0M1234.5 614h0M1565.5 614h0M1819 614h0M116 614.5h0M286 614.5h0M337.5 614.5h0M346 614.5h0M363.5 614.5h0M479.5 614.5h0M897 614.5h0M1056 614.5h0M1289.5 614.5h0M1396 614.5h0M1464 614.5h0M1687 614.5h0M1789.5 614.5h0M1899.5 614.5h0M318 615h0M343 615h0M405 615h0M500.5 615h0M502 615h0M996 615h0M1027.5 615h0M1029 615h0M1030 615h0M1308.5 615h0M1309.5 615h0M1465 615h0M1769 615h0M1959 615h0M344.5 615.5h0M375 615.5h0M576 615.5h0M1142.5 615.5h0M1561.5 615.5h0M1768 615.5h0M1801.5 615.5h0M1857 615.5h0M1998 615.5h0M349 616h0M708 616h0M797 616h0M1213 616h0M1232.5 616h0M1289 616h0M1310.5 616h0M1407 616h0M1437 616h0M1538.5 616h0M1625 616h0M1689 616h0M1780.5 616h0M1957.5 616h0M358.5 616.5h0M370.5 616.5h0M479.5 616.5h0M597.5 616.5h0M708.5 616.5h0M888 616.5h0M1236.5 616.5h0M1322 616.5h0M1670.5 616.5h0M1709.5 616.5h0M308 617h0M671 617h0M828 617h0M847 617h0M1247.5 617h0M1396.5 617h0M1721.5 617h0M1794 617h0M1887.5 617h0M1906 617h0M115 617.5h0M211.5 617.5h0M313 617.5h0M327 617.5h0M335 617.5h0M348 617.5h0M364.5 617.5h0M378 617.5h0M718.5 617.5h0M1147.5 617.5h0M1149.5 617.5h0M1249 617.5h0M1306 617.5h0M1801.5 617.5h0M190 618h0M286 618h0M382.5 618h0M500.5 618h0M928 618h0M951.5 618h0M1303.5 618h0M1403 618h0M1539.5 618h0M2003.5 618h0M286.5 618.5h0M340.5 618.5h0M912 618.5h0M1054.5 618.5h0M1175.5 618.5h0M1182 618.5h0M1371.5 618.5h0M1412 618.5h0M1464 618.5h0M1566.5 618.5h0M1692 618.5h0M1792 618.5h0M349.5 619h0M367.5 619h0M376 619h0M479 619h0M575 619h0M672.5 619h0M713 619h0M858 619h0M1104 619h0M1234 619h0M1828 619h0M1996 619h0M115 619.5h0M309 619.5h0M333.5 619.5h0M335.5 619.5h0M354.5 619.5h0M404.5 619.5h0M597 619.5h0M808.5 619.5h0M1322.5 619.5h0M1596.5 619.5h0M190.5 620h0M286.5 620h0M373 620h0M380 620h0M800.5 620h0M998.5 620h0M1080 620h0M1110.5 620h0M1326.5 620h0M1338.5 620h0M1464 620h0M1682 620h0M1694 620h0M1782.5 620h0M1799.5 620h0M116 620.5h0M1003 620.5h0M1047 620.5h0M1080 620.5h0M1123 620.5h0M1290 620.5h0M1303.5 620.5h0M1571 620.5h0M1785 620.5h0M1876.5 620.5h0M211.5 621h0M718 621h0M1086.5 621h0M1272 621h0M1465 621h0M1705 621h0M1823.5 621h0M313 621.5h0M324.5 621.5h0M336.5 621.5h0M342.5 621.5h0M353.5 621.5h0M357 621.5h0M501 621.5h0M852 621.5h0M923.5 621.5h0M1899 621.5h0M1899.5 621.5h0M335 622h0M366.5 622h0M576 622h0M597 622h0M723.5 622h0M956 622h0M1013.5 622h0M1019.5 622h0M1050 622h0M1280.5 622h0M1539 622h0M1665.5 622h0M1777 622h0M1909.5 622h0M404 622.5h0M478.5 622.5h0M672 622.5h0M709.5 622.5h0M822.5 622.5h0M1153 622.5h0M1290.5 622.5h0M1311.5 622.5h0M1317.5 622.5h0M1346 622.5h0M1633.5 622.5h0M1676.5 622.5h0M1856.5 622.5h0M1867 622.5h0M1918.5 622.5h0M1959 622.5h0M116 623h0M212 623h0M671.5 623h0M920.5 623h0M954.5 623h0M1030 623h0M1049.5 623h0M1274.5 623h0M1681 623h0M1723 623h0M1728.5 623h0M1806.5 623h0M1896 623h0M190 623.5h0M323 623.5h0M323.5 623.5h0M368 623.5h0M857 623.5h0M955.5 623.5h0M1032.5 623.5h0M1307 623.5h0M1307.5 623.5h0M1328 623.5h0M1464 623.5h0M1865.5 623.5h0M285.5 624h0M345 624h0M381.5 624h0M501.5 624h0M709.5 624h0M736 624h0M907 624h0M1411.5 624h0M1465 624h0M1539.5 624h0M1572.5 624h0M1666.5 624h0M1699 624h0M1759 624h0M1806.5 624h0M1911 624h0M379 624.5h0M479.5 624.5h0M742.5 624.5h0M888.5 624.5h0M949.5 624.5h0M1005.5 624.5h0M1034 624.5h0M1096.5 624.5h0M1595.5 624.5h0M115 625h0M597 625h0M598 625h0M671.5 625h0M805 625h0M828 625h0M843.5 625h0M899 625h0M961 625h0M1249 625h0M1277.5 625h0M1434.5 625h0M1676.5 625h0M1683.5 625h0M1792.5 625h0M404.5 625.5h0M575 625.5h0M735.5 625.5h0M905 625.5h0M1140.5 625.5h0M1180.5 625.5h0M1229 625.5h0M1341 625.5h0M115.5 626h0M211.5 626h0M330.5 626h0M374 626h0M720 626h0M767 626h0M939 626h0M1090.5 626h0M1193.5 626h0M1236.5 626h0M1320 626h0M1464 626h0M1693 626h0M1758 626h0M1854.5 626h0M190.5 626.5h0M833.5 626.5h0M890 626.5h0M909.5 626.5h0M924 626.5h0M1103.5 626.5h0M1225 626.5h0M1281 626.5h0M1309 626.5h0M1344 626.5h0M1413 626.5h0M1633 626.5h0M1819.5 626.5h0M1849.5 626.5h0M286.5 627h0M342 627h0M1047 627h0M1153 627h0M1589.5 627h0M1666.5 627h0M1712.5 627h0M1856 627h0M2017 627h0M576 627.5h0M918.5 627.5h0M1295 627.5h0M1301.5 627.5h0M1304.5 627.5h0M1315 627.5h0M1464.5 627.5h0M1753.5 627.5h0M1885 627.5h0M361.5 628h0M364.5 628h0M405 628h0M479.5 628h0M500.5 628h0M703.5 628h0M1124.5 628h0M1234 628h0M1426 628h0M1539.5 628h0M1618.5 628h0M1886.5 628h0M327.5 628.5h0M672 628.5h0M721 628.5h0M744 628.5h0M751.5 628.5h0M756 628.5h0M954 628.5h0M1008 628.5h0M1290 628.5h0M1291 628.5h0M1328.5 628.5h0M1339.5 628.5h0M1704.5 628.5h0M1753 628.5h0M1787.5 628.5h0M1792 628.5h0M285.5 629h0M348.5 629h0M597 629h0M961 629h0M1013 629h0M1014.5 629h0M1192.5 629h0M1223 629h0M1286.5 629h0M1580 629h0M1722.5 629h0M1968.5 629h0M211.5 629.5h0M956 629.5h0M1043 629.5h0M1574 629.5h0M1616.5 629.5h0M1898.5 629.5h0M115.5 630h0M333.5 630h0M359 630h0M500.5 630h0M575.5 630h0M1013 630h0M1016 630h0M1277 630h0M1293.5 630h0M1464 630h0M1673 630h0M1823 630h0M1881.5 630h0M1918.5 630h0M190.5 630.5h0M317.5 630.5h0M328.5 630.5h0M331 630.5h0M404 630.5h0M404.5 630.5h0M741.5 630.5h0M758 630.5h0M858 630.5h0M1126.5 630.5h0M1249 630.5h0M1315 630.5h0M1332.5 630.5h0M1334 630.5h0M1385.5 630.5h0M1808.5 630.5h0M340.5 631h0M478.5 631h0M701.5 631h0M754 631h0M819.5 631h0M894.5 631h0M1147.5 631h0M1339.5 631h0M1343.5 631h0M1465 631h0M1539.5 631h0M1907 631h0M351 631.5h0M671.5 631.5h0M998.5 631.5h0M1190 631.5h0M1300 631.5h0M1408 631.5h0M1821.5 631.5h0M1918.5 631.5h0M115 632h0M343.5 632h0M597 632h0M709.5 632h0M835.5 632h0M947 632h0M1003 632h0M1412 632h0M1440.5 632h0M1851 632h0M1865.5 632h0M190.5 632.5h0M211.5 632.5h0M286 632.5h0M315.5 632.5h0M359 632.5h0M377.5 632.5h0M720.5 632.5h0M960.5 632.5h0M1018.5 632.5h0M1056.5 632.5h0M1120 632.5h0M1208.5 632.5h0M1330.5 632.5h0M1334.5 632.5h0M1344 632.5h0M1726.5 632.5h0M189.5 633h0M347 633h0M501 633h0M733 633h0M842.5 633h0M1043 633h0M1057.5 633h0M1194 633h0M1220 633h0M1392 633h0M1539 633h0M1563 633h0M1565 633h0M1692 633h0M575 633.5h0M672.5 633.5h0M755.5 633.5h0M1107 633.5h0M1318.5 633.5h0M1709.5 633.5h0M1715.5 633.5h0M1826.5 633.5h0M1871.5 633.5h0M404 634h0M479.5 634h0M576 634h0M766 634h0M802.5 634h0M825 634h0M829 634h0M1082 634h0M1103.5 634h0M1302.5 634h0M1374.5 634h0M1464 634h0M1715.5 634h0M1805 634h0M321 634.5h0M325.5 634.5h0M337.5 634.5h0M478.5 634.5h0M672 634.5h0M847.5 634.5h0M894 634.5h0M949.5 634.5h0M990 634.5h0M1045 634.5h0M1086 634.5h0M1289.5 634.5h0M1307.5 634.5h0M1320 634.5h0M364.5 635h0M479.5 635h0M597 635h0M731 635h0M952.5 635h0M1049 635h0M1238 635h0M1663 635h0M1916.5 635h0M190.5 635.5h0M286.5 635.5h0M327 635.5h0M1104 635.5h0M1109.5 635.5h0M1276.5 635.5h0M1773.5 635.5h0M1885.5 635.5h0M115.5 636h0M211.5 636h0M342 636h0M349 636h0M350.5 636h0M357 636h0M737.5 636h0M749.5 636h0M889 636h0M1397.5 636h0M1785.5 636h0M1867 636h0M1968 636h0M316 636.5h0M342.5 636.5h0M405.5 636.5h0M479 636.5h0M576 636.5h0M994.5 636.5h0M1244 636.5h0M1293.5 636.5h0M1295.5 636.5h0M1334.5 636.5h0M1409 636.5h0M1427 636.5h0M1464.5 636.5h0M1539 636.5h0M1682 636.5h0M1793.5 636.5h0M1890 636.5h0M1963.5 636.5h0M2020.5 636.5h0M361 637h0M501 637h0M764 637h0M833.5 637h0M931.5 637h0M935 637h0M997 637h0M1112.5 637h0M1281 637h0M1344 637h0M1377.5 637h0M1676.5 637h0M1688.5 637h0M1700.5 637h0M1854.5 637h0M311 637.5h0M333 637.5h0M349 637.5h0M354 637.5h0M368 637.5h0M404.5 637.5h0M598 637.5h0M672 637.5h0M738.5 637.5h0M794 637.5h0M911 637.5h0M1103.5 637.5h0M1222 637.5h0M1304 637.5h0M1318.5 637.5h0M1657.5 637.5h0M1700 637.5h0M374.5 638h0M738.5 638h0M987.5 638h0M1004 638h0M1084.5 638h0M1272.5 638h0M1762.5 638h0M1805.5 638h0M1884 638h0M1922 638h0M1993 638h0M116 638.5h0M190.5 638.5h0M325.5 638.5h0M338.5 638.5h0M348.5 638.5h0M597.5 638.5h0M1293.5 638.5h0M1306 638.5h0M1346 638.5h0M1464.5 638.5h0M1539.5 638.5h0M1706 638.5h0M1774 638.5h0M1921.5 638.5h0M213 639h0M317.5 639h0M946 639h0M1082 639h0M1143.5 639h0M1435 639h0M1882 639h0M1884.5 639h0M1954.5 639h0M286 639.5h0M310.5 639.5h0M318.5 639.5h0M378.5 639.5h0M479.5 639.5h0M575.5 639.5h0M697 639.5h0M795.5 639.5h0M849.5 639.5h0M1023.5 639.5h0M1112 639.5h0M1276.5 639.5h0M1288 639.5h0M1305.5 639.5h0M1421.5 639.5h0M1424 639.5h0M1719.5 639.5h0M1805.5 639.5h0M1810 639.5h0M1897 639.5h0M405 640h0M501.5 640h0M598 640h0M930.5 640h0M1230.5 640h0M1539 640h0M1608.5 640h0M1689 640h0M1727 640h0M1782.5 640h0M1912.5 640h0M211.5 640.5h0M314.5 640.5h0M333 640.5h0M404 640.5h0M891.5 640.5h0M1042 640.5h0M1050 640.5h0M1053.5 640.5h0M1093 640.5h0M1342.5 640.5h0M1631 640.5h0M1781.5 640.5h0M1798 640.5h0M1876 640.5h0M1968 640.5h0M286 641h0M501 641h0M1047 641h0M1590 641h0M1858 641h0M1890.5 641h0M1898 641h0M1911.5 641h0M115.5 641.5h0M212 641.5h0M671.5 641.5h0M938.5 641.5h0M1118 641.5h0M1140.5 641.5h0M1229 641.5h0M1304 641.5h0M1538 641.5h0M1711 641.5h0M190 642h0M319 642h0M353 642h0M672.5 642h0M940.5 642h0M1120 642h0M1199.5 642h0M1329.5 642h0M1346 642h0M1656.5 642h0M1949.5 642h0M356.5 642.5h0M378.5 642.5h0M716.5 642.5h0M838 642.5h0M910.5 642.5h0M933.5 642.5h0M1221 642.5h0M1288 642.5h0M1610.5 642.5h0M1722.5 642.5h0M334.5 643h0M478.5 643h0M501 643h0M575.5 643h0M672 643h0M733 643h0M864 643h0M909 643h0M910.5 643h0M1004.5 643h0M1186.5 643h0M1464 643h0M1800.5 643h0M1885.5 643h0M1899 643h0M334 643.5h0M342 643.5h0M347 643.5h0M379.5 643.5h0M404.5 643.5h0M597.5 643.5h0M703.5 643.5h0M767.5 643.5h0M845 643.5h0M947 643.5h0M1102 643.5h0M1218.5 643.5h0M1573.5 643.5h0M1675 643.5h0M1754 643.5h0M1764 643.5h0M1808.5 643.5h0M115.5 644h0M211.5 644h0M948 644h0M998.5 644h0M1014 644h0M1026 644h0M1149 644h0M1186 644h0M1187 644h0M1284.5 644h0M1327 644h0M1408 644h0M1539 644h0M1728 644h0M1770.5 644h0M1961 644h0M190.5 644.5h0M286.5 644.5h0M367.5 644.5h0M1015 644.5h0M1140.5 644.5h0M1771.5 644.5h0M1774 644.5h0M1873.5 644.5h0M1891 644.5h0M1966 644.5h0M286 645h0M347.5 645h0M367.5 645h0M500.5 645h0M753 645h0M911 645h0M1133 645h0M1232 645h0M1293 645h0M1306 645h0M1700 645h0M1818.5 645h0M317 645.5h0M404 645.5h0M1145.5 645.5h0M1151 645.5h0M1488.5 645.5h0M1519.5 645.5h0M1867 645.5h0M1991 645.5h0M405 646h0M575.5 646h0M597 646h0M726.5 646h0M744.5 646h0M924 646h0M998 646h0M1000 646h0M1106 646h0M1214 646h0M1464 646h0M1465 646h0M1517 646h0M1539.5 646h0M479.5 646.5h0M1030 646.5h0M1126.5 646.5h0M1275 646.5h0M1290.5 646.5h0M1488 646.5h0M1499.5 646.5h0M1806 646.5h0M1996 646.5h0M2013 646.5h0M115 647h0M212 647h0M285.5 647h0M314 647h0M672 647h0M1386.5 647h0M1387.5 647h0M1504.5 647h0M1711.5 647h0M361.5 647.5h0M379.5 647.5h0M597 647.5h0M1191.5 647.5h0M1212.5 647.5h0M1398 647.5h0M1464.5 647.5h0M1481 647.5h0M1531 647.5h0M1535 647.5h0M1918 647.5h0M189.5 648h0M336.5 648h0M345.5 648h0M353 648h0M360.5 648h0M500.5 648h0M711.5 648h0M895.5 648h0M1181 648h0M1207.5 648h0M1334 648h0M1498 648h0M1505 648h0M1659.5 648h0M1675 648h0M1881.5 648h0M1989.5 648h0M352.5 648.5h0M363.5 648.5h0M365.5 648.5h0M367.5 648.5h0M381.5 648.5h0M479 648.5h0M575.5 648.5h0M730 648.5h0M852 648.5h0M1012.5 648.5h0M1024 648.5h0M1037 648.5h0M1123.5 648.5h0M1480 648.5h0M1870 648.5h0M1956.5 648.5h0M329.5 649h0M345 649h0M349.5 649h0M404.5 649h0M598 649h0M955.5 649h0M1013.5 649h0M1425 649h0M1495 649h0M1507.5 649h0M1513.5 649h0M1681 649h0M1692 649h0M115 649.5h0M672.5 649.5h0M989.5 649.5h0M1131.5 649.5h0M1223.5 649.5h0M1291.5 649.5h0M1320.5 649.5h0M1343 649.5h0M1525 649.5h0M1539.5 649.5h0M1698.5 649.5h0M1722.5 649.5h0M286.5 650h0M377.5 650h0M702.5 650h0M722 650h0M758 650h0M933 650h0M991 650h0M1005.5 650h0M1015 650h0M1019.5 650h0M1187 650h0M1293.5 650h0M1416.5 650h0M1489 650h0M1522.5 650h0M1774 650h0M725 650.5h0M731.5 650.5h0M916.5 650.5h0M951 650.5h0M1001.5 650.5h0M1233 650.5h0M1327 650.5h0M1378 650.5h0M1486 650.5h0M1522 650.5h0M1569.5 650.5h0M1902.5 650.5h0M1923 650.5h0M190 651h0M190.5 651h0M211.5 651h0M314.5 651h0M576 651h0M941.5 651h0M1140.5 651h0M1207.5 651h0M1246.5 651h0M1312 651h0M1470.5 651h0M1474.5 651h0M1576 651h0M1720.5 651h0M1728.5 651h0M1850 651h0M1863.5 651h0M1899 651h0M318.5 651.5h0M323.5 651.5h0M380.5 651.5h0M405 651.5h0M501.5 651.5h0M853 651.5h0M955 651.5h0M1339 651.5h0M1471.5 651.5h0M1474.5 651.5h0M1495 651.5h0M1503 651.5h0M1528 651.5h0M1535.5 651.5h0M1539 651.5h0M1694 651.5h0M1701.5 651.5h0M478 652h0M672 652h0M720 652h0M792.5 652h0M835.5 652h0M953 652h0M1245 652h0M1465.5 652h0M1474.5 652h0M1700.5 652h0M1711 652h0M1855.5 652h0M1916.5 652h0M320.5 652.5h0M322 652.5h0M366 652.5h0M383 652.5h0M938.5 652.5h0M1179.5 652.5h0M1226.5 652.5h0M1316 652.5h0M1380.5 652.5h0M1469 652.5h0M1601 652.5h0M1819 652.5h0M1890 652.5h0M115 653h0M211.5 653h0M325 653h0M597 653h0M945.5 653h0M1126.5 653h0M1130.5 653h0M1136.5 653h0M1220 653h0M1249 653h0M1325.5 653h0M1466.5 653h0M1470.5 653h0M1497.5 653h0M1518.5 653h0M1534.5 653h0M1562 653h0M1572 653h0M1703.5 653h0M1861.5 653h0M1863.5 653h0M1898.5 653h0M1916 653h0M189 653.5h0M285.5 653.5h0M286.5 653.5h0M479.5 653.5h0M576 653.5h0M792 653.5h0M888 653.5h0M924.5 653.5h0M988.5 653.5h0M1103 653.5h0M1465 653.5h0M1687.5 653.5h0M1706.5 653.5h0M1907 653.5h0M371.5 654h0M500.5 654h0M575.5 654h0M1090.5 654h0M1111.5 654h0M1121 654h0M1128.5 654h0M1132 654h0M1146.5 654h0M1203.5 654h0M1313 654h0M1473 654h0M1489.5 654h0M1513 654h0M1539 654h0M1584 654h0M1670.5 654h0M1920 654h0M347 654.5h0M352.5 654.5h0M369.5 654.5h0M761.5 654.5h0M914.5 654.5h0M922 654.5h0M1021 654.5h0M1327 654.5h0M1330 654.5h0M1420.5 654.5h0M1480 654.5h0M1485 654.5h0M1497 654.5h0M1523 654.5h0M1684.5 654.5h0M1782.5 654.5h0M1865.5 654.5h0M190 655h0M338.5 655h0M361.5 655h0M405 655h0M929 655h0M1153 655h0M1313 655h0M1322 655h0M1329.5 655h0M1504 655h0M1507.5 655h0M1686 655h0M1823 655h0M312 655.5h0M316 655.5h0M362 655.5h0M478.5 655.5h0M672 655.5h0M1369 655.5h0M1464.5 655.5h0M1522 655.5h0M1704.5 655.5h0M1785 655.5h0M1971 655.5h0M1988.5 655.5h0M1990.5 655.5h0M115.5 656h0M286.5 656h0M313 656h0M320.5 656h0M328 656h0M378.5 656h0M479.5 656h0M598 656h0M766 656h0M806.5 656h0M1081.5 656h0M1101 656h0M1224.5 656h0M1398 656h0M1466 656h0M1500.5 656h0M1536 656h0M1880 656h0M1886 656h0M1919.5 656h0M1924.5 656h0M1952 656h0M1982 656h0M212 656.5h0M361.5 656.5h0M377 656.5h0M1090 656.5h0M1342 656.5h0M1534 656.5h0M1692 656.5h0M1698.5 656.5h0M1774 656.5h0M116.5 657h0M189.5 657h0M501 657h0M576 657h0M1016 657h0M1030 657h0M1249 657h0M1321 657h0M1515.5 657h0M1525.5 657h0M1528.5 657h0M1959 657h0M355 657.5h0M404.5 657.5h0M698 657.5h0M701 657.5h0M806 657.5h0M1130 657.5h0M1134.5 657.5h0M1185 657.5h0M1239 657.5h0M1301 657.5h0M1319.5 657.5h0M1496 657.5h0M1516.5 657.5h0M1760.5 657.5h0M1949.5 657.5h0M370.5 658h0M478.5 658h0M479.5 658h0M739.5 658h0M897 658h0M1011 658h0M1105 658h0M1291.5 658h0M1389 658h0M1478 658h0M1504 658h0M1802 658h0M1880 658h0M1957.5 658h0M597 658.5h0M863 658.5h0M952.5 658.5h0M1043 658.5h0M1080 658.5h0M1318.5 658.5h0M1417 658.5h0M1483 658.5h0M1536 658.5h0M1539.5 658.5h0M1784.5 658.5h0M1859 658.5h0M1885 658.5h0M190.5 659h0M345 659h0M500.5 659h0M672.5 659h0M695 659h0M922 659h0M1114 659h0M1121 659h0M1464 659h0M1485 659h0M1753 659h0M1817.5 659h0M286.5 659.5h0M375.5 659.5h0M886.5 659.5h0M1148.5 659.5h0M1150 659.5h0M1176 659.5h0M1277.5 659.5h0M1289 659.5h0M1407.5 659.5h0M1510.5 659.5h0M1527.5 659.5h0M1791.5 659.5h0M213 660h0M328.5 660h0M378.5 660h0M381 660h0M768.5 660h0M1124 660h0M1194 660h0M1303.5 660h0M1472 660h0M1481 660h0M1533.5 660h0M1539 660h0M1899 660h0M115 660.5h0M993 660.5h0M1091 660.5h0M1186 660.5h0M1220 660.5h0M1298 660.5h0M1307 660.5h0M1467 660.5h0M1492 660.5h0M1504 660.5h0M1527.5 660.5h0M1965.5 660.5h0M1978.5 660.5h0M322.5 661h0M343.5 661h0M365.5 661h0M500.5 661h0M575.5 661h0M597 661h0M1016.5 661h0M1276.5 661h0M1470.5 661h0M1609.5 661h0M1768 661h0M1893.5 661h0M368 661.5h0M405 661.5h0M479.5 661.5h0M672 661.5h0M927 661.5h0M1015.5 661.5h0M1056 661.5h0M1086.5 661.5h0M1089.5 661.5h0M1311.5 661.5h0M1342.5 661.5h0M1471.5 661.5h0M1477.5 661.5h0M1536 661.5h0M1539 661.5h0M1629 661.5h0M1726.5 661.5h0M1827 661.5h0M330 662h0M723 662h0M987.5 662h0M1048.5 662h0M1127.5 662h0M1223.5 662h0M1497.5 662h0M1510.5 662h0M1531 662h0M1658.5 662h0M1878 662h0M1906.5 662h0M2017.5 662h0M115 662.5h0M189.5 662.5h0M286.5 662.5h0M404 662.5h0M700 662.5h0M1319.5 662.5h0M1500 662.5h0M1520 662.5h0M1528.5 662.5h0M1799 662.5h0M190.5 663h0M212 663h0M368.5 663h0M376.5 663h0M501.5 663h0M694.5 663h0M752 663h0M1139.5 663h0M1289 663h0M1495.5 663h0M1777.5 663h0M1817 663h0M1860 663h0M1902 663h0M1921 663h0M1985 663h0M575 663.5h0M1139 663.5h0M1191.5 663.5h0M1249 663.5h0M1298.5 663.5h0M335.5 664h0M348.5 664h0M350.5 664h0M672 664h0M1184 664h0M1313 664h0M1326.5 664h0M1484 664h0M1511 664h0M1562.5 664h0M1686 664h0M1698.5 664h0M1854.5 664h0M1857 664h0M1885.5 664h0M1959 664h0M2002.5 664h0M311.5 664.5h0M340 664.5h0M369.5 664.5h0M382 664.5h0M404.5 664.5h0M479.5 664.5h0M603.5 664.5h0M612 664.5h0M639 664.5h0M663 664.5h0M668 664.5h0M1029 664.5h0M1054 664.5h0M1203 664.5h0M1468 664.5h0M1488.5 664.5h0M1503.5 664.5h0M1514 664.5h0M1523.5 664.5h0M1890 664.5h0M597.5 665h0M717 665h0M1239.5 665h0M1242.5 665h0M1304.5 665h0M1325.5 665h0M1330.5 665h0M1493.5 665h0M1536.5 665h0M1760.5 665h0M1794 665h0M1869 665h0M115 665.5h0M190.5 665.5h0M211.5 665.5h0M287 665.5h0M355.5 665.5h0M360.5 665.5h0M382.5 665.5h0M501 665.5h0M764 665.5h0M906.5 665.5h0M1042.5 665.5h0M1082.5 665.5h0M1296 665.5h0M1471 665.5h0M1711.5 665.5h0M1869.5 665.5h0M1889.5 665.5h0M320.5 666h0M321 666h0M326.5 666h0M501.5 666h0M575.5 666h0M603.5 666h0M645 666h0M665.5 666h0M912 666h0M986.5 666h0M987.5 666h0M1056.5 666h0M1437 666h0M1520 666h0M1661.5 666h0M1807.5 666h0M311 666.5h0M312.5 666.5h0M405 666.5h0M646.5 666.5h0M672 666.5h0M889 666.5h0M1096 666.5h0M1184 666.5h0M1210.5 666.5h0M1465 666.5h0M1475.5 666.5h0M1512.5 666.5h0M1535.5 666.5h0M1707 666.5h0M1722 666.5h0M310 667h0M355.5 667h0M404.5 667h0M479 667h0M500.5 667h0M657.5 667h0M669 667h0M1085 667h0M1203.5 667h0M1239 667h0M1300.5 667h0M1308.5 667h0M1415 667h0M1465.5 667h0M1537.5 667h0M1767 667h0M1890 667h0M1912 667h0M287 667.5h0M378 667.5h0M631.5 667.5h0M742.5 667.5h0M933.5 667.5h0M1011.5 667.5h0M1086 667.5h0M1312.5 667.5h0M1368.5 667.5h0M1377.5 667.5h0M1388.5 667.5h0M1410 667.5h0M1480 667.5h0M1494.5 667.5h0M1510 667.5h0M1600 667.5h0M1760 667.5h0M116 668h0M315 668h0M319 668h0M345 668h0M598 668h0M622 668h0M634 668h0M722 668h0M725.5 668h0M943.5 668h0M946 668h0M1042 668h0M1181 668h0M1516 668h0M1530 668h0M1627.5 668h0M1694.5 668h0M1805 668h0M1878.5 668h0M189.5 668.5h0M285.5 668.5h0M339 668.5h0M354.5 668.5h0M603.5 668.5h0M609 668.5h0M619.5 668.5h0M624.5 668.5h0M847 668.5h0M1116 668.5h0M1389 668.5h0M1471.5 668.5h0M1483.5 668.5h0M1505.5 668.5h0M1513 668.5h0M1880 668.5h0M1897.5 668.5h0M2011 668.5h0M212 669h0M347.5 669h0M501 669h0M612 669h0M641 669h0M667.5 669h0M732 669h0M1100.5 669h0M1179.5 669h0M1229.5 669h0M1285 669h0M1300 669h0M1470.5 669h0M1493.5 669h0M1501.5 669h0M1792 669h0M349.5 669.5h0M362 669.5h0M365 669.5h0M644 669.5h0M651.5 669.5h0M663.5 669.5h0M765 669.5h0M1101.5 669.5h0M1145.5 669.5h0M1223 669.5h0M1500 669.5h0M1526.5 669.5h0M1534 669.5h0M1698 669.5h0M1907 669.5h0M1912.5 669.5h0M1962.5 669.5h0M368.5 670h0M405 670h0M575.5 670h0M621.5 670h0M941.5 670h0M1045.5 670h0M1144 670h0M1242.5 670h0M1479.5 670h0M1851 670h0M1877.5 670h0M404.5 670.5h0M479.5 670.5h0M710.5 670.5h0M1229.5 670.5h0M1321.5 670.5h0M1485 670.5h0M1537 670.5h0M1779.5 670.5h0M1999 670.5h0M190.5 671h0M213 671h0M329 671h0M382.5 671h0M597.5 671h0M609.5 671h0M670.5 671h0M920.5 671h0M1101 671h0M1106 671h0M1126 671h0M1132.5 671h0M1214 671h0M1283.5 671h0M1304.5 671h0M1467.5 671h0M1471 671h0M1495 671h0M1667.5 671h0M1821.5 671h0M1865.5 671h0M286.5 671.5h0M334.5 671.5h0M612.5 671.5h0M636 671.5h0M651 671.5h0M668 671.5h0M755.5 671.5h0M1089.5 671.5h0M1114 671.5h0M1191 671.5h0M1246.5 671.5h0M1300.5 671.5h0M1301 671.5h0M1309 671.5h0M1502 671.5h0M1916 671.5h0M116 672h0M524 672h0M598 672h0M614.5 672h0M629 672h0M860 672h0M1099 672h0M1121 672h0M1239.5 672h0M1523.5 672h0M1598 672h0M1820.5 672h0M1898 672h0M1995 672h0M358.5 672.5h0M479.5 672.5h0M500.5 672.5h0M575.5 672.5h0M607 672.5h0M622.5 672.5h0M642 672.5h0M712.5 672.5h0M1010.5 672.5h0M1046 672.5h0M1097 672.5h0M1105.5 672.5h0M1330 672.5h0M1374.5 672.5h0M1427 672.5h0M1474 672.5h0M1759 672.5h0M1784.5 672.5h0M1881 672.5h0M314 673h0M506.5 673h0M520.5 673h0M527.5 673h0M572 673h0M639.5 673h0M644 673h0M671 673h0M705 673h0M719 673h0M741.5 673h0M807 673h0M842.5 673h0M1135.5 673h0M1182.5 673h0M1211.5 673h0M1220.5 673h0M1272 673h0M1345.5 673h0M1503 673h0M1513.5 673h0M1710.5 673h0M1813 673h0M1817 673h0M363 673.5h0M405 673.5h0M513.5 673.5h0M519 673.5h0M657 673.5h0M664.5 673.5h0M1021 673.5h0M1050.5 673.5h0M1083.5 673.5h0M1284 673.5h0M1399.5 673.5h0M1423 673.5h0M1473.5 673.5h0M1496 673.5h0M1497.5 673.5h0M115.5 674h0M211.5 674h0M286 674h0M651 674h0M758 674h0M990.5 674h0M1049.5 674h0M1057.5 674h0M1092 674h0M1216 674h0M1299.5 674h0M1333 674h0M1489.5 674h0M1518.5 674h0M1529.5 674h0M1536.5 674h0M1872.5 674h0M189.5 674.5h0M319 674.5h0M337.5 674.5h0M353.5 674.5h0M541 674.5h0M542.5 674.5h0M601.5 674.5h0M610.5 674.5h0M912.5 674.5h0M914 674.5h0M1143.5 674.5h0M1423.5 674.5h0M1467.5 674.5h0M1477 674.5h0M1570.5 674.5h0M312.5 675h0M512 675h0M553 675h0M1181.5 675h0M1312 675h0M1485 675h0M1529 675h0M1690.5 675h0M310.5 675.5h0M404.5 675.5h0M503.5 675.5h0M516 675.5h0M536.5 675.5h0M546 675.5h0M569.5 675.5h0M997 675.5h0M1092.5 675.5h0M1220.5 675.5h0M1530.5 675.5h0M1671 675.5h0M1780 675.5h0M1815.5 675.5h0M1882 675.5h0M310.5 676h0M327 676h0M335.5 676h0M559 676h0M565.5 676h0M598 676h0M628.5 676h0M633 676h0M643 676h0M658 676h0M932.5 676h0M992 676h0M1080 676h0M1234.5 676h0M1468 676h0M1534.5 676h0M1732 676h0M1785.5 676h0M1852 676h0M1886.5 676h0M190.5 676.5h0M333.5 676.5h0M351 676.5h0M368.5 676.5h0M479.5 676.5h0M500.5 676.5h0M523 676.5h0M530 676.5h0M534 676.5h0M549.5 676.5h0M619.5 676.5h0M622 676.5h0M635.5 676.5h0M653.5 676.5h0M672 676.5h0M834.5 676.5h0M925.5 676.5h0M1049 676.5h0M1188.5 676.5h0M1233.5 676.5h0M1237.5 676.5h0M1475 676.5h0M1494.5 676.5h0M1523.5 676.5h0M1532 676.5h0M1780.5 676.5h0M1789.5 676.5h0M190 677h0M211.5 677h0M647 677h0M903 677h0M990.5 677h0M1302 677h0M1410 677h0M1531.5 677h0M1591 677h0M1811 677h0M1917.5 677h0M115 677.5h0M511.5 677.5h0M517 677.5h0M526.5 677.5h0M575.5 677.5h0M795.5 677.5h0M1106.5 677.5h0M1275.5 677.5h0M1287 677.5h0M1310 677.5h0M1464 677.5h0M1487.5 677.5h0M1519.5 677.5h0M1692.5 677.5h0M1784 677.5h0M286.5 678h0M320.5 678h0M327.5 678h0M542 678h0M568 678h0M605.5 678h0M658 678h0M891 678h0M1398 678h0M1415.5 678h0M1479 678h0M1683 678h0M1946.5 678h0M310 678.5h0M371 678.5h0M377.5 678.5h0M572.5 678.5h0M626.5 678.5h0M653 678.5h0M660.5 678.5h0M665.5 678.5h0M889.5 678.5h0M909 678.5h0M1312.5 678.5h0M1341 678.5h0M1870.5 678.5h0M1902 678.5h0M318 679h0M324.5 679h0M404 679h0M479 679h0M501.5 679h0M553 679h0M614.5 679h0M647.5 679h0M667.5 679h0M713 679h0M767 679h0M903.5 679h0M1079.5 679h0M1151 679h0M1221.5 679h0M1278.5 679h0M1478 679h0M1486.5 679h0M1496 679h0M1514 679h0M315 679.5h0M344 679.5h0M568.5 679.5h0M602 679.5h0M610.5 679.5h0M860 679.5h0M948 679.5h0M991 679.5h0M1088.5 679.5h0M1417.5 679.5h0M1471.5 679.5h0M1501 679.5h0M1533 679.5h0M1539 679.5h0M1715 679.5h0M1722 679.5h0M1753.5 679.5h0M1793 679.5h0M1823.5 679.5h0M1863 679.5h0M1864.5 679.5h0M1959.5 679.5h0M115.5 680h0M190 680h0M360 680h0M601.5 680h0M637.5 680h0M946 680h0M989.5 680h0M1489 680h0M1505 680h0M1511.5 680h0M1524 680h0M313.5 680.5h0M321 680.5h0M379.5 680.5h0M507 680.5h0M540 680.5h0M553.5 680.5h0M598.5 680.5h0M731 680.5h0M864 680.5h0M930 680.5h0M936.5 680.5h0M1178 680.5h0M1205.5 680.5h0M1218 680.5h0M1223.5 680.5h0M1224 680.5h0M1320 680.5h0M1417.5 680.5h0M1474 680.5h0M1791 680.5h0M1861.5 680.5h0M212.5 681h0M286.5 681h0M361.5 681h0M534.5 681h0M541 681h0M545.5 681h0M576 681h0M644.5 681h0M983 681h0M1299.5 681h0M1317.5 681h0M1508.5 681h0M1514 681h0M1914 681h0M2019 681h0M356 681.5h0M371.5 681.5h0M524 681.5h0M555 681.5h0M562.5 681.5h0M607.5 681.5h0M624.5 681.5h0M802.5 681.5h0M902.5 681.5h0M1049.5 681.5h0M1092 681.5h0M1135 681.5h0M1140.5 681.5h0M1314 681.5h0M1496 681.5h0M1697.5 681.5h0M1899 681.5h0M1904 681.5h0M1955 681.5h0M405 682h0M479 682h0M511 682h0M516.5 682h0M528 682h0M535 682h0M549.5 682h0M567.5 682h0M836 682h0M1379 682h0M1468 682h0M1507.5 682h0M1520 682h0M1762 682h0M1788 682h0M357.5 682.5h0M359 682.5h0M369 682.5h0M503.5 682.5h0M504.5 682.5h0M601 682.5h0M617 682.5h0M646 682.5h0M647.5 682.5h0M1110.5 682.5h0M1205.5 682.5h0M1208.5 682.5h0M1331 682.5h0M1476.5 682.5h0M1482 682.5h0M1516 682.5h0M1526 682.5h0M1667 682.5h0M1922.5 682.5h0M1964.5 682.5h0M115 683h0M190 683h0M310 683h0M343 683h0M502 683h0M609.5 683h0M612.5 683h0M632 683h0M665.5 683h0M937.5 683h0M1294.5 683h0M1520 683h0M1528 683h0M1537 683h0M1588 683h0M1721 683h0M324.5 683.5h0M359 683.5h0M368.5 683.5h0M376.5 683.5h0M523.5 683.5h0M543 683.5h0M627 683.5h0M657.5 683.5h0M721.5 683.5h0M1205 683.5h0M1219 683.5h0M1306.5 683.5h0M1372 683.5h0M1410 683.5h0M1443 683.5h0M1471.5 683.5h0M1950 683.5h0M211.5 684h0M341 684h0M351.5 684h0M501 684h0M520 684h0M616 684h0M671.5 684h0M910 684h0M925 684h0M1123 684h0M1146.5 684h0M1147.5 684h0M1213.5 684h0M1487.5 684h0M1808.5 684h0M1819 684h0M1857.5 684h0M286.5 684.5h0M405.5 684.5h0M510.5 684.5h0M527.5 684.5h0M555.5 684.5h0M601 684.5h0M610.5 684.5h0M627.5 684.5h0M628 684.5h0M762.5 684.5h0M1284 684.5h0M1406 684.5h0M1474 684.5h0M1480 684.5h0M1504 684.5h0M1670.5 684.5h0M1761.5 684.5h0M1782 684.5h0M479.5 685h0M533 685h0M610.5 685h0M627 685h0M642 685h0M658.5 685h0M1084 685h0M1122.5 685h0M1153 685h0M1302.5 685h0M1486.5 685h0M1794.5 685h0M1880 685h0M211.5 685.5h0M352.5 685.5h0M600 685.5h0M634.5 685.5h0M652 685.5h0M764 685.5h0M1189.5 685.5h0M1204 685.5h0M1285.5 685.5h0M1294 685.5h0M1306 685.5h0M1319.5 685.5h0M1471 685.5h0M1507 685.5h0M1769 685.5h0M1794.5 685.5h0M1868.5 685.5h0M1877.5 685.5h0M1888 685.5h0M286 686h0M317.5 686h0M363 686h0M538 686h0M560 686h0M572 686h0M575 686h0M622 686h0M659 686h0M758 686h0M910 686h0M1094 686h0M1195 686h0M1219.5 686h0M1228.5 686h0M1420 686h0M1468 686h0M1479.5 686h0M1501 686h0M1512.5 686h0M1535.5 686h0M1588 686h0M1658.5 686h0M1861 686h0M334 686.5h0M532.5 686.5h0M568 686.5h0M812.5 686.5h0M1088.5 686.5h0M1175 686.5h0M1198 686.5h0M1279.5 686.5h0M1341.5 686.5h0M1436.5 686.5h0M1491 686.5h0M1495.5 686.5h0M1514 686.5h0M1534 686.5h0M1678.5 686.5h0M1811 686.5h0M115.5 687h0M190.5 687h0M571 687h0M574 687h0M597.5 687h0M652.5 687h0M659 687h0M1010 687h0M1239 687h0M1278.5 687h0M1315.5 687h0M1672.5 687h0M1717.5 687h0M1883.5 687h0M1947 687h0M331 687.5h0M520 687.5h0M540 687.5h0M551 687.5h0M605.5 687.5h0M636 687.5h0M665 687.5h0M667.5 687.5h0M746.5 687.5h0M1101.5 687.5h0M1188 687.5h0M1198 687.5h0M1313 687.5h0M1516 687.5h0M1522.5 687.5h0M1686.5 687.5h0M1773.5 687.5h0M1811 687.5h0M1874.5 687.5h0M337.5 688h0M376 688h0M405 688h0M479 688h0M501 688h0M502.5 688h0M509.5 688h0M527 688h0M549.5 688h0M565.5 688h0M630.5 688h0M696 688h0M898 688h0M1091.5 688h0M1177.5 688h0M1332 688h0M1414 688h0M1486 688h0M1490.5 688h0M1523 688h0M1529.5 688h0M1821.5 688h0M1960 688h0M362.5 688.5h0M370.5 688.5h0M380 688.5h0M511 688.5h0M598.5 688.5h0M601 688.5h0M639.5 688.5h0M642 688.5h0M658.5 688.5h0M667.5 688.5h0M761 688.5h0M1057 688.5h0M1229 688.5h0M1318.5 688.5h0M1443 688.5h0M1466.5 688.5h0M1888.5 688.5h0M1954 688.5h0M115.5 689h0M286.5 689h0M287 689h0M331.5 689h0M367 689h0M378 689h0M382.5 689h0M515 689h0M532.5 689h0M567.5 689h0M900.5 689h0M1091 689h0M1112.5 689h0M1150 689h0M1331 689h0M1376 689h0M1468.5 689h0M1488 689h0M1531 689h0M1534.5 689h0M1756.5 689h0M1787.5 689h0M190.5 689.5h0M211.5 689.5h0M505 689.5h0M522.5 689.5h0M545 689.5h0M622 689.5h0M695.5 689.5h0M745 689.5h0M820 689.5h0M918 689.5h0M1125 689.5h0M1325 689.5h0M1851.5 689.5h0M1867.5 689.5h0M343.5 690h0M521 690h0M654.5 690h0M665.5 690h0M740.5 690h0M930.5 690h0M1134.5 690h0M1139.5 690h0M1186.5 690h0M1286.5 690h0M1522 690h0M1571.5 690h0M1591 690h0M357.5 690.5h0M502 690.5h0M505 690.5h0M515 690.5h0M563.5 690.5h0M597 690.5h0M616.5 690.5h0M620 690.5h0M647.5 690.5h0M648 690.5h0M897.5 690.5h0M1027 690.5h0M1229.5 690.5h0M1495 690.5h0M1757.5 690.5h0M1789 690.5h0M1865.5 690.5h0M1895.5 690.5h0M287 691h0M340.5 691h0M554.5 691h0M611.5 691h0M651.5 691h0M816.5 691h0M945 691h0M991.5 691h0M1306 691h0M1479.5 691h0M1502.5 691h0M1526 691h0M1797 691h0M1892.5 691h0M308.5 691.5h0M316 691.5h0M332.5 691.5h0M404 691.5h0M478 691.5h0M574.5 691.5h0M630.5 691.5h0M705 691.5h0M1008.5 691.5h0M1096.5 691.5h0M1224 691.5h0M1506.5 691.5h0M1780 691.5h0M1813.5 691.5h0M213 692h0M479 692h0M625.5 692h0M637.5 692h0M641.5 692h0M647.5 692h0M723 692h0M1205 692h0M1234.5 692h0M1292 692h0M1307 692h0M1344 692h0M1398.5 692h0M1529.5 692h0M1760.5 692h0M1790 692h0M1815.5 692h0M1868.5 692h0M1915.5 692h0M1947.5 692h0M1981 692h0M2015.5 692h0M115 692.5h0M211.5 692.5h0M325 692.5h0M527 692.5h0M538 692.5h0M607 692.5h0M617 692.5h0M645 692.5h0M985.5 692.5h0M1046.5 692.5h0M1104 692.5h0M1299.5 692.5h0M1387 692.5h0M1485 692.5h0M1924 692.5h0M285.5 693h0M360 693h0M379.5 693h0M573 693h0M600 693h0M627.5 693h0M1194.5 693h0M1494.5 693h0M1499.5 693h0M1509 693h0M1512.5 693h0M1710 693h0M1990.5 693h0M2009.5 693h0M2014 693h0M190 693.5h0M311.5 693.5h0M326 693.5h0M404.5 693.5h0M479 693.5h0M513 693.5h0M542.5 693.5h0M558 693.5h0M568.5 693.5h0M610 693.5h0M625.5 693.5h0M643 693.5h0M663.5 693.5h0M739.5 693.5h0M900 693.5h0M1017 693.5h0M1105.5 693.5h0M1316 693.5h0M1504.5 693.5h0M1517.5 693.5h0M1523.5 693.5h0M1813.5 693.5h0M1878.5 693.5h0M1905 693.5h0M333.5 694h0M506 694h0M521.5 694h0M567 694h0M567.5 694h0M614 694h0M666.5 694h0M730 694h0M892 694h0M957.5 694h0M1055 694h0M1104.5 694h0M1149 694h0M1479 694h0M1489.5 694h0M1770.5 694h0M1877.5 694h0M320 694.5h0M347.5 694.5h0M529.5 694.5h0M598.5 694.5h0M656 694.5h0M995.5 694.5h0M1137.5 694.5h0M1176 694.5h0M1213 694.5h0M1225.5 694.5h0M1465.5 694.5h0M1493 694.5h0M1508 694.5h0M1682.5 694.5h0M1726 694.5h0M1765.5 694.5h0M1795 694.5h0M1860.5 694.5h0M1895.5 694.5h0M1918 694.5h0M308.5 695h0M344.5 695h0M367.5 695h0M519.5 695h0M550.5 695h0M554 695h0M636 695h0M850.5 695h0M1057 695h0M1296.5 695h0M1325.5 695h0M1496.5 695h0M1504.5 695h0M1537.5 695h0M1803 695h0M116 695.5h0M190.5 695.5h0M211.5 695.5h0M322.5 695.5h0M360.5 695.5h0M505.5 695.5h0M514 695.5h0M538.5 695.5h0M570.5 695.5h0M606.5 695.5h0M629.5 695.5h0M726 695.5h0M734.5 695.5h0M845.5 695.5h0M914 695.5h0M914.5 695.5h0M1042 695.5h0M1179.5 695.5h0M1669 695.5h0M1803.5 695.5h0M1897.5 695.5h0M2017.5 695.5h0M285.5 696h0M614 696h0M663.5 696h0M668 696h0M1003 696h0M1054.5 696h0M1324 696h0M1336 696h0M1471 696h0M1524.5 696h0M1528.5 696h0M1765 696h0M1773.5 696h0M1778.5 696h0M319.5 696.5h0M359.5 696.5h0M404 696.5h0M479.5 696.5h0M526.5 696.5h0M534.5 696.5h0M599 696.5h0M603.5 696.5h0M662.5 696.5h0M1087.5 696.5h0M1151 696.5h0M1465 696.5h0M1766.5 696.5h0M1799 696.5h0M1922 696.5h0M2015.5 696.5h0M368.5 697h0M382 697h0M513.5 697h0M529 697h0M543.5 697h0M545 697h0M546.5 697h0M560.5 697h0M616.5 697h0M762.5 697h0M1130 697h0M1198 697h0M1372 697h0M1380.5 697h0M1468.5 697h0M1602 697h0M1690.5 697h0M319 697.5h0M344 697.5h0M351.5 697.5h0M360 697.5h0M506.5 697.5h0M535 697.5h0M619.5 697.5h0M626 697.5h0M627 697.5h0M639 697.5h0M670 697.5h0M1001.5 697.5h0M1005.5 697.5h0M1014.5 697.5h0M1150.5 697.5h0M1186.5 697.5h0M1284.5 697.5h0M1484 697.5h0M1492.5 697.5h0M1512 697.5h0M1520 697.5h0M1534 697.5h0M1536 697.5h0M1539 697.5h0M1592 697.5h0M1881 697.5h0M2004 697.5h0M285.5 698h0M342.5 698h0M376.5 698h0M521 698h0M548.5 698h0M575.5 698h0M652 698h0M934 698h0M1120.5 698h0M1239.5 698h0M1242 698h0M1331.5 698h0M1472 698h0M1486.5 698h0M1863 698h0M1901.5 698h0M116 698.5h0M371 698.5h0M379 698.5h0M523.5 698.5h0M562 698.5h0M632 698.5h0M654 698.5h0M722 698.5h0M1110 698.5h0M1274 698.5h0M1339.5 698.5h0M1371 698.5h0M1537 698.5h0M1703 698.5h0M2021 698.5h0M189.5 699h0M211.5 699h0M339.5 699h0M510.5 699h0M555 699h0M661.5 699h0M799.5 699h0M800 699h0M1031 699h0M1099.5 699h0M1211 699h0M1312 699h0M1330.5 699h0M1464.5 699h0M1476.5 699h0M1802.5 699h0M1851.5 699h0M1878 699h0M315.5 699.5h0M331.5 699.5h0M472.5 699.5h0M524.5 699.5h0M559 699.5h0M1145 699.5h0M1370.5 699.5h0M1379.5 699.5h0M1486 699.5h0M1508 699.5h0M1531 699.5h0M1697.5 699.5h0M1815 699.5h0M311 700h0M342 700h0M404 700h0M430 700h0M479.5 700h0M501 700h0M537 700h0M572.5 700h0M619 700h0M648.5 700h0M662.5 700h0M1127.5 700h0M1150.5 700h0M1231 700h0M1499 700h0M309.5 700.5h0M419 700.5h0M474.5 700.5h0M553 700.5h0M567.5 700.5h0M644.5 700.5h0M700.5 700.5h0M730.5 700.5h0M766.5 700.5h0M890 700.5h0M1056 700.5h0M1102.5 700.5h0M1140.5 700.5h0M1197.5 700.5h0M1209 700.5h0M1233 700.5h0M1329.5 700.5h0M1471 700.5h0M1485.5 700.5h0M1528 700.5h0M115.5 701h0M190.5 701h0M415 701h0M460 701h0M608.5 701h0M626 701h0M722 701h0M742.5 701h0M1115.5 701h0M1219.5 701h0M1238.5 701h0M1284.5 701h0M1306.5 701h0M1325.5 701h0M1335.5 701h0M1506 701h0M1509.5 701h0M1516 701h0M1727 701h0M286.5 701.5h0M315 701.5h0M337 701.5h0M406 701.5h0M423.5 701.5h0M441 701.5h0M455.5 701.5h0M542 701.5h0M572.5 701.5h0M633.5 701.5h0M641 701.5h0M1015 701.5h0M1113 701.5h0M1202 701.5h0M1288.5 701.5h0M1292.5 701.5h0M1336 701.5h0M1342.5 701.5h0M1490 701.5h0M1533.5 701.5h0M1687 701.5h0M1731 701.5h0M1768 701.5h0M1771 701.5h0M1895.5 701.5h0M211.5 702h0M368.5 702h0M422 702h0M528 702h0M533.5 702h0M627.5 702h0M628 702h0M643.5 702h0M799.5 702h0M987 702h0M1054 702h0M1281 702h0M1474.5 702h0M1516 702h0M1697 702h0M1703.5 702h0M2018.5 702h0M447.5 702.5h0M451.5 702.5h0M530 702.5h0M560 702.5h0M573.5 702.5h0M602 702.5h0M650.5 702.5h0M835.5 702.5h0M844 702.5h0M1003.5 702.5h0M1116.5 702.5h0M1126 702.5h0M1152.5 702.5h0M1243.5 702.5h0M1246.5 702.5h0M286.5 703h0M314 703h0M328 703h0M406.5 703h0M434 703h0M478.5 703h0M502.5 703h0M545 703h0M567 703h0M575.5 703h0M599 703h0M652.5 703h0M659.5 703h0M701 703h0M925.5 703h0M1009.5 703h0M1108 703h0M1226.5 703h0M1669 703h0M1890.5 703h0M1909.5 703h0M1913 703h0M1950 703h0M315 703.5h0M345 703.5h0M379.5 703.5h0M404.5 703.5h0M466.5 703.5h0M501.5 703.5h0M556 703.5h0M619 703.5h0M912 703.5h0M1210 703.5h0M1229.5 703.5h0M1284 703.5h0M1297.5 703.5h0M1494 703.5h0M1520 703.5h0M1716.5 703.5h0M115.5 704h0M211.5 704h0M285.5 704h0M357.5 704h0M375 704h0M471.5 704h0M520 704h0M523.5 704h0M645 704h0M707.5 704h0M735.5 704h0M988 704h0M988.5 704h0M1111 704h0M1196.5 704h0M1482.5 704h0M1489 704h0M1503 704h0M1510.5 704h0M1721.5 704h0M1850.5 704h0M1859 704h0M1860.5 704h0M1913.5 704h0M1962 704h0M2013.5 704h0M315.5 704.5h0M350 704.5h0M371 704.5h0M382 704.5h0M412 704.5h0M419 704.5h0M444.5 704.5h0M476.5 704.5h0M515.5 704.5h0M516.5 704.5h0M528 704.5h0M613 704.5h0M619.5 704.5h0M635.5 704.5h0M728.5 704.5h0M740 704.5h0M944 704.5h0M1413.5 704.5h0M1439 704.5h0M1777.5 704.5h0M1852 704.5h0M190 705h0M455.5 705h0M463 705h0M557.5 705h0M713 705h0M857.5 705h0M915 705h0M1015.5 705h0M1125.5 705h0M1281 705h0M1346 705h0M1481.5 705h0M1496 705h0M1505 705h0M1508.5 705h0M1527.5 705h0M1628 705h0M1682.5 705h0M1775.5 705h0M1900 705h0M1905 705h0M379 705.5h0M422 705.5h0M428 705.5h0M434 705.5h0M506 705.5h0M528 705.5h0M614.5 705.5h0M628 705.5h0M654 705.5h0M703 705.5h0M724.5 705.5h0M902 705.5h0M957 705.5h0M1046.5 705.5h0M1107.5 705.5h0M1297.5 705.5h0M1301.5 705.5h0M1341.5 705.5h0M1471 705.5h0M1720 705.5h0M1868.5 705.5h0M375.5 706h0M529.5 706h0M625 706h0M650.5 706h0M653.5 706h0M669.5 706h0M736 706h0M998.5 706h0M1091.5 706h0M1333.5 706h0M1377.5 706h0M1465.5 706h0M1476.5 706h0M1479.5 706h0M1522 706h0M1671.5 706h0M1699.5 706h0M1757.5 706h0M1855 706h0M1897 706h0M1899.5 706h0M190.5 706.5h0M286.5 706.5h0M287 706.5h0M326.5 706.5h0M440.5 706.5h0M518.5 706.5h0M533 706.5h0M552.5 706.5h0M564.5 706.5h0M604.5 706.5h0M664.5 706.5h0M696 706.5h0M1003.5 706.5h0M1313.5 706.5h0M1852 706.5h0M1907 706.5h0M115 707h0M190 707h0M285.5 707h0M349.5 707h0M405 707h0M424 707h0M448 707h0M507.5 707h0M525 707h0M536 707h0M559 707h0M959 707h0M1307 707h0M1327.5 707h0M1422.5 707h0M1516 707h0M1531.5 707h0M1684.5 707h0M2008.5 707h0M212.5 707.5h0M419.5 707.5h0M512 707.5h0M537.5 707.5h0M543.5 707.5h0M630 707.5h0M632.5 707.5h0M659 707.5h0M660.5 707.5h0M919.5 707.5h0M1080.5 707.5h0M1089 707.5h0M1190.5 707.5h0M1222.5 707.5h0M1344.5 707.5h0M1377.5 707.5h0M1468 707.5h0M1489.5 707.5h0M1498 707.5h0M1502 707.5h0M1783 707.5h0M1889.5 707.5h0M328 708h0M379.5 708h0M461.5 708h0M479.5 708h0M616.5 708h0M648 708h0M649.5 708h0M704 708h0M989 708h0M1023 708h0M1026.5 708h0M1189 708h0M1241.5 708h0M1245 708h0M1292.5 708h0M1908.5 708h0M1975 708h0M339.5 708.5h0M428 708.5h0M430.5 708.5h0M437 708.5h0M561 708.5h0M566 708.5h0M766 708.5h0M1211 708.5h0M1307.5 708.5h0M1494.5 708.5h0M1783 708.5h0M1896.5 708.5h0M2018.5 708.5h0M318 709h0M333.5 709h0M360 709h0M405 709h0M444 709h0M474 709h0M501 709h0M636.5 709h0M713 709h0M1147 709h0M1530 709h0M1535 709h0M406 709.5h0M406.5 709.5h0M409.5 709.5h0M538.5 709.5h0M552 709.5h0M619 709.5h0M622.5 709.5h0M827 709.5h0M1089.5 709.5h0M1218 709.5h0M1507 709.5h0M115.5 710h0M189.5 710h0M286.5 710h0M413.5 710h0M469 710h0M479 710h0M513.5 710h0M1085.5 710h0M1126.5 710h0M1197.5 710h0M1232.5 710h0M1319.5 710h0M1465 710h0M1523 710h0M1669 710h0M1802.5 710h0M1916.5 710h0M212 710.5h0M419 710.5h0M438.5 710.5h0M444.5 710.5h0M473 710.5h0M535 710.5h0M536.5 710.5h0M548 710.5h0M557.5 710.5h0M631.5 710.5h0M640 710.5h0M668.5 710.5h0M702 710.5h0M1128.5 710.5h0M1192 710.5h0M1322.5 710.5h0M1470.5 710.5h0M1478 710.5h0M1482 710.5h0M1694 710.5h0M1766.5 710.5h0M172.5 711h0M451.5 711h0M459.5 711h0M506.5 711h0M555.5 711h0M575 711h0M604 711h0M610 711h0M743.5 711h0M1019 711h0M1200 711h0M1212.5 711h0M1476 711h0M1483.5 711h0M1511.5 711h0M1514 711h0M1525 711h0M1537.5 711h0M1764.5 711h0M1770 711h0M1901.5 711h0M181.5 711.5h0M326.5 711.5h0M334 711.5h0M365.5 711.5h0M457 711.5h0M460 711.5h0M469.5 711.5h0M557.5 711.5h0M632.5 711.5h0M957 711.5h0M1089.5 711.5h0M1337.5 711.5h0M1668 711.5h0M1781 711.5h0M1799.5 711.5h0M1804 711.5h0M1902.5 711.5h0M368.5 712h0M406 712h0M413.5 712h0M465.5 712h0M512.5 712h0M621.5 712h0M643.5 712h0M669 712h0M889.5 712h0M1054.5 712h0M1146.5 712h0M1477 712h0M1505 712h0M185 712.5h0M211.5 712.5h0M415 712.5h0M423 712.5h0M427.5 712.5h0M513.5 712.5h0M550 712.5h0M576 712.5h0M603 712.5h0M630.5 712.5h0M712.5 712.5h0M1079.5 712.5h0M1229 712.5h0M1495 712.5h0M1963 712.5h0M1970 712.5h0M124 713h0M150.5 713h0M163 713h0M190 713h0M212 713h0M353 713h0M465 713h0M476.5 713h0M501 713h0M513.5 713h0M520.5 713h0M563.5 713h0M571.5 713h0M573 713h0M612.5 713h0M817.5 713h0M1132 713h0M1212 713h0M1332 713h0M1510.5 713h0M115.5 713.5h0M189.5 713.5h0M309.5 713.5h0M331 713.5h0M404.5 713.5h0M418 713.5h0M431.5 713.5h0M463.5 713.5h0M563 713.5h0M605.5 713.5h0M610.5 713.5h0M647 713.5h0M740 713.5h0M888 713.5h0M1046.5 713.5h0M1084.5 713.5h0M1093 713.5h0M1203.5 713.5h0M1216.5 713.5h0M1391.5 713.5h0M1483.5 713.5h0M1661.5 713.5h0M1878.5 713.5h0M1881.5 713.5h0M1884 713.5h0M128 714h0M145.5 714h0M287 714h0M351.5 714h0M437.5 714h0M449.5 714h0M455.5 714h0M507 714h0M525 714h0M749.5 714h0M792 714h0M938.5 714h0M1036.5 714h0M1143.5 714h0M1195.5 714h0M1239.5 714h0M1498.5 714h0M1523.5 714h0M1536.5 714h0M120.5 714.5h0M123 714.5h0M344.5 714.5h0M356 714.5h0M469 714.5h0M478 714.5h0M535.5 714.5h0M601.5 714.5h0M887 714.5h0M925.5 714.5h0M1107 714.5h0M1108 714.5h0M1120.5 714.5h0M1147 714.5h0M1189 714.5h0M1431 714.5h0M1808.5 714.5h0M1880 714.5h0M1913 714.5h0M1918.5 714.5h0M127 715h0M137 715h0M155.5 715h0M159 715h0M174.5 715h0M443 715h0M528.5 715h0M531 715h0M626 715h0M629.5 715h0M638 715h0M653 715h0M1036 715h0M1185.5 715h0M1221 715h0M1617 715h0M1681.5 715h0M175 715.5h0M420 715.5h0M421.5 715.5h0M452.5 715.5h0M467 715.5h0M519.5 715.5h0M556.5 715.5h0M614 715.5h0M646.5 715.5h0M716.5 715.5h0M728 715.5h0M894.5 715.5h0M960.5 715.5h0M1211 715.5h0M1287 715.5h0M1384.5 715.5h0M1488 715.5h0M1501 715.5h0M1892.5 715.5h0M116 716h0M187 716h0M212 716h0M286.5 716h0M468.5 716h0M502.5 716h0M522 716h0M539.5 716h0M557.5 716h0M651 716h0M1177.5 716h0M1272 716h0M1273.5 716h0M1322 716h0M1481 716h0M1490.5 716h0M1510.5 716h0M1524.5 716h0M149.5 716.5h0M169.5 716.5h0M188.5 716.5h0M310.5 716.5h0M343.5 716.5h0M349 716.5h0M357 716.5h0M363 716.5h0M404 716.5h0M416 716.5h0M457.5 716.5h0M462.5 716.5h0M517.5 716.5h0M604.5 716.5h0M637.5 716.5h0M1149 716.5h0M1180 716.5h0M1278 716.5h0M1706 716.5h0M1731 716.5h0M125 717h0M133 717h0M142.5 717h0M370 717h0M421.5 717h0M455.5 717h0M503.5 717h0M506.5 717h0M543 717h0M598 717h0M614 717h0M626 717h0M642.5 717h0M655.5 717h0M656 717h0M669.5 717h0M670 717h0M1026.5 717h0M1079.5 717h0M1220.5 717h0M1233.5 717h0M1236 717h0M1298 717h0M1310 717h0M1529 717h0M1730.5 717h0M1804.5 717h0M1813.5 717h0M1898 717h0M1922 717h0M124.5 717.5h0M164 717.5h0M177.5 717.5h0M211.5 717.5h0M316 717.5h0M369.5 717.5h0M409 717.5h0M510 717.5h0M514.5 717.5h0M561 717.5h0M613 717.5h0M637.5 717.5h0M664.5 717.5h0M763 717.5h0M1033.5 717.5h0M1056 717.5h0M1087.5 717.5h0M1119 717.5h0M1142.5 717.5h0M1179 717.5h0M1294.5 717.5h0M1308 717.5h0M1755 717.5h0M1772.5 717.5h0M1783 717.5h0M141.5 718h0M325.5 718h0M344.5 718h0M371.5 718h0M420.5 718h0M531 718h0M534.5 718h0M550 718h0M634.5 718h0M951.5 718h0M1015 718h0M1116.5 718h0M1283.5 718h0M1334 718h0M1398.5 718h0M1502.5 718h0M1616 718h0M1889.5 718h0M1971 718h0M181.5 718.5h0M414 718.5h0M427 718.5h0M432 718.5h0M438.5 718.5h0M479 718.5h0M605.5 718.5h0M628 718.5h0M907.5 718.5h0M1231 718.5h0M1405.5 718.5h0M1472.5 718.5h0M1504.5 718.5h0M1684.5 718.5h0M1801.5 718.5h0M1892 718.5h0M136 719h0M190.5 719h0M313.5 719h0M405 719h0M410 719h0M454.5 719h0M472 719h0M525 719h0M660 719h0M1136.5 719h0M1329.5 719h0M1427 719h0M1467.5 719h0M1490 719h0M1875.5 719h0M1911.5 719h0M1945.5 719h0M149 719.5h0M156.5 719.5h0M173.5 719.5h0M211.5 719.5h0M286 719.5h0M286.5 719.5h0M363 719.5h0M426 719.5h0M444.5 719.5h0M447.5 719.5h0M570.5 719.5h0M645 719.5h0M667 719.5h0M766.5 719.5h0M887.5 719.5h0M926 719.5h0M997.5 719.5h0M1003.5 719.5h0M1130.5 719.5h0M1147 719.5h0M1313.5 719.5h0M1320 719.5h0M1328.5 719.5h0M1487 719.5h0M1689.5 719.5h0M1780.5 719.5h0M1863.5 719.5h0M1880.5 719.5h0M1920 719.5h0M126.5 720h0M130.5 720h0M171 720h0M184.5 720h0M329 720h0M333 720h0M382 720h0M409.5 720h0M459 720h0M478 720h0M536.5 720h0M539.5 720h0M601 720h0M760 720h0M952.5 720h0M1099 720h0M1138 720h0M1303.5 720h0M1818 720h0M1856 720h0M140 720.5h0M176.5 720.5h0M471.5 720.5h0M546.5 720.5h0M557.5 720.5h0M571.5 720.5h0M597 720.5h0M740.5 720.5h0M749 720.5h0M819 720.5h0M951.5 720.5h0M1002.5 720.5h0M1152.5 720.5h0M1203 720.5h0M1248.5 720.5h0M1294.5 720.5h0M1467 720.5h0M1469.5 720.5h0M1470.5 720.5h0M1508 720.5h0M131.5 721h0M149 721h0M164.5 721h0M439 721h0M464 721h0M506 721h0M633.5 721h0M1035 721h0M1134.5 721h0M1200.5 721h0M1235.5 721h0M1319 721h0M1389 721h0M1878 721h0M1919.5 721h0M116 721.5h0M118 721.5h0M156 721.5h0M310 721.5h0M406 721.5h0M509 721.5h0M608 721.5h0M671.5 721.5h0M747.5 721.5h0M1011 721.5h0M1037 721.5h0M1085 721.5h0M1088 721.5h0M1130 721.5h0M1140.5 721.5h0M1146.5 721.5h0M1207 721.5h0M1238.5 721.5h0M1276 721.5h0M1287.5 721.5h0M1325 721.5h0M1707 721.5h0M1808 721.5h0M1816 721.5h0M1992.5 721.5h0M135 722h0M145.5 722h0M147 722h0M161.5 722h0M213 722h0M327 722h0M472 722h0M614 722h0M622 722h0M624 722h0M649.5 722h0M663.5 722h0M723 722h0M895.5 722h0M1203 722h0M1302 722h0M1321 722h0M1328.5 722h0M1345 722h0M1776.5 722h0M1879.5 722h0M117 722.5h0M173 722.5h0M178 722.5h0M356 722.5h0M359 722.5h0M468.5 722.5h0M523 722.5h0M992 722.5h0M1056 722.5h0M1203 722.5h0M1290.5 722.5h0M1470.5 722.5h0M1676.5 722.5h0M116.5 723h0M163.5 723h0M183.5 723h0M186 723h0M286.5 723h0M409.5 723h0M419.5 723h0M463 723h0M529.5 723h0M625 723h0M625.5 723h0M640.5 723h0M753 723h0M822 723h0M905 723h0M1124.5 723h0M1275 723h0M1504 723h0M1765.5 723h0M1858 723h0M123.5 723.5h0M187.5 723.5h0M315 723.5h0M343.5 723.5h0M414.5 723.5h0M433 723.5h0M464.5 723.5h0M551 723.5h0M622.5 723.5h0M649 723.5h0M659 723.5h0M661.5 723.5h0M1049 723.5h0M1086 723.5h0M1179 723.5h0M1199.5 723.5h0M1434 723.5h0M1467 723.5h0M1565.5 723.5h0M1776.5 723.5h0M1787.5 723.5h0M1906 723.5h0M411 724h0M439 724h0M555.5 724h0M564.5 724h0M574 724h0M653.5 724h0M891 724h0M1032 724h0M1135.5 724h0M1376 724h0M1491.5 724h0M1523 724h0M1537.5 724h0M1714 724h0M1779 724h0M1873 724h0M116.5 724.5h0M141 724.5h0M144.5 724.5h0M147.5 724.5h0M158 724.5h0M346.5 724.5h0M349 724.5h0M364.5 724.5h0M540.5 724.5h0M550 724.5h0M560 724.5h0M607.5 724.5h0M743 724.5h0M932.5 724.5h0M938 724.5h0M1305.5 724.5h0M1387.5 724.5h0M1517.5 724.5h0M1816.5 724.5h0M1876.5 724.5h0M318.5 725h0M367 725h0M429.5 725h0M455.5 725h0M521 725h0M565 725h0M598.5 725h0M602 725h0M610 725h0M622 725h0M624 725h0M630.5 725h0M1137.5 725h0M1212.5 725h0M1241 725h0M1243 725h0M1280 725h0M1341 725h0M1885 725h0M1892.5 725h0M1923 725h0M166.5 725.5h0M171.5 725.5h0M287 725.5h0M325 725.5h0M333.5 725.5h0M423.5 725.5h0M439.5 725.5h0M444 725.5h0M458.5 725.5h0M468 725.5h0M538 725.5h0M634 725.5h0M706 725.5h0M1190.5 725.5h0M1197.5 725.5h0M1279 725.5h0M1284.5 725.5h0M1329.5 725.5h0M1515 725.5h0M1538.5 725.5h0M1682 725.5h0M1811.5 725.5h0M1912.5 725.5h0M170.5 726h0M211.5 726h0M315.5 726h0M450 726h0M474.5 726h0M525.5 726h0M576 726h0M666 726h0M1221 726h0M1246.5 726h0M1250 726h0M1325 726h0M1332 726h0M1687 726h0M1689 726h0M1712.5 726h0M1983.5 726h0M177 726.5h0M370 726.5h0M372 726.5h0M431 726.5h0M461 726.5h0M573 726.5h0M615.5 726.5h0M616.5 726.5h0M642 726.5h0M671.5 726.5h0M1107.5 726.5h0M1207.5 726.5h0M1276.5 726.5h0M1296.5 726.5h0M1312.5 726.5h0M1347 726.5h0M1475 726.5h0M1632.5 726.5h0M1732 726.5h0M1784 726.5h0M125.5 727h0M132.5 727h0M134.5 727h0M152 727h0M157.5 727h0M160 727h0M379 727h0M530.5 727h0M534.5 727h0M557 727h0M762 727h0M831.5 727h0M1038 727h0M1344.5 727h0M1479.5 727h0M1537.5 727h0M1717 727h0M1788.5 727h0M1913 727h0M117.5 727.5h0M124.5 727.5h0M136 727.5h0M161 727.5h0M186.5 727.5h0M315 727.5h0M378.5 727.5h0M434.5 727.5h0M548 727.5h0M569 727.5h0M571.5 727.5h0M664 727.5h0M1026 727.5h0M1037 727.5h0M1116.5 727.5h0M1149.5 727.5h0M1505 727.5h0M1507.5 727.5h0M1668 727.5h0M1855 727.5h0M1876 727.5h0M115 728h0M141 728h0M285.5 728h0M313.5 728h0M318 728h0M404 728h0M421 728h0M454.5 728h0M456.5 728h0M476.5 728h0M516.5 728h0M541 728h0M601.5 728h0M655 728h0M656.5 728h0M668.5 728h0M721 728h0M1007 728h0M1026.5 728h0M1228 728h0M1465 728h0M1679 728h0M1696 728h0M1907.5 728h0M147 728.5h0M152.5 728.5h0M286.5 728.5h0M406.5 728.5h0M416 728.5h0M429 728.5h0M599.5 728.5h0M643.5 728.5h0M1141 728.5h0M1204.5 728.5h0M1277 728.5h0M1680 728.5h0M1754 728.5h0M1790 728.5h0M1856.5 728.5h0M1911.5 728.5h0M125 729h0M145.5 729h0M190.5 729h0M212.5 729h0M322 729h0M438.5 729h0M453 729h0M507 729h0M519 729h0M524 729h0M547.5 729h0M572 729h0M620.5 729h0M640 729h0M755 729h0M1299.5 729h0M180.5 729.5h0M188 729.5h0M189.5 729.5h0M314 729.5h0M317 729.5h0M328.5 729.5h0M348 729.5h0M376.5 729.5h0M428 729.5h0M471.5 729.5h0M626 729.5h0M699.5 729.5h0M1026 729.5h0M1151 729.5h0M1277 729.5h0M1299.5 729.5h0M1339.5 729.5h0M1468 729.5h0M1490.5 729.5h0M1497.5 729.5h0M1689 729.5h0M1706 729.5h0M1887.5 729.5h0M140.5 730h0M152 730h0M158.5 730h0M168 730h0M170 730h0M332.5 730h0M373 730h0M411.5 730h0M541 730h0M544 730h0M566 730h0M601 730h0M716.5 730h0M741.5 730h0M888 730h0M1089 730h0M1116 730h0M1338.5 730h0M1477 730h0M1478.5 730h0M1583.5 730h0M1778 730h0M1825.5 730h0M1855.5 730h0M2019 730h0M121.5 730.5h0M173.5 730.5h0M345 730.5h0M359 730.5h0M409 730.5h0M445 730.5h0M467.5 730.5h0M479.5 730.5h0M551.5 730.5h0M665 730.5h0M729 730.5h0M1027.5 730.5h0M1043.5 730.5h0M1132.5 730.5h0M1188.5 730.5h0M1250.5 730.5h0M1524.5 730.5h0M1697.5 730.5h0M180 731h0M182.5 731h0M285.5 731h0M417.5 731h0M423 731h0M443.5 731h0M622.5 731h0M641.5 731h0M651 731h0M670 731h0M812.5 731h0M1123.5 731h0M1238 731h0M1298.5 731h0M1343 731h0M1407.5 731h0M1484 731h0M1518.5 731h0M1785.5 731h0M1883.5 731h0M1920.5 731h0M126.5 731.5h0M135.5 731.5h0M153 731.5h0M169.5 731.5h0M407 731.5h0M478 731.5h0M502.5 731.5h0M516 731.5h0M530 731.5h0M532.5 731.5h0M610.5 731.5h0M656 731.5h0M721 731.5h0M1152 731.5h0M1282.5 731.5h0M1283.5 731.5h0M1318.5 731.5h0M1328.5 731.5h0M1872.5 731.5h0M124 732h0M142 732h0M212.5 732h0M334.5 732h0M352.5 732h0M473 732h0M506 732h0M636 732h0M701 732h0M863.5 732h0M900 732h0M1012.5 732h0M1093.5 732h0M1110.5 732h0M1339.5 732h0M1429.5 732h0M1506 732h0M1679.5 732h0M1722 732h0M1765.5 732h0M1919.5 732h0M117 732.5h0M123 732.5h0M149.5 732.5h0M320 732.5h0M436.5 732.5h0M448.5 732.5h0M537 732.5h0M552 732.5h0M566 732.5h0M624 732.5h0M714 732.5h0M1213.5 732.5h0M1226.5 732.5h0M1240.5 732.5h0M1539 732.5h0M164 733h0M411.5 733h0M639 733h0M660.5 733h0M1049.5 733h0M1127 733h0M1232 733h0M1497 733h0M1502 733h0M1531.5 733h0M1858 733h0M1888 733h0M1894 733h0M1901 733h0M1909.5 733h0M137 733.5h0M164 733.5h0M169.5 733.5h0M174 733.5h0M334.5 733.5h0M460.5 733.5h0M467 733.5h0M507.5 733.5h0M601.5 733.5h0M608.5 733.5h0M630 733.5h0M649.5 733.5h0M665 733.5h0M793 733.5h0M1000.5 733.5h0M1020 733.5h0M1027 733.5h0M1094 733.5h0M1126.5 733.5h0M1192.5 733.5h0M1199.5 733.5h0M1212 733.5h0M1310.5 733.5h0M2017 733.5h0M161 734h0M211.5 734h0M286 734h0M344.5 734h0M420 734h0M431 734h0M479.5 734h0M504 734h0M615 734h0M650 734h0M651.5 734h0M729 734h0M734.5 734h0M1100.5 734h0M1204.5 734h0M1787 734h0M1906.5 734h0M119.5 734.5h0M124 734.5h0M190 734.5h0M380.5 734.5h0M407 734.5h0M479 734.5h0M523 734.5h0M532.5 734.5h0M603 734.5h0M1015 734.5h0M1042 734.5h0M1129.5 734.5h0M1137.5 734.5h0M1142 734.5h0M1222.5 734.5h0M1497.5 734.5h0M1520.5 734.5h0M1535 734.5h0M1669 734.5h0M1675 734.5h0M1809 734.5h0M153.5 735h0M212.5 735h0M287 735h0M326 735h0M365.5 735h0M438 735h0M453.5 735h0M513 735h0M526 735h0M540 735h0M619 735h0M1039.5 735h0M1246 735h0M1271 735h0M1304.5 735h0M1323.5 735h0M1382 735h0M1903.5 735h0M152.5 735.5h0M183 735.5h0M190.5 735.5h0M359.5 735.5h0M424 735.5h0M430.5 735.5h0M514 735.5h0M520.5 735.5h0M521.5 735.5h0M527 735.5h0M548 735.5h0M554.5 735.5h0M568.5 735.5h0M633 735.5h0M637 735.5h0M991.5 735.5h0M1146 735.5h0M1175 735.5h0M1188.5 735.5h0M1334 735.5h0M1860 735.5h0M2002 735.5h0M143.5 736h0M157.5 736h0M170.5 736h0M309 736h0M364 736h0M466 736h0M472 736h0M537 736h0M622 736h0M761 736h0M1081 736h0M1199 736h0M1275 736h0M1287 736h0M1415.5 736h0M1515 736h0M1882.5 736h0M1889 736h0M149.5 736.5h0M167.5 736.5h0M350.5 736.5h0M417 736.5h0M422.5 736.5h0M427 736.5h0M433 736.5h0M502.5 736.5h0M575 736.5h0M1005.5 736.5h0M1113.5 736.5h0M1130.5 736.5h0M1189.5 736.5h0M1510.5 736.5h0M1855.5 736.5h0M1878.5 736.5h0M1896.5 736.5h0M133.5 737h0M138 737h0M179 737h0M188 737h0M445.5 737h0M515 737h0M640.5 737h0M649.5 737h0M669 737h0M1025 737h0M1033.5 737h0M1121 737h0M1129 737h0M1245 737h0M1286.5 737h0M1340.5 737h0M1825.5 737h0M1867 737h0M129 737.5h0M177.5 737.5h0M212.5 737.5h0M310 737.5h0M434 737.5h0M442.5 737.5h0M471 737.5h0M617.5 737.5h0M652 737.5h0M1140 737.5h0M1244.5 737.5h0M1285 737.5h0M1292.5 737.5h0M1335 737.5h0M1619.5 737.5h0M1986.5 737.5h0M122 738h0M286.5 738h0M339.5 738h0M419 738h0M449.5 738h0M525 738h0M532.5 738h0M533.5 738h0M550 738h0M569.5 738h0M572 738h0M631.5 738h0M670.5 738h0M1019 738h0M1274 738h0M1296.5 738h0M1305 738h0M1429 738h0M1664.5 738h0M1696.5 738h0M130.5 738.5h0M131 738.5h0M167 738.5h0M177.5 738.5h0M187.5 738.5h0M314.5 738.5h0M338 738.5h0M362 738.5h0M407 738.5h0M457.5 738.5h0M464 738.5h0M541.5 738.5h0M606 738.5h0M624 738.5h0M751.5 738.5h0M1100 738.5h0M1483 738.5h0M1535 738.5h0M1859.5 738.5h0M1872.5 738.5h0M1879 738.5h0M1912 738.5h0M116 739h0M431.5 739h0M456.5 739h0M508.5 739h0M553 739h0M640 739h0M650 739h0M667.5 739h0M1632.5 739h0M1881 739h0M1907 739h0M156.5 739.5h0M440 739.5h0M544 739.5h0M653 739.5h0M923 739.5h0M923.5 739.5h0M1102.5 739.5h0M1226.5 739.5h0M1293.5 739.5h0M1300 739.5h0M1335.5 739.5h0M1468 739.5h0M1681.5 739.5h0M1896 739.5h0M175.5 740h0M212.5 740h0M413.5 740h0M451.5 740h0M505 740h0M513 740h0M951.5 740h0M1027 740h0M1122 740h0M1189 740h0M1234.5 740h0M1465.5 740h0M1522 740h0M1756 740h0M1787.5 740h0M1796.5 740h0M1873.5 740h0M1908 740h0M1916.5 740h0M504 740.5h0M550 740.5h0M648 740.5h0M695.5 740.5h0M745 740.5h0M941.5 740.5h0M987.5 740.5h0M995.5 740.5h0M1127 740.5h0M1199 740.5h0M1201 740.5h0M1208.5 740.5h0M1277 740.5h0M1330 740.5h0M1487 740.5h0M1533 740.5h0M1534.5 740.5h0M1856 740.5h0M1919 740.5h0M2009.5 740.5h0M142.5 741h0M145.5 741h0M158 741h0M187 741h0M287 741h0M335.5 741h0M341.5 741h0M416.5 741h0M469 741h0M645.5 741h0M765 741h0M1091.5 741h0M1147 741h0M1333 741h0M1344.5 741h0M1417.5 741h0M1487.5 741h0M1684.5 741h0M1773.5 741h0M1809 741h0M1891.5 741h0M1924.5 741h0M141 741.5h0M158.5 741.5h0M182.5 741.5h0M351 741.5h0M375 741.5h0M407 741.5h0M545.5 741.5h0M556.5 741.5h0M622.5 741.5h0M651 741.5h0M1019.5 741.5h0M1135 741.5h0M1220 741.5h0M1308.5 741.5h0M1322.5 741.5h0M1480.5 741.5h0M1513 741.5h0M1805.5 741.5h0M167 742h0M370.5 742h0M414 742h0M419 742h0M420 742h0M439.5 742h0M507.5 742h0M567.5 742h0M574.5 742h0M626 742h0M1121 742h0M1193.5 742h0M1281.5 742h0M1427 742h0M1477 742h0M1518.5 742h0M1852.5 742h0M176.5 742.5h0M286 742.5h0M544.5 742.5h0M601.5 742.5h0M636.5 742.5h0M828.5 742.5h0M953.5 742.5h0M1081 742.5h0M1114 742.5h0M1191 742.5h0M1238 742.5h0M1288 742.5h0M1288.5 742.5h0M1317 742.5h0M1412 742.5h0M1510 742.5h0M1519 742.5h0M1794 742.5h0M1858 742.5h0M124.5 743h0M137 743h0M143.5 743h0M167.5 743h0M171 743h0M312 743h0M361.5 743h0M460 743h0M470 743h0M476.5 743h0M657 743h0M939 743h0M984.5 743h0M1032 743h0M1093 743h0M1202 743h0M1247.5 743h0M1306 743h0M1517 743h0M1726 743h0M1890 743h0M1919.5 743h0M116 743.5h0M163.5 743.5h0M190 743.5h0M211.5 743.5h0M346 743.5h0M412 743.5h0M449.5 743.5h0M513 743.5h0M534.5 743.5h0M543 743.5h0M560 743.5h0M597 743.5h0M608 743.5h0M1012 743.5h0M1144 743.5h0M1145 743.5h0M1179 743.5h0M1214 743.5h0M1343.5 743.5h0M1504.5 743.5h0M1827.5 743.5h0M1850 743.5h0M1990 743.5h0M141.5 744h0M184.5 744h0M363 744h0M377 744h0M464.5 744h0M566 744h0M598 744h0M620 744h0M645 744h0M949.5 744h0M1012.5 744h0M1024.5 744h0M1050 744h0M1225 744h0M1532 744h0M1659.5 744h0M1666 744h0M1691 744h0M1763 744h0M132.5 744.5h0M151.5 744.5h0M177 744.5h0M316.5 744.5h0M341.5 744.5h0M411.5 744.5h0M422 744.5h0M450 744.5h0M518.5 744.5h0M525.5 744.5h0M653 744.5h0M693.5 744.5h0M1137 744.5h0M1191.5 744.5h0M1245.5 744.5h0M1303 744.5h0M1337.5 744.5h0M1500.5 744.5h0M1536 744.5h0M1700.5 744.5h0M1754 744.5h0M1897 744.5h0M118.5 745h0M188 745h0M343 745h0M405.5 745h0M646 745h0M1692.5 745h0M1870 745h0M128.5 745.5h0M149.5 745.5h0M158 745.5h0M169.5 745.5h0M187 745.5h0M188.5 745.5h0M286.5 745.5h0M436 745.5h0M453.5 745.5h0M472.5 745.5h0M549 745.5h0M1235 745.5h0M1283 745.5h0M1481 745.5h0M1518.5 745.5h0M1528.5 745.5h0M1725.5 745.5h0M1731 745.5h0M1785 745.5h0M141.5 746h0M536.5 746h0M543.5 746h0M574 746h0M612 746h0M664 746h0M753.5 746h0M900 746h0M932.5 746h0M1136.5 746h0M1221.5 746h0M1247.5 746h0M1812 746h0M1815.5 746h0M1852 746h0M1867.5 746h0M1873 746h0M1908 746h0M180 746.5h0M422.5 746.5h0M423 746.5h0M544 746.5h0M614 746.5h0M631 746.5h0M639 746.5h0M650.5 746.5h0M1228 746.5h0M1883 746.5h0M1909 746.5h0M1991 746.5h0M127.5 747h0M153.5 747h0M417 747h0M621.5 747h0M623.5 747h0M916.5 747h0M988.5 747h0M1027 747h0M1153 747h0M1489.5 747h0M1496.5 747h0M1663 747h0M1672 747h0M1861.5 747h0M2017.5 747h0M147.5 747.5h0M211.5 747.5h0M287 747.5h0M316 747.5h0M343.5 747.5h0M598.5 747.5h0M625.5 747.5h0M632 747.5h0M1109 747.5h0M1124.5 747.5h0M1136 747.5h0M1149.5 747.5h0M1402.5 747.5h0M1707 747.5h0M1816 747.5h0M1900 747.5h0M430.5 748h0M556.5 748h0M567.5 748h0M598 748h0M621 748h0M652.5 748h0M1091.5 748h0M1111 748h0M1176 748h0M1278 748h0M1326.5 748h0M1473 748h0M1473.5 748h0M1491.5 748h0M1496.5 748h0M1511.5 748h0M1515 748h0M1537 748h0M1677 748h0M150.5 748.5h0M178 748.5h0M407 748.5h0M574.5 748.5h0M617 748.5h0M1004 748.5h0M1130 748.5h0M1800 748.5h0M138 749h0M150.5 749h0M173 749h0M211.5 749h0M361.5 749h0M363.5 749h0M380 749h0M442.5 749h0M448 749h0M527 749h0M602 749h0M635 749h0M661 749h0M662 749h0M670 749h0M737 749h0M1191.5 749h0M1193 749h0M1277.5 749h0M1320.5 749h0M1333 749h0M1692.5 749h0M1885.5 749h0M1899.5 749h0M176 749.5h0M369 749.5h0M382.5 749.5h0M433.5 749.5h0M470.5 749.5h0M475 749.5h0M561.5 749.5h0M604 749.5h0M645 749.5h0M1085.5 749.5h0M1138.5 749.5h0M1232.5 749.5h0M1303.5 749.5h0M1414 749.5h0M1538.5 749.5h0M1765 749.5h0M1793 749.5h0M1861.5 749.5h0M1864.5 749.5h0M1909 749.5h0M1915 749.5h0M1956.5 749.5h0M162.5 750h0M188.5 750h0M311 750h0M372 750h0M382.5 750h0M416 750h0M419 750h0M441.5 750h0M448.5 750h0M611.5 750h0M1009 750h0M1241.5 750h0M1528 750h0M1669 750h0M1909.5 750h0M1984.5 750h0M163 750.5h0M286 750.5h0M321 750.5h0M411 750.5h0M428 750.5h0M455 750.5h0M536 750.5h0M617 750.5h0M640.5 750.5h0M841 750.5h0M900 750.5h0M1007 750.5h0M1049 750.5h0M1111 750.5h0M1181 750.5h0M1202.5 750.5h0M1250.5 750.5h0M1309.5 750.5h0M1340.5 750.5h0M1414 750.5h0M1529.5 750.5h0M1537.5 750.5h0M1779.5 750.5h0M1955.5 750.5h0M330.5 751h0M410 751h0M411.5 751h0M436 751h0M453 751h0M458 751h0M538 751h0M625 751h0M766 751h0M797 751h0M948.5 751h0M1294 751h0M1334.5 751h0M1495 751h0M1501 751h0M1776.5 751h0M1861 751h0M144.5 751.5h0M472.5 751.5h0M543 751.5h0M618 751.5h0M647.5 751.5h0M660.5 751.5h0M663.5 751.5h0M726.5 751.5h0M1114.5 751.5h0M1138.5 751.5h0M1242 751.5h0M1319.5 751.5h0M1320.5 751.5h0M1332.5 751.5h0M1337 751.5h0M1346.5 751.5h0M1433.5 751.5h0M1533.5 751.5h0M1590.5 751.5h0M1822 751.5h0M1825.5 751.5h0M1900 751.5h0M160 752h0M163 752h0M431 752h0M671.5 752h0M693.5 752h0M709 752h0M1290 752h0M1526 752h0M1795.5 752h0M1858 752h0M131.5 752.5h0M212.5 752.5h0M286 752.5h0M332.5 752.5h0M430 752.5h0M466.5 752.5h0M479 752.5h0M604.5 752.5h0M612 752.5h0M672 752.5h0M1086 752.5h0M1144.5 752.5h0M1225.5 752.5h0M1236 752.5h0M1337 752.5h0M1386.5 752.5h0M1693.5 752.5h0M2014.5 752.5h0M2016.5 752.5h0M121.5 753h0M122 753h0M186 753h0M190 753h0M421 753h0M435 753h0M479 753h0M525 753h0M543 753h0M543.5 753h0M697.5 753h0M1470 753h0M1504.5 753h0M1525 753h0M1761 753h0M1793 753h0M1795 753h0M1888 753h0M172.5 753.5h0M340 753.5h0M427.5 753.5h0M714.5 753.5h0M1020 753.5h0M1183 753.5h0M1215.5 753.5h0M1470 753.5h0M1763 753.5h0M1883.5 753.5h0M413.5 754h0M664 754h0M712 754h0M1011.5 754h0M1093.5 754h0M1108.5 754h0M1126 754h0M1131.5 754h0M1236 754h0M1342.5 754h0M143.5 754.5h0M172.5 754.5h0M353 754.5h0M468 754.5h0M501.5 754.5h0M559.5 754.5h0M731.5 754.5h0M1218 754.5h0M1225 754.5h0M1280 754.5h0M1487 754.5h0M1876 754.5h0M153 755h0M169 755h0M172.5 755h0M211.5 755h0M347 755h0M449 755h0M475 755h0M550 755h0M597.5 755h0M607 755h0M621 755h0M728 755h0M821.5 755h0M845.5 755h0M1088 755h0M1242.5 755h0M1246 755h0M1503 755h0M1513 755h0M1658.5 755h0M1823.5 755h0M1897.5 755h0M135.5 755.5h0M406 755.5h0M424 755.5h0M512.5 755.5h0M517 755.5h0M598 755.5h0M628 755.5h0M1110.5 755.5h0M1137 755.5h0M1181 755.5h0M1685 755.5h0M1851 755.5h0M286 756h0M341 756h0M428 756h0M522 756h0M614 756h0M999.5 756h0M1106.5 756h0M1227.5 756h0M1277 756h0M1278 756h0M1873 756h0M140 756.5h0M146.5 756.5h0M159 756.5h0M179.5 756.5h0M310.5 756.5h0M429.5 756.5h0M475 756.5h0M660.5 756.5h0M855 756.5h0M1203 756.5h0M1222.5 756.5h0M1297 756.5h0M1916.5 756.5h0M649 757h0M670 757h0M736.5 757h0M832.5 757h0M1048 757h0M1098.5 757h0M1101.5 757h0M1216.5 757h0M1217.5 757h0M1402.5 757h0M1482 757h0M1679.5 757h0M1860.5 757h0M1875.5 757h0M1883.5 757h0M1904.5 757h0M116 757.5h0M128.5 757.5h0M157 757.5h0M159.5 757.5h0M419 757.5h0M458 757.5h0M533 757.5h0M716.5 757.5h0M993 757.5h0M1050.5 757.5h0M1231.5 757.5h0M1310 757.5h0M1390 757.5h0M1520.5 757.5h0M1524 757.5h0M1715.5 757.5h0M1775 757.5h0M1885.5 757.5h0M116 758h0M135 758h0M170 758h0M185.5 758h0M189 758h0M352.5 758h0M458 758h0M462 758h0M467 758h0M502 758h0M527.5 758h0M541.5 758h0M622.5 758h0M640.5 758h0M715.5 758h0M1121.5 758h0M1224 758h0M1315.5 758h0M1502 758h0M1518 758h0M1533 758h0M1534.5 758h0M1690 758h0M128.5 758.5h0M212.5 758.5h0M436.5 758.5h0M459 758.5h0M645.5 758.5h0M663 758.5h0M1140 758.5h0M1207.5 758.5h0M1473.5 758.5h0M2018 758.5h0M180.5 759h0M287 759h0M318 759h0M373 759h0M415.5 759h0M460 759h0M467 759h0M472 759h0M601.5 759h0M609 759h0M618.5 759h0M671 759h0M672 759h0M951.5 759h0M1082 759h0M1088.5 759h0M1126.5 759h0M1139.5 759h0M1507.5 759h0M1709.5 759h0M1767 759h0M1792.5 759h0M1817.5 759h0M1867 759h0M176 759.5h0M356 759.5h0M544.5 759.5h0M655 759.5h0M1196 759.5h0M1293 759.5h0M1689 759.5h0M1767.5 759.5h0M1794.5 759.5h0M2003 759.5h0M146.5 760h0M186 760h0M328 760h0M423 760h0M447.5 760h0M472 760h0M553.5 760h0M626.5 760h0M633.5 760h0M634.5 760h0M656 760h0M737.5 760h0M812 760h0M1003 760h0M1104 760h0M1111.5 760h0M1116.5 760h0M1215 760h0M1227.5 760h0M1239.5 760h0M1335.5 760h0M1864.5 760h0M313.5 760.5h0M404.5 760.5h0M405 760.5h0M414 760.5h0M435.5 760.5h0M990.5 760.5h0M1126 760.5h0M1147 760.5h0M1249.5 760.5h0M1488.5 760.5h0M1500 760.5h0M1889.5 760.5h0M1901.5 760.5h0M134.5 761h0M286 761h0M427 761h0M440 761h0M453.5 761h0M539.5 761h0M560 761h0M755.5 761h0M1107.5 761h0M1432.5 761h0M1605.5 761h0M1659 761h0M1868 761h0M1901 761h0M146 761.5h0M335.5 761.5h0M443.5 761.5h0M607.5 761.5h0M640 761.5h0M1017.5 761.5h0M1052.5 761.5h0M1086.5 761.5h0M1117 761.5h0M1141 761.5h0M1151.5 761.5h0M1314 761.5h0M1672 761.5h0M1683.5 761.5h0M1880.5 761.5h0M190.5 762h0M211.5 762h0M310 762h0M383 762h0M535.5 762h0M613 762h0M757.5 762h0M1117.5 762h0M1138 762h0M1188 762h0M1193 762h0M1216 762h0M1296.5 762h0M1309 762h0M1339.5 762h0M1341 762h0M1416.5 762h0M1469 762h0M1755.5 762h0M1904 762h0M156 762.5h0M343 762.5h0M410.5 762.5h0M441.5 762.5h0M470 762.5h0M561 762.5h0M600 762.5h0M623 762.5h0M624.5 762.5h0M705 762.5h0M1097.5 762.5h0M1293 762.5h0M1499.5 762.5h0M1818.5 762.5h0M162 763h0M314.5 763h0M345.5 763h0M352 763h0M424 763h0M434.5 763h0M478.5 763h0M695 763h0M811 763h0M864.5 763h0M1129 763h0M1138 763h0M1394 763h0M1407 763h0M1802.5 763h0M140 763.5h0M438 763.5h0M501 763.5h0M603 763.5h0M905.5 763.5h0M1221 763.5h0M1239.5 763.5h0M1325 763.5h0M1504 763.5h0M1534.5 763.5h0M1796 763.5h0M1853 763.5h0M119.5 764h0M137 764h0M152.5 764h0M212 764h0M562.5 764h0M644.5 764h0M651 764h0M661 764h0M707 764h0M1005 764h0M1200.5 764h0M1234.5 764h0M1273 764h0M1276.5 764h0M1498.5 764h0M1531 764h0M1666 764h0M1799.5 764h0M1815 764h0M1865.5 764h0M124 764.5h0M159.5 764.5h0M287 764.5h0M448 764.5h0M453 764.5h0M454.5 764.5h0M629 764.5h0M908.5 764.5h0M935 764.5h0M956 764.5h0M985 764.5h0M1006.5 764.5h0M1097 764.5h0M1213.5 764.5h0M1300 764.5h0M1599 764.5h0M1877.5 764.5h0M146.5 765h0M361.5 765h0M599 765h0M618 765h0M894.5 765h0M1496 765h0M1758.5 765h0M1791 765h0M1865 765h0M119 765.5h0M125 765.5h0M141.5 765.5h0M182 765.5h0M185 765.5h0M336 765.5h0M369 765.5h0M419 765.5h0M503 765.5h0M532.5 765.5h0M635 765.5h0M636.5 765.5h0M1114.5 765.5h0M1239 765.5h0M1306 765.5h0M1321.5 765.5h0M1377.5 765.5h0M1816.5 765.5h0M1871 765.5h0M138 766h0M310 766h0M346 766h0M554.5 766h0M598.5 766h0M636 766h0M650 766h0M662.5 766h0M842 766h0M896 766h0M901.5 766h0M1133.5 766h0M1198 766h0M1235 766h0M1297 766h0M1427.5 766h0M1474 766h0M1515 766h0M1793 766h0M1799.5 766h0M1801 766h0M1909.5 766h0M125 766.5h0M383 766.5h0M428 766.5h0M456 766.5h0M563.5 766.5h0M738 766.5h0M1083.5 766.5h0M1123 766.5h0M1189.5 766.5h0M1466.5 766.5h0M1878.5 766.5h0M2011.5 766.5h0M150.5 767h0M156.5 767h0M159.5 767h0M175.5 767h0M180 767h0M286 767h0M357.5 767h0M441 767h0M554 767h0M554.5 767h0M625.5 767h0M657.5 767h0M757.5 767h0M1102.5 767h0M1130.5 767h0M1138.5 767h0M1324.5 767h0M1657 767h0M1910.5 767h0M2018.5 767h0M121 767.5h0M474.5 767.5h0M477.5 767.5h0M478.5 767.5h0M629.5 767.5h0M758 767.5h0M1007.5 767.5h0M1012.5 767.5h0M1490.5 767.5h0M1922 767.5h0M128.5 768h0M212 768h0M418.5 768h0M425 768h0M521 768h0M558 768h0M566 768h0M605.5 768h0M640.5 768h0M956.5 768h0M958.5 768h0M1090 768h0M1104.5 768h0M1329 768h0M1476 768h0M1874.5 768h0M1896 768h0M125 768.5h0M158 768.5h0M159.5 768.5h0M163 768.5h0M174 768.5h0M309.5 768.5h0M406 768.5h0M420 768.5h0M421.5 768.5h0M541 768.5h0M547.5 768.5h0M768 768.5h0M996 768.5h0M1030 768.5h0M1235.5 768.5h0M1387.5 768.5h0M359.5 769h0M382.5 769h0M455 769h0M520 769h0M712.5 769h0M1145 769h0M1529.5 769h0M1787 769h0M1859 769h0M1948.5 769h0M505.5 769.5h0M832.5 769.5h0M1097.5 769.5h0M1108.5 769.5h0M1140 769.5h0M1148.5 769.5h0M1434.5 769.5h0M1507 769.5h0M212 770h0M286.5 770h0M373.5 770h0M466.5 770h0M503 770h0M535 770h0M765 770h0M909.5 770h0M1086.5 770h0M1152.5 770h0M1185 770h0M1244.5 770h0M1301 770h0M1464.5 770h0M1472.5 770h0M1504 770h0M1660.5 770h0M1662 770h0M1703 770h0M1904 770h0M442.5 770.5h0M608 770.5h0M643 770.5h0M759 770.5h0M1116 770.5h0M1141.5 770.5h0M1180.5 770.5h0M1215.5 770.5h0M1228.5 770.5h0M1527.5 770.5h0M1537 770.5h0M1815.5 770.5h0M1816 770.5h0M1816.5 770.5h0M183.5 771h0M355 771h0M466.5 771h0M663.5 771h0M1019.5 771h0M1109 771h0M1469 771h0M1535.5 771h0M1724 771h0M1730 771h0M1865.5 771h0M1974 771h0M135 771.5h0M327 771.5h0M477 771.5h0M479 771.5h0M616.5 771.5h0M619.5 771.5h0M751.5 771.5h0M1115.5 771.5h0M1239 771.5h0M1300.5 771.5h0M1509.5 771.5h0M1536.5 771.5h0M1888 771.5h0M1951.5 771.5h0M410 772h0M648 772h0M1177 772h0M1345 772h0M1379.5 772h0M145 772.5h0M415.5 772.5h0M468.5 772.5h0M475.5 772.5h0M504 772.5h0M518 772.5h0M604.5 772.5h0M635.5 772.5h0M958 772.5h0M1085.5 772.5h0M1113 772.5h0M1135 772.5h0M1206 772.5h0M1249 772.5h0M1302 772.5h0M1486 772.5h0M1855.5 772.5h0M1872.5 772.5h0M1882 772.5h0M1899 772.5h0M1904.5 772.5h0M167 773h0M376 773h0M547.5 773h0M612 773h0M898.5 773h0M995.5 773h0M1132 773h0M1316 773h0M1473.5 773h0M1530 773h0M1802.5 773h0M1916 773h0M120 773.5h0M211.5 773.5h0M286 773.5h0M312 773.5h0M448 773.5h0M535.5 773.5h0M608.5 773.5h0M631 773.5h0M710.5 773.5h0M711.5 773.5h0M758.5 773.5h0M1214 773.5h0M1243 773.5h0M1276.5 773.5h0M1318.5 773.5h0M1474.5 773.5h0M1760 773.5h0M1850 773.5h0M1876.5 773.5h0M1909 773.5h0M168.5 774h0M600 774h0M623.5 774h0M659.5 774h0M1044.5 774h0M1103 774h0M1184 774h0M1722 774h0M1797.5 774h0M1918 774h0M147 774.5h0M371 774.5h0M379.5 774.5h0M410.5 774.5h0M444 774.5h0M531 774.5h0M1047.5 774.5h0M1093.5 774.5h0M1154 774.5h0M1205.5 774.5h0M1239 774.5h0M1521.5 774.5h0M1884.5 774.5h0M133.5 775h0M161 775h0M449 775h0M477 775h0M637.5 775h0M747 775h0M825.5 775h0M1087 775h0M1213.5 775h0M1246.5 775h0M1319 775h0M1421 775h0M144.5 775.5h0M405 775.5h0M425 775.5h0M614 775.5h0M626 775.5h0M1132 775.5h0M1320.5 775.5h0M1512.5 775.5h0M1724.5 775.5h0M212.5 776h0M322.5 776h0M422.5 776h0M442 776h0M1093.5 776h0M1517 776h0M1684.5 776h0M1888.5 776h0M1914 776h0M138 776.5h0M286.5 776.5h0M344.5 776.5h0M352.5 776.5h0M369.5 776.5h0M418.5 776.5h0M438 776.5h0M448.5 776.5h0M450.5 776.5h0M465 776.5h0M544 776.5h0M599.5 776.5h0M814.5 776.5h0M1100.5 776.5h0M1121 776.5h0M1190 776.5h0M1194 776.5h0M1202.5 776.5h0M1226.5 776.5h0M1228.5 776.5h0M1387 776.5h0M1771 776.5h0M1854 776.5h0M1906 776.5h0M169 777h0M513.5 777h0M567 777h0M617.5 777h0M649 777h0M668 777h0M716 777h0M1028 777h0M1109.5 777h0M1116.5 777h0M1153.5 777h0M1192 777h0M1198.5 777h0M1220.5 777h0M1402.5 777h0M153.5 777.5h0M212 777.5h0M647 777.5h0M664 777.5h0M1015 777.5h0M1126 777.5h0M1293 777.5h0M1294.5 777.5h0M1702.5 777.5h0M1828.5 777.5h0M1887 777.5h0M1918 777.5h0M133 778h0M151.5 778h0M313.5 778h0M345.5 778h0M470 778h0M473 778h0M535.5 778h0M597 778h0M620 778h0M665 778h0M1124.5 778h0M1149.5 778h0M1229.5 778h0M1677 778h0M154.5 778.5h0M286.5 778.5h0M546 778.5h0M657.5 778.5h0M1018 778.5h0M1275 778.5h0M1865 778.5h0M1872.5 778.5h0M212.5 779h0M361.5 779h0M424 779h0M450.5 779h0M468 779h0M562 779h0M568 779h0M639.5 779h0M729.5 779h0M752 779h0M757 779h0M989.5 779h0M1214 779h0M1300.5 779h0M1716.5 779h0M432.5 779.5h0M539 779.5h0M547.5 779.5h0M603 779.5h0M1082.5 779.5h0M1125 779.5h0M1136.5 779.5h0M1293.5 779.5h0M1315.5 779.5h0M1562 779.5h0M1858 779.5h0M1895 779.5h0M1922.5 779.5h0M141 780h0M315.5 780h0M627 780h0M632 780h0M643.5 780h0M740 780h0M741 780h0M887 780h0M1182 780h0M1375.5 780h0M1466.5 780h0M1478.5 780h0M1508.5 780h0M1898 780h0M324.5 780.5h0M521 780.5h0M525 780.5h0M568 780.5h0M729 780.5h0M918.5 780.5h0M1048.5 780.5h0M1049 780.5h0M1495 780.5h0M1500.5 780.5h0M1670.5 780.5h0M1854 780.5h0M1898 780.5h0M118.5 781h0M176 781h0M377.5 781h0M380.5 781h0M432.5 781h0M561.5 781h0M656.5 781h0M1004.5 781h0M1326 781h0M1468.5 781h0M1471 781h0M1817 781h0M1867 781h0M1879 781h0M1955 781h0M126.5 781.5h0M173 781.5h0M318.5 781.5h0M346.5 781.5h0M381.5 781.5h0M413 781.5h0M538.5 781.5h0M622.5 781.5h0M654.5 781.5h0M695 781.5h0M748.5 781.5h0M913 781.5h0M1039 781.5h0M1081.5 781.5h0M1321.5 781.5h0M1518.5 781.5h0M1781 781.5h0M1877.5 781.5h0M1896.5 781.5h0M139 782h0M287 782h0M412 782h0M515.5 782h0M648.5 782h0M697.5 782h0M935 782h0M1036 782h0M1150 782h0M1222 782h0M1238.5 782h0M1247.5 782h0M1400 782h0M1518 782h0M1529.5 782h0M1892.5 782h0M124.5 782.5h0M134 782.5h0M163.5 782.5h0M186 782.5h0M327 782.5h0M446 782.5h0M605 782.5h0M661.5 782.5h0M759.5 782.5h0M768.5 782.5h0M1084.5 782.5h0M1113.5 782.5h0M1223.5 782.5h0M1319 782.5h0M1322.5 782.5h0M134 783h0M212 783h0M410 783h0M477 783h0M478.5 783h0M723.5 783h0M1118 783h0M1242 783h0M1436 783h0M1503 783h0M1524 783h0M1780 783h0M1882.5 783h0M116.5 783.5h0M163.5 783.5h0M543 783.5h0M629 783.5h0M855.5 783.5h0M995.5 783.5h0M1292.5 783.5h0M1924.5 783.5h0M417 784h0M519 784h0M529.5 784h0M549.5 784h0M552.5 784h0M612 784h0M656.5 784h0M723.5 784h0M1111.5 784h0M1136.5 784h0M1196 784h0M1235.5 784h0M1272 784h0M1311 784h0M1729 784h0M1922 784h0M127 784.5h0M135.5 784.5h0M321.5 784.5h0M334.5 784.5h0M364 784.5h0M441.5 784.5h0M455.5 784.5h0M508 784.5h0M547.5 784.5h0M632.5 784.5h0M668.5 784.5h0M669.5 784.5h0M705 784.5h0M1028.5 784.5h0M1081 784.5h0M1093.5 784.5h0M1121 784.5h0M1144 784.5h0M1154 784.5h0M1207.5 784.5h0M1492.5 784.5h0M1912 784.5h0M1918 784.5h0M139.5 785h0M172.5 785h0M440 785h0M598 785h0M614 785h0M638 785h0M663 785h0M1794.5 785h0M161.5 785.5h0M211.5 785.5h0M349.5 785.5h0M376.5 785.5h0M534 785.5h0M567 785.5h0M737.5 785.5h0M1035 785.5h0M1108.5 785.5h0M1114.5 785.5h0M1214.5 785.5h0M1279.5 785.5h0M1760 785.5h0M1885.5 785.5h0M178 786h0M212 786h0M286.5 786h0M419 786h0M1084.5 786h0M1138.5 786h0M1222.5 786h0M1246.5 786h0M1534.5 786h0M1537 786h0M1766 786h0M1801 786h0M1862.5 786h0M156 786.5h0M363.5 786.5h0M449.5 786.5h0M470 786.5h0M532 786.5h0M613.5 786.5h0M751 786.5h0M931 786.5h0M1047 786.5h0M1125 786.5h0M1127.5 786.5h0M1181 786.5h0M1227.5 786.5h0M1298 786.5h0M1480.5 786.5h0M1766 786.5h0M1864 786.5h0M1888 786.5h0M1913 786.5h0M185.5 787h0M405 787h0M516.5 787h0M758.5 787h0M1092.5 787h0M1139.5 787h0M1219.5 787h0M170 787.5h0M404.5 787.5h0M459.5 787.5h0M512 787.5h0M625.5 787.5h0M637 787.5h0M852.5 787.5h0M995.5 787.5h0M1109.5 787.5h0M1220 787.5h0M1225 787.5h0M1284 787.5h0M1298 787.5h0M177.5 788h0M287 788h0M372 788h0M412.5 788h0M565 788h0M759.5 788h0M813.5 788h0M986.5 788h0M988 788h0M996 788h0M1134 788h0M1149.5 788h0M1178.5 788h0M1213 788h0M1214.5 788h0M1228 788h0M1231.5 788h0M1234 788h0M1817.5 788h0M1994 788h0M185.5 788.5h0M758.5 788.5h0M1031 788.5h0M1081.5 788.5h0M1084 788.5h0M1126.5 788.5h0M1185.5 788.5h0M1241 788.5h0M1298.5 788.5h0M1393 788.5h0M1886 788.5h0M1905.5 788.5h0M211.5 789h0M285.5 789h0M413.5 789h0M416.5 789h0M463 789h0M550 789h0M635.5 789h0M640.5 789h0M651 789h0M762.5 789h0M1111.5 789h0M1150.5 789h0M1243.5 789h0M1249 789h0M1284 789h0M1317.5 789h0M1910 789h0M2009 789h0M176.5 789.5h0M453 789.5h0M462.5 789.5h0M708 789.5h0M1102 789.5h0M1219 789.5h0M1235.5 789.5h0M1309 789.5h0M1489.5 789.5h0M1532 789.5h0M1791 789.5h0M188.5 790h0M424 790h0M511 790h0M544 790h0M575.5 790h0M919.5 790h0M1034 790h0M1121 790h0M1183.5 790h0M1206.5 790h0M1669.5 790h0M1729.5 790h0M1773.5 790h0M1861 790h0M1865.5 790h0M159.5 790.5h0M414.5 790.5h0M447 790.5h0M458 790.5h0M654.5 790.5h0M708 790.5h0M1103 790.5h0M1117 790.5h0M1821.5 790.5h0M1865 790.5h0M1882.5 790.5h0M1910.5 790.5h0M124.5 791h0M182.5 791h0M211.5 791h0M437.5 791h0M478.5 791h0M508 791h0M547 791h0M715.5 791h0M1232 791h0M1701.5 791h0M1715 791h0M172.5 791.5h0M362 791.5h0M425.5 791.5h0M449 791.5h0M450.5 791.5h0M553.5 791.5h0M614.5 791.5h0M1089.5 791.5h0M1193 791.5h0M1241 791.5h0M1249 791.5h0M1524 791.5h0M1815 791.5h0M171 792h0M182.5 792h0M286 792h0M339.5 792h0M529.5 792h0M628 792h0M654 792h0M660.5 792h0M1079.5 792h0M1092.5 792h0M1101.5 792h0M1144.5 792h0M1296.5 792h0M1795.5 792h0M1818.5 792h0M131.5 792.5h0M340 792.5h0M356.5 792.5h0M466.5 792.5h0M545 792.5h0M562.5 792.5h0M569 792.5h0M617 792.5h0M620 792.5h0M623 792.5h0M1131.5 792.5h0M1138.5 792.5h0M1196 792.5h0M1515 792.5h0M1583.5 792.5h0M1875 792.5h0M121.5 793h0M152.5 793h0M457 793h0M615.5 793h0M664 793h0M904 793h0M925 793h0M1114.5 793h0M1222 793h0M1230 793h0M1305.5 793h0M1324.5 793h0M1505 793h0M1914 793h0M167 793.5h0M433 793.5h0M524 793.5h0M665.5 793.5h0M936.5 793.5h0M1518 793.5h0M1777 793.5h0M1899 793.5h0M1909 793.5h0M1975.5 793.5h0M135 794h0M183.5 794h0M365 794h0M444.5 794h0M474.5 794h0M1320.5 794h0M1490.5 794h0M1522 794h0M1577 794h0M1900 794h0M1920.5 794h0M1976.5 794h0M330 794.5h0M363.5 794.5h0M375 794.5h0M619.5 794.5h0M633.5 794.5h0M639 794.5h0M656.5 794.5h0M666.5 794.5h0M1116.5 794.5h0M1135.5 794.5h0M1277.5 794.5h0M1287 794.5h0M1594 794.5h0M211.5 795h0M287 795h0M431.5 795h0M477.5 795h0M570.5 795h0M1094 795h0M1176 795h0M1194 795h0M1393.5 795h0M1725.5 795h0M1760.5 795h0M1819.5 795h0M460 795.5h0M510 795.5h0M839 795.5h0M1145 795.5h0M1184 795.5h0M1522 795.5h0M1724 795.5h0M1906.5 795.5h0M1915.5 795.5h0M131 796h0M185 796h0M512.5 796h0M712.5 796h0M800.5 796h0M1093 796h0M1150.5 796h0M1432.5 796h0M1987.5 796h0M188 796.5h0M380.5 796.5h0M445 796.5h0M470.5 796.5h0M474 796.5h0M528.5 796.5h0M659 796.5h0M860 796.5h0M905 796.5h0M1081 796.5h0M1107 796.5h0M1122.5 796.5h0M1244 796.5h0M131 797h0M136 797h0M159 797h0M286.5 797h0M377 797h0M511 797h0M541 797h0M563 797h0M637.5 797h0M1087 797h0M1136.5 797h0M1215 797h0M1238.5 797h0M1370 797h0M1400 797h0M1899 797h0M211.5 797.5h0M443.5 797.5h0M526 797.5h0M933.5 797.5h0M1210.5 797.5h0M1491 797.5h0M1856.5 797.5h0M1862 797.5h0M376 798h0M429 798h0M438 798h0M452.5 798h0M466 798h0M476.5 798h0M575.5 798h0M938.5 798h0M983.5 798h0M1105.5 798h0M1247 798h0M1500 798h0M1899.5 798h0M2016 798h0M115.5 798.5h0M212.5 798.5h0M346 798.5h0M472 798.5h0M558.5 798.5h0M633 798.5h0M924.5 798.5h0M1123.5 798.5h0M1143.5 798.5h0M1149.5 798.5h0M1192.5 798.5h0M1209.5 798.5h0M1299 798.5h0M1322 798.5h0M1849.5 798.5h0M180.5 799h0M319.5 799h0M366.5 799h0M619.5 799h0M649.5 799h0M758.5 799h0M839.5 799h0M1109 799h0M1116.5 799h0M1213 799h0M1284.5 799h0M1290 799h0M1317 799h0M1669 799h0M1699.5 799h0M1773.5 799h0M1884 799h0M1906.5 799h0M318.5 799.5h0M570.5 799.5h0M613 799.5h0M651 799.5h0M1034.5 799.5h0M1133 799.5h0M1235 799.5h0M1245 799.5h0M1689.5 799.5h0M144 800h0M180.5 800h0M182.5 800h0M544 800h0M647 800h0M664 800h0M1097 800h0M1129.5 800h0M1175.5 800h0M1181 800h0M1276 800h0M1309 800h0M1337 800h0M1466 800h0M1825 800h0M286 800.5h0M453 800.5h0M609 800.5h0M754.5 800.5h0M860 800.5h0M932.5 800.5h0M1089.5 800.5h0M1208.5 800.5h0M1239 800.5h0M1272 800.5h0M1793.5 800.5h0M382 801h0M533.5 801h0M634.5 801h0M721 801h0M1086.5 801h0M1109 801h0M1127.5 801h0M1152 801h0M1153.5 801h0M1205 801h0M1329.5 801h0M1475.5 801h0M2002.5 801h0M150 801.5h0M211.5 801.5h0M332.5 801.5h0M475.5 801.5h0M827.5 801.5h0M1288 801.5h0M1293.5 801.5h0M1479.5 801.5h0M1528.5 801.5h0M1571 801.5h0M1664.5 801.5h0M1890 801.5h0M1898 801.5h0M189.5 802h0M338 802h0M475.5 802h0M669 802h0M1125 802h0M1178 802h0M1179.5 802h0M1247 802h0M1298 802h0M1767.5 802h0M1912.5 802h0M319.5 802.5h0M344.5 802.5h0M371.5 802.5h0M430.5 802.5h0M455.5 802.5h0M657 802.5h0M718 802.5h0M1277.5 802.5h0M1429.5 802.5h0M1758 802.5h0M1814.5 802.5h0M1919.5 802.5h0M147.5 803h0M170 803h0M286.5 803h0M379 803h0M417 803h0M745 803h0M1194.5 803h0M1398.5 803h0M1766.5 803h0M845 803.5h0M953 803.5h0M1114.5 803.5h0M1195 803.5h0M1274.5 803.5h0M1702 803.5h0M1702.5 803.5h0M1872.5 803.5h0M1901.5 803.5h0M212 804h0M465.5 804h0M1250 804h0M1306 804h0M1329.5 804h0M1473.5 804h0M1903 804h0M158.5 804.5h0M188 804.5h0M406.5 804.5h0M471 804.5h0M471.5 804.5h0M570.5 804.5h0M1787 804.5h0M1853 804.5h0M1899 804.5h0M1905.5 804.5h0M1922.5 804.5h0M165.5 805h0M172 805h0M1080 805h0M1109.5 805h0M1151 805h0M1243 805h0M1296 805h0M1809 805h0M1858 805h0M1923 805h0M151 805.5h0M286.5 805.5h0M405 805.5h0M417.5 805.5h0M446 805.5h0M924 805.5h0M1096 805.5h0M1102.5 805.5h0M1219 805.5h0M1243 805.5h0M1431 805.5h0M1658.5 805.5h0M1792.5 805.5h0M286 806h0M443 806h0M517.5 806h0M855 806h0M1078.5 806h0M1082 806h0M1101 806h0M211.5 806.5h0M329 806.5h0M362 806.5h0M365 806.5h0M405.5 806.5h0M536 806.5h0M1036 806.5h0M1146.5 806.5h0M1150.5 806.5h0M1223 806.5h0M1312.5 806.5h0M1321.5 806.5h0M1385.5 806.5h0M1792 806.5h0M1798.5 806.5h0M1910.5 806.5h0M357 807h0M508 807h0M1299.5 807h0M1306 807h0M1345 807h0M1918 807h0M122.5 807.5h0M162.5 807.5h0M171.5 807.5h0M373.5 807.5h0M374 807.5h0M450.5 807.5h0M526.5 807.5h0M599.5 807.5h0M626.5 807.5h0M1189.5 807.5h0M1245.5 807.5h0M1471 807.5h0M1718.5 807.5h0M168 808h0M546.5 808h0M655.5 808h0M1090 808h0M1116 808h0M1138 808h0M1670.5 808h0M1802.5 808h0M1850.5 808h0M1871.5 808h0M329 808.5h0M534.5 808.5h0M668.5 808.5h0M670.5 808.5h0M1091 808.5h0M1110.5 808.5h0M1122 808.5h0M1315 808.5h0M133.5 809h0M285.5 809h0M286.5 809h0M445 809h0M466 809h0M558.5 809h0M633.5 809h0M791 809h0M903.5 809h0M1082.5 809h0M1118 809h0M1122 809h0M1207.5 809h0M1222 809h0M1225 809h0M1310 809h0M1675 809h0M1856.5 809h0M1865 809h0M1877.5 809h0M1893 809h0M1995 809h0M2005.5 809h0M150 809.5h0M177.5 809.5h0M325 809.5h0M413 809.5h0M426.5 809.5h0M740.5 809.5h0M1185.5 809.5h0M1328 809.5h0M1334.5 809.5h0M1860.5 809.5h0M1897.5 809.5h0M1910 809.5h0M1913 809.5h0M212.5 810h0M449.5 810h0M469 810h0M851.5 810h0M1016 810h0M1319 810h0M1489 810h0M1814 810h0M1867 810h0M1870.5 810h0M1881.5 810h0M134.5 810.5h0M405.5 810.5h0M428 810.5h0M989 810.5h0M1307.5 810.5h0M1810.5 810.5h0M1876.5 810.5h0M440.5 811h0M1051 811h0M1126.5 811h0M1175.5 811h0M1177 811h0M1236 811h0M1669.5 811h0M2007.5 811h0M140.5 811.5h0M424 811.5h0M462.5 811.5h0M507 811.5h0M575 811.5h0M1086.5 811.5h0M1097.5 811.5h0M1700 811.5h0M211.5 812h0M287 812h0M378 812h0M807 812h0M847.5 812h0M1089 812h0M1104 812h0M1210.5 812h0M1246.5 812h0M1386 812h0M1478.5 812h0M1770 812h0M137 812.5h0M314.5 812.5h0M411.5 812.5h0M604.5 812.5h0M621.5 812.5h0M666 812.5h0M949.5 812.5h0M1034 812.5h0M1051 812.5h0M1117.5 812.5h0M1232.5 812.5h0M1302.5 812.5h0M119 813h0M186.5 813h0M189.5 813h0M322 813h0M339.5 813h0M372.5 813h0M538.5 813h0M621 813h0M1130.5 813h0M1218 813h0M1229 813h0M1232.5 813h0M1497.5 813h0M1695.5 813h0M169 813.5h0M322 813.5h0M330 813.5h0M849 813.5h0M920.5 813.5h0M1123.5 813.5h0M1147 813.5h0M1589 813.5h0M1678.5 813.5h0M1719 813.5h0M1862.5 813.5h0M1908 813.5h0M1911.5 813.5h0M121 814h0M164 814h0M531 814h0M625 814h0M831 814h0M1112 814h0M1141.5 814h0M359 814.5h0M503.5 814.5h0M518 814.5h0M735.5 814.5h0M750.5 814.5h0M960.5 814.5h0M1079 814.5h0M1242.5 814.5h0M1316 814.5h0M1474 814.5h0M1806 814.5h0M1889.5 814.5h0M123.5 815h0M147.5 815h0M172.5 815h0M341.5 815h0M410 815h0M448 815h0M458.5 815h0M468 815h0M470.5 815h0M471.5 815h0M719 815h0M1101.5 815h0M1115.5 815h0M1145 815h0M1330 815h0M1465.5 815h0M1823.5 815h0M1856 815h0M161 815.5h0M211.5 815.5h0M212 815.5h0M286.5 815.5h0M365.5 815.5h0M709.5 815.5h0M1009.5 815.5h0M1081 815.5h0M1184.5 815.5h0M1224.5 815.5h0M1280.5 815.5h0M1331.5 815.5h0M1338.5 815.5h0M1779.5 815.5h0M1824.5 815.5h0M1893.5 815.5h0M165.5 816h0M1131.5 816h0M1185.5 816h0M1241 816h0M1307.5 816h0M1919 816h0M324 816.5h0M666.5 816.5h0M1086 816.5h0M1219 816.5h0M1297.5 816.5h0M1311.5 816.5h0M1322 816.5h0M1499 816.5h0M1804.5 816.5h0M1886.5 816.5h0M1952.5 816.5h0M287 817h0M435.5 817h0M441 817h0M1140 817h0M1149 817h0M1249 817h0M1283.5 817h0M1304.5 817h0M134 817.5h0M158 817.5h0M170.5 817.5h0M348.5 817.5h0M437.5 817.5h0M457 817.5h0M720 817.5h0M1127.5 817.5h0M1137 817.5h0M1182.5 817.5h0M1188.5 817.5h0M1318.5 817.5h0M1763.5 817.5h0M1909.5 817.5h0M158.5 818h0M343.5 818h0M461.5 818h0M551.5 818h0M605 818h0M628.5 818h0M646 818h0M738.5 818h0M1102.5 818h0M1115.5 818h0M1205 818h0M1658 818h0M1690.5 818h0M1784.5 818h0M286 818.5h0M418 818.5h0M746 818.5h0M1209.5 818.5h0M1220 818.5h0M1241.5 818.5h0M1506 818.5h0M1906 818.5h0M119 819h0M212 819h0M427 819h0M428.5 819h0M632 819h0M1094 819h0M1098.5 819h0M1102.5 819h0M1134 819h0M1147 819h0M1232 819h0M138 819.5h0M211.5 819.5h0M345.5 819.5h0M1151.5 819.5h0M1215 819.5h0M1290 819.5h0M1332.5 819.5h0M1711.5 819.5h0M1948.5 819.5h0M526 820h0M631.5 820h0M657 820h0M1780.5 820h0M1956.5 820h0M189 820.5h0M352.5 820.5h0M667 820.5h0M1218 820.5h0M1312 820.5h0M1893 820.5h0M161 821h0M377 821h0M457 821h0M614.5 821h0M1078.5 821h0M173 821.5h0M211.5 821.5h0M418.5 821.5h0M479 821.5h0M722.5 821.5h0M1117.5 821.5h0M1295 821.5h0M1539 821.5h0M1874 821.5h0M122.5 822h0M124.5 822h0M286.5 822h0M319 822h0M432.5 822h0M621 822h0M639 822h0M724 822h0M734 822h0M818 822h0M1175 822h0M1182 822h0M1243.5 822h0M1336 822h0M1369.5 822h0M1765.5 822h0M1824 822h0M1889 822h0M143 822.5h0M554.5 822.5h0M635.5 822.5h0M1081.5 822.5h0M1507 822.5h0M1904 822.5h0M363 823h0M476.5 823h0M568.5 823h0M570.5 823h0M1225 823h0M1326.5 823h0M1960 823h0M353 823.5h0M440 823.5h0M1109.5 823.5h0M1138.5 823.5h0M1203 823.5h0M1222 823.5h0M1864.5 823.5h0M645.5 824h0M920 824h0M1033 824h0M1127.5 824h0M1205 824h0M1233 824h0M1286 824h0M1522 824h0M1522.5 824h0M179.5 824.5h0M212 824.5h0M656 824.5h0M1049.5 824.5h0M1081 824.5h0M1203.5 824.5h0M1204 824.5h0M1238 824.5h0M1479.5 824.5h0M177 825h0M285.5 825h0M319 825h0M1086 825h0M1121 825h0M1154 825h0M1304.5 825h0M1679 825h0M1860 825h0M1866 825h0M1871.5 825h0M436 825.5h0M528.5 825.5h0M616.5 825.5h0M617.5 825.5h0M1328.5 825.5h0M1338 825.5h0M1499.5 825.5h0M1905 825.5h0M171 826h0M383 826h0M440.5 826h0M466 826h0M505.5 826h0M513.5 826h0M756.5 826h0M1040.5 826h0M381.5 826.5h0M410.5 826.5h0M1139.5 826.5h0M1223.5 826.5h0M1242.5 826.5h0M1322.5 826.5h0M1325.5 826.5h0M1684 826.5h0M1873.5 826.5h0M1960 826.5h0M125 827h0M135.5 827h0M352 827h0M420 827h0M500.5 827h0M645 827h0M212 827.5h0M286.5 827.5h0M429 827.5h0M470 827.5h0M1104.5 827.5h0M1126 827.5h0M1308 827.5h0M1497.5 827.5h0M132.5 828h0M415.5 828h0M517.5 828h0M644 828h0M717.5 828h0M750.5 828h0M918.5 828h0M1116.5 828h0M1138 828h0M1216 828h0M1236.5 828h0M1724 828h0M1858 828h0M380 828.5h0M1100 828.5h0M1149 828.5h0M1248.5 828.5h0M1283.5 828.5h0M1699.5 828.5h0M1718.5 828.5h0M1812 828.5h0M2018.5 828.5h0M137.5 829h0M414.5 829h0M462.5 829h0M605 829h0M657.5 829h0M1114 829h0M1197.5 829h0M1218 829h0M1221.5 829h0M1333 829h0M1781 829h0M1802 829h0M1905 829h0M131.5 829.5h0M361.5 829.5h0M407 829.5h0M842.5 829.5h0M1107 829.5h0M1195 829.5h0M152 830h0M212.5 830h0M419.5 830h0M723.5 830h0M1090 830h0M1128.5 830h0M1148.5 830h0M1523 830h0M161.5 830.5h0M177.5 830.5h0M352 830.5h0M377 830.5h0M732.5 830.5h0M1081 830.5h0M1084 830.5h0M1142 830.5h0M1188.5 830.5h0M1192.5 830.5h0M1868.5 830.5h0M1898.5 830.5h0M1904.5 830.5h0M1905 830.5h0M286.5 831h0M425 831h0M712.5 831h0M1200 831h0M1242 831h0M1324 831h0M1532 831h0M465 831.5h0M543 831.5h0M642 831.5h0M839.5 831.5h0M1106.5 831.5h0M1130 831.5h0M1136.5 831.5h0M1190 831.5h0M1220 831.5h0M1232 831.5h0M1342.5 831.5h0M1884 831.5h0M211.5 832h0M334 832h0M416.5 832h0M430.5 832h0M469.5 832h0M745 832h0M811 832h0M1118.5 832h0M1131 832h0M1136.5 832h0M1210.5 832h0M1507.5 832h0M182.5 832.5h0M316 832.5h0M463.5 832.5h0M1104.5 832.5h0M1114.5 832.5h0M1183 832.5h0M1193.5 832.5h0M1200.5 832.5h0M1309 832.5h0M1754 832.5h0M1784 832.5h0M142.5 833h0M437.5 833h0M461.5 833h0M625.5 833h0M1093.5 833h0M1124 833h0M1126 833h0M1183.5 833h0M170 833.5h0M287 833.5h0M372.5 833.5h0M418.5 833.5h0M527.5 833.5h0M603.5 833.5h0M704 833.5h0M1146.5 833.5h0M1148 833.5h0M1243.5 833.5h0M1346.5 833.5h0M1500 833.5h0M150.5 834h0M211.5 834h0M212 834h0M286 834h0M337.5 834h0M820.5 834h0M836 834h0M929 834h0M1236 834h0M1271.5 834h0M1882.5 834h0M1890 834h0M129.5 834.5h0M178 834.5h0M184 834.5h0M472 834.5h0M547 834.5h0M613 834.5h0M895 834.5h0M1026.5 834.5h0M1329.5 834.5h0M1715 834.5h0M174.5 835h0M428 835h0M1105 835h0M1233 835h0M1325 835h0M1499.5 835h0M552 835.5h0M997.5 835.5h0M1147.5 835.5h0M1214 835.5h0M1282.5 835.5h0M1323.5 835.5h0M363.5 836h0M411 836h0M599.5 836h0M633 836h0M929 836h0M1081.5 836h0M1087.5 836h0M1125 836h0M1144 836h0M1221 836h0M1230.5 836h0M1859 836h0M131.5 836.5h0M1177.5 836.5h0M1215.5 836.5h0M1305 836.5h0M1754 836.5h0M1869.5 836.5h0M147 837h0M157.5 837h0M212 837h0M286.5 837h0M542.5 837h0M630 837h0M654.5 837h0M1093 837h0M1854.5 837h0M1947 837h0M2010.5 837h0M161.5 837.5h0M211.5 837.5h0M508.5 837.5h0M556 837.5h0M1095 837.5h0M1291.5 837.5h0M1732 837.5h0M600.5 838h0M698.5 838h0M714.5 838h0M1236.5 838h0M1316.5 838h0M1779 838h0M1794 838h0M1864.5 838h0M1911 838h0M1952.5 838h0M423.5 838.5h0M551.5 838.5h0M1111.5 838.5h0M1133 838.5h0M147 839h0M185 839h0M559.5 839h0M1117.5 839h0M1200 839h0M1215 839h0M1307 839h0M1899.5 839h0M211.5 839.5h0M287 839.5h0M1106 839.5h0M1114.5 839.5h0M1120.5 839.5h0M1145 839.5h0M1615 839.5h0M1799 839.5h0M1871.5 839.5h0M161 840h0M426 840h0M1129.5 840h0M1141 840h0M1229.5 840h0M1420 840h0M117.5 840.5h0M168 840.5h0M553.5 840.5h0M1087 840.5h0M1092.5 840.5h0M1104.5 840.5h0M1275 840.5h0M1339 840.5h0M1711 840.5h0M1810 840.5h0M172.5 841h0M311 841h0M764.5 841h0M1096.5 841h0M1220 841h0M1328 841h0M1813.5 841h0M1911 841h0M460 841.5h0M1093.5 841.5h0M1136 841.5h0M1335 841.5h0M1773.5 841.5h0M1879.5 841.5h0M211.5 842h0M315.5 842h0M378 842h0M462 842h0M571 842h0M735 842h0M900.5 842h0M916.5 842h0M1004 842h0M1191.5 842h0M1196.5 842h0M1217 842h0M1234 842h0M1308.5 842h0M1334 842h0M140.5 842.5h0M286.5 842.5h0M345.5 842.5h0M347.5 842.5h0M1138 842.5h0M1204.5 842.5h0M1226 842.5h0M1301.5 842.5h0M1468.5 842.5h0M1530 842.5h0M124.5 843h0M454.5 843h0M712 843h0M742 843h0M1279 843h0M187.5 843.5h0M324 843.5h0M755.5 843.5h0M1084 843.5h0M1247.5 843.5h0M1688.5 843.5h0M1878.5 843.5h0M1097.5 844h0M1193.5 844h0M1342 844h0M1818 844h0M1235.5 844.5h0M1300.5 844.5h0M1922.5 844.5h0M189.5 845h0M628 845h0M1111.5 845h0M1185 845h0M1226 845h0M1333.5 845h0M1891.5 845h0M166.5 845.5h0M286.5 845.5h0M551 845.5h0M753.5 845.5h0M848 845.5h0M1110.5 845.5h0M1188 845.5h0M1243.5 845.5h0M1329 845.5h0M2006.5 845.5h0M128 846h0M211.5 846h0M349.5 846h0M452 846h0M647.5 846h0M835 846h0M1099.5 846h0M1116.5 846h0M1176 846h0M1782.5 846h0M1978 846h0M515.5 846.5h0M528.5 846.5h0M1282 846.5h0M1289.5 846.5h0M1330 846.5h0M353.5 847h0M413.5 847h0M1101 847h0M1183.5 847h0M1222.5 847h0M1240.5 847h0M1246.5 847h0M1281.5 847h0M1662.5 847h0M2019 847h0M1111 847.5h0M1146.5 847.5h0M1190.5 847.5h0M287 848h0M405 848h0M479 848h0M855.5 848h0M1104.5 848h0M1333.5 848h0M1670 848h0M127.5 848.5h0M163.5 848.5h0M211.5 848.5h0M435.5 848.5h0M476 848.5h0M826 848.5h0M1101.5 848.5h0M1135 848.5h0M1198.5 848.5h0M1239 848.5h0M1292.5 848.5h0M1298 848.5h0M1320.5 848.5h0M1795.5 848.5h0M1083 849h0M1184 849h0M1194.5 849h0M1244 849h0M1864.5 849h0M335.5 849.5h0M469 849.5h0M625.5 849.5h0M1123.5 849.5h0M1319 849.5h0M1883 849.5h0M1887 849.5h0M169 850h0M433.5 850h0M471.5 850h0M756.5 850h0M1089.5 850h0M1294.5 850h0M1478.5 850h0M1854.5 850h0M532 850.5h0M615 850.5h0M727 850.5h0M736 850.5h0M1103.5 850.5h0M1122 850.5h0M1142.5 850.5h0M1175.5 850.5h0M1227.5 850.5h0M1244.5 850.5h0M1296 850.5h0M1470.5 850.5h0M1896.5 850.5h0M1089.5 851h0M1135.5 851h0M1230.5 851h0M1274.5 851h0M1323.5 851h0M1772.5 851h0M1993 851h0M142.5 851.5h0M143 851.5h0M211.5 851.5h0M286.5 851.5h0M645 851.5h0M1083.5 851.5h0M1132 851.5h0M1236.5 851.5h0M1276.5 851.5h0M1528.5 851.5h0M1769.5 851.5h0M1871 851.5h0M1891 851.5h0M131.5 852h0M166 852h0M441 852h0M572.5 852h0M669.5 852h0M1150 852h0M1201.5 852h0M1221.5 852h0M1282.5 852h0M1476.5 852h0M1675 852h0M1889 852h0M138 852.5h0M181 852.5h0M1272 852.5h0M1603 852.5h0M758.5 853h0M796 853h0M987 853h0M1134 853h0M1190 853h0M1205 853h0M1231.5 853h0M1852 853h0M1893.5 853h0M1900 853h0M138.5 853.5h0M425 853.5h0M819 853.5h0M1086.5 853.5h0M1127.5 853.5h0M1217 853.5h0M1218 853.5h0M1272.5 853.5h0M1680 853.5h0M1758.5 853.5h0M180 854h0M470 854h0M610 854h0M620.5 854h0M1142.5 854h0M1184.5 854h0M1190 854h0M1499.5 854h0M1951.5 854h0M211.5 854.5h0M802.5 854.5h0M1142.5 854.5h0M1211 854.5h0M1235.5 854.5h0M1243 854.5h0M1516.5 854.5h0M1992.5 854.5h0M286 855h0M350.5 855h0M630 855h0M1099.5 855h0M1104 855h0M1108 855h0M1181.5 855h0M1197 855h0M1711 855h0M186 855.5h0M1209.5 855.5h0M1230 855.5h0M1315.5 855.5h0M1806 855.5h0M456.5 856h0M1085.5 856h0M1809 856h0M1855 856h0M1862.5 856h0M1969.5 856h0M337.5 856.5h0M1036.5 856.5h0M1132.5 856.5h0M1139.5 856.5h0M1180.5 856.5h0M1201 856.5h0M1209 856.5h0M1303 856.5h0M1513.5 856.5h0M1825 856.5h0M1854.5 856.5h0M161.5 857h0M211.5 857h0M340 857h0M1078.5 857h0M1185.5 857h0M1250 857h0M145.5 857.5h0M146 857.5h0M186.5 857.5h0M383 857.5h0M1204 857.5h0M1286 857.5h0M1709.5 857.5h0M133.5 858h0M153.5 858h0M176 858h0M287 858h0M418.5 858h0M1110.5 858h0M1177.5 858h0M1220.5 858h0M1280 858h0M1297.5 858h0M1320.5 858h0M1773 858h0M1809 858h0M148.5 858.5h0M443.5 858.5h0M1151.5 858.5h0M1335.5 858.5h0M1499.5 858.5h0M1079 859h0M1116.5 859h0M1130 859h0M1194 859h0M1299.5 859h0M1302.5 859h0M371 859.5h0M1484 859.5h0M1877 859.5h0M212.5 860h0M474 860h0M718 860h0M1085.5 860h0M287 860.5h0M711.5 860.5h0M743.5 860.5h0M1182 860.5h0M1219.5 860.5h0M1230 860.5h0M1244.5 860.5h0M1286 860.5h0M1343 860.5h0M382 861h0M1129.5 861h0M1207 861h0M1241 861h0M1307 861h0M1994.5 861h0M850 861.5h0M1088 861.5h0M1136 861.5h0M1221 861.5h0M1333 861.5h0M1789 861.5h0M189.5 862h0M715 862h0M1092.5 862h0M1096 862h0M1097 862h0M1202.5 862h0M1233.5 862h0M1296 862h0M1531 862h0M1995.5 862h0M740.5 862.5h0M747 862.5h0M1084 862.5h0M1176 862.5h0M1322.5 862.5h0M1325.5 862.5h0M1533.5 862.5h0M1878.5 862.5h0M566 863h0M1799 863h0M1986.5 863h0M150 863.5h0M212.5 863.5h0M287 863.5h0M839.5 863.5h0M1150.5 863.5h0M1191.5 863.5h0M1281 863.5h0M1723.5 863.5h0M1767 863.5h0M132 864h0M139 864h0M186.5 864h0M446.5 864h0M1119 864h0M1538 864h0M1998 864h0M122.5 864.5h0M954 864.5h0M1095 864.5h0M1124 864.5h0M1205 864.5h0M1248.5 864.5h0M1773 864.5h0M188.5 865h0M1081 865h0M1081.5 865h0M1089.5 865h0M1178.5 865h0M1189.5 865h0M521.5 865.5h0M1107.5 865.5h0M1150.5 865.5h0M1183 865.5h0M219.5 866h0M254 866h0M255.5 866h0M281 866h0M282.5 866h0M287 866h0M479 866h0M1102.5 866h0M1139.5 866h0M1189.5 866h0M1194 866h0M1203 866h0M1227 866h0M1673 866h0M1796 866h0M247.5 866.5h0M265 866.5h0M282 866.5h0M409.5 866.5h0M450 866.5h0M528.5 866.5h0M1112 866.5h0M1120 866.5h0M1193 866.5h0M1238.5 866.5h0M1281 866.5h0M1878 866.5h0M140 867h0M165 867h0M211.5 867h0M256 867h0M267 867h0M285.5 867h0M1110 867h0M1182 867h0M1284.5 867h0M1305.5 867h0M219.5 867.5h0M287 867.5h0M419 867.5h0M610.5 867.5h0M626 867.5h0M1234 867.5h0M1335.5 867.5h0M1998 867.5h0M213 868h0M225.5 868h0M471.5 868h0M641 868h0M1144.5 868h0M1182.5 868h0M1215 868h0M1220.5 868h0M1282 868h0M169.5 868.5h0M213 868.5h0M217.5 868.5h0M232.5 868.5h0M422.5 868.5h0M550 868.5h0M603.5 868.5h0M1241.5 868.5h0M1808.5 868.5h0M1089.5 869h0M1152 869h0M1197.5 869h0M1246.5 869h0M1306.5 869h0M252.5 869.5h0M352 869.5h0M452.5 869.5h0M1089 869.5h0M1108 869.5h0M1126.5 869.5h0M226 870h0M236.5 870h0M238.5 870h0M452.5 870h0M543 870h0M628 870h0M916.5 870h0M1138.5 870h0M1207.5 870h0M1213.5 870h0M1231.5 870h0M1247.5 870h0M1917 870h0M178 870.5h0M214.5 870.5h0M243 870.5h0M244 870.5h0M272.5 870.5h0M286.5 870.5h0M344 870.5h0M846.5 870.5h0M1115 870.5h0M1127 870.5h0M1144.5 870.5h0M1150.5 870.5h0M1343.5 870.5h0M1902 870.5h0M180.5 871h0M213 871h0M232 871h0M251 871h0M261 871h0M277 871h0M826.5 871h0M1092.5 871h0M1203 871h0M1206.5 871h0M1223 871h0M1230.5 871h0M1331 871h0M1664.5 871h0M179.5 871.5h0M216.5 871.5h0M219.5 871.5h0M229 871.5h0M261.5 871.5h0M415.5 871.5h0M443 871.5h0M1241.5 871.5h0M1248 871.5h0M1318.5 871.5h0M1323 871.5h0M1919 871.5h0M240.5 872h0M268 872h0M382 872h0M835 872h0M1094.5 872h0M1233.5 872h0M1239 872h0M1498.5 872h0M1721 872h0M1761.5 872h0M1871.5 872h0M242 872.5h0M259 872.5h0M280 872.5h0M554 872.5h0M826.5 872.5h0M1179 872.5h0M1771 872.5h0M264.5 873h0M1085.5 873h0M1124.5 873h0M1189.5 873h0M1227.5 873h0M1247.5 873h0M1274 873h0M1346.5 873h0M1486 873h0M131.5 873.5h0M271 873.5h0M1120.5 873.5h0M1202.5 873.5h0M1236 873.5h0M1345 873.5h0M1502 873.5h0M1755 873.5h0M1852.5 873.5h0M1871.5 873.5h0M259.5 874h0M278 874h0M315 874h0M446.5 874h0M1216.5 874h0M1756.5 874h0M1876.5 874h0M214.5 874.5h0M250 874.5h0M273.5 874.5h0M286 874.5h0M532.5 874.5h0M1086 874.5h0M1110 874.5h0M1152.5 874.5h0M1192 874.5h0M1922 874.5h0M161 875h0M222 875h0M257.5 875h0M259.5 875h0M263 875h0M811 875h0M1100 875h0M1247.5 875h0M1291 875h0M1888 875h0M1890 875h0M1904 875h0M274.5 875.5h0M461 875.5h0M1177.5 875.5h0M1216 875.5h0M1248 875.5h0M1719 875.5h0M1802.5 875.5h0M214.5 876h0M230.5 876h0M240.5 876h0M243.5 876h0M249 876h0M283 876h0M1148 876h0M1306.5 876h0M1914 876h0M220 876.5h0M274.5 876.5h0M1143 876.5h0M1153 876.5h0M1199 876.5h0M1340.5 876.5h0M1808 876.5h0M1855 876.5h0M1881 876.5h0M219.5 877h0M234.5 877h0M1094 877h0M1115 877h0M1191 877h0M225 877.5h0M267.5 877.5h0M1222 877.5h0M1276.5 877.5h0M1278 877.5h0M1285.5 877.5h0M1324.5 877.5h0M1914 877.5h0M254.5 878h0M407.5 878h0M1128.5 878h0M1144.5 878h0M1310 878h0M1903.5 878h0M1981.5 878h0M2007.5 878h0M116.5 878.5h0M253.5 878.5h0M1092.5 878.5h0M1106 878.5h0M178 879h0M446 879h0M539 879h0M1211.5 879h0M1781 879h0M1855.5 879h0M142.5 879.5h0M223 879.5h0M1150 879.5h0M1207 879.5h0M1345 879.5h0M1787.5 879.5h0M120.5 880h0M232 880h0M238.5 880h0M268 880h0M285.5 880h0M700.5 880h0M1100.5 880h0M1247.5 880h0M1319 880h0M243 880.5h0M250 880.5h0M261.5 880.5h0M277.5 880.5h0M477 880.5h0M1095.5 880.5h0M1278 880.5h0M450 881h0M808.5 881h0M815.5 881h0M1339 881h0M240 881.5h0M262.5 881.5h0M350.5 881.5h0M1137.5 881.5h0M1243 881.5h0M1247.5 881.5h0M229 882h0M1028 882h0M1110.5 882h0M1135 882h0M1277.5 882h0M1324.5 882h0M1329.5 882h0M252.5 882.5h0M273 882.5h0M279.5 882.5h0M473 882.5h0M662.5 882.5h0M1081.5 882.5h0M1153.5 882.5h0M1202.5 882.5h0M1204.5 882.5h0M1873.5 882.5h0M217.5 883h0M267.5 883h0M271 883h0M278.5 883h0M1090 883h0M1115.5 883h0M1150.5 883h0M1200.5 883h0M243 883.5h0M250 883.5h0M270.5 883.5h0M277.5 883.5h0M1112.5 883.5h0M1117.5 883.5h0M1126.5 883.5h0M1248.5 883.5h0M1964.5 883.5h0M218 884h0M255.5 884h0M267 884h0M282 884h0M1103.5 884h0M1225 884h0M1237 884h0M218.5 884.5h0M1088.5 884.5h0M1089.5 884.5h0M1199.5 884.5h0M1234.5 884.5h0M1237.5 884.5h0M1724.5 884.5h0M1885 884.5h0M214 885h0M217 885h0M225 885h0M1079 885h0M1118.5 885h0M1138 885h0M1181.5 885h0M1810 885h0M127.5 885.5h0M810 885.5h0M829.5 885.5h0M1140.5 885.5h0M1231.5 885.5h0M1790 885.5h0M253 886h0M273.5 886h0M287 886h0M449.5 886h0M1465 886h0M233 886.5h0M274.5 886.5h0M1122 886.5h0M1148.5 886.5h0M1152 886.5h0M1188.5 886.5h0M1309 886.5h0M1310 886.5h0M1429.5 886.5h0M411.5 887h0M1086.5 887h0M1143 887h0M1236 887h0M1330 887h0M1822 887h0M232.5 887.5h0M276 887.5h0M1852.5 887.5h0M1889.5 887.5h0M261 888h0M374.5 888h0M1102 888h0M1137.5 888h0M1289.5 888h0M1291 888h0M1873 888h0M1886 888h0M133 888.5h0M232 888.5h0M1130.5 888.5h0M1140.5 888.5h0M1819 888.5h0M1874.5 888.5h0M216 889h0M239.5 889h0M745.5 889h0M1209.5 889h0M1222.5 889h0M1276.5 889h0M1298 889h0M164 889.5h0M219.5 889.5h0M227.5 889.5h0M248.5 889.5h0M274 889.5h0M285 889.5h0M789.5 889.5h0M1095 889.5h0M1272 889.5h0M1287.5 889.5h0M1891 889.5h0M1911 889.5h0M246 890h0M258.5 890h0M274.5 890h0M1097.5 890h0M1229.5 890h0M1333.5 890h0M846 890.5h0M1082.5 890.5h0M1151 890.5h0M1193.5 890.5h0M1226.5 890.5h0M257.5 891h0M258 891h0M1081 891h0M1116 891h0M1154 891h0M1195 891h0M1208 891h0M1214 891h0M235 891.5h0M280.5 891.5h0M1109.5 891.5h0M1147 891.5h0M1239.5 891.5h0M1305.5 891.5h0M1313 891.5h0M182 892h0M222 892h0M229 892h0M243.5 892h0M248.5 892h0M261.5 892h0M1086 892h0M1122 892h0M1232.5 892h0M146.5 892.5h0M214 892.5h0M251.5 892.5h0M322.5 892.5h0M1241.5 892.5h0M1245.5 892.5h0M1303.5 892.5h0M1329 892.5h0M1852 892.5h0M223 893h0M267 893h0M273.5 893h0M1185.5 893h0M1195.5 893h0M1211 893h0M1237 893h0M283.5 893.5h0M343.5 893.5h0M572.5 893.5h0M1118 893.5h0M1245.5 893.5h0M1783.5 893.5h0M1880 893.5h0M1908.5 893.5h0M1992 893.5h0M124 894h0M270 894h0M285.5 894h0M357.5 894h0M1206 894h0M1879 894h0M1918.5 894h0M1179 894.5h0M1203 894.5h0M1213.5 894.5h0M1332.5 894.5h0M1823 894.5h0M171 895h0M238.5 895h0M1113 895h0M1284 895h0M1288.5 895h0M1312 895h0M231 895.5h0M253 895.5h0M275.5 895.5h0M278 895.5h0M369 895.5h0M1128.5 895.5h0M1133.5 895.5h0M1193 895.5h0M1234.5 895.5h0M1800 895.5h0M120.5 896h0M950.5 896h0M1080.5 896h0M1087.5 896h0M1096 896h0M261 896.5h0M734 896.5h0M928 896.5h0M1084 896.5h0M1152.5 896.5h0M1219 896.5h0M1223.5 896.5h0M232 897h0M736.5 897h0M810.5 897h0M1093 897h0M1186.5 897h0M1241 897h0M1787 897h0M170.5 897.5h0M227 897.5h0M1093 897.5h0M1141.5 897.5h0M1193.5 897.5h0M1887 897.5h0M225 898h0M283.5 898h0M1140.5 898h0M1234 898h0M1282 898h0M1305.5 898h0M286.5 898.5h0M1182 898.5h0M1193.5 898.5h0M1220 898.5h0M1247 898.5h0M181 899h0M215 899h0M649 899h0M1141.5 899h0M1199 899h0M213 899.5h0M239 899.5h0M256.5 899.5h0M454 899.5h0M1083 899.5h0M1209 899.5h0M1288 899.5h0M1774 899.5h0M1812.5 899.5h0M217 900h0M233 900h0M241 900h0M444 900h0M1199.5 900h0M1200.5 900h0M1211.5 900h0M1229.5 900h0M1245.5 900h0M1295 900h0M1471 900h0M121 900.5h0M215 900.5h0M226 900.5h0M244 900.5h0M245.5 900.5h0M268 900.5h0M736 900.5h0M1107 900.5h0M1117.5 900.5h0M1188 900.5h0M1305.5 900.5h0M267 901h0M279 901h0M1093 901h0M1132 901h0M135 901.5h0M247.5 901.5h0M1107.5 901.5h0M1138.5 901.5h0M1302 901.5h0M253.5 902h0M727.5 902h0M1150.5 902h0M1220.5 902h0M268.5 902.5h0M270 902.5h0M1126.5 902.5h0M1150 902.5h0M1197 902.5h0M1214.5 902.5h0M1867.5 902.5h0M214.5 903h0M215.5 903h0M1079 903h0M1082.5 903h0M1121 903h0M1286.5 903h0M1310.5 903h0M1315 903h0M1471 903h0M1917 903h0M242 903.5h0M245.5 903.5h0M255.5 903.5h0M256.5 903.5h0M270.5 903.5h0M273.5 903.5h0M282.5 903.5h0M530 903.5h0M1099 903.5h0M1112 903.5h0M1184 903.5h0M1206 903.5h0M1280 903.5h0M1719 903.5h0M281 904h0M831 904h0M1096.5 904h0M1103.5 904h0M1210.5 904h0M159.5 904.5h0M648 904.5h0M755 904.5h0M1089 904.5h0M1221 904.5h0M1235 904.5h0M1319.5 904.5h0M1599 904.5h0M1765.5 904.5h0M229.5 905h0M270 905h0M281 905h0M418 905h0M737 905h0M1088.5 905h0M1863.5 905h0M220.5 905.5h0M236.5 905.5h0M1193 905.5h0M1212.5 905.5h0M264.5 906h0M267.5 906h0M1216.5 906h0M1223 906h0M1242 906h0M228 906.5h0M1106.5 906.5h0M1121.5 906.5h0M1220 906.5h0M1331.5 906.5h0M1800 906.5h0M1878.5 906.5h0M283 907h0M1081 907h0M1102.5 907h0M1146 907h0M1202 907h0M225 907.5h0M252 907.5h0M255.5 907.5h0M1136.5 907.5h0M1175 907.5h0M1230 907.5h0M1323.5 907.5h0M1330 907.5h0M1867.5 907.5h0M227 908h0M238 908h0M1001.5 908h0M1095.5 908h0M1099.5 908h0M158 908.5h0M241.5 908.5h0M251.5 908.5h0M274.5 908.5h0M604 908.5h0M808.5 908.5h0M1113.5 908.5h0M1114.5 908.5h0M1244 908.5h0M1280 908.5h0M1346.5 908.5h0M1919 908.5h0M217.5 909h0M1187 909h0M1290.5 909h0M1798 909h0M246.5 909.5h0M263 909.5h0M284 909.5h0M745 909.5h0M1095 909.5h0M1113.5 909.5h0M1183 909.5h0M1698.5 909.5h0M1777 909.5h0M252.5 910h0M1197 910h0M212 910.5h0M1229 910.5h0M1248 910.5h0M1276.5 910.5h0M1331.5 910.5h0M276.5 911h0M1089 911h0M1115 911h0M1123 911h0M1140 911h0M1185.5 911h0M1241.5 911h0M1922 911h0M266 911.5h0M824.5 911.5h0M1125 911.5h0M1149 911.5h0M1215.5 911.5h0M1225.5 911.5h0M1342.5 911.5h0M1861 911.5h0M285 912h0M438 912h0M1082.5 912h0M213 912.5h0M234.5 912.5h0M238.5 912.5h0M1128.5 912.5h0M1153.5 912.5h0M1200 912.5h0M1226 912.5h0M1246 912.5h0M134 913h0M217.5 913h0M230.5 913h0M1079 913h0M1212 913h0M1316 913h0M144.5 913.5h0M222 913.5h0M249 913.5h0M557 913.5h0M1081.5 913.5h0M1229 913.5h0M1233.5 913.5h0M1291.5 913.5h0M1781.5 913.5h0M1179 914h0M1294.5 914h0M1303.5 914h0M161.5 914.5h0M281.5 914.5h0M1118 914.5h0M1153.5 914.5h0M1224 914.5h0M1856 914.5h0M231 915h0M811.5 915h0M1186.5 915h0M1216 915h0M1341 915h0M256.5 915.5h0M265.5 915.5h0M267.5 915.5h0M1240 915.5h0M1278 915.5h0M1527 915.5h0M1862.5 915.5h0M1095 916h0M1123.5 916h0M1299 916h0M1403.5 916h0M219 916.5h0M1091 916.5h0M1150.5 916.5h0M1188 916.5h0M1196.5 916.5h0M1217.5 916.5h0M1886 916.5h0M1902 916.5h0M269 917h0M274.5 917h0M1080 917h0M1209 917h0M236 917.5h0M1099 917.5h0M1109 917.5h0M1115.5 917.5h0M1212.5 917.5h0M1247 917.5h0M1319 917.5h0M285.5 918h0M1101 918h0M1142.5 918h0M1181 918h0M1511 918h0M712 918.5h0M857 918.5h0M1145.5 918.5h0M237.5 919h0M239.5 919h0M1222.5 919h0M1235.5 919h0M1320 919h0M1492.5 919h0M1080 919.5h0M1117 919.5h0M1180.5 919.5h0M1233 919.5h0M1249.5 919.5h0M1305 919.5h0M1337 919.5h0M1732 919.5h0M223 920h0M232.5 920h0M1151.5 920h0M1184.5 920h0M1223 920h0M259 920.5h0M279 920.5h0M744 920.5h0M1116.5 920.5h0M1205 920.5h0M1293 920.5h0M237 921h0M1103.5 921h0M276 921.5h0M1112 921.5h0M1228 921.5h0M1293.5 921.5h0M1341 921.5h0M1870 921.5h0M1092 922h0M1094.5 922h0M1300.5 922h0M212 922.5h0M232.5 922.5h0M286.5 922.5h0M1106.5 922.5h0M1200 922.5h0M249.5 923h0M253.5 923h0M263.5 923h0M413.5 923h0M1126.5 923h0M1149 923h0M1323 923h0M247.5 923.5h0M261.5 923.5h0M1136.5 923.5h0M1182.5 923.5h0M1209 923.5h0M1856.5 923.5h0M272 924h0M277.5 924h0M281.5 924h0M1096.5 924h0M1146 924h0M1196 924h0M1312.5 924h0M1771.5 924h0M149 924.5h0M212 924.5h0M223.5 924.5h0M1094 924.5h0M1225.5 924.5h0M1906 924.5h0M282.5 925h0M1873.5 925h0M1898.5 925h0M252 925.5h0M1342.5 925.5h0M406 926h0M708 926h0M718.5 926h0M1105.5 926h0M1199 926h0M1200.5 926h0M1211.5 926h0M244.5 926.5h0M1122 926.5h0M1133.5 926.5h0M1147 926.5h0M1190 926.5h0M1409.5 926.5h0M1144.5 927h0M1238 927h0M1326 927h0M1879.5 927h0M269.5 927.5h0M566.5 927.5h0M1116.5 927.5h0M1235 927.5h0M1289.5 927.5h0M1878 927.5h0M235.5 928h0M260.5 928h0M279 928h0M1093.5 928h0M1177.5 928h0M1328 928h0M1814.5 928h0M1896.5 928h0M214.5 928.5h0M225 928.5h0M236.5 928.5h0M1231.5 928.5h0M1122 929h0M1138 929h0M1193 929h0M1197 929h0M1212 929h0M1913 929h0M221.5 929.5h0M229.5 929.5h0M244.5 929.5h0M261 929.5h0M1094.5 929.5h0M1110 929.5h0M1225 929.5h0M1308.5 929.5h0M1324.5 929.5h0M186 930h0M1153.5 930h0M1275.5 930h0M1291 930h0M1331 930h0M250 930.5h0M266.5 930.5h0M283.5 930.5h0M284.5 930.5h0M1039.5 930.5h0M1223.5 930.5h0M1868 930.5h0M213.5 931h0M221.5 931h0M275.5 931h0M1221.5 931h0M121.5 931.5h0M283.5 931.5h0M1085.5 931.5h0M1437.5 931.5h0M1114 932.5h0M1181.5 932.5h0M1194.5 932.5h0M1195 932.5h0M1320 932.5h0M1321 932.5h0M1696 932.5h0M1795 932.5h0M152 933h0M1247.5 933h0M247 933.5h0M274 933.5h0M828 933.5h0M1104.5 933.5h0M1121.5 933.5h0M1282 933.5h0M212.5 934h0M1231.5 934h0M1243 934h0M251.5 934.5h0M277 934.5h0M814 934.5h0M1084.5 934.5h0M1677 934.5h0M271.5 935h0M1872.5 935h0M218.5 935.5h0M235 935.5h0M259.5 935.5h0M264 935.5h0M266 935.5h0M277.5 935.5h0M850 935.5h0M1081 935.5h0M1108.5 935.5h0M1109.5 935.5h0M1113.5 935.5h0M1184 935.5h0M1215 935.5h0M1233 935.5h0M1244.5 935.5h0M141.5 936h0M1089.5 936h0M1133 936h0M1141 936h0M1238.5 936h0M1328 936h0M250 936.5h0M604 936.5h0M1200.5 936.5h0M1315.5 936.5h0M1329.5 936.5h0M281.5 937h0M285 937h0M1525 937h0M1753.5 937h0M1729.5 937.5h0M1855 937.5h0M1134.5 938h0M1225 938h0M1229.5 938h0M219 938.5h0M250.5 938.5h0M1206 938.5h0M1233 938.5h0M1329.5 938.5h0M1798.5 938.5h0M125.5 939h0M212 939h0M223 939h0M284.5 939h0M1153.5 939h0M1187 939h0M1204 939h0M1300 939h0M247.5 939.5h0M254.5 939.5h0M262 939.5h0M262.5 939.5h0M279.5 939.5h0M1148.5 939.5h0M1151.5 939.5h0M1201 939.5h0M1211 939.5h0M1217.5 939.5h0M1297 939.5h0M1324 939.5h0M1800 939.5h0M1862.5 939.5h0M232.5 940h0M1125.5 940h0M1331 940h0M1336.5 940h0M272.5 940.5h0M1238.5 940.5h0M1242 940.5h0M1278.5 940.5h0M1194.5 941h0M1299 941h0M1323 941h0M1918.5 941h0M265 941.5h0M284.5 941.5h0M1089 941.5h0M1121.5 941.5h0M1894 941.5h0M227 942h0M1111.5 942h0M1116.5 942h0M1119.5 942h0M1130 942h0M1225 942h0M1302.5 942h0M1769.5 942h0M231 942.5h0M543 942.5h0M1188.5 942.5h0M226 943h0M260.5 943h0M1117 943h0M1124 943h0M1212.5 943h0M1297.5 943h0M1777.5 943h0M249 943.5h0M442 943.5h0M1089 943.5h0M1244 943.5h0M1530 943.5h0M1907.5 943.5h0M239 944h0M240 944h0M244 944h0M1113 944h0M1185.5 944h0M1225.5 944h0M157 944.5h0M240 944.5h0M1108 944.5h0M1130 944.5h0M1151.5 944.5h0M1176 944.5h0M1275 944.5h0M237.5 945h0M248 945h0M448 945h0M1080.5 945h0M1182 945h0M1284 945h0M1871.5 945h0M1192 945.5h0M1419 945.5h0M1766.5 945.5h0M1865.5 945.5h0M219.5 946h0M1183.5 946h0M1202 946h0M1245 946h0M284 946.5h0M286.5 946.5h0M1306 946.5h0M225 947h0M702 947h0M1238 947h0M1904 947h0M1920 947h0M228 947.5h0M239.5 947.5h0M1084 947.5h0M1289 947.5h0M149 948h0M219.5 948h0M234.5 948h0M270 948h0M1233 948h0M1802.5 948h0M224 948.5h0M1100.5 948.5h0M226 949h0M278.5 949h0M1087 949h0M1091 949h0M1096 949h0M1207 949h0M1229 949h0M1282 949h0M253 949.5h0M262 949.5h0M1246.5 949.5h0M1310.5 949.5h0M1895.5 949.5h0M1082 950h0M1137 950h0M1232.5 950h0M258.5 950.5h0M261.5 950.5h0M278.5 950.5h0M1080 950.5h0M1188 950.5h0M1345.5 950.5h0M237.5 951h0M273.5 951h0M1186.5 951h0M1201.5 951h0M1209.5 951h0M243.5 951.5h0M1129.5 951.5h0M1100.5 952h0M1150.5 952h0M1208.5 952h0M1247.5 952h0M281 952.5h0M1202 952.5h0M1223.5 952.5h0M1282.5 952.5h0M1795 952.5h0M253 953h0M268 953h0M1124 953h0M1221 953h0M1317.5 953h0M266.5 953.5h0M284 953.5h0M1127.5 953.5h0M1304 953.5h0M1344 953.5h0M246 954h0M1123.5 954h0M1195 954h0M1206 954h0M1274.5 954h0M1919 954h0M281 954.5h0M284 954.5h0M1138.5 954.5h0M1313 954.5h0M1805.5 954.5h0M250.5 955h0M807.5 955h0M1127 955h0M1143 955h0M1219 955h0M214 955.5h0M227.5 955.5h0M230 955.5h0M1109.5 955.5h0M1114.5 955.5h0M1250 955.5h0M1114.5 956.5h0M1623 956.5h0M216 957h0M272 957h0M283.5 957h0M1148.5 957h0M1178.5 957h0M1209 957h0M1212.5 957h0M1346.5 957h0M217 958h0M1122 958h0M1125 958h0M1223 958h0M1228.5 958h0M240 958.5h0M1181.5 958.5h0M168.5 959h0M284.5 959h0M1144.5 959h0M249.5 959.5h0M1134 959.5h0M1152 959.5h0M1227 959.5h0M239 960h0M1787.5 960h0M250.5 960.5h0M253 960.5h0M1212.5 960.5h0M1225.5 960.5h0M1869 960.5h0M116.5 961h0M216 961h0M224 961h0M230 961h0M268 961h0M1912 961h0M273.5 961.5h0M791 961.5h0M1082.5 961.5h0M1089.5 961.5h0M1122 961.5h0M1224.5 961.5h0M1097 962h0M1194 962h0M1209.5 962h0M1244 962h0M1294 962h0M1783 962h0M1910.5 962h0M1122 962.5h0M1201 962.5h0M1219.5 962.5h0M133 963h0M226 963h0M263 963h0M1118.5 963h0M1193.5 963h0M1242 963h0M1873.5 963h0M215.5 963.5h0M248 963.5h0M1154 963.5h0M1213 963.5h0M1214 963.5h0M1774 963.5h0M247.5 964h0M258.5 964h0M1108.5 964h0M1328.5 964h0M219.5 964.5h0M246 964.5h0M282.5 964.5h0M1234 964.5h0M1318.5 964.5h0M268.5 965h0M270 965h0M543 965h0M1234.5 965h0M251.5 965.5h0M1313 965.5h0M1703.5 965.5h0M223.5 966h0M1274 966h0M1304 966h0M1346.5 966h0M1523 966h0M1915 966h0M1101.5 966.5h0M1119.5 966.5h0M225.5 967h0M241 967h0M282 967h0M1100.5 967h0M1233.5 967h0M227 967.5h0M421.5 967.5h0M1101 967.5h0M1190 967.5h0M1197.5 967.5h0M1205 967.5h0M1242 967.5h0M1243.5 967.5h0M1299 967.5h0M269 968h0M280.5 968h0M1131.5 968h0M1779 968.5h0M179 969h0M280 969h0M853.5 969h0M1231.5 969h0M1242 969h0M129 969.5h0M267 969.5h0M1146 969.5h0M1341 969.5h0M1857 969.5h0M1206 970h0M1334.5 970h0M284.5 970.5h0M1389 970.5h0M1923 970.5h0M1924 970.5h0M240 971h0M808.5 971h0M1297 971h0M1085.5 971.5h0M1231.5 971.5h0M1286.5 971.5h0M274.5 972h0M1080.5 972h0M1134 972h0M1242 972h0M1337.5 972h0M242.5 972.5h0M267.5 972.5h0M1218.5 972.5h0M1204.5 973h0M1337 973h0M281 973.5h0M1132 973.5h0M1141.5 973.5h0M1191.5 973.5h0M247.5 974.5h0M265.5 974.5h0M274.5 974.5h0M287 974.5h0M1188 974.5h0M1240 974.5h0M1322.5 974.5h0M1093.5 975h0M1116.5 975h0M1285 975h0M1911 975h0M242.5 975.5h0M1101.5 976h0M1179.5 976h0M1864 976h0M1895.5 976h0M217.5 976.5h0M1289.5 976.5h0M1670 976.5h0M232 977h0M1123.5 977h0M1134.5 977h0M1201 977h0M1298 977h0M1890 977h0M175 977.5h0M239 977.5h0M1116.5 977.5h0M1286.5 977.5h0M1310.5 977.5h0M147 978h0M216.5 978h0M260.5 978h0M1284.5 978h0M1899 978h0M1900.5 978h0M250 978.5h0M1121.5 978.5h0M1276 978.5h0M1316 978.5h0M1778.5 978.5h0M1892 978.5h0M253 979h0M838 979h0M1226 979h0M1247 979h0M860.5 979.5h0M1185.5 979.5h0M1223.5 979.5h0M1506.5 979.5h0M1791.5 979.5h0M267 980h0M1096 980h0M231 980.5h0M1131 980.5h0M1138.5 980.5h0M1195 980.5h0M1302 980.5h0M1310 980.5h0M235 981h0M240.5 981h0M1186.5 981h0M1904 981h0M284.5 981.5h0M1120.5 981.5h0M1273.5 981.5h0M1315.5 981.5h0M1108 982h0M1114 982h0M1196 982h0M1237.5 982h0M1234 982.5h0M161 983h0M1188.5 983h0M239 983.5h0M267 983.5h0M1092 983.5h0M1177.5 983.5h0M1314 983.5h0M1856 983.5h0M1083 984.5h0M1101.5 984.5h0M1198 984.5h0M1206 984.5h0M1826 984.5h0M237 985h0M279.5 985h0M1289 985.5h0M241.5 986h0M254 986h0M279 986h0M1191.5 986h0M1199 986h0M1275.5 986h0M1923.5 986h0M265.5 986.5h0M1148.5 986.5h0M279.5 987h0M1244 987h0M1280 987h0M1414.5 987h0M232 987.5h0M282 987.5h0M1081.5 987.5h0M1136 987.5h0M1138 987.5h0M1205 988h0M1324 988h0M232 988.5h0M1225 988.5h0M1337.5 988.5h0M1342 988.5h0M860.5 989h0M1223.5 989h0M214 989.5h0M227 989.5h0M248 989.5h0M1106.5 989.5h0M1136.5 989.5h0M1193 989.5h0M1854.5 989.5h0M1719.5 990h0M1094.5 990.5h0M1095.5 990.5h0M1189 990.5h0M850 991h0M1215.5 991h0M1238 991h0M233 991.5h0M1112 991.5h0M1318.5 991.5h0M1312 992.5h0M1344.5 992.5h0M1894.5 992.5h0M217.5 993h0M240 993h0M1091 993h0M1131 993h0M1200.5 993h0M1872 993h0M1116.5 993.5h0M1239 993.5h0M1297 994h0M1875 994h0M220.5 994.5h0M273.5 994.5h0M833 994.5h0M1121.5 994.5h0M1139 994.5h0M1202 994.5h0M1922 994.5h0M224 995h0M256 995h0M258.5 995h0M269.5 995h0M1145.5 995h0M1288 995h0M1231 995.5h0M1296.5 995.5h0M1345 995.5h0M1118 996h0M1212 996h0M1281.5 996h0M1865.5 996h0M222.5 996.5h0M1218.5 996.5h0M1245.5 996.5h0M276 997h0M1089 997h0M1178 997h0M1201 997h0M1279 997h0M1913.5 997h0M252.5 997.5h0M1317.5 997.5h0M1322 997.5h0M256 998h0M280 998h0M1214.5 998h0M250 998.5h0M1206.5 998.5h0M1375 998.5h0M1673.5 998.5h0M826.5 999h0M1297 999h0M231 999.5h0M262.5 999.5h0M1389.5 999.5h0M238 1000h0M1126.5 1000h0M1180 1000h0M1098 1000.5h0M1129.5 1000.5h0M1237 1000.5h0M1236 1001h0M1249 1001h0M252.5 1001.5h0M1152.5 1002h0M1715.5 1002h0M1917 1002h0M272.5 1002.5h0M1210 1002.5h0M222.5 1004h0M1197 1004h0M1336 1004h0M1908 1004h0M235.5 1004.5h0M256 1004.5h0M1280 1004.5h0M1082.5 1005h0M264.5 1006h0M1190.5 1006h0M1873.5 1006h0M233 1006.5h0M282 1006.5h0M1862 1006.5h0M273.5 1007.5h0M810 1007.5h0M260.5 1008.5h0M1205 1008.5h0M1089.5 1009h0M1306 1009h0M1867 1009h0M213.5 1009.5h0M258 1009.5h0M1086.5 1009.5h0M1247 1009.5h0M275 1010h0M1193 1010h0M1195 1010h0M1206.5 1010h0M1279.5 1010h0M1303 1010h0M1868 1010h0M1099.5 1010.5h0M1224 1010.5h0M1324 1011.5h0M1922.5 1011.5h0M1324.5 1012.5h0M228.5 1013h0M1127.5 1013h0M1203.5 1013h0M239 1013.5h0M212 1014h0M256 1014h0M1317.5 1014h0M1128 1014.5h0M1879 1014.5h0M1179.5 1016h0M1271.5 1016h0M1921 1016h0M240 1016.5h0M249 1016.5h0M1313.5 1016.5h0M1192 1017h0M1695.5 1017h0M1103.5 1017.5h0M1245.5 1017.5h0M1341.5 1018h0M231 1018.5h0M1227 1018.5h0M1231 1018.5h0M264.5 1019h0M1129.5 1019h0M1192 1019h0M1222 1019h0M1183 1019.5h0M1279 1019.5h0M1296.5 1019.5h0M1317.5 1019.5h0M1340.5 1019.5h0M1343.5 1019.5h0M256 1020h0M1276.5 1020.5h0M1904 1020.5h0M233.5 1021h0M1185 1021h0M1149 1021.5h0M1893 1021.5h0M285.5 1022h0M1206 1022h0M1241 1022h0M1132 1023h0M1199.5 1023h0M1225.5 1023h0M1900 1023h0M1178.5 1024h0M265.5 1024.5h0M1325.5 1024.5h0M1889.5 1024.5h0M1901 1025.5h0M213 1026h0M267 1026h0M1849.5 1026h0M1308 1026.5h0M1210 1027h0M1080.5 1028h0M1183 1029h0M1209.5 1029.5h0M1234.5 1030h0M1859 1030h0M281 1031h0M264.5 1032h0M1224 1032h0M1271.5 1032h0M1901.5 1032h0M1106.5 1032.5h0M1134 1033h0M229.5 1033.5h0M1096 1033.5h0M1095 1034h0M1198 1034h0M1849.5 1034h0M1304.5 1034.5h0M1912 1034.5h0M1921.5 1034.5h0M1136.5 1035h0M1101 1035.5h0M1198 1035.5h0M1329.5 1035.5h0M1335.5 1035.5h0M1079.5 1036h0M1271.5 1036h0M1180.5 1036.5h0M858.5 1037h0M1095.5 1037h0M1184.5 1037h0M261 1037.5h0M1237 1037.5h0M1090.5 1038h0M241.5 1038.5h0M1183.5 1040h0M1855 1040h0M1223.5 1040.5h0M1214.5 1041.5h0M261.5 1042h0M1921.5 1042h0M1150 1043h0M1292 1043.5h0M1895.5 1044h0M1080 1044.5h0M1181.5 1044.5h0M1225 1044.5h0M270.5 1045h0M1179 1045h0M1858.5 1045h0M1175 1045.5h0M1082 1046.5h0M253.5 1048h0M1214 1048h0M273.5 1048.5h0M1113 1049.5h0M1140.5 1049.5h0M217.5 1050h0M1179.5 1050h0M1219.5 1050h0M1346 1051h0M259 1052h0M1288.5 1052h0M1123 1052.5h0M1857 1052.5h0M1109.5 1053.5h0M1294.5 1053.5h0M221.5 1054h0M1092.5 1054h0M1885.5 1054h0M1271.5 1055h0M1305.5 1055h0M1311.5 1057h0M1186.5 1057.5h0M1273.5 1058h0M1087.5 1059.5h0M1346 1061h0M1108.5 1061.5h0M1340 1062.5h0M1108.5 1064h0M1308.5 1064h0M1913.5 1064h0M1323.5 1064.5h0M1894.5 1064.5h0M1101.5 1065h0M1874 1065h0M1143 1065.5h0M1865 1065.5h0M1309 1067h0M1294 1068h0M1881.5 1068h0M1091.5 1068.5h0M1246 1068.5h0M1297 1068.5h0M1889 1070h0M1920 1070h0M1271.5 1072h0M1321 1072h0M1093 1073h0M1346.5 1073h0M1178 1073.5h0M1132 1074h0M1904.5 1074.5h0M1321.5 1075h0M1215 1075.5h0M1878 1075.5h0M1331 1076h0M1918.5 1076h0M1124 1076.5h0M1924 1076.5h0M1862 1077h0M1849.5 1078h0M1922.5 1078h0M1249.5 1078.5h0M1896.5 1078.5h0M1137 1079.5h0M1287 1079.5h0M1902.5 1079.5h0M1212 1080.5h0M1894.5 1081h0M1867.5 1081.5h0M1894 1083h0M1869 1083.5h0M1911.5 1083.5h0M1277 1085h0M1913.5 1086h0M1924.5 1086.5h0M1910 1087h0M1213 1087.5h0M1862 1087.5h0M1918.5 1087.5h0M1860 1088.5h0M1896.5 1089.5h0M1215.5 1091h0M1889 1093h0M1919 1093h0M1200.5 1093.5h0M1880 1094.5h0M1901 1095h0M1135.5 1095.5h0M1291 1095.5h0M1885.5 1095.5h0M1871 1096h0M1183 1096.5h0M1861 1096.5h0M1281.5 1097.5h0M1893.5 1097.5h0M1131 1099.5h0M1849.5 1100h0M1908 1100.5h0M1250.5 1101h0M1888.5 1101h0M1860.5 1102.5h0M1136 1103h0M1888.5 1103h0M1136.5 1104h0M1323 1104.5h0M1863.5 1105h0M1282.5 1105.5h0M1195 1107.5h0M1896 1108h0M1869.5 1109h0M1325.5 1111.5h0M1906 1111.5h0M1877.5 1112h0M1903 1113h0M1865 1113.5h0M1879.5 1113.5h0M1854 1114.5h0M1910.5 1114.5h0M1320.5 1115.5h0M1224 1116h0M1153 1118.5h0M1279 1119.5h0M1137.5 1121h0M1913.5 1121h0M1917.5 1121h0M1894 1123h0M1915.5 1123h0M1294 1124.5h0M1869 1124.5h0M1909 1125h0M1310.5 1125.5h0M1854.5 1125.5h0M1907.5 1126h0M1299.5 1127h0M1861.5 1127h0M1862.5 1127h0M1851.5 1127.5h0M1904.5 1127.5h0M1923.5 1127.5h0M1892.5 1128h0M1884.5 1128.5h0M1326 1130h0M1871.5 1130h0M1875.5 1130h0M1855 1130.5h0M1869 1130.5h0M1877.5 1130.5h0M1327.5 1131h0M1889 1131.5h0M1893 1131.5h0M1901.5 1131.5h0M1244.5 1132.5h0M1880.5 1132.5h0M1303 1133h0M1903 1133h0M1866 1133.5h0M1905.5 1134h0M1236 1134.5h0M1854.5 1134.5h0M1860.5 1135h0M1849.5 1135.5h0M1895.5 1135.5h0M1891.5 1136.5h0M1863.5 1137h0M1911.5 1137h0M1912.5 1137h0M1292.5 1138h0M1872 1138.5h0M1850 1139h0M1315.5 1140h0M1885 1140h0M1892 1140h0M1923.5 1140h0M1878.5 1140.5h0M1862.5 1141h0M1899 1141.5h0M1223 1142h0M1875 1142h0M1195 1142.5h0M1910 1142.5h0M1309 1143h0M1910 1143h0M1123.5 1144h0M1868 1144.5h0M1914.5 1145h0M1922 1146h0M1866.5 1146.5h0M1896.5 1146.5h0M1903 1146.5h0M1857 1147h0M1910.5 1148h0M1861 1149h0M1873.5 1149h0M1899 1149h0M1894.5 1149.5h0M1190 1150h0M1865 1150h0M1886 1150h0M1916.5 1150h0M1277 1150.5h0M1879 1150.5h0M1891 1151h0M1246.5 1151.5h0M1310.5 1151.5h0M1890 1152h0M1320 1152.5h0M1877 1153h0M1907.5 1154.5h0M1882.5 1155h0M1894 1155h0M1915.5 1155h0M1898 1155.5h0M1870.5 1157h0M1904 1158.5h0M1335.5 1159h0M1918 1159h0M1917.5 1160.5h0M1849.5 1161h0M1855 1161h0M1882.5 1161.5h0M1922.5 1162.5h0M1856.5 1163h0M1902.5 1163h0M1315 1164h0M1868 1164h0M1908 1164h0M1914.5 1164h0M1921.5 1164.5h0M1908.5 1165.5h0M1894 1166h0M1894.5 1166h0M1900.5 1166.5h0M1915 1166.5h0M1916 1167h0M1917.5 1167h0M1919 1167h0M1879.5 1168h0M1893.5 1168h0M1862 1169h0M1865.5 1169h0M1896.5 1169.5h0M1902 1169.5h0M1900 1170h0M1854 1171h0M1855 1171h0M1916 1171.5h0M1861.5 1172h0M1866 1172h0M1857.5 1172.5h0M1923 1172.5h0M1859.5 1174h0M1865 1174h0M1873 1174h0M1905 1174h0M1850 1174.5h0M1866.5 1174.5h0M1918 1174.5h0M1867 1175.5h0M1919.5 1175.5h0M1896.5 1176.5h0M1903.5 1176.5h0M1879.5 1177h0M1889 1177h0M1901 1177.5h0M1910 1177.5h0M1301 1178h0M1852 1178h0M1857 1178h0M1892 1178.5h0M1331 1179.5h0M1889 1179.5h0M1852 1180.5h0M1923 1181h0M1883.5 1181.5h0M1911.5 1182h0M1873 1182.5h0M1857.5 1183h0M1882.5 1183h0M1884 1183h0M1917.5 1183h0M1855.5 1183.5h0M1905 1183.5h0M1856.5 1184h0M1887 1184h0M1906.5 1184.5h0M1882.5 1185h0M1878 1186.5h0M1867.5 1187h0M1877.5 1187h0M1893.5 1187h0M1894.5 1187.5h0M1904.5 1187.5h0M1918.5 1187.5h0M1851 1188h0M1880 1188.5h0M1916 1188.5h0M1909.5 1189h0M1915.5 1189.5h0M1909.5 1190h0M1919 1190h0M1886 1190.5h0M1890.5 1191h0M1853.5 1191.5h0M1882.5 1191.5h0M1875.5 1192h0M1898.5 1192h0M1904.5 1192h0M1868 1193h0M1873.5 1193h0M1852.5 1193.5h0M1905.5 1193.5h0M1855 1194h0M1855 1194.5h0M1914.5 1194.5h0M1863 1195h0M1897 1195h0M1905.5 1195h0M1909 1195h0M1921 1195h0M1923.5 1195h0M1861.5 1195.5h0M1869.5 1195.5h0M1884 1196h0M1885 1196.5h0M1897.5 1197h0M1917.5 1197.5h0M1871 1198h0M1911 1198h0M1912.5 1198h0M1898.5 1198.5h0M1894 1199.5h0M1870 1200h0M1879 1200.5h0M1886 1200.5h0M1901.5 1201h0M1923 1201h0M1866.5 1201.5h0M1913.5 1201.5h0M1860 1202h0M1884.5 1202h0M1911.5 1202.5h0M1852 1203h0M1855.5 1203.5h0M1875 1203.5h0M1918.5 1204h0M1853.5 1204.5h0M1915.5 1204.5h0M1853 1205h0M1856 1205h0M1906 1205h0M1864.5 1206h0M1870.5 1206h0M1883 1206h0M1896.5 1206h0M1880 1206.5h0M1888.5 1206.5h0M1893 1206.5h0M1925 1206.5h0M1867.5 1207h0M1880 1207h0M1907 1207h0M1850.5 1207.5h0M1856.5 1207.5h0M1857 1207.5h0M1887.5 1207.5h0M1917.5 1207.5h0M1919 1208h0M1874.5 1208.5h0M1879 1208.5h0M1892.5 1208.5h0M1900 1208.5h0M1866 1209h0M1903.5 1209h0M1915.5 1209h0M1924 1209h0M1889.5 1210h0M1857 1210.5h0M1894 1210.5h0M1872.5 1211h0M1899 1211h0M1911 1211h0M1851.5 1211.5h0M1861 1211.5h0M1876 1211.5h0M1887.5 1211.5h0M1850.5 1212h0M1864.5 1212.5h0M1880 1213h0M1895 1213h0M1912 1213h0M1850.5 1213.5h0M1877 1213.5h0M1907 1213.5h0M1918.5 1213.5h0M1855.5 1214h0M1923.5 1214h0M1888.5 1214.5h0M1860 1215h0M1871 1215h0M1896 1215h0M1903 1215h0M1924 1215h0M1891.5 1215.5h0M1852.5 1216h0M1901 1216h0M1883 1216.5h0M1876.5 1217h0M1866.5 1217.5h0M1913 1217.5h0M1879 1218h0M1888.5 1218h0M1905 1218.5h0M1918 1218.5h0M1922.5 1218.5h0M1857.5 1219h0M1863 1219h0M1882 1219h0M1858.5 1219.5h0M1908 1219.5h0M1852.5 1220h0M1895 1220h0M1885.5 1220.5h0M1893.5 1220.5h0M1896.5 1220.5h0M1900.5 1220.5h0M1909 1220.5h0M1920.5 1220.5h0M1879.5 1221.5h0M1917 1221.5h0M1924.5 1221.5h0M1868.5 1222h0M1874 1222h0M1898 1222h0M1852.5 1222.5h0M1889.5 1222.5h0M1923 1222.5h0M1856.5 1223h0M1859.5 1223h0M1869 1223h0M1887 1223h0M1893 1224h0M1911 1224.5h0M1904.5 1225h0M1907 1225h0M1922.5 1225h0M1857.5 1225.5h0M1866.5 1225.5h0M1876 1225.5h0M1876.5 1225.5h0M1883.5 1225.5h0M1901.5 1225.5h0M1902.5 1225.5h0M1873.5 1226h0M1888 1226h0M1920.5 1226h0M1862 1226.5h0M1879.5 1226.5h0M1917 1226.5h0M1853.5 1227h0M1863 1227.5h0M1874.5 1227.5h0M1876 1227.5h0M1884.5 1227.5h0M1871 1228h0M1851 1228.5h0M1860 1228.5h0M1892 1228.5h0M1907.5 1228.5h0M1913 1228.5h0M1904 1229h0M1850 1229.5h0M1876 1229.5h0M1867 1230h0M1896 1230h0M1877.5 1230.5h0M1903 1230.5h0M1921 1231h0M1917.5 1231.5h0M1919 1231.5h0M1850.5 1232h0M1854 1232h0M1923.5 1232h0M1860 1232.5h0M1882.5 1232.5h0M1902 1232.5h0M1906.5 1232.5h0M1910 1232.5h0M1869.5 1233h0M1876.5 1233h0M1914.5 1233.5h0M1918 1233.5h0M1851 1234h0M1887.5 1234h0M1864.5 1235h0M1880.5 1235.5h0M1891 1235.5h0M1903 1235.5h0M1924 1235.5h0M1914 1236h0M1916.5 1236h0M1917.5 1236h0M1921.5 1236h0M1854 1236.5h0M1861.5 1236.5h0M1908 1236.5h0M1885 1237h0M1895 1237h0M1899.5 1237h0M1905.5 1237h0M1849.5 1237.5h0M1898 1237.5h0M1911.5 1237.5h0M1853 1238h0M1855.5 1238h0M1868 1238h0M1873 1238h0M1889 1238h0M1895.5 1238h0M1870.5 1238.5h0M1884 1239.5h0M1900.5 1239.5h0M1916.5 1239.5h0M1865 1240h0M1877.5 1240h0M1882 1240h0M1850.5 1240.5h0M1862 1240.5h0M1875 1240.5h0M1916.5 1240.5h0M1922.5 1240.5h0M1885.5 1241h0M1868 1242h0M1892.5 1242h0M1909.5 1242h0M1924.5 1242.5h0M1852 1243h0M1923 1243h0M1859 1243.5h0M1882.5 1243.5h0M1906.5 1243.5h0M1870.5 1244h0M1899.5 1244h0M1849.5 1244.5h0M1890 1244.5h0M1852 1245h0M1910 1245h0M1913.5 1245h0M1865.5 1246.5h0M1913.5 1246.5h0M1861.5 1247h0M1878 1247h0M1885.5 1247h0M1854 1247.5h0M1865.5 1247.5h0M1875.5 1247.5h0M1897 1247.5h0M1906.5 1247.5h0M1907.5 1247.5h0M1918 1247.5h0M1901.5 1248h0M1908.5 1248h0M1893 1248.5h0M1855.5 1249h0M1876 1249h0M1881.5 1249h0M1872.5 1249.5h0M1893.5 1249.5h0M1914.5 1250h0M1893 1250.5h0M1924 1250.5h0M1850.5 1251h0M1885 1251h0M1861 1251.5h0M1869.5 1252h0M1852 1252.5h0M1855.5 1252.5h0M1888 1252.5h0M1920.5 1252.5h0M1858.5 1253h0M1920.5 1253h0M1924 1253h0M1871.5 1253.5h0M1874.5 1253.5h0M1887.5 1253.5h0M1896.5 1253.5h0M1901.5 1253.5h0M1908 1253.5h0M1877 1254h0M1880.5 1254.5h0M1900.5 1254.5h0M1858 1255h0M1867.5 1255h0M1871.5 1255h0M1860 1255.5h0M1911 1255.5h0M1878 1256h0M1887 1256h0M1916.5 1256h0M1857.5 1256.5h0M1891 1256.5h0M1899 1256.5h0M1905 1256.5h0M1894 1257h0M1913 1257h0M1854.5 1257.5h0M1889 1257.5h0M1890 1257.5h0M1891 1257.5h0M1924.5 1257.5h0M1925 1257.5h0M1914 1258h0M1872.5 1258.5h0M1874 1258.5h0M1851 1259h0M1859 1259h0M1864.5 1259h0M1886 1259h0M1894.5 1259h0M1909 1259h0M1918.5 1259h0M1922.5 1259h0M1882 1259.5h0M1882.5 1259.5h0M1921 1259.5h0M1868 1260.5h0M1895.5 1260.5h0M1861 1261h0M1875.5 1261h0M1898.5 1261.5h0M1915 1261.5h0M1924 1261.5h0M1852 1262h0M1906.5 1262h0M1912.5 1262h0M1921 1262h0M1857.5 1262.5h0M1862 1262.5h0M1901.5 1262.5h0M1890 1263h0M1914.5 1263h0M1879 1263.5h0M1885 1263.5h0M1860.5 1265h0M1894 1265h0M1914 1265h0M1921 1265h0M1868.5 1265.5h0M1874 1266h0M1907.5 1266h0M1863.5 1266.5h0M1922.5 1267h0M1852 1267.5h0M1887 1267.5h0M1910.5 1268h0M1919.5 1268h0M1851 1268.5h0M1882 1268.5h0M1920 1268.5h0M1874.5 1269h0M1899 1269h0M1918 1269h0M1858.5 1269.5h0M1907.5 1269.5h0M1913.5 1269.5h0M1866.5 1270h0M1870 1270h0M1894 1270h0M1857 1270.5h0M1889 1270.5h0M1904 1270.5h0M1896 1271h0M1851 1271.5h0M1862.5 1271.5h0M1877.5 1272.5h0M1909 1272.5h0M1859.5 1273h0M1899 1273h0M1922 1273h0M1906.5 1273.5h0M1884 1274h0M1892.5 1274h0M1906 1274.5h0M1911.5 1274.5h0M1877 1275h0M1890.5 1275h0M1865.5 1275.5h0M1873.5 1275.5h0M1918 1275.5h0M1856 1276h0M1866.5 1276.5h0M1881.5 1276.5h0M1891.5 1276.5h0M1923.5 1276.5h0M1851.5 1277h0M1897 1277h0M1905 1277h0M1917 1277.5h0M1889.5 1278h0M1861 1279h0M1912 1279h0M1872.5 1279.5h0M1883.5 1279.5h0M1900 1279.5h0M1906.5 1279.5h0M1915 1279.5h0M1856 1280h0M1924 1280h0M1879.5 1280.5h0M1890 1280.5h0M1915.5 1280.5h0M1922 1280.5h0M1854.5 1281h0M1901.5 1281h0M1866.5 1281.5h0M1892 1281.5h0M1915 1281.5h0M1866.5 1282h0M1889 1282h0M1917.5 1282h0M1883.5 1282.5h0M1890 1282.5h0M1907.5 1283h0M1872.5 1283.5h0M1884 1283.5h0M1895 1283.5h0M1859.5 1284h0M1896 1284h0M1913 1284h0M1878 1284.5h0M1859 1285h0M1855.5 1285.5h0M1899.5 1285.5h0M1862.5 1286.5h0M1898.5 1286.5h0M1851 1287h0M1909 1287h0M1920 1287h0M1859.5 1288h0M1889.5 1288h0M1875 1288.5h0M1899.5 1288.5h0M1850 1289h0M1864 1289h0M1892.5 1289h0M1896 1289h0M1853.5 1289.5h0M1918.5 1289.5h0M1876 1290h0M1882.5 1290h0M1857 1290.5h0M1920.5 1290.5h0M1923.5 1290.5h0M1880 1291h0M1858 1291.5h0M1886.5 1292h0M1858 1292.5h0M1870 1292.5h0M1918 1292.5h0M1870 1293h0M1924.5 1293h0M1914.5 1293.5h0M1878.5 1294h0M1911.5 1294.5h0M1918 1294.5h0M1924 1295h0M1873.5 1295.5h0M1884.5 1295.5h0M1861.5 1296h0M1868 1296h0M1883 1296h0M1892.5 1296h0M1916.5 1296h0M1864 1297h0M1875 1297.5h0M1888.5 1297.5h0M1896 1298h0M1866 1298.5h0M1893 1298.5h0M1897.5 1300h0M1911 1300h0M1853 1301h0M1888.5 1301h0M1904.5 1301h0M1857 1301.5h0M1871 1302h0M1913.5 1302.5h0M1859 1303h0M1884 1303h0M1902.5 1303h0M1911 1303h0M1856 1304h0M1864.5 1304.5h0M1870.5 1305h0M1919.5 1305.5h0M1888.5 1306h0M1892.5 1306h0M1872.5 1306.5h0M1914.5 1306.5h0M1925 1306.5h0M1908 1307h0M1893.5 1308h0M1882.5 1308.5h0M1911 1309h0M1853.5 1309.5h0M1879.5 1309.5h0M1906.5 1309.5h0M1893 1310h0M1915 1311h0M1889 1311.5h0M1903 1311.5h0M1903.5 1312h0M1915 1312h0"/>
<g stroke="#000" stroke-width="4" fill="none">
<path d="M95 91V1382"/>
<path d="M93 1380H2043"/>
<path d="M80.4 1374H93"/>
<path d="M80.4 1041.7H93"/>
<path d="M80.4 709.3H93"/>
<path d="M80.4 377H93"/>
<path d="M152.8 1380V1394.2"/>
<path d="M249.2 1380V1394.2"/>
<path d="M345.5 1380V1394.2"/>
<path d="M441.8 1380V1394.2"/>
<path d="M538.2 1380V1394.2"/>
<path d="M634.5 1380V1394.2"/>
<path d="M730.9 1380V1394.2"/>
<path d="M827.2 1380V1394.2"/>
<path d="M923.6 1380V1394.2"/>
<path d="M1020 1380V1394.2"/>
<path d="M1116.3 1380V1394.2"/>
<path d="M1212.6 1380V1394.2"/>
<path d="M1309 1380V1394.2"/>
<path d="M1405.3 1380V1394.2"/>
<path d="M1501.7 1380V1394.2"/>
<path d="M1598 1380V1394.2"/>
<path d="M1694.4 1380V1394.2"/>
<path d="M1790.7 1380V1394.2"/>
<path d="M1887.1 1380V1394.2"/>
<path d="M1983.4 1380V1394.2"/>
</g>
<text x="69" y="1392.6" font-size="50" text-anchor="end">0.0</text>
<text x="69" y="1060.3" font-size="50" text-anchor="end">0.2</text>
<text x="69" y="727.9" font-size="50" text-anchor="end">0.4</text>
<text x="69" y="395.6" font-size="50" text-anchor="end">0.6</text>
<text transform="translate(171 1406.6) rotate(-90)" font-size="50" text-anchor="end">B</text>
<text transform="translate(267.4 1406.6) rotate(-90)" font-size="50" text-anchor="end">CD14 Monocyte</text>
<text transform="translate(363.7 1406.6) rotate(-90)" font-size="50" text-anchor="end">CD16 Monocyte</text>
<text transform="translate(460 1406.6) rotate(-90)" font-size="50" text-anchor="end">CD4m T</text>
<text transform="translate(556.4 1406.6) rotate(-90)" font-size="50" text-anchor="end">CD4n T</text>
<text transform="translate(652.8 1406.6) rotate(-90)" font-size="50" text-anchor="end">CD8m T</text>
<text transform="translate(749.1 1406.6) rotate(-90)" font-size="50" text-anchor="end">DC</text>
<text transform="translate(845.5 1406.6) rotate(-90)" font-size="50" text-anchor="end">Developing Neutrophil</text>
<text transform="translate(941.8 1406.6) rotate(-90)" font-size="50" text-anchor="end">gd T</text>
<text transform="translate(1038.2 1406.6) rotate(-90)" font-size="50" text-anchor="end">IFN−stim CD4 T</text>
<text transform="translate(1134.5 1406.6) rotate(-90)" font-size="50" text-anchor="end">IgA PB</text>
<text transform="translate(1230.8 1406.6) rotate(-90)" font-size="50" text-anchor="end">IgG PB</text>
<text transform="translate(1327.2 1406.6) rotate(-90)" font-size="50" text-anchor="end">IgM PB</text>
<text transform="translate(1423.5 1406.6) rotate(-90)" font-size="50" text-anchor="end">Neutrophil</text>
<text transform="translate(1519.9 1406.6) rotate(-90)" font-size="50" text-anchor="end">NK</text>
<text transform="translate(1616.2 1406.6) rotate(-90)" font-size="50" text-anchor="end">pDC</text>
<text transform="translate(1712.6 1406.6) rotate(-90)" font-size="50" text-anchor="end">Platelet</text>
<text transform="translate(1808.9 1406.6) rotate(-90)" font-size="50" text-anchor="end">Proliferative Lymphocytes</text>
<text transform="translate(1905.3 1406.6) rotate(-90)" font-size="50" text-anchor="end">RBC</text>
<text transform="translate(2001.6 1406.6) rotate(-90)" font-size="50" text-anchor="end">SC &amp; Eosinophil</text>
<text x="1068" y="49.2" font-size="66.6" font-weight="bold" text-anchor="middle">Complexity</text>
</svg></body></html>
